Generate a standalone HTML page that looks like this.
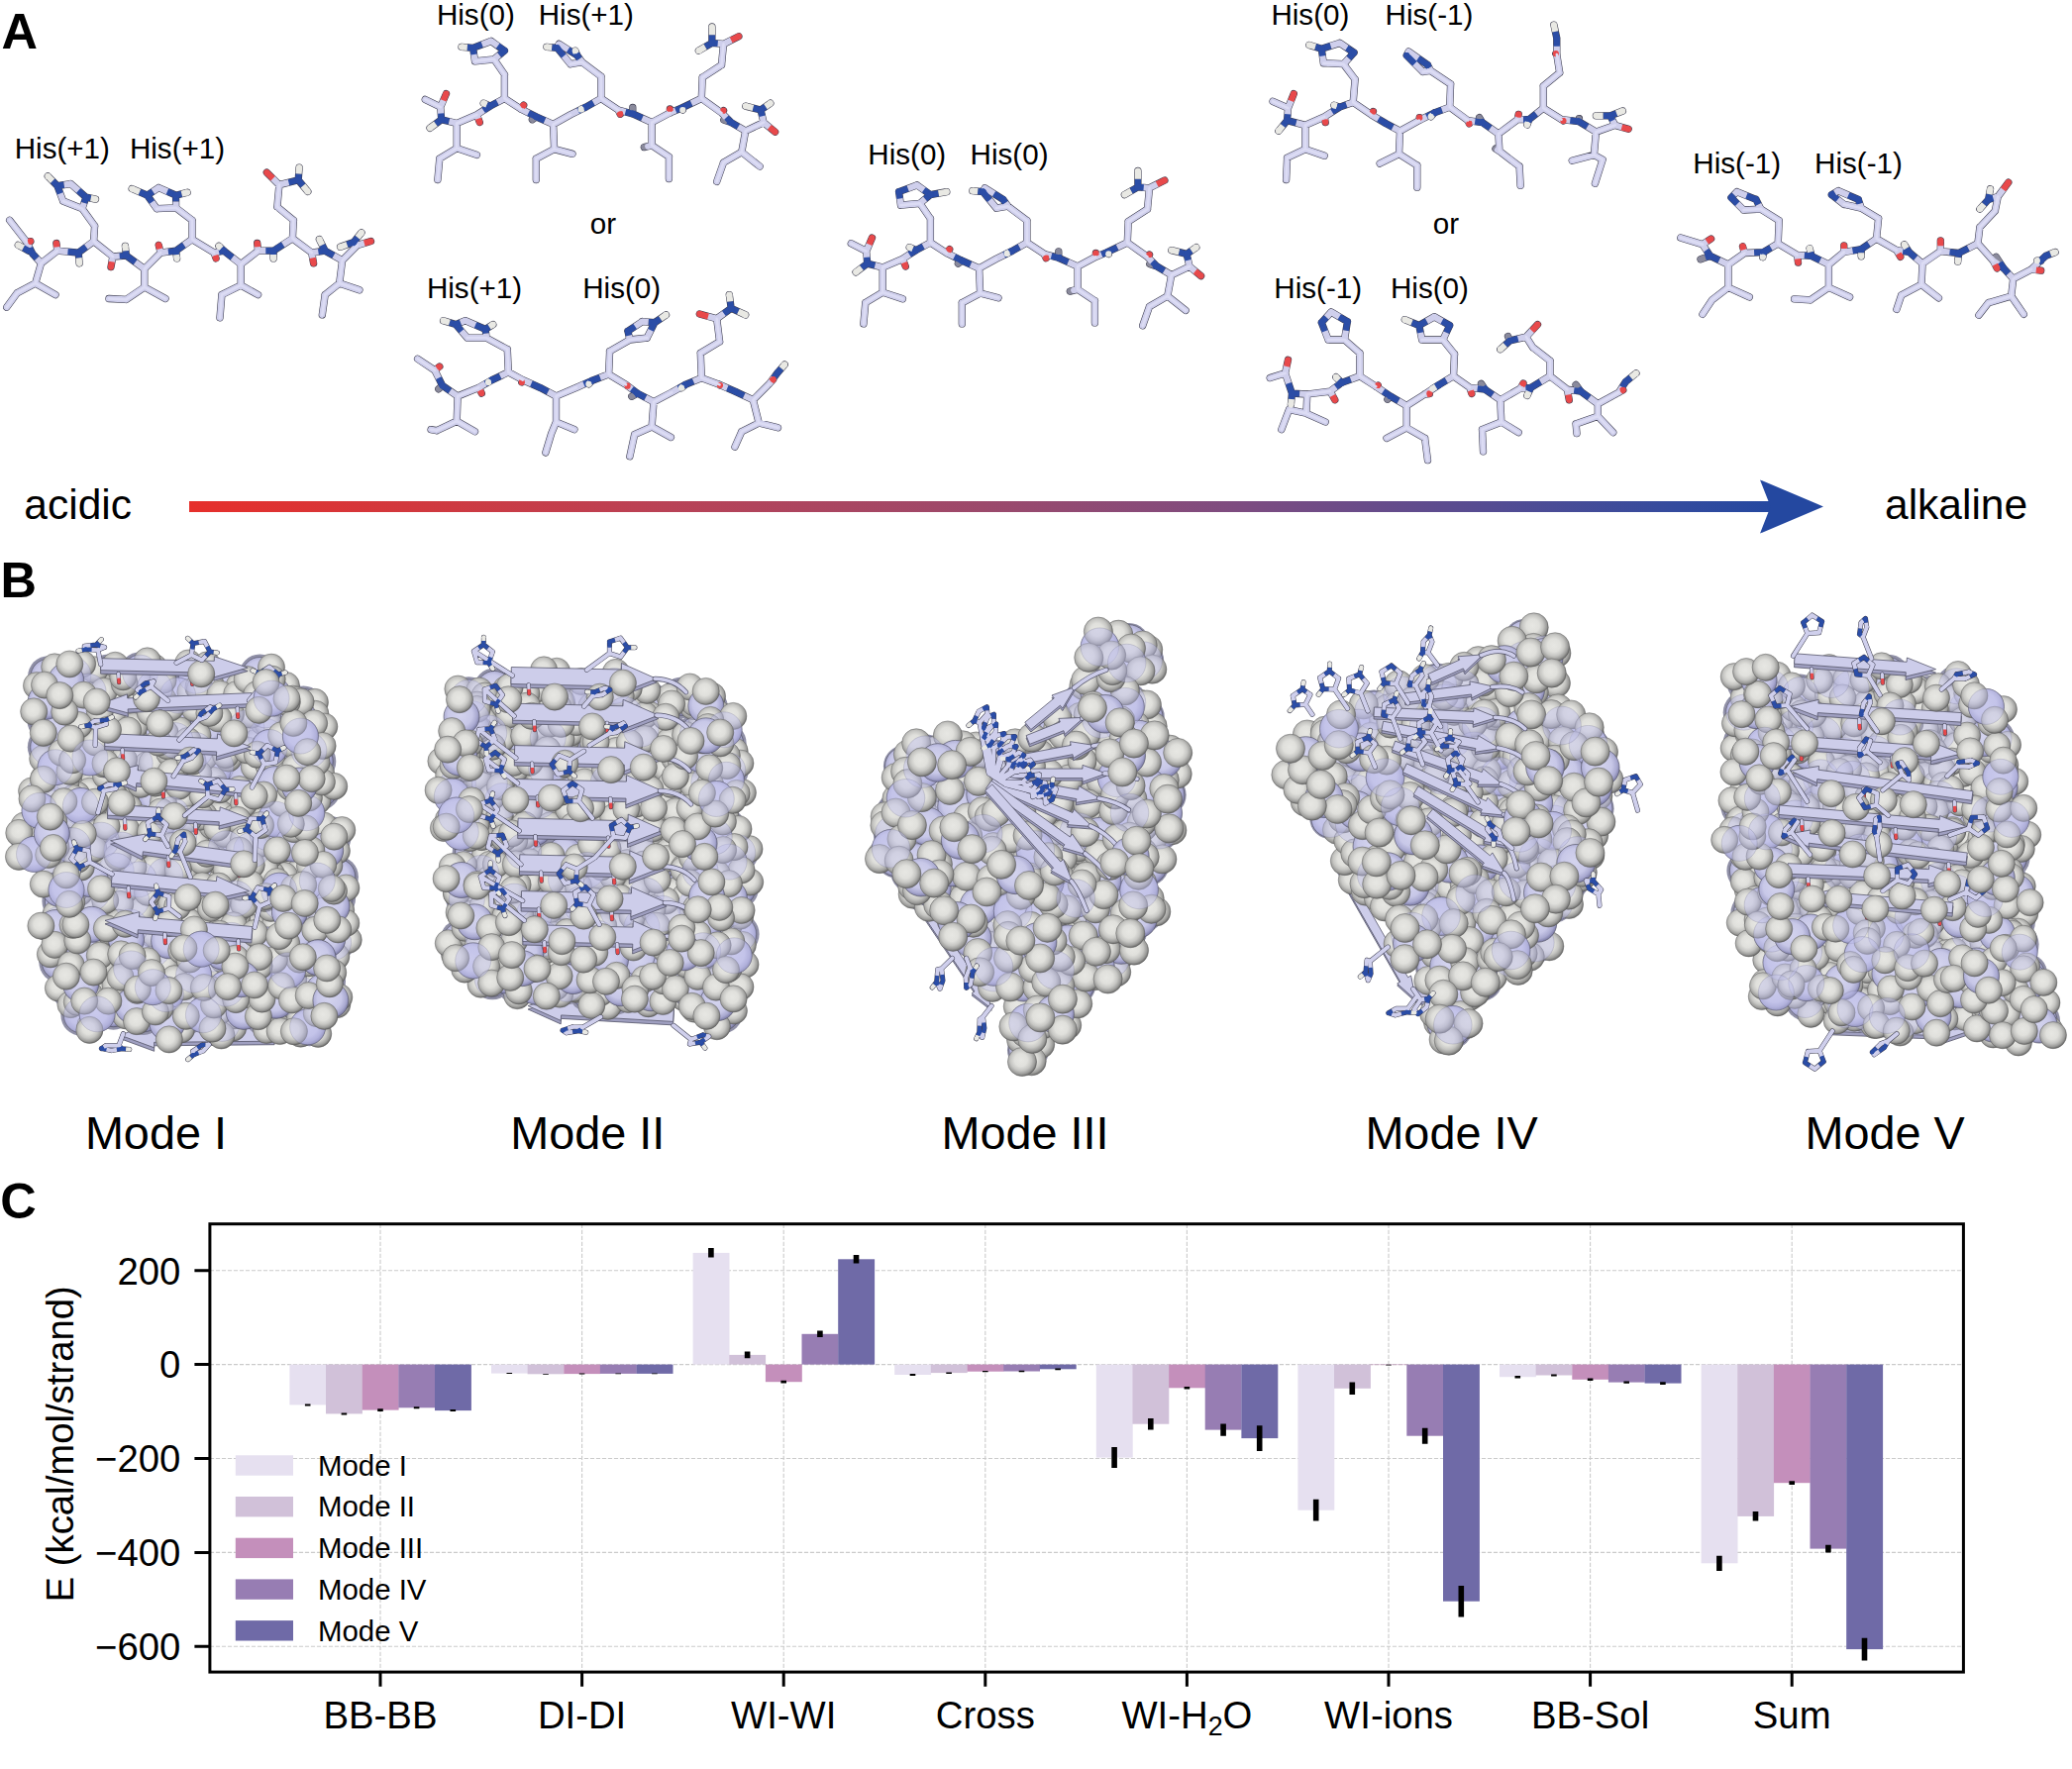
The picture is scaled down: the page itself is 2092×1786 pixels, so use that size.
<!DOCTYPE html>
<html><head><meta charset="utf-8"><title>Figure</title>
<style>html,body{margin:0;padding:0;background:#fff}svg{display:block}text{font-family:"Liberation Sans",Arial,Helvetica,sans-serif;fill:#000}.w circle{fill:url(#sg);stroke:#505050;stroke-opacity:.7;stroke-width:.6px}.u circle{fill:#bebeea;fill-opacity:.44;stroke:#5a5a7a;stroke-opacity:.35;stroke-width:.6px}.v circle{fill:url(#sl);stroke:#4a4a5a;stroke-width:.6px}.b{font-weight:bold;font-size:50.5px}.h{font-size:29.6px}.m{font-size:46.8px}.t{font-size:38.3px}.l{font-size:29.4px}.p{font-size:42.5px}</style></head><body>
<svg width="2092" height="1786" viewBox="0 0 2092 1786">
<defs><linearGradient id="ag" x1="0" x2="1" y1="0" y2="0"><stop offset="0" stop-color="#e62f2b"/><stop offset=".15" stop-color="#d0393f"/><stop offset=".3" stop-color="#b94256"/><stop offset=".5" stop-color="#9c496b"/><stop offset=".66" stop-color="#7e4c80"/><stop offset=".82" stop-color="#554c92"/><stop offset=".94" stop-color="#334b9e"/><stop offset="1" stop-color="#2448a0"/></linearGradient><radialGradient id="sg" cx="0.46" cy="0.44" r="0.56"><stop offset="0" stop-color="#e7e7e3"/><stop offset="0.4" stop-color="#e0e0dc"/><stop offset="0.65" stop-color="#c6c6c3"/><stop offset="0.86" stop-color="#9c9c9a"/><stop offset="1" stop-color="#6a6a69"/></radialGradient><radialGradient id="sl" cx="0.46" cy="0.44" r="0.56"><stop offset="0" stop-color="#d4d4ee"/><stop offset="0.6" stop-color="#c8c8e8"/><stop offset="0.85" stop-color="#a9a9d0"/><stop offset="1" stop-color="#7e7ea8"/></radialGradient></defs>
<rect width="2092" height="1786" fill="#fff"/>
<g id="panelA">
<g>
<path d="M9.7 222.3L27 244.5M27 244.5L32.8 256.1M32.8 256.1L41.5 265.8M41.5 265.8L57.9 253.2M57.9 253.2L79.2 255.1M79.2 255.1L94.6 243.6M94.6 243.6L113.9 259M113.9 259L127.4 258M127.4 258L145.8 271.5M145.8 271.5L162.2 255.1M162.2 255.1L177.6 253.2M177.6 253.2L194 241.6M194 241.6L216.2 255.1M216.2 255.1L225.9 253.2M225.9 253.2L243.2 266.7M243.2 266.7L260.6 253.2M260.6 253.2L276.1 253.2M276.1 253.2L295.4 240.7M295.4 240.7L314.7 255.1M314.7 255.1L328.2 253.2M328.2 253.2L345.6 262.9M345.6 262.9L361 247.4M361 247.4L374.5 243.6M27 244.5L30.9 243.6M29 253.2L18.3 247.4M41.5 265.8L35.7 286M35.7 286L56 297.6M35.7 286L17.4 295.7M17.4 295.7L6.8 310.2M57.9 253.2L56.9 245.5M79.2 255.1L80.1 265.8M94.6 243.6L95.6 228.1M95.6 228.1L83 210.7M83 210.7L63.7 203M63.7 203L57.9 187.6M57.9 187.6L71.4 185.6M71.4 185.6L86.9 199.2M86.9 199.2L83 210.7M57.9 187.6L48.3 177.9M86.9 199.2L96.5 201.1M113.9 259L112 269.6M127.4 258L126.4 248.4M145.8 271.5L145.8 289.9M145.8 289.9L167 301.5M145.8 289.9L127.4 302.4M127.4 302.4L110 301.5M162.2 255.1L160.2 247.4M177.6 253.2L178.6 260.9M194 241.6L194 222.3M194 222.3L177.6 209.8M177.6 209.8L158.3 210.7M158.3 210.7L148.6 197.2M148.6 197.2L160.2 189.5M160.2 189.5L177.6 197.2M177.6 197.2L177.6 209.8M148.6 197.2L133.2 190.5M177.6 197.2L189.2 194.3M216.2 255.1L218.1 260.9M225.9 253.2L221 248.4M243.2 266.7L243.2 288M243.2 288L260.6 297.6M243.2 288L223.9 297.6M223.9 297.6L222 320.8M260.6 253.2L259.7 245.5M276.1 253.2L276.1 260.9M295.4 240.7L296.3 222.3M296.3 222.3L279.9 208.8M279.9 208.8L281.9 186.6M281.9 186.6L269.3 174.1M281.9 186.6L301.2 181.8M301.2 181.8L302.1 169.2M301.2 181.8L310.8 193.4M314.7 255.1L316.6 265.8M328.2 253.2L322.4 241.6M345.6 262.9L342.7 286M342.7 286L362.9 292.8M342.7 286L328.2 297.6M328.2 297.6L325.3 317.9M361 247.4L357.1 244.5M357.1 244.5L343.6 249.3M357.1 244.5L364.9 234.9" fill="none" stroke="#3e3e50" stroke-width="7.3" stroke-linecap="round"/>
<path d="M9.7 222.3L27 244.5M27 244.5L29.9 250.3M41.5 265.8L57.9 253.2M57.9 253.2L68.5 254.2M94.6 243.6L113.9 259M113.9 259L120.7 258.5M145.8 271.5L162.2 255.1M162.2 255.1L169.9 254.2M194 241.6L216.2 255.1M216.2 255.1L221 254.2M243.2 266.7L260.6 253.2M260.6 253.2L268.3 253.2M295.4 240.7L314.7 255.1M314.7 255.1L321.4 254.2M345.6 262.9L361 247.4M361 247.4L367.8 245.5M27 244.5L29 244M41.5 265.8L35.7 286M35.7 286L56 297.6M35.7 286L17.4 295.7M17.4 295.7L6.8 310.2M57.9 253.2L57.4 249.3M94.6 243.6L95.6 228.1M95.6 228.1L83 210.7M83 210.7L63.7 203M63.7 203L60.8 195.3M71.4 185.6L79.2 192.4M113.9 259L112.9 264.3M145.8 271.5L145.8 289.9M145.8 289.9L167 301.5M145.8 289.9L127.4 302.4M127.4 302.4L110 301.5M162.2 255.1L161.2 251.3M194 241.6L194 222.3M194 222.3L177.6 209.8M177.6 209.8L158.3 210.7M158.3 210.7L153.5 204M160.2 189.5L168.9 193.4M216.2 255.1L217.2 258M243.2 266.7L243.2 288M243.2 288L260.6 297.6M243.2 288L223.9 297.6M223.9 297.6L222 320.8M260.6 253.2L260.1 249.3M295.4 240.7L296.3 222.3M296.3 222.3L279.9 208.8M279.9 208.8L281.9 186.6M281.9 186.6L275.6 180.3M281.9 186.6L291.5 184.2M314.7 255.1L315.6 260.4M345.6 262.9L342.7 286M342.7 286L362.9 292.8M342.7 286L328.2 297.6M328.2 297.6L325.3 317.9M361 247.4L359.1 246" fill="none" stroke="#cfcfec" stroke-width="6.2" stroke-linecap="round"/>
<path d="M32.8 256.1L37.2 260.9M79.2 255.1L86.9 249.3M127.4 258L136.6 264.8M177.6 253.2L185.8 247.4M225.9 253.2L234.6 260M276.1 253.2L285.7 246.9M328.2 253.2L336.9 258M29 253.2L23.6 250.3M79.2 255.1L79.6 260.4M57.9 187.6L64.7 186.6M86.9 199.2L84.9 204.9M57.9 187.6L53.1 182.7M86.9 199.2L91.7 200.1M127.4 258L126.9 253.2M177.6 253.2L178.1 257.1M148.6 197.2L154.4 193.4M177.6 197.2L177.6 203.5M148.6 197.2L140.9 193.8M177.6 197.2L183.4 195.8M225.9 253.2L223.5 250.8M276.1 253.2L276.1 257.1M301.2 181.8L301.6 175.5M301.2 181.8L306 187.6M328.2 253.2L325.3 247.4M357.1 244.5L350.4 246.9M357.1 244.5L361 239.7" fill="none" stroke="#2b4da6" stroke-width="6.2" stroke-linecap="butt"/>
<path d="M29.9 250.3L32.8 256.1M68.5 254.2L79.2 255.1M120.7 258.5L127.4 258M169.9 254.2L177.6 253.2M221 254.2L225.9 253.2M268.3 253.2L276.1 253.2M321.4 254.2L328.2 253.2M60.8 195.3L57.9 187.6M79.2 192.4L86.9 199.2M153.5 204L148.6 197.2M168.9 193.4L177.6 197.2M291.5 184.2L301.2 181.8M359.1 246L357.1 244.5" fill="none" stroke="#2b4da6" stroke-width="6.2" stroke-linecap="butt"/>
<path d="M367.8 245.5L374.5 243.6M29 244L30.9 243.6M57.4 249.3L56.9 245.5M112.9 264.3L112 269.6M161.2 251.3L160.2 247.4M217.2 258L218.1 260.9M260.1 249.3L259.7 245.5M275.6 180.3L269.3 174.1M315.6 260.4L316.6 265.8" fill="none" stroke="#e8494b" stroke-width="6.2" stroke-linecap="butt"/>
<path d="M23.6 250.3L18.3 247.4M79.6 260.4L80.1 265.8M53.1 182.7L48.3 177.9M91.7 200.1L96.5 201.1M126.9 253.2L126.4 248.4M178.1 257.1L178.6 260.9M140.9 193.8L133.2 190.5M183.4 195.8L189.2 194.3M223.5 250.8L221 248.4M276.1 257.1L276.1 260.9M301.6 175.5L302.1 169.2M306 187.6L310.8 193.4M325.3 247.4L322.4 241.6M350.4 246.9L343.6 249.3M361 239.7L364.9 234.9" fill="none" stroke="#e9e9e4" stroke-width="6.2" stroke-linecap="butt"/>
<path d="M37.2 260.9L41.5 265.8M86.9 249.3L94.6 243.6M136.6 264.8L145.8 271.5M185.8 247.4L194 241.6M234.6 260L243.2 266.7M285.7 246.9L295.4 240.7M336.9 258L345.6 262.9M64.7 186.6L71.4 185.6M84.9 204.9L83 210.7M154.4 193.4L160.2 189.5M177.6 203.5L177.6 209.8" fill="none" stroke="#cfcfec" stroke-width="6.2" stroke-linecap="butt"/>
<g fill="#2b4da6"><circle cx="32.8" cy="256.1" r="3.1"/><circle cx="32.8" cy="256.1" r="3.1"/><circle cx="79.2" cy="255.1" r="3.1"/><circle cx="79.2" cy="255.1" r="3.1"/><circle cx="127.4" cy="258" r="3.1"/><circle cx="127.4" cy="258" r="3.1"/><circle cx="177.6" cy="253.2" r="3.1"/><circle cx="177.6" cy="253.2" r="3.1"/><circle cx="225.9" cy="253.2" r="3.1"/><circle cx="225.9" cy="253.2" r="3.1"/><circle cx="276.1" cy="253.2" r="3.1"/><circle cx="276.1" cy="253.2" r="3.1"/><circle cx="328.2" cy="253.2" r="3.1"/><circle cx="328.2" cy="253.2" r="3.1"/><circle cx="29" cy="253.2" r="3.1"/><circle cx="79.2" cy="255.1" r="3.1"/><circle cx="57.9" cy="187.6" r="3.1"/><circle cx="57.9" cy="187.6" r="3.1"/><circle cx="86.9" cy="199.2" r="3.1"/><circle cx="86.9" cy="199.2" r="3.1"/><circle cx="57.9" cy="187.6" r="3.1"/><circle cx="86.9" cy="199.2" r="3.1"/><circle cx="127.4" cy="258" r="3.1"/><circle cx="177.6" cy="253.2" r="3.1"/><circle cx="148.6" cy="197.2" r="3.1"/><circle cx="148.6" cy="197.2" r="3.1"/><circle cx="177.6" cy="197.2" r="3.1"/><circle cx="177.6" cy="197.2" r="3.1"/><circle cx="148.6" cy="197.2" r="3.1"/><circle cx="177.6" cy="197.2" r="3.1"/><circle cx="225.9" cy="253.2" r="3.1"/><circle cx="276.1" cy="253.2" r="3.1"/><circle cx="301.2" cy="181.8" r="3.1"/><circle cx="301.2" cy="181.8" r="3.1"/><circle cx="301.2" cy="181.8" r="3.1"/><circle cx="328.2" cy="253.2" r="3.1"/><circle cx="357.1" cy="244.5" r="3.1"/><circle cx="357.1" cy="244.5" r="3.1"/><circle cx="357.1" cy="244.5" r="3.1"/></g>
<g fill="#e8494b"><circle cx="374.5" cy="243.6" r="3.1"/><circle cx="30.9" cy="243.6" r="3.1"/><circle cx="56.9" cy="245.5" r="3.1"/><circle cx="112" cy="269.6" r="3.1"/><circle cx="160.2" cy="247.4" r="3.1"/><circle cx="218.1" cy="260.9" r="3.1"/><circle cx="259.7" cy="245.5" r="3.1"/><circle cx="269.3" cy="174.1" r="3.1"/><circle cx="316.6" cy="265.8" r="3.1"/></g>
<g fill="#e9e9e4"><circle cx="18.3" cy="247.4" r="3.1"/><circle cx="80.1" cy="265.8" r="3.1"/><circle cx="48.3" cy="177.9" r="3.1"/><circle cx="96.5" cy="201.1" r="3.1"/><circle cx="126.4" cy="248.4" r="3.1"/><circle cx="178.6" cy="260.9" r="3.1"/><circle cx="133.2" cy="190.5" r="3.1"/><circle cx="189.2" cy="194.3" r="3.1"/><circle cx="221" cy="248.4" r="3.1"/><circle cx="276.1" cy="260.9" r="3.1"/><circle cx="302.1" cy="169.2" r="3.1"/><circle cx="310.8" cy="193.4" r="3.1"/><circle cx="322.4" cy="241.6" r="3.1"/><circle cx="343.6" cy="249.3" r="3.1"/><circle cx="364.9" cy="234.9" r="3.1"/></g>
<path d="M9.7 222.3L27 244.5M41.5 265.8L57.9 253.2M94.6 243.6L113.9 259M145.8 271.5L162.2 255.1M194 241.6L216.2 255.1M243.2 266.7L260.6 253.2M295.4 240.7L314.7 255.1M345.6 262.9L361 247.4M41.5 265.8L35.7 286M35.7 286L56 297.6M35.7 286L17.4 295.7M17.4 295.7L6.8 310.2M94.6 243.6L95.6 228.1M95.6 228.1L83 210.7M83 210.7L63.7 203M145.8 271.5L145.8 289.9M145.8 289.9L167 301.5M145.8 289.9L127.4 302.4M127.4 302.4L110 301.5M194 241.6L194 222.3M194 222.3L177.6 209.8M177.6 209.8L158.3 210.7M243.2 266.7L243.2 288M243.2 288L260.6 297.6M243.2 288L223.9 297.6M223.9 297.6L222 320.8M295.4 240.7L296.3 222.3M296.3 222.3L279.9 208.8M279.9 208.8L281.9 186.6M345.6 262.9L342.7 286M342.7 286L362.9 292.8M342.7 286L328.2 297.6M328.2 297.6L325.3 317.9" fill="none" stroke="#dcdcf4" stroke-width="2.5" stroke-linecap="round"/>
</g>
<g>
<path d="M429.3 100.4L444.7 108.1M444.7 108.1L445.7 120.7M445.7 120.7L461.2 124.5M461.2 124.5L481.4 115.8M481.4 115.8L494.9 107.1M494.9 107.1L509.4 99.4M509.4 99.4L525.8 110M525.8 110L541.3 117.8M541.3 117.8L558.6 125.5M558.6 125.5L576 115.8M576 115.8L591.5 108.1M591.5 108.1L606.9 99.4M606.9 99.4L624.3 111M624.3 111L638.8 114.9M638.8 114.9L658.1 123.6M658.1 123.6L676.4 113.9M676.4 113.9L688 109.1M688 109.1L708.3 99.4M708.3 99.4L728.5 113.9M728.5 113.9L738.2 123.6M738.2 123.6L752.7 132.2M752.7 132.2L771 123.6M771 123.6L782.6 133.2M444.7 108.1L450.5 94.6M445.7 120.7L434.1 129.3M461.2 124.5L461.2 149.6M461.2 149.6L481.4 156.4M461.2 149.6L443.8 160.2M443.8 160.2L441.9 181.5M481.4 115.8L484.3 123.6M494.9 107.1L488.2 104.2M509.4 99.4L509.4 75.3M509.4 75.3L498.8 59.8M498.8 59.8L479.5 61.8M479.5 61.8L477.6 48.3M477.6 48.3L495.9 41.5M495.9 41.5L509.4 51.2M509.4 51.2L498.8 59.8M525.8 110L528.7 106.2M541.3 117.8L537.4 120.7M558.6 125.5L559.6 150.6M559.6 150.6L578 155.4M559.6 150.6L541.3 160.2M541.3 160.2L541.3 181.5M591.5 108.1L586.6 110.4M606.9 99.4L606.9 77.2M606.9 77.2L587.6 62.7M587.6 62.7L576 64.7M576 64.7L562.5 48.3M562.5 48.3L564.4 44.4M564.4 44.4L582.8 56M582.8 56L587.6 62.7M624.3 111L626.2 115.3M638.8 114.9L638.8 108.5M658.1 123.6L658.1 146.7M658.1 146.7L675.4 158.3M675.4 158.3L675.4 180.5M658.1 146.7L650.3 148.6M676.4 113.9L676.4 110M688 109.1L689.3 111M708.3 99.4L709.2 78.2M709.2 78.2L728.5 65.6M728.5 65.6L730.5 44.4M730.5 44.4L745.9 36.7M730.5 44.4L718.9 43.4M718.9 43.4L718.9 27M718.9 43.4L705.4 51.2M728.5 113.9L730.5 111.6M738.2 123.6L730.8 121M752.7 132.2L748.8 153.5M748.8 153.5L767.1 168M748.8 153.5L730.5 164.1M730.5 164.1L723.7 183.4M771 123.6L768.1 111M768.1 111L752.7 107.1M768.1 111L777.8 104.2M477.6 48.3L466 47.3M562.5 48.3L551.9 47.3M582.8 56L580.8 51.2" fill="none" stroke="#3e3e50" stroke-width="7.3" stroke-linecap="round"/>
<path d="M539.3 119.2L537.4 120.7M638.8 111.7L638.8 108.5M654.2 147.7L650.3 148.6M734.5 122.3L730.8 121" fill="none" stroke="#8a8a9c" stroke-width="6.2" stroke-linecap="round"/>
<path d="M429.3 100.4L444.7 108.1M444.7 108.1L445.2 114.4M461.2 124.5L481.4 115.8M481.4 115.8L488.2 111.5M509.4 99.4L525.8 110M525.8 110L533.6 113.9M558.6 125.5L576 115.8M576 115.8L583.7 112M606.9 99.4L624.3 111M624.3 111L631.5 112.9M658.1 123.6L676.4 113.9M676.4 113.9L682.2 111.5M708.3 99.4L728.5 113.9M728.5 113.9L733.4 118.7M752.7 132.2L771 123.6M771 123.6L776.8 128.4M444.7 108.1L447.6 101.4M461.2 124.5L461.2 149.6M461.2 149.6L481.4 156.4M461.2 149.6L443.8 160.2M443.8 160.2L441.9 181.5M481.4 115.8L482.9 119.7M509.4 99.4L509.4 75.3M509.4 75.3L498.8 59.8M498.8 59.8L479.5 61.8M479.5 61.8L478.5 55M495.9 41.5L502.7 46.3M525.8 110L527.3 108.1M558.6 125.5L559.6 150.6M559.6 150.6L578 155.4M559.6 150.6L541.3 160.2M541.3 160.2L541.3 181.5M606.9 99.4L606.9 77.2M606.9 77.2L587.6 62.7M587.6 62.7L576 64.7M576 64.7L569.3 56.5M564.4 44.4L573.6 50.2M624.3 111L625.3 113.1M658.1 123.6L658.1 146.7M658.1 146.7L675.4 158.3M675.4 158.3L675.4 180.5M658.1 146.7L654.2 147.7M676.4 113.9L676.4 112M708.3 99.4L709.2 78.2M709.2 78.2L728.5 65.6M728.5 65.6L730.5 44.4M730.5 44.4L738.2 40.5M730.5 44.4L724.7 43.9M728.5 113.9L729.5 112.7M752.7 132.2L748.8 153.5M748.8 153.5L767.1 168M748.8 153.5L730.5 164.1M730.5 164.1L723.7 183.4M771 123.6L769.6 117.3" fill="none" stroke="#cfcfec" stroke-width="6.2" stroke-linecap="round"/>
<path d="M445.7 120.7L453.4 122.6M494.9 107.1L502.2 103.3M541.3 117.8L550 121.6M591.5 108.1L599.2 103.8M638.8 114.9L648.4 119.2M688 109.1L698.1 104.2M738.2 123.6L745.4 127.9M445.7 120.7L439.9 125M494.9 107.1L491.6 105.7M477.6 48.3L486.7 44.9M509.4 51.2L504.1 55.5M541.3 117.8L539.3 119.2M591.5 108.1L589.1 109.3M562.5 48.3L563.5 46.3M582.8 56L585.2 59.4M638.8 114.9L638.8 111.7M688 109.1L688.7 110M718.9 43.4L718.9 35.2M718.9 43.4L712.1 47.3M738.2 123.6L734.5 122.3M768.1 111L760.4 109.1M768.1 111L772.9 107.6M477.6 48.3L471.8 47.8M562.5 48.3L557.2 47.8M582.8 56L581.8 53.6" fill="none" stroke="#2b4da6" stroke-width="6.2" stroke-linecap="butt"/>
<path d="M445.2 114.4L445.7 120.7M488.2 111.5L494.9 107.1M533.6 113.9L541.3 117.8M583.7 112L591.5 108.1M631.5 112.9L638.8 114.9M682.2 111.5L688 109.1M733.4 118.7L738.2 123.6M478.5 55L477.6 48.3M502.7 46.3L509.4 51.2M569.3 56.5L562.5 48.3M573.6 50.2L582.8 56M724.7 43.9L718.9 43.4M769.6 117.3L768.1 111" fill="none" stroke="#2b4da6" stroke-width="6.2" stroke-linecap="butt"/>
<path d="M776.8 128.4L782.6 133.2M447.6 101.4L450.5 94.6M482.9 119.7L484.3 123.6M527.3 108.1L528.7 106.2M625.3 113.1L626.2 115.3M676.4 112L676.4 110M738.2 40.5L745.9 36.7M729.5 112.7L730.5 111.6" fill="none" stroke="#e8494b" stroke-width="6.2" stroke-linecap="butt"/>
<path d="M439.9 125L434.1 129.3M491.6 105.7L488.2 104.2M589.1 109.3L586.6 110.4M688.7 110L689.3 111M718.9 35.2L718.9 27M712.1 47.3L705.4 51.2M760.4 109.1L752.7 107.1M772.9 107.6L777.8 104.2M471.8 47.8L466 47.3M557.2 47.8L551.9 47.3M581.8 53.6L580.8 51.2" fill="none" stroke="#e9e9e4" stroke-width="6.2" stroke-linecap="butt"/>
<path d="M453.4 122.6L461.2 124.5M502.2 103.3L509.4 99.4M550 121.6L558.6 125.5M599.2 103.8L606.9 99.4M648.4 119.2L658.1 123.6M698.1 104.2L708.3 99.4M745.4 127.9L752.7 132.2M486.7 44.9L495.9 41.5M504.1 55.5L498.8 59.8M563.5 46.3L564.4 44.4M585.2 59.4L587.6 62.7" fill="none" stroke="#cfcfec" stroke-width="6.2" stroke-linecap="butt"/>
<g fill="#2b4da6"><circle cx="445.7" cy="120.7" r="3.1"/><circle cx="445.7" cy="120.7" r="3.1"/><circle cx="494.9" cy="107.1" r="3.1"/><circle cx="494.9" cy="107.1" r="3.1"/><circle cx="541.3" cy="117.8" r="3.1"/><circle cx="541.3" cy="117.8" r="3.1"/><circle cx="591.5" cy="108.1" r="3.1"/><circle cx="591.5" cy="108.1" r="3.1"/><circle cx="638.8" cy="114.9" r="3.1"/><circle cx="638.8" cy="114.9" r="3.1"/><circle cx="688" cy="109.1" r="3.1"/><circle cx="688" cy="109.1" r="3.1"/><circle cx="738.2" cy="123.6" r="3.1"/><circle cx="738.2" cy="123.6" r="3.1"/><circle cx="445.7" cy="120.7" r="3.1"/><circle cx="494.9" cy="107.1" r="3.1"/><circle cx="477.6" cy="48.3" r="3.1"/><circle cx="477.6" cy="48.3" r="3.1"/><circle cx="509.4" cy="51.2" r="3.1"/><circle cx="509.4" cy="51.2" r="3.1"/><circle cx="541.3" cy="117.8" r="3.1"/><circle cx="591.5" cy="108.1" r="3.1"/><circle cx="562.5" cy="48.3" r="3.1"/><circle cx="562.5" cy="48.3" r="3.1"/><circle cx="582.8" cy="56" r="3.1"/><circle cx="582.8" cy="56" r="3.1"/><circle cx="638.8" cy="114.9" r="3.1"/><circle cx="688" cy="109.1" r="3.1"/><circle cx="718.9" cy="43.4" r="3.1"/><circle cx="718.9" cy="43.4" r="3.1"/><circle cx="718.9" cy="43.4" r="3.1"/><circle cx="738.2" cy="123.6" r="3.1"/><circle cx="768.1" cy="111" r="3.1"/><circle cx="768.1" cy="111" r="3.1"/><circle cx="768.1" cy="111" r="3.1"/><circle cx="477.6" cy="48.3" r="3.1"/><circle cx="562.5" cy="48.3" r="3.1"/><circle cx="582.8" cy="56" r="3.1"/></g>
<g fill="#e8494b"><circle cx="782.6" cy="133.2" r="3.1"/><circle cx="450.5" cy="94.6" r="3.1"/><circle cx="484.3" cy="123.6" r="3.1"/><circle cx="528.7" cy="106.2" r="3.1"/><circle cx="626.2" cy="115.3" r="3.1"/><circle cx="676.4" cy="110" r="3.1"/><circle cx="745.9" cy="36.7" r="3.1"/><circle cx="730.5" cy="111.6" r="3.1"/></g>
<g fill="#e9e9e4"><circle cx="434.1" cy="129.3" r="3.1"/><circle cx="488.2" cy="104.2" r="3.1"/><circle cx="586.6" cy="110.4" r="3.1"/><circle cx="689.3" cy="111" r="3.1"/><circle cx="718.9" cy="27" r="3.1"/><circle cx="705.4" cy="51.2" r="3.1"/><circle cx="752.7" cy="107.1" r="3.1"/><circle cx="777.8" cy="104.2" r="3.1"/><circle cx="466" cy="47.3" r="3.1"/><circle cx="551.9" cy="47.3" r="3.1"/><circle cx="580.8" cy="51.2" r="3.1"/></g>
<path d="M429.3 100.4L444.7 108.1M461.2 124.5L481.4 115.8M509.4 99.4L525.8 110M558.6 125.5L576 115.8M606.9 99.4L624.3 111M658.1 123.6L676.4 113.9M708.3 99.4L728.5 113.9M752.7 132.2L771 123.6M461.2 124.5L461.2 149.6M461.2 149.6L481.4 156.4M461.2 149.6L443.8 160.2M443.8 160.2L441.9 181.5M509.4 99.4L509.4 75.3M509.4 75.3L498.8 59.8M498.8 59.8L479.5 61.8M558.6 125.5L559.6 150.6M559.6 150.6L578 155.4M559.6 150.6L541.3 160.2M541.3 160.2L541.3 181.5M606.9 99.4L606.9 77.2M606.9 77.2L587.6 62.7M587.6 62.7L576 64.7M658.1 123.6L658.1 146.7M658.1 146.7L675.4 158.3M675.4 158.3L675.4 180.5M708.3 99.4L709.2 78.2M709.2 78.2L728.5 65.6M728.5 65.6L730.5 44.4M752.7 132.2L748.8 153.5M748.8 153.5L767.1 168M748.8 153.5L730.5 164.1M730.5 164.1L723.7 183.4" fill="none" stroke="#dcdcf4" stroke-width="2.5" stroke-linecap="round"/>
</g>
<g>
<path d="M421.6 362.3L439 373.9M439 373.9L446.7 389.3M446.7 389.3L462.1 400M462.1 400L483.4 391.3M483.4 391.3L496.9 383.6M496.9 383.6L513.3 375.8M513.3 375.8L527.8 383.6M527.8 383.6L545.1 391.3M545.1 391.3L561.5 400M561.5 400L581.8 391.3M581.8 391.3L597.3 384.5M597.3 384.5L614.6 377.8M614.6 377.8L632 388.4M632 388.4L643.6 397.1M643.6 397.1L660 405.8M660 405.8L678.3 396.1M678.3 396.1L691.9 388.4M691.9 388.4L708.3 381.6M708.3 381.6L726.6 388.4M726.6 388.4L742 395.1M742 395.1L760.4 403.8M760.4 403.8L776.8 387.4M776.8 387.4L785.5 375.8M785.5 375.8L792.2 368.1M439 373.9L443.8 370M446.7 389.3L442.8 392.8M462.1 400L461.2 425.1M461.2 425.1L479.5 435.7M461.2 425.1L440.9 434.7M440.9 434.7L435.1 433.7M483.4 391.3L486.3 397.1M496.9 383.6L493 385.9M513.3 375.8L512.3 352.7M512.3 352.7L491.1 341.1M491.1 341.1L471.8 341.1M471.8 341.1L460.2 327.6M460.2 327.6L469.8 323.7M469.8 323.7L490.1 332.4M490.1 332.4L491.1 341.1M460.2 327.6L447.6 323.7M490.1 332.4L497.8 327.6M527.8 383.6L526.8 385.9M561.5 400L561.5 426M561.5 426L579.9 433.7M561.5 426L556.7 437.6M556.7 437.6L550.9 456.9M597.3 384.5L594.4 387.8M614.6 377.8L615.6 354.6M615.6 354.6L635.9 343M635.9 343L653.2 341.1M653.2 341.1L661 325.6M661 325.6L648.4 324.7M648.4 324.7L633.9 334.3M633.9 334.3L635.9 343M661 325.6L672.5 317.9M632 388.4L633.6 389.7M643.6 397.1L637.8 400.3M660 405.8L658.1 430.8M658.1 430.8L677.4 441.5M658.1 430.8L640.7 438.6M640.7 438.6L635.9 460.8M691.9 388.4L688 391.7M708.3 381.6L707.3 356.5M707.3 356.5L726.6 344.9M726.6 344.9L723.7 321.8M723.7 321.8L706.3 316.9M723.7 321.8L738.2 311.2M738.2 311.2L736.3 297.6M738.2 311.2L752.7 317.9M726.6 388.4L727 389M760.4 403.8L766.2 427M766.2 427L785.5 431.8M766.2 427L748.8 435.7M748.8 435.7L742 451.1M776.8 387.4L780.7 383" fill="none" stroke="#3e3e50" stroke-width="7.3" stroke-linecap="round"/>
<path d="M444.7 391.1L442.8 392.8M640.7 398.7L637.8 400.3" fill="none" stroke="#8a8a9c" stroke-width="6.2" stroke-linecap="round"/>
<path d="M421.6 362.3L439 373.9M439 373.9L442.8 381.6M462.1 400L483.4 391.3M483.4 391.3L490.1 387.4M513.3 375.8L527.8 383.6M527.8 383.6L536.4 387.4M561.5 400L581.8 391.3M581.8 391.3L589.5 387.9M614.6 377.8L632 388.4M632 388.4L637.8 392.7M660 405.8L678.3 396.1M678.3 396.1L685.1 392.2M708.3 381.6L726.6 388.4M726.6 388.4L734.3 391.8M760.4 403.8L776.8 387.4M776.8 387.4L781.1 381.6M439 373.9L441.4 372M462.1 400L461.2 425.1M461.2 425.1L479.5 435.7M461.2 425.1L440.9 434.7M440.9 434.7L435.1 433.7M483.4 391.3L484.8 394.2M513.3 375.8L512.3 352.7M512.3 352.7L491.1 341.1M491.1 341.1L471.8 341.1M471.8 341.1L466 334.3M469.8 323.7L480 328.1M527.8 383.6L527.3 384.7M561.5 400L561.5 426M561.5 426L579.9 433.7M561.5 426L556.7 437.6M556.7 437.6L550.9 456.9M614.6 377.8L615.6 354.6M615.6 354.6L635.9 343M635.9 343L653.2 341.1M653.2 341.1L657.1 333.4M648.4 324.7L641.2 329.5M632 388.4L632.8 389.1M660 405.8L658.1 430.8M658.1 430.8L677.4 441.5M658.1 430.8L640.7 438.6M640.7 438.6L635.9 460.8M708.3 381.6L707.3 356.5M707.3 356.5L726.6 344.9M726.6 344.9L723.7 321.8M723.7 321.8L715 319.4M723.7 321.8L730.9 316.5M726.6 388.4L726.8 388.7M760.4 403.8L766.2 427M766.2 427L785.5 431.8M766.2 427L748.8 435.7M748.8 435.7L742 451.1M776.8 387.4L778.7 385.2" fill="none" stroke="#cfcfec" stroke-width="6.2" stroke-linecap="round"/>
<path d="M446.7 389.3L454.4 394.7M496.9 383.6L505.1 379.7M545.1 391.3L553.3 395.6M597.3 384.5L605.9 381.1M643.6 397.1L651.8 401.4M691.9 388.4L700.1 385M742 395.1L751.2 399.5M785.5 375.8L788.9 372M446.7 389.3L444.7 391.1M496.9 383.6L494.9 384.7M460.2 327.6L465 325.6M490.1 332.4L490.6 336.7M460.2 327.6L453.9 325.6M490.1 332.4L494 330M597.3 384.5L595.8 386.2M661 325.6L654.7 325.2M633.9 334.3L634.9 338.7M661 325.6L666.8 321.8M643.6 397.1L640.7 398.7M691.9 388.4L689.9 390M738.2 311.2L737.2 304.4M738.2 311.2L745.4 314.5" fill="none" stroke="#2b4da6" stroke-width="6.2" stroke-linecap="butt"/>
<path d="M442.8 381.6L446.7 389.3M490.1 387.4L496.9 383.6M536.4 387.4L545.1 391.3M589.5 387.9L597.3 384.5M637.8 392.7L643.6 397.1M685.1 392.2L691.9 388.4M734.3 391.8L742 395.1M781.1 381.6L785.5 375.8M466 334.3L460.2 327.6M480 328.1L490.1 332.4M657.1 333.4L661 325.6M641.2 329.5L633.9 334.3M730.9 316.5L738.2 311.2" fill="none" stroke="#2b4da6" stroke-width="6.2" stroke-linecap="butt"/>
<path d="M441.4 372L443.8 370M484.8 394.2L486.3 397.1M527.3 384.7L526.8 385.9M632.8 389.1L633.6 389.7M715 319.4L706.3 316.9M726.8 388.7L727 389M778.7 385.2L780.7 383" fill="none" stroke="#e8494b" stroke-width="6.2" stroke-linecap="butt"/>
<path d="M788.9 372L792.2 368.1M494.9 384.7L493 385.9M453.9 325.6L447.6 323.7M494 330L497.8 327.6M595.8 386.2L594.4 387.8M666.8 321.8L672.5 317.9M689.9 390L688 391.7M737.2 304.4L736.3 297.6M745.4 314.5L752.7 317.9" fill="none" stroke="#e9e9e4" stroke-width="6.2" stroke-linecap="butt"/>
<path d="M454.4 394.7L462.1 400M505.1 379.7L513.3 375.8M553.3 395.6L561.5 400M605.9 381.1L614.6 377.8M651.8 401.4L660 405.8M700.1 385L708.3 381.6M751.2 399.5L760.4 403.8M465 325.6L469.8 323.7M490.6 336.7L491.1 341.1M654.7 325.2L648.4 324.7M634.9 338.7L635.9 343" fill="none" stroke="#cfcfec" stroke-width="6.2" stroke-linecap="butt"/>
<g fill="#2b4da6"><circle cx="446.7" cy="389.3" r="3.1"/><circle cx="446.7" cy="389.3" r="3.1"/><circle cx="496.9" cy="383.6" r="3.1"/><circle cx="496.9" cy="383.6" r="3.1"/><circle cx="545.1" cy="391.3" r="3.1"/><circle cx="545.1" cy="391.3" r="3.1"/><circle cx="597.3" cy="384.5" r="3.1"/><circle cx="597.3" cy="384.5" r="3.1"/><circle cx="643.6" cy="397.1" r="3.1"/><circle cx="643.6" cy="397.1" r="3.1"/><circle cx="691.9" cy="388.4" r="3.1"/><circle cx="691.9" cy="388.4" r="3.1"/><circle cx="742" cy="395.1" r="3.1"/><circle cx="742" cy="395.1" r="3.1"/><circle cx="785.5" cy="375.8" r="3.1"/><circle cx="785.5" cy="375.8" r="3.1"/><circle cx="446.7" cy="389.3" r="3.1"/><circle cx="496.9" cy="383.6" r="3.1"/><circle cx="460.2" cy="327.6" r="3.1"/><circle cx="460.2" cy="327.6" r="3.1"/><circle cx="490.1" cy="332.4" r="3.1"/><circle cx="490.1" cy="332.4" r="3.1"/><circle cx="460.2" cy="327.6" r="3.1"/><circle cx="490.1" cy="332.4" r="3.1"/><circle cx="597.3" cy="384.5" r="3.1"/><circle cx="661" cy="325.6" r="3.1"/><circle cx="661" cy="325.6" r="3.1"/><circle cx="633.9" cy="334.3" r="3.1"/><circle cx="633.9" cy="334.3" r="3.1"/><circle cx="661" cy="325.6" r="3.1"/><circle cx="643.6" cy="397.1" r="3.1"/><circle cx="691.9" cy="388.4" r="3.1"/><circle cx="738.2" cy="311.2" r="3.1"/><circle cx="738.2" cy="311.2" r="3.1"/><circle cx="738.2" cy="311.2" r="3.1"/></g>
<g fill="#e8494b"><circle cx="443.8" cy="370" r="3.1"/><circle cx="486.3" cy="397.1" r="3.1"/><circle cx="526.8" cy="385.9" r="3.1"/><circle cx="633.6" cy="389.7" r="3.1"/><circle cx="706.3" cy="316.9" r="3.1"/><circle cx="727" cy="389" r="3.1"/><circle cx="780.7" cy="383" r="3.1"/></g>
<g fill="#e9e9e4"><circle cx="792.2" cy="368.1" r="3.1"/><circle cx="493" cy="385.9" r="3.1"/><circle cx="447.6" cy="323.7" r="3.1"/><circle cx="497.8" cy="327.6" r="3.1"/><circle cx="594.4" cy="387.8" r="3.1"/><circle cx="672.5" cy="317.9" r="3.1"/><circle cx="688" cy="391.7" r="3.1"/><circle cx="736.3" cy="297.6" r="3.1"/><circle cx="752.7" cy="317.9" r="3.1"/></g>
<path d="M421.6 362.3L439 373.9M462.1 400L483.4 391.3M513.3 375.8L527.8 383.6M561.5 400L581.8 391.3M614.6 377.8L632 388.4M660 405.8L678.3 396.1M708.3 381.6L726.6 388.4M760.4 403.8L776.8 387.4M462.1 400L461.2 425.1M461.2 425.1L479.5 435.7M461.2 425.1L440.9 434.7M440.9 434.7L435.1 433.7M513.3 375.8L512.3 352.7M512.3 352.7L491.1 341.1M491.1 341.1L471.8 341.1M561.5 400L561.5 426M561.5 426L579.9 433.7M561.5 426L556.7 437.6M556.7 437.6L550.9 456.9M614.6 377.8L615.6 354.6M615.6 354.6L635.9 343M635.9 343L653.2 341.1M660 405.8L658.1 430.8M658.1 430.8L677.4 441.5M658.1 430.8L640.7 438.6M640.7 438.6L635.9 460.8M708.3 381.6L707.3 356.5M707.3 356.5L726.6 344.9M726.6 344.9L723.7 321.8M760.4 403.8L766.2 427M766.2 427L785.5 431.8M766.2 427L748.8 435.7M748.8 435.7L742 451.1" fill="none" stroke="#dcdcf4" stroke-width="2.5" stroke-linecap="round"/>
</g>
<g>
<path d="M859.3 245.8L874.7 253.6M874.7 253.6L875.7 266.1M875.7 266.1L891.2 270M891.2 270L911.4 261.3M911.4 261.3L924.9 252.6M924.9 252.6L939.4 244.9M939.4 244.9L955.8 255.5M955.8 255.5L971.3 263.2M971.3 263.2L988.6 270.9M988.6 270.9L1006 261.3M1006 261.3L1021.5 253.6M1021.5 253.6L1036.9 244.9M1036.9 244.9L1054.3 256.4M1054.3 256.4L1068.8 260.3M1068.8 260.3L1088.1 269M1088.1 269L1106.4 259.3M1106.4 259.3L1118 254.5M1118 254.5L1138.3 244.9M1138.3 244.9L1158.5 259.3M1158.5 259.3L1168.2 269M1168.2 269L1182.7 277.7M1182.7 277.7L1201 269M1201 269L1212.6 278.6M874.7 253.6L880.5 240M875.7 266.1L864.1 274.8M891.2 270L891.2 295.1M891.2 295.1L911.4 301.8M891.2 295.1L873.8 305.7M873.8 305.7L871.9 326.9M911.4 261.3L914.3 269M924.9 252.6L918.2 249.7M939.4 244.9L939.4 220.7M939.4 220.7L928.8 205.3M928.8 205.3L909.5 207.2M909.5 207.2L907.6 193.7M907.6 193.7L925.9 186.9M925.9 186.9L939.4 196.6M939.4 196.6L928.8 205.3M955.8 255.5L958.7 251.6M971.3 263.2L967.4 266.1M988.6 270.9L989.6 296M989.6 296L1008 300.8M989.6 296L971.3 305.7M971.3 305.7L971.3 326.9M1021.5 253.6L1016.6 255.9M1036.9 244.9L1036.9 222.7M1036.9 222.7L1017.6 208.2M1017.6 208.2L1006 210.1M1006 210.1L992.5 193.7M992.5 193.7L994.4 189.8M994.4 189.8L1012.8 201.4M1012.8 201.4L1017.6 208.2M1054.3 256.4L1056.2 260.7M1068.8 260.3L1068.8 253.9M1088.1 269L1088.1 292.2M1088.1 292.2L1105.4 303.7M1105.4 303.7L1105.4 325.9M1088.1 292.2L1080.3 294.1M1106.4 259.3L1106.4 255.5M1118 254.5L1119.3 256.4M1138.3 244.9L1139.2 223.6M1139.2 223.6L1158.5 211.1M1158.5 211.1L1160.5 189.8M1160.5 189.8L1175.9 182.1M1160.5 189.8L1148.9 188.9M1148.9 188.9L1148.9 172.5M1148.9 188.9L1135.4 196.6M1158.5 259.3L1160.5 257M1168.2 269L1160.8 266.5M1182.7 277.7L1178.8 298.9M1178.8 298.9L1197.1 313.4M1178.8 298.9L1160.5 309.5M1160.5 309.5L1153.7 328.8M1201 269L1198.1 256.4M1198.1 256.4L1182.7 252.6M1198.1 256.4L1207.8 249.7M939.4 196.6L955.8 193.7M992.5 193.7L981.9 192.7" fill="none" stroke="#3e3e50" stroke-width="7.3" stroke-linecap="round"/>
<path d="M969.3 264.7L967.4 266.1M1068.8 257.1L1068.8 253.9M1084.2 293.1L1080.3 294.1M1164.5 267.7L1160.8 266.5" fill="none" stroke="#8a8a9c" stroke-width="6.2" stroke-linecap="round"/>
<path d="M859.3 245.8L874.7 253.6M874.7 253.6L875.2 259.8M891.2 270L911.4 261.3M911.4 261.3L918.2 256.9M939.4 244.9L955.8 255.5M955.8 255.5L963.6 259.3M988.6 270.9L1006 261.3M1006 261.3L1013.7 257.4M1036.9 244.9L1054.3 256.4M1054.3 256.4L1061.5 258.4M1088.1 269L1106.4 259.3M1106.4 259.3L1112.2 256.9M1138.3 244.9L1158.5 259.3M1158.5 259.3L1163.4 264.2M1182.7 277.7L1201 269M1201 269L1206.8 273.8M874.7 253.6L877.6 246.8M891.2 270L891.2 295.1M891.2 295.1L911.4 301.8M891.2 295.1L873.8 305.7M873.8 305.7L871.9 326.9M911.4 261.3L912.9 265.1M939.4 244.9L939.4 220.7M939.4 220.7L928.8 205.3M928.8 205.3L909.5 207.2M909.5 207.2L908.5 200.5M925.9 186.9L932.7 191.8M955.8 255.5L957.3 253.6M988.6 270.9L989.6 296M989.6 296L1008 300.8M989.6 296L971.3 305.7M971.3 305.7L971.3 326.9M1036.9 244.9L1036.9 222.7M1036.9 222.7L1017.6 208.2M1017.6 208.2L1006 210.1M1006 210.1L999.3 201.9M994.4 189.8L1003.6 195.6M1054.3 256.4L1055.3 258.6M1088.1 269L1088.1 292.2M1088.1 292.2L1105.4 303.7M1105.4 303.7L1105.4 325.9M1088.1 292.2L1084.2 293.1M1106.4 259.3L1106.4 257.4M1138.3 244.9L1139.2 223.6M1139.2 223.6L1158.5 211.1M1158.5 211.1L1160.5 189.8M1160.5 189.8L1168.2 186M1160.5 189.8L1154.7 189.4M1158.5 259.3L1159.5 258.2M1182.7 277.7L1178.8 298.9M1178.8 298.9L1197.1 313.4M1178.8 298.9L1160.5 309.5M1160.5 309.5L1153.7 328.8M1201 269L1199.6 262.7" fill="none" stroke="#cfcfec" stroke-width="6.2" stroke-linecap="round"/>
<path d="M875.7 266.1L883.4 268M924.9 252.6L932.2 248.7M971.3 263.2L980 267.1M1021.5 253.6L1029.2 249.2M1068.8 260.3L1078.4 264.7M1118 254.5L1128.1 249.7M1168.2 269L1175.4 273.3M875.7 266.1L869.9 270.4M924.9 252.6L921.6 251.1M907.6 193.7L916.7 190.3M939.4 196.6L934.1 200.9M971.3 263.2L969.3 264.7M1021.5 253.6L1019.1 254.7M992.5 193.7L993.5 191.8M1012.8 201.4L1015.2 204.8M1068.8 260.3L1068.8 257.1M1118 254.5L1118.7 255.5M1148.9 188.9L1148.9 180.7M1148.9 188.9L1142.1 192.7M1168.2 269L1164.5 267.7M1198.1 256.4L1190.4 254.5M1198.1 256.4L1202.9 253.1M939.4 196.6L947.6 195.2M992.5 193.7L987.2 193.2" fill="none" stroke="#2b4da6" stroke-width="6.2" stroke-linecap="butt"/>
<path d="M875.2 259.8L875.7 266.1M918.2 256.9L924.9 252.6M963.6 259.3L971.3 263.2M1013.7 257.4L1021.5 253.6M1061.5 258.4L1068.8 260.3M1112.2 256.9L1118 254.5M1163.4 264.2L1168.2 269M908.5 200.5L907.6 193.7M932.7 191.8L939.4 196.6M999.3 201.9L992.5 193.7M1003.6 195.6L1012.8 201.4M1154.7 189.4L1148.9 188.9M1199.6 262.7L1198.1 256.4" fill="none" stroke="#2b4da6" stroke-width="6.2" stroke-linecap="butt"/>
<path d="M1206.8 273.8L1212.6 278.6M877.6 246.8L880.5 240M912.9 265.1L914.3 269M957.3 253.6L958.7 251.6M1055.3 258.6L1056.2 260.7M1106.4 257.4L1106.4 255.5M1168.2 186L1175.9 182.1M1159.5 258.2L1160.5 257" fill="none" stroke="#e8494b" stroke-width="6.2" stroke-linecap="butt"/>
<path d="M869.9 270.4L864.1 274.8M921.6 251.1L918.2 249.7M1019.1 254.7L1016.6 255.9M1118.7 255.5L1119.3 256.4M1148.9 180.7L1148.9 172.5M1142.1 192.7L1135.4 196.6M1190.4 254.5L1182.7 252.6M1202.9 253.1L1207.8 249.7M947.6 195.2L955.8 193.7M987.2 193.2L981.9 192.7" fill="none" stroke="#e9e9e4" stroke-width="6.2" stroke-linecap="butt"/>
<path d="M883.4 268L891.2 270M932.2 248.7L939.4 244.9M980 267.1L988.6 270.9M1029.2 249.2L1036.9 244.9M1078.4 264.7L1088.1 269M1128.1 249.7L1138.3 244.9M1175.4 273.3L1182.7 277.7M916.7 190.3L925.9 186.9M934.1 200.9L928.8 205.3M993.5 191.8L994.4 189.8M1015.2 204.8L1017.6 208.2" fill="none" stroke="#cfcfec" stroke-width="6.2" stroke-linecap="butt"/>
<g fill="#2b4da6"><circle cx="875.7" cy="266.1" r="3.1"/><circle cx="875.7" cy="266.1" r="3.1"/><circle cx="924.9" cy="252.6" r="3.1"/><circle cx="924.9" cy="252.6" r="3.1"/><circle cx="971.3" cy="263.2" r="3.1"/><circle cx="971.3" cy="263.2" r="3.1"/><circle cx="1021.5" cy="253.6" r="3.1"/><circle cx="1021.5" cy="253.6" r="3.1"/><circle cx="1068.8" cy="260.3" r="3.1"/><circle cx="1068.8" cy="260.3" r="3.1"/><circle cx="1118" cy="254.5" r="3.1"/><circle cx="1118" cy="254.5" r="3.1"/><circle cx="1168.2" cy="269" r="3.1"/><circle cx="1168.2" cy="269" r="3.1"/><circle cx="875.7" cy="266.1" r="3.1"/><circle cx="924.9" cy="252.6" r="3.1"/><circle cx="907.6" cy="193.7" r="3.1"/><circle cx="907.6" cy="193.7" r="3.1"/><circle cx="939.4" cy="196.6" r="3.1"/><circle cx="939.4" cy="196.6" r="3.1"/><circle cx="971.3" cy="263.2" r="3.1"/><circle cx="1021.5" cy="253.6" r="3.1"/><circle cx="992.5" cy="193.7" r="3.1"/><circle cx="992.5" cy="193.7" r="3.1"/><circle cx="1012.8" cy="201.4" r="3.1"/><circle cx="1012.8" cy="201.4" r="3.1"/><circle cx="1068.8" cy="260.3" r="3.1"/><circle cx="1118" cy="254.5" r="3.1"/><circle cx="1148.9" cy="188.9" r="3.1"/><circle cx="1148.9" cy="188.9" r="3.1"/><circle cx="1148.9" cy="188.9" r="3.1"/><circle cx="1168.2" cy="269" r="3.1"/><circle cx="1198.1" cy="256.4" r="3.1"/><circle cx="1198.1" cy="256.4" r="3.1"/><circle cx="1198.1" cy="256.4" r="3.1"/><circle cx="939.4" cy="196.6" r="3.1"/><circle cx="992.5" cy="193.7" r="3.1"/></g>
<g fill="#e8494b"><circle cx="1212.6" cy="278.6" r="3.1"/><circle cx="880.5" cy="240" r="3.1"/><circle cx="914.3" cy="269" r="3.1"/><circle cx="958.7" cy="251.6" r="3.1"/><circle cx="1056.2" cy="260.7" r="3.1"/><circle cx="1106.4" cy="255.5" r="3.1"/><circle cx="1175.9" cy="182.1" r="3.1"/><circle cx="1160.5" cy="257" r="3.1"/></g>
<g fill="#e9e9e4"><circle cx="864.1" cy="274.8" r="3.1"/><circle cx="918.2" cy="249.7" r="3.1"/><circle cx="1016.6" cy="255.9" r="3.1"/><circle cx="1119.3" cy="256.4" r="3.1"/><circle cx="1148.9" cy="172.5" r="3.1"/><circle cx="1135.4" cy="196.6" r="3.1"/><circle cx="1182.7" cy="252.6" r="3.1"/><circle cx="1207.8" cy="249.7" r="3.1"/><circle cx="955.8" cy="193.7" r="3.1"/><circle cx="981.9" cy="192.7" r="3.1"/></g>
<path d="M859.3 245.8L874.7 253.6M891.2 270L911.4 261.3M939.4 244.9L955.8 255.5M988.6 270.9L1006 261.3M1036.9 244.9L1054.3 256.4M1088.1 269L1106.4 259.3M1138.3 244.9L1158.5 259.3M1182.7 277.7L1201 269M891.2 270L891.2 295.1M891.2 295.1L911.4 301.8M891.2 295.1L873.8 305.7M873.8 305.7L871.9 326.9M939.4 244.9L939.4 220.7M939.4 220.7L928.8 205.3M928.8 205.3L909.5 207.2M988.6 270.9L989.6 296M989.6 296L1008 300.8M989.6 296L971.3 305.7M971.3 305.7L971.3 326.9M1036.9 244.9L1036.9 222.7M1036.9 222.7L1017.6 208.2M1017.6 208.2L1006 210.1M1088.1 269L1088.1 292.2M1088.1 292.2L1105.4 303.7M1105.4 303.7L1105.4 325.9M1138.3 244.9L1139.2 223.6M1139.2 223.6L1158.5 211.1M1158.5 211.1L1160.5 189.8M1182.7 277.7L1178.8 298.9M1178.8 298.9L1197.1 313.4M1178.8 298.9L1160.5 309.5M1160.5 309.5L1153.7 328.8" fill="none" stroke="#dcdcf4" stroke-width="2.5" stroke-linecap="round"/>
</g>
<g>
<path d="M1285.1 102.3L1300.5 109.1M1300.5 109.1L1299.6 121.6M1299.6 121.6L1317.9 126.4M1317.9 126.4L1337.2 117.8M1337.2 117.8L1352.7 108.1M1352.7 108.1L1366.2 103.3M1366.2 103.3L1384.5 115.8M1384.5 115.8L1399 124.5M1399 124.5L1413.5 132.2M1413.5 132.2L1432.8 121.6M1432.8 121.6L1448.2 113.9M1448.2 113.9L1463.7 108.1M1463.7 108.1L1482 121.6M1482 121.6L1496.5 123.6M1496.5 123.6L1512.9 135.1M1512.9 135.1L1532.2 120.7M1532.2 120.7L1543.8 120.7M1543.8 120.7L1558.3 109.1M1558.3 109.1L1576.6 120.7M1576.6 120.7L1594 122.6M1594 122.6L1611.4 133.2M1611.4 133.2L1630.7 126.4M1630.7 126.4L1644.2 130.3M1300.5 109.1L1306.3 94.6M1299.6 121.6L1290.9 132.2M1317.9 126.4L1317.9 150.6M1317.9 150.6L1337.2 157.3M1317.9 150.6L1299.6 159.3M1299.6 159.3L1298.6 181.5M1337.2 117.8L1338.2 123.6M1352.7 108.1L1346.9 106.2M1366.2 103.3L1368.1 80.1M1368.1 80.1L1356.5 64.7M1356.5 64.7L1336.3 63.7M1336.3 63.7L1334.3 49.2M1334.3 49.2L1352.7 43.4M1352.7 43.4L1367.1 53.1M1367.1 53.1L1356.5 64.7M1334.3 49.2L1321.8 45.4M1384.5 115.8L1386.4 112.5M1413.5 132.2L1412.5 155.4M1412.5 155.4L1393.2 165.1M1412.5 155.4L1430.8 167M1430.8 167L1430.8 189.2M1432.8 121.6L1433.2 118.7M1448.2 113.9L1444.7 117.8M1463.7 108.1L1464.6 84.9M1464.6 84.9L1444.4 71.4M1444.4 71.4L1436.6 72.4M1436.6 72.4L1420.2 56M1420.2 56L1422.2 52.1M1422.2 52.1L1441.5 65.6M1441.5 65.6L1444.4 71.4M1482 121.6L1483.4 124.9M1496.5 123.6L1493.6 118.7M1512.9 135.1L1513.9 152.5M1513.9 152.5L1534.1 168M1534.1 168L1535.1 187.3M1513.9 152.5L1510 150.2M1532.2 120.7L1533.2 115.4M1543.8 120.7L1541.9 125.9M1558.3 109.1L1558.3 86.9M1558.3 86.9L1574.7 73.4M1574.7 73.4L1571.8 55M1571.8 55L1570.8 54.1M1571.8 55L1571.8 38.6M1571.8 38.6L1568.9 25.1M1576.6 120.7L1578.5 122M1594 122.6L1594.4 119.7M1611.4 133.2L1609.4 156.4M1609.4 156.4L1587.2 162.2M1609.4 156.4L1618.1 161.2M1618.1 161.2L1610.4 185.3M1630.7 126.4L1625.8 116.8M1625.8 116.8L1611.4 116.8M1625.8 116.8L1638.4 112" fill="none" stroke="#3e3e50" stroke-width="7.3" stroke-linecap="round"/>
<path d="M1495 121.1L1493.6 118.7M1511.9 151.4L1510 150.2M1594.2 121.1L1594.4 119.7" fill="none" stroke="#8a8a9c" stroke-width="6.2" stroke-linecap="round"/>
<path d="M1285.1 102.3L1300.5 109.1M1300.5 109.1L1300.1 115.3M1317.9 126.4L1337.2 117.8M1337.2 117.8L1344.9 112.9M1366.2 103.3L1384.5 115.8M1384.5 115.8L1391.8 120.2M1413.5 132.2L1432.8 121.6M1432.8 121.6L1440.5 117.8M1463.7 108.1L1482 121.6M1482 121.6L1489.2 122.6M1512.9 135.1L1532.2 120.7M1532.2 120.7L1538 120.7M1558.3 109.1L1576.6 120.7M1576.6 120.7L1585.3 121.6M1611.4 133.2L1630.7 126.4M1630.7 126.4L1637.4 128.4M1300.5 109.1L1303.4 101.8M1317.9 126.4L1317.9 150.6M1317.9 150.6L1337.2 157.3M1317.9 150.6L1299.6 159.3M1299.6 159.3L1298.6 181.5M1337.2 117.8L1337.7 120.7M1366.2 103.3L1368.1 80.1M1368.1 80.1L1356.5 64.7M1356.5 64.7L1336.3 63.7M1336.3 63.7L1335.3 56.5M1352.7 43.4L1359.9 48.3M1384.5 115.8L1385.5 114.2M1413.5 132.2L1412.5 155.4M1412.5 155.4L1393.2 165.1M1412.5 155.4L1430.8 167M1430.8 167L1430.8 189.2M1432.8 121.6L1433 120.2M1463.7 108.1L1464.6 84.9M1464.6 84.9L1444.4 71.4M1444.4 71.4L1436.6 72.4M1436.6 72.4L1428.4 64.2M1422.2 52.1L1431.8 58.9M1482 121.6L1482.7 123.3M1512.9 135.1L1513.9 152.5M1513.9 152.5L1534.1 168M1534.1 168L1535.1 187.3M1513.9 152.5L1511.9 151.4M1532.2 120.7L1532.7 118.1M1558.3 109.1L1558.3 86.9M1558.3 86.9L1574.7 73.4M1574.7 73.4L1571.8 55M1571.8 55L1571.3 54.5M1571.8 55L1571.8 46.8M1576.6 120.7L1577.6 121.3M1611.4 133.2L1609.4 156.4M1609.4 156.4L1587.2 162.2M1609.4 156.4L1618.1 161.2M1618.1 161.2L1610.4 185.3M1630.7 126.4L1628.2 121.6" fill="none" stroke="#cfcfec" stroke-width="6.2" stroke-linecap="round"/>
<path d="M1299.6 121.6L1308.7 124M1352.7 108.1L1359.4 105.7M1399 124.5L1406.2 128.4M1448.2 113.9L1455.9 111M1496.5 123.6L1504.7 129.3M1543.8 120.7L1551 114.9M1594 122.6L1602.7 127.9M1299.6 121.6L1295.2 126.9M1352.7 108.1L1349.8 107.1M1334.3 49.2L1343.5 46.3M1367.1 53.1L1361.8 58.9M1334.3 49.2L1328.1 47.3M1448.2 113.9L1446.5 115.8M1420.2 56L1421.2 54.1M1441.5 65.6L1442.9 68.5M1496.5 123.6L1495 121.1M1543.8 120.7L1542.8 123.3M1571.8 38.6L1570.3 31.9M1594 122.6L1594.2 121.1M1625.8 116.8L1618.6 116.8M1625.8 116.8L1632.1 114.4" fill="none" stroke="#2b4da6" stroke-width="6.2" stroke-linecap="butt"/>
<path d="M1300.1 115.3L1299.6 121.6M1344.9 112.9L1352.7 108.1M1391.8 120.2L1399 124.5M1440.5 117.8L1448.2 113.9M1489.2 122.6L1496.5 123.6M1538 120.7L1543.8 120.7M1585.3 121.6L1594 122.6M1335.3 56.5L1334.3 49.2M1359.9 48.3L1367.1 53.1M1428.4 64.2L1420.2 56M1431.8 58.9L1441.5 65.6M1571.8 46.8L1571.8 38.6M1628.2 121.6L1625.8 116.8" fill="none" stroke="#2b4da6" stroke-width="6.2" stroke-linecap="butt"/>
<path d="M1637.4 128.4L1644.2 130.3M1303.4 101.8L1306.3 94.6M1337.7 120.7L1338.2 123.6M1385.5 114.2L1386.4 112.5M1433 120.2L1433.2 118.7M1482.7 123.3L1483.4 124.9M1532.7 118.1L1533.2 115.4M1571.3 54.5L1570.8 54.1M1577.6 121.3L1578.5 122" fill="none" stroke="#e8494b" stroke-width="6.2" stroke-linecap="butt"/>
<path d="M1295.2 126.9L1290.9 132.2M1349.8 107.1L1346.9 106.2M1328.1 47.3L1321.8 45.4M1446.5 115.8L1444.7 117.8M1542.8 123.3L1541.9 125.9M1570.3 31.9L1568.9 25.1M1618.6 116.8L1611.4 116.8M1632.1 114.4L1638.4 112" fill="none" stroke="#e9e9e4" stroke-width="6.2" stroke-linecap="butt"/>
<path d="M1308.7 124L1317.9 126.4M1359.4 105.7L1366.2 103.3M1406.2 128.4L1413.5 132.2M1455.9 111L1463.7 108.1M1504.7 129.3L1512.9 135.1M1551 114.9L1558.3 109.1M1602.7 127.9L1611.4 133.2M1343.5 46.3L1352.7 43.4M1361.8 58.9L1356.5 64.7M1421.2 54.1L1422.2 52.1M1442.9 68.5L1444.4 71.4" fill="none" stroke="#cfcfec" stroke-width="6.2" stroke-linecap="butt"/>
<g fill="#2b4da6"><circle cx="1299.6" cy="121.6" r="3.1"/><circle cx="1299.6" cy="121.6" r="3.1"/><circle cx="1352.7" cy="108.1" r="3.1"/><circle cx="1352.7" cy="108.1" r="3.1"/><circle cx="1399" cy="124.5" r="3.1"/><circle cx="1399" cy="124.5" r="3.1"/><circle cx="1448.2" cy="113.9" r="3.1"/><circle cx="1448.2" cy="113.9" r="3.1"/><circle cx="1496.5" cy="123.6" r="3.1"/><circle cx="1496.5" cy="123.6" r="3.1"/><circle cx="1543.8" cy="120.7" r="3.1"/><circle cx="1543.8" cy="120.7" r="3.1"/><circle cx="1594" cy="122.6" r="3.1"/><circle cx="1594" cy="122.6" r="3.1"/><circle cx="1299.6" cy="121.6" r="3.1"/><circle cx="1352.7" cy="108.1" r="3.1"/><circle cx="1334.3" cy="49.2" r="3.1"/><circle cx="1334.3" cy="49.2" r="3.1"/><circle cx="1367.1" cy="53.1" r="3.1"/><circle cx="1367.1" cy="53.1" r="3.1"/><circle cx="1334.3" cy="49.2" r="3.1"/><circle cx="1448.2" cy="113.9" r="3.1"/><circle cx="1420.2" cy="56" r="3.1"/><circle cx="1420.2" cy="56" r="3.1"/><circle cx="1441.5" cy="65.6" r="3.1"/><circle cx="1441.5" cy="65.6" r="3.1"/><circle cx="1496.5" cy="123.6" r="3.1"/><circle cx="1543.8" cy="120.7" r="3.1"/><circle cx="1571.8" cy="38.6" r="3.1"/><circle cx="1571.8" cy="38.6" r="3.1"/><circle cx="1594" cy="122.6" r="3.1"/><circle cx="1625.8" cy="116.8" r="3.1"/><circle cx="1625.8" cy="116.8" r="3.1"/><circle cx="1625.8" cy="116.8" r="3.1"/></g>
<g fill="#e8494b"><circle cx="1644.2" cy="130.3" r="3.1"/><circle cx="1306.3" cy="94.6" r="3.1"/><circle cx="1338.2" cy="123.6" r="3.1"/><circle cx="1386.4" cy="112.5" r="3.1"/><circle cx="1433.2" cy="118.7" r="3.1"/><circle cx="1483.4" cy="124.9" r="3.1"/><circle cx="1533.2" cy="115.4" r="3.1"/><circle cx="1570.8" cy="54.1" r="3.1"/><circle cx="1578.5" cy="122" r="3.1"/></g>
<g fill="#e9e9e4"><circle cx="1290.9" cy="132.2" r="3.1"/><circle cx="1346.9" cy="106.2" r="3.1"/><circle cx="1321.8" cy="45.4" r="3.1"/><circle cx="1444.7" cy="117.8" r="3.1"/><circle cx="1541.9" cy="125.9" r="3.1"/><circle cx="1568.9" cy="25.1" r="3.1"/><circle cx="1611.4" cy="116.8" r="3.1"/><circle cx="1638.4" cy="112" r="3.1"/></g>
<path d="M1285.1 102.3L1300.5 109.1M1317.9 126.4L1337.2 117.8M1366.2 103.3L1384.5 115.8M1413.5 132.2L1432.8 121.6M1463.7 108.1L1482 121.6M1512.9 135.1L1532.2 120.7M1558.3 109.1L1576.6 120.7M1611.4 133.2L1630.7 126.4M1317.9 126.4L1317.9 150.6M1317.9 150.6L1337.2 157.3M1317.9 150.6L1299.6 159.3M1299.6 159.3L1298.6 181.5M1366.2 103.3L1368.1 80.1M1368.1 80.1L1356.5 64.7M1356.5 64.7L1336.3 63.7M1413.5 132.2L1412.5 155.4M1412.5 155.4L1393.2 165.1M1412.5 155.4L1430.8 167M1430.8 167L1430.8 189.2M1463.7 108.1L1464.6 84.9M1464.6 84.9L1444.4 71.4M1444.4 71.4L1436.6 72.4M1512.9 135.1L1513.9 152.5M1513.9 152.5L1534.1 168M1534.1 168L1535.1 187.3M1558.3 109.1L1558.3 86.9M1558.3 86.9L1574.7 73.4M1574.7 73.4L1571.8 55M1611.4 133.2L1609.4 156.4M1609.4 156.4L1587.2 162.2M1609.4 156.4L1618.1 161.2M1618.1 161.2L1610.4 185.3" fill="none" stroke="#dcdcf4" stroke-width="2.5" stroke-linecap="round"/>
</g>
<g>
<path d="M1282.2 381.6L1297.6 376.8M1297.6 376.8L1304.4 397.1M1304.4 397.1L1319.8 398M1319.8 398L1343 395.1M1343 395.1L1354.6 386.4M1354.6 386.4L1372.9 379.7M1372.9 379.7L1389.3 390.3M1389.3 390.3L1403.8 400M1403.8 400L1420.2 409.6M1420.2 409.6L1438.6 398M1438.6 398L1453.1 388.4M1453.1 388.4L1467.5 379.7M1467.5 379.7L1483.9 391.3M1483.9 391.3L1499.4 393.2M1499.4 393.2L1514.8 403.8M1514.8 403.8L1535.1 392.2M1535.1 392.2L1545.7 391.3M1545.7 391.3L1565 379.7M1565 379.7L1582.4 393.2M1582.4 393.2L1595.9 395.1M1595.9 395.1L1613.3 407.7M1613.3 407.7L1634.5 396.1M1634.5 396.1L1641.3 385.5M1641.3 385.5L1651.9 376.8M1297.6 376.8L1300.5 363.3M1304.4 397.1L1303.4 408.6M1319.8 398L1318.9 417.3M1318.9 417.3L1338.2 426M1318.9 417.3L1301.5 413.5M1301.5 413.5L1293.8 433.7M1343 395.1L1347.8 403.8M1354.6 386.4L1348.8 380.7M1372.9 379.7L1372.9 356.5M1372.9 356.5L1357.5 343M1357.5 343L1341.1 343M1341.1 343L1334.3 325.6M1334.3 325.6L1344 315M1344 315L1360.4 324.7M1360.4 324.7L1357.5 343M1389.3 390.3L1391.3 389M1403.8 400L1400.9 403.2M1420.2 409.6L1420.2 431.8M1420.2 431.8L1400 442.4M1420.2 431.8L1438.6 442.4M1438.6 442.4L1441.5 464.6M1438.6 398L1443.4 397.6M1453.1 388.4L1446.3 392.6M1467.5 379.7L1468.5 357.5M1468.5 357.5L1456.9 343M1456.9 343L1435.7 343M1435.7 343L1432.8 328.5M1432.8 328.5L1448.2 319.8M1448.2 319.8L1463.7 328.5M1463.7 328.5L1456.9 343M1432.8 328.5L1418.3 322.7M1483.9 391.3L1485.9 397.5M1499.4 393.2L1495.5 387.4M1514.8 403.8L1515.8 426M1515.8 426L1533.2 436.6M1515.8 426L1496.5 433.7M1496.5 433.7L1497.5 455.9M1535.1 392.2L1538 387M1545.7 391.3L1541.9 399.4M1565 379.7L1565 364.2M1565 364.2L1547.6 350.7M1547.6 350.7L1540.9 340.1M1540.9 340.1L1552.5 327.6M1540.9 340.1L1524.5 344M1524.5 344L1514.8 352.7M1524.5 344L1522.5 339.5M1582.4 393.2L1584.3 403.8M1595.9 395.1L1591.1 388.4M1613.3 407.7L1613.3 420.2M1613.3 420.2L1628.7 436.6M1613.3 420.2L1591.1 428M1591.1 428L1592 437.6M1634.5 396.1L1638.8 393.8" fill="none" stroke="#3e3e50" stroke-width="7.3" stroke-linecap="round"/>
<path d="M1402.4 401.6L1400.9 403.2M1497.5 390.3L1495.5 387.4M1523.5 341.8L1522.5 339.5M1593.5 391.8L1591.1 388.4" fill="none" stroke="#8a8a9c" stroke-width="6.2" stroke-linecap="round"/>
<path d="M1282.2 381.6L1297.6 376.8M1297.6 376.8L1301 386.9M1319.8 398L1343 395.1M1343 395.1L1348.8 390.8M1372.9 379.7L1389.3 390.3M1389.3 390.3L1396.6 395.1M1420.2 409.6L1438.6 398M1438.6 398L1445.8 393.2M1467.5 379.7L1483.9 391.3M1483.9 391.3L1491.7 392.2M1514.8 403.8L1535.1 392.2M1535.1 392.2L1540.4 391.8M1565 379.7L1582.4 393.2M1582.4 393.2L1589.2 394.2M1613.3 407.7L1634.5 396.1M1634.5 396.1L1637.9 390.8M1297.6 376.8L1299.1 370M1319.8 398L1318.9 417.3M1318.9 417.3L1338.2 426M1318.9 417.3L1301.5 413.5M1301.5 413.5L1293.8 433.7M1343 395.1L1345.4 399.5M1372.9 379.7L1372.9 356.5M1372.9 356.5L1357.5 343M1357.5 343L1341.1 343M1341.1 343L1337.7 334.3M1344 315L1352.2 319.8M1389.3 390.3L1390.3 389.6M1420.2 409.6L1420.2 431.8M1420.2 431.8L1400 442.4M1420.2 431.8L1438.6 442.4M1438.6 442.4L1441.5 464.6M1438.6 398L1441 397.8M1467.5 379.7L1468.5 357.5M1468.5 357.5L1456.9 343M1456.9 343L1435.7 343M1435.7 343L1434.2 335.8M1448.2 319.8L1455.9 324.2M1483.9 391.3L1484.9 394.4M1514.8 403.8L1515.8 426M1515.8 426L1533.2 436.6M1515.8 426L1496.5 433.7M1496.5 433.7L1497.5 455.9M1535.1 392.2L1536.5 389.6M1565 379.7L1565 364.2M1565 364.2L1547.6 350.7M1547.6 350.7L1540.9 340.1M1540.9 340.1L1546.7 333.8M1540.9 340.1L1532.7 342M1582.4 393.2L1583.4 398.5M1613.3 407.7L1613.3 420.2M1613.3 420.2L1628.7 436.6M1613.3 420.2L1591.1 428M1591.1 428L1592 437.6M1634.5 396.1L1636.6 394.9" fill="none" stroke="#cfcfec" stroke-width="6.2" stroke-linecap="round"/>
<path d="M1304.4 397.1L1312.1 397.5M1354.6 386.4L1363.8 383.1M1403.8 400L1412 404.8M1453.1 388.4L1460.3 384M1499.4 393.2L1507.1 398.5M1545.7 391.3L1555.4 385.5M1595.9 395.1L1604.6 401.4M1641.3 385.5L1646.6 381.1M1304.4 397.1L1303.9 402.9M1354.6 386.4L1351.7 383.6M1334.3 325.6L1339.2 320.3M1360.4 324.7L1358.9 333.8M1403.8 400L1402.4 401.6M1453.1 388.4L1449.7 390.5M1432.8 328.5L1440.5 324.2M1463.7 328.5L1460.3 335.8M1432.8 328.5L1425.5 325.6M1499.4 393.2L1497.5 390.3M1545.7 391.3L1543.8 395.3M1524.5 344L1519.7 348.3M1524.5 344L1523.5 341.8M1595.9 395.1L1593.5 391.8" fill="none" stroke="#2b4da6" stroke-width="6.2" stroke-linecap="butt"/>
<path d="M1301 386.9L1304.4 397.1M1348.8 390.8L1354.6 386.4M1396.6 395.1L1403.8 400M1445.8 393.2L1453.1 388.4M1491.7 392.2L1499.4 393.2M1540.4 391.8L1545.7 391.3M1589.2 394.2L1595.9 395.1M1637.9 390.8L1641.3 385.5M1337.7 334.3L1334.3 325.6M1352.2 319.8L1360.4 324.7M1434.2 335.8L1432.8 328.5M1455.9 324.2L1463.7 328.5M1532.7 342L1524.5 344" fill="none" stroke="#2b4da6" stroke-width="6.2" stroke-linecap="butt"/>
<path d="M1299.1 370L1300.5 363.3M1345.4 399.5L1347.8 403.8M1390.3 389.6L1391.3 389M1441 397.8L1443.4 397.6M1484.9 394.4L1485.9 397.5M1536.5 389.6L1538 387M1546.7 333.8L1552.5 327.6M1583.4 398.5L1584.3 403.8M1636.6 394.9L1638.8 393.8" fill="none" stroke="#e8494b" stroke-width="6.2" stroke-linecap="butt"/>
<path d="M1646.6 381.1L1651.9 376.8M1303.9 402.9L1303.4 408.6M1351.7 383.6L1348.8 380.7M1449.7 390.5L1446.3 392.6M1425.5 325.6L1418.3 322.7M1543.8 395.3L1541.9 399.4M1519.7 348.3L1514.8 352.7" fill="none" stroke="#e9e9e4" stroke-width="6.2" stroke-linecap="butt"/>
<path d="M1312.1 397.5L1319.8 398M1363.8 383.1L1372.9 379.7M1412 404.8L1420.2 409.6M1460.3 384L1467.5 379.7M1507.1 398.5L1514.8 403.8M1555.4 385.5L1565 379.7M1604.6 401.4L1613.3 407.7M1339.2 320.3L1344 315M1358.9 333.8L1357.5 343M1440.5 324.2L1448.2 319.8M1460.3 335.8L1456.9 343" fill="none" stroke="#cfcfec" stroke-width="6.2" stroke-linecap="butt"/>
<g fill="#2b4da6"><circle cx="1304.4" cy="397.1" r="3.1"/><circle cx="1304.4" cy="397.1" r="3.1"/><circle cx="1354.6" cy="386.4" r="3.1"/><circle cx="1354.6" cy="386.4" r="3.1"/><circle cx="1403.8" cy="400" r="3.1"/><circle cx="1403.8" cy="400" r="3.1"/><circle cx="1453.1" cy="388.4" r="3.1"/><circle cx="1453.1" cy="388.4" r="3.1"/><circle cx="1499.4" cy="393.2" r="3.1"/><circle cx="1499.4" cy="393.2" r="3.1"/><circle cx="1545.7" cy="391.3" r="3.1"/><circle cx="1545.7" cy="391.3" r="3.1"/><circle cx="1595.9" cy="395.1" r="3.1"/><circle cx="1595.9" cy="395.1" r="3.1"/><circle cx="1641.3" cy="385.5" r="3.1"/><circle cx="1641.3" cy="385.5" r="3.1"/><circle cx="1304.4" cy="397.1" r="3.1"/><circle cx="1354.6" cy="386.4" r="3.1"/><circle cx="1334.3" cy="325.6" r="3.1"/><circle cx="1334.3" cy="325.6" r="3.1"/><circle cx="1360.4" cy="324.7" r="3.1"/><circle cx="1360.4" cy="324.7" r="3.1"/><circle cx="1403.8" cy="400" r="3.1"/><circle cx="1453.1" cy="388.4" r="3.1"/><circle cx="1432.8" cy="328.5" r="3.1"/><circle cx="1432.8" cy="328.5" r="3.1"/><circle cx="1463.7" cy="328.5" r="3.1"/><circle cx="1463.7" cy="328.5" r="3.1"/><circle cx="1432.8" cy="328.5" r="3.1"/><circle cx="1499.4" cy="393.2" r="3.1"/><circle cx="1545.7" cy="391.3" r="3.1"/><circle cx="1524.5" cy="344" r="3.1"/><circle cx="1524.5" cy="344" r="3.1"/><circle cx="1524.5" cy="344" r="3.1"/><circle cx="1595.9" cy="395.1" r="3.1"/></g>
<g fill="#e8494b"><circle cx="1300.5" cy="363.3" r="3.1"/><circle cx="1347.8" cy="403.8" r="3.1"/><circle cx="1391.3" cy="389" r="3.1"/><circle cx="1443.4" cy="397.6" r="3.1"/><circle cx="1485.9" cy="397.5" r="3.1"/><circle cx="1538" cy="387" r="3.1"/><circle cx="1552.5" cy="327.6" r="3.1"/><circle cx="1584.3" cy="403.8" r="3.1"/><circle cx="1638.8" cy="393.8" r="3.1"/></g>
<g fill="#e9e9e4"><circle cx="1651.9" cy="376.8" r="3.1"/><circle cx="1303.4" cy="408.6" r="3.1"/><circle cx="1348.8" cy="380.7" r="3.1"/><circle cx="1446.3" cy="392.6" r="3.1"/><circle cx="1418.3" cy="322.7" r="3.1"/><circle cx="1541.9" cy="399.4" r="3.1"/><circle cx="1514.8" cy="352.7" r="3.1"/></g>
<path d="M1282.2 381.6L1297.6 376.8M1319.8 398L1343 395.1M1372.9 379.7L1389.3 390.3M1420.2 409.6L1438.6 398M1467.5 379.7L1483.9 391.3M1514.8 403.8L1535.1 392.2M1565 379.7L1582.4 393.2M1613.3 407.7L1634.5 396.1M1319.8 398L1318.9 417.3M1318.9 417.3L1338.2 426M1318.9 417.3L1301.5 413.5M1301.5 413.5L1293.8 433.7M1372.9 379.7L1372.9 356.5M1372.9 356.5L1357.5 343M1357.5 343L1341.1 343M1420.2 409.6L1420.2 431.8M1420.2 431.8L1400 442.4M1420.2 431.8L1438.6 442.4M1438.6 442.4L1441.5 464.6M1467.5 379.7L1468.5 357.5M1468.5 357.5L1456.9 343M1456.9 343L1435.7 343M1514.8 403.8L1515.8 426M1515.8 426L1533.2 436.6M1515.8 426L1496.5 433.7M1496.5 433.7L1497.5 455.9M1565 379.7L1565 364.2M1565 364.2L1547.6 350.7M1547.6 350.7L1540.9 340.1M1613.3 407.7L1613.3 420.2M1613.3 420.2L1628.7 436.6M1613.3 420.2L1591.1 428M1591.1 428L1592 437.6" fill="none" stroke="#dcdcf4" stroke-width="2.5" stroke-linecap="round"/>
</g>
<g>
<path d="M1696.8 240L1719 246.8M1719 246.8L1726.7 258.4M1726.7 258.4L1745 267.1M1745 267.1L1761.4 255.5M1761.4 255.5L1780.7 254.5M1780.7 254.5L1795.2 245.8M1795.2 245.8L1814.5 257.4M1814.5 257.4L1829 258.4M1829 258.4L1846.4 267.1M1846.4 267.1L1861.8 254.5M1861.8 254.5L1879.2 251.6M1879.2 251.6L1894.6 241M1894.6 241L1914.9 252.6M1914.9 252.6L1927.5 254.5M1927.5 254.5L1941 266.1M1941 266.1L1959.3 253.6M1959.3 253.6L1977.6 255.5M1977.6 255.5L1996.9 245.8M1996.9 245.8L2012.4 263.2M2012.4 263.2L2023 270.9M2023 270.9L2032.7 281.5M2032.7 281.5L2051 271.9M2051 271.9L2065.5 258.4M2065.5 258.4L2075.1 254.5M1719 246.8L1727.6 241M1726.7 258.4L1717 261.7M1745 267.1L1745 290.2M1745 290.2L1766.3 299.9M1745 290.2L1728.6 302.8M1728.6 302.8L1719 317.3M1761.4 255.5L1759.5 248.7M1780.7 254.5L1779.8 259.7M1795.2 245.8L1796.2 222.7M1796.2 222.7L1777.8 211.1M1777.8 211.1L1760.5 212M1760.5 212L1747.9 199.5M1747.9 199.5L1753.7 193.7M1753.7 193.7L1773 201.4M1773 201.4L1777.8 211.1M1814.5 257.4L1815.5 265.1M1829 258.4L1827.1 250.7M1846.4 267.1L1846.4 290.2M1846.4 290.2L1867.6 299.9M1846.4 290.2L1828 302.8M1828 302.8L1811.6 301.8M1861.8 254.5L1861.8 247.8M1879.2 251.6L1879.2 258.8M1894.6 241L1896.6 220.7M1896.6 220.7L1879.2 210.1M1879.2 210.1L1861.8 206.3M1861.8 206.3L1849.3 196.6M1849.3 196.6L1856 192.7M1856 192.7L1876.3 201.4M1876.3 201.4L1879.2 210.1M1914.9 252.6L1918.8 259.3M1927.5 254.5L1922.6 246.8M1941 266.1L1940 287.3M1940 287.3L1957.4 300.8M1940 287.3L1919.7 298M1919.7 298L1914.9 312.4M1959.3 253.6L1959.3 242.9M1977.6 255.5L1976.7 264.2M1996.9 245.8L1998.9 229.4M1998.9 229.4L2014.3 213M2014.3 213L2017.2 198.5M2017.2 198.5L2027.8 184.1M2017.2 198.5L2007.6 201.4M2007.6 201.4L2009.5 190.8M2007.6 201.4L1998.9 211.1M2012.4 263.2L2016.3 270.9M2023 270.9L2015.3 259.3M2032.7 281.5L2030.7 298.9M2030.7 298.9L2043.3 317.3M2030.7 298.9L2007.6 305.7M2007.6 305.7L1997.9 318.2M2051 271.9L2060.7 273.2M2060.7 263.2L2056.8 263.2" fill="none" stroke="#3e3e50" stroke-width="7.3" stroke-linecap="round"/>
<path d="M1721.9 260L1717 261.7M2019.2 265.1L2015.3 259.3" fill="none" stroke="#8a8a9c" stroke-width="6.2" stroke-linecap="round"/>
<path d="M1696.8 240L1719 246.8M1719 246.8L1722.8 252.6M1745 267.1L1761.4 255.5M1761.4 255.5L1771.1 255M1795.2 245.8L1814.5 257.4M1814.5 257.4L1821.8 257.9M1846.4 267.1L1861.8 254.5M1861.8 254.5L1870.5 253.1M1894.6 241L1914.9 252.6M1914.9 252.6L1921.2 253.6M1941 266.1L1959.3 253.6M1959.3 253.6L1968.5 254.5M1996.9 245.8L2012.4 263.2M2012.4 263.2L2017.7 267.1M2032.7 281.5L2051 271.9M2051 271.9L2058.2 265.1M1719 246.8L1723.3 243.9M1745 267.1L1745 290.2M1745 290.2L1766.3 299.9M1745 290.2L1728.6 302.8M1728.6 302.8L1719 317.3M1761.4 255.5L1760.5 252.1M1795.2 245.8L1796.2 222.7M1796.2 222.7L1777.8 211.1M1777.8 211.1L1760.5 212M1760.5 212L1754.2 205.8M1753.7 193.7L1763.4 197.6M1814.5 257.4L1815 261.3M1846.4 267.1L1846.4 290.2M1846.4 290.2L1867.6 299.9M1846.4 290.2L1828 302.8M1828 302.8L1811.6 301.8M1861.8 254.5L1861.8 251.1M1894.6 241L1896.6 220.7M1896.6 220.7L1879.2 210.1M1879.2 210.1L1861.8 206.3M1861.8 206.3L1855.5 201.4M1856 192.7L1866.2 197.1M1914.9 252.6L1916.8 256M1941 266.1L1940 287.3M1940 287.3L1957.4 300.8M1940 287.3L1919.7 298M1919.7 298L1914.9 312.4M1959.3 253.6L1959.3 248.2M1996.9 245.8L1998.9 229.4M1998.9 229.4L2014.3 213M2014.3 213L2017.2 198.5M2017.2 198.5L2022.5 191.3M2017.2 198.5L2012.4 200M2012.4 263.2L2014.3 267.1M2032.7 281.5L2030.7 298.9M2030.7 298.9L2043.3 317.3M2030.7 298.9L2007.6 305.7M2007.6 305.7L1997.9 318.2M2051 271.9L2055.8 272.6" fill="none" stroke="#cfcfec" stroke-width="6.2" stroke-linecap="round"/>
<path d="M1726.7 258.4L1735.8 262.7M1780.7 254.5L1788 250.2M1829 258.4L1837.7 262.7M1879.2 251.6L1886.9 246.3M1927.5 254.5L1934.2 260.3M1977.6 255.5L1987.3 250.7M2023 270.9L2027.8 276.2M2065.5 258.4L2070.3 256.4M1726.7 258.4L1721.9 260M1780.7 254.5L1780.3 257.1M1747.9 199.5L1750.8 196.6M1773 201.4L1775.4 206.3M1829 258.4L1828 254.5M1879.2 251.6L1879.2 255.2M1849.3 196.6L1852.6 194.7M1876.3 201.4L1877.7 205.8M1927.5 254.5L1925 250.7M1977.6 255.5L1977.2 259.8M2007.6 201.4L2008.5 196.1M2007.6 201.4L2003.2 206.3M2023 270.9L2019.2 265.1M2060.7 263.2L2058.7 263.2" fill="none" stroke="#2b4da6" stroke-width="6.2" stroke-linecap="butt"/>
<path d="M1722.8 252.6L1726.7 258.4M1771.1 255L1780.7 254.5M1821.8 257.9L1829 258.4M1870.5 253.1L1879.2 251.6M1921.2 253.6L1927.5 254.5M1968.5 254.5L1977.6 255.5M2017.7 267.1L2023 270.9M2058.2 265.1L2065.5 258.4M1754.2 205.8L1747.9 199.5M1763.4 197.6L1773 201.4M1855.5 201.4L1849.3 196.6M1866.2 197.1L1876.3 201.4M2012.4 200L2007.6 201.4" fill="none" stroke="#2b4da6" stroke-width="6.2" stroke-linecap="butt"/>
<path d="M1723.3 243.9L1727.6 241M1760.5 252.1L1759.5 248.7M1815 261.3L1815.5 265.1M1861.8 251.1L1861.8 247.8M1916.8 256L1918.8 259.3M1959.3 248.2L1959.3 242.9M2022.5 191.3L2027.8 184.1M2014.3 267.1L2016.3 270.9M2055.8 272.6L2060.7 273.2" fill="none" stroke="#e8494b" stroke-width="6.2" stroke-linecap="butt"/>
<path d="M2070.3 256.4L2075.1 254.5M1780.3 257.1L1779.8 259.7M1828 254.5L1827.1 250.7M1879.2 255.2L1879.2 258.8M1925 250.7L1922.6 246.8M1977.2 259.8L1976.7 264.2M2008.5 196.1L2009.5 190.8M2003.2 206.3L1998.9 211.1M2058.7 263.2L2056.8 263.2" fill="none" stroke="#e9e9e4" stroke-width="6.2" stroke-linecap="butt"/>
<path d="M1735.8 262.7L1745 267.1M1788 250.2L1795.2 245.8M1837.7 262.7L1846.4 267.1M1886.9 246.3L1894.6 241M1934.2 260.3L1941 266.1M1987.3 250.7L1996.9 245.8M2027.8 276.2L2032.7 281.5M1750.8 196.6L1753.7 193.7M1775.4 206.3L1777.8 211.1M1852.6 194.7L1856 192.7M1877.7 205.8L1879.2 210.1" fill="none" stroke="#cfcfec" stroke-width="6.2" stroke-linecap="butt"/>
<g fill="#2b4da6"><circle cx="1726.7" cy="258.4" r="3.1"/><circle cx="1726.7" cy="258.4" r="3.1"/><circle cx="1780.7" cy="254.5" r="3.1"/><circle cx="1780.7" cy="254.5" r="3.1"/><circle cx="1829" cy="258.4" r="3.1"/><circle cx="1829" cy="258.4" r="3.1"/><circle cx="1879.2" cy="251.6" r="3.1"/><circle cx="1879.2" cy="251.6" r="3.1"/><circle cx="1927.5" cy="254.5" r="3.1"/><circle cx="1927.5" cy="254.5" r="3.1"/><circle cx="1977.6" cy="255.5" r="3.1"/><circle cx="1977.6" cy="255.5" r="3.1"/><circle cx="2023" cy="270.9" r="3.1"/><circle cx="2023" cy="270.9" r="3.1"/><circle cx="2065.5" cy="258.4" r="3.1"/><circle cx="2065.5" cy="258.4" r="3.1"/><circle cx="1726.7" cy="258.4" r="3.1"/><circle cx="1780.7" cy="254.5" r="3.1"/><circle cx="1747.9" cy="199.5" r="3.1"/><circle cx="1747.9" cy="199.5" r="3.1"/><circle cx="1773" cy="201.4" r="3.1"/><circle cx="1773" cy="201.4" r="3.1"/><circle cx="1829" cy="258.4" r="3.1"/><circle cx="1879.2" cy="251.6" r="3.1"/><circle cx="1849.3" cy="196.6" r="3.1"/><circle cx="1849.3" cy="196.6" r="3.1"/><circle cx="1876.3" cy="201.4" r="3.1"/><circle cx="1876.3" cy="201.4" r="3.1"/><circle cx="1927.5" cy="254.5" r="3.1"/><circle cx="1977.6" cy="255.5" r="3.1"/><circle cx="2007.6" cy="201.4" r="3.1"/><circle cx="2007.6" cy="201.4" r="3.1"/><circle cx="2007.6" cy="201.4" r="3.1"/><circle cx="2023" cy="270.9" r="3.1"/><circle cx="2060.7" cy="263.2" r="3.1"/></g>
<g fill="#e8494b"><circle cx="1727.6" cy="241" r="3.1"/><circle cx="1759.5" cy="248.7" r="3.1"/><circle cx="1815.5" cy="265.1" r="3.1"/><circle cx="1861.8" cy="247.8" r="3.1"/><circle cx="1918.8" cy="259.3" r="3.1"/><circle cx="1959.3" cy="242.9" r="3.1"/><circle cx="2027.8" cy="184.1" r="3.1"/><circle cx="2016.3" cy="270.9" r="3.1"/><circle cx="2060.7" cy="273.2" r="3.1"/></g>
<g fill="#e9e9e4"><circle cx="2075.1" cy="254.5" r="3.1"/><circle cx="1779.8" cy="259.7" r="3.1"/><circle cx="1827.1" cy="250.7" r="3.1"/><circle cx="1879.2" cy="258.8" r="3.1"/><circle cx="1922.6" cy="246.8" r="3.1"/><circle cx="1976.7" cy="264.2" r="3.1"/><circle cx="2009.5" cy="190.8" r="3.1"/><circle cx="1998.9" cy="211.1" r="3.1"/><circle cx="2056.8" cy="263.2" r="3.1"/></g>
<path d="M1696.8 240L1719 246.8M1745 267.1L1761.4 255.5M1795.2 245.8L1814.5 257.4M1846.4 267.1L1861.8 254.5M1894.6 241L1914.9 252.6M1941 266.1L1959.3 253.6M1996.9 245.8L2012.4 263.2M2032.7 281.5L2051 271.9M1745 267.1L1745 290.2M1745 290.2L1766.3 299.9M1745 290.2L1728.6 302.8M1728.6 302.8L1719 317.3M1795.2 245.8L1796.2 222.7M1796.2 222.7L1777.8 211.1M1777.8 211.1L1760.5 212M1846.4 267.1L1846.4 290.2M1846.4 290.2L1867.6 299.9M1846.4 290.2L1828 302.8M1828 302.8L1811.6 301.8M1894.6 241L1896.6 220.7M1896.6 220.7L1879.2 210.1M1879.2 210.1L1861.8 206.3M1941 266.1L1940 287.3M1940 287.3L1957.4 300.8M1940 287.3L1919.7 298M1919.7 298L1914.9 312.4M1996.9 245.8L1998.9 229.4M1998.9 229.4L2014.3 213M2014.3 213L2017.2 198.5M2032.7 281.5L2030.7 298.9M2030.7 298.9L2043.3 317.3M2030.7 298.9L2007.6 305.7M2007.6 305.7L1997.9 318.2" fill="none" stroke="#dcdcf4" stroke-width="2.5" stroke-linecap="round"/>
</g>
<text class="h" x="14.7" y="159.8">His(+1)</text>
<text class="h" x="130.9" y="159.8">His(+1)</text>
<text class="h" x="440.9" y="25">His(0)</text>
<text class="h" x="543.7" y="25">His(+1)</text>
<text class="h" x="430.9" y="300.8">His(+1)</text>
<text class="h" x="588.2" y="300.8">His(0)</text>
<text class="h" x="876.3" y="166.2">His(0)</text>
<text class="h" x="979.6" y="166.2">His(0)</text>
<text class="h" x="1283.4" y="25">His(0)</text>
<text class="h" x="1398.6" y="25">His(-1)</text>
<text class="h" x="1286.3" y="300.8">His(-1)</text>
<text class="h" x="1404" y="300.8">His(0)</text>
<text class="h" x="1709.3" y="174.6">His(-1)</text>
<text class="h" x="1832.1" y="174.6">His(-1)</text>
<text class="h" x="595.8" y="235.6">or</text>
<text class="h" x="1446.8" y="235.6">or</text>
<text class="b" x="1.6" y="48.6">A</text>
<text class="p" x="24.3" y="524.2">acidic</text>
<text class="p" x="1903" y="524.2">alkaline</text>
<rect x="191" y="506" width="1600" height="11" fill="url(#ag)"/>
<path d="M1841 511.4L1777 484.4L1787.6 511.4L1777 538.6Z" fill="#2448a0"/>
</g>
<text class="b" x="0.6" y="603">B</text>
<g id="panelB">
<g>
<path d="M277.1 1054.7L155.6 1055.8L155.7 1061.3L121.5 1048.7L155.4 1035.3L155.5 1040.8L276.9 1039.7 Z" fill="#9f9fc0" stroke="#55556a" stroke-width="0.8" stroke-linejoin="round"/><path d="M277.1 1051.2L155.6 1052.3L155.7 1057.8L121.5 1045.2L155.4 1031.8L155.5 1037.3L276.9 1036.2 Z" fill="#cdcdea" stroke="#55556a" stroke-width="0.8" stroke-linejoin="round"/>
<g fill="#8f8fa6"><circle cx="123" cy="858.1" r="21"/><circle cx="303.9" cy="945.4" r="21"/><circle cx="111.3" cy="912" r="21"/><circle cx="204.7" cy="837.6" r="21"/><circle cx="284.2" cy="911.1" r="21"/><circle cx="253.8" cy="858.2" r="21"/><circle cx="180.6" cy="846.3" r="21"/><circle cx="190.5" cy="917.4" r="21"/><circle cx="73.8" cy="681.5" r="21"/><circle cx="314.2" cy="866" r="21"/><circle cx="97.9" cy="993.4" r="21"/><circle cx="334.5" cy="928.5" r="21"/><circle cx="196.4" cy="860.6" r="21"/><circle cx="154.1" cy="958.1" r="21"/><circle cx="64.9" cy="801.2" r="21"/><circle cx="81.3" cy="976" r="21"/><circle cx="300.2" cy="750.6" r="21"/><circle cx="333.6" cy="845.1" r="21"/><circle cx="217.8" cy="773.8" r="21"/><circle cx="102.2" cy="848.2" r="21"/><circle cx="308.9" cy="918" r="21"/><circle cx="109.2" cy="681.4" r="21"/><circle cx="266.8" cy="892.8" r="21"/><circle cx="136.2" cy="802.7" r="21"/><circle cx="107" cy="711.5" r="21"/><circle cx="274.9" cy="963.5" r="21"/><circle cx="63.4" cy="909.7" r="21"/><circle cx="336.6" cy="951.4" r="21"/><circle cx="209.5" cy="735.5" r="21"/><circle cx="30.6" cy="843.7" r="21"/><circle cx="244.1" cy="712.2" r="21"/><circle cx="185.7" cy="1002.3" r="21"/><circle cx="138.4" cy="839.9" r="21"/><circle cx="59.1" cy="933.6" r="21"/><circle cx="282.2" cy="1009" r="21"/><circle cx="49" cy="683.2" r="21"/><circle cx="95.2" cy="730.9" r="21"/><circle cx="229.6" cy="980.6" r="21"/><circle cx="259.7" cy="763.5" r="21"/><circle cx="96.8" cy="870.2" r="21"/><circle cx="306.2" cy="812.3" r="21"/><circle cx="81.5" cy="815.5" r="21"/><circle cx="118.5" cy="747.4" r="21"/><circle cx="238.5" cy="884.4" r="21"/><circle cx="184" cy="1026.5" r="21"/><circle cx="158.2" cy="805.2" r="21"/><circle cx="262.4" cy="681.5" r="21"/><circle cx="262.1" cy="991.1" r="21"/><circle cx="277.8" cy="818.1" r="21"/><circle cx="196.8" cy="979.7" r="21"/><circle cx="119.3" cy="817.7" r="21"/><circle cx="215.8" cy="878.3" r="21"/><circle cx="286.1" cy="704.5" r="21"/><circle cx="82.4" cy="1024.9" r="21"/><circle cx="128.7" cy="702.1" r="21"/><circle cx="82.4" cy="926.4" r="21"/><circle cx="133.9" cy="964.3" r="21"/><circle cx="300.6" cy="978" r="21"/><circle cx="198.4" cy="682.3" r="21"/><circle cx="252.5" cy="970" r="21"/><circle cx="312.9" cy="733.4" r="21"/><circle cx="268.8" cy="743.7" r="21"/><circle cx="130" cy="1002.2" r="21"/><circle cx="291.8" cy="1030.8" r="21"/><circle cx="318.3" cy="768.8" r="21"/><circle cx="163.5" cy="928.8" r="21"/><circle cx="114.5" cy="1018.7" r="21"/><circle cx="233.7" cy="949.4" r="21"/><circle cx="103.6" cy="932.7" r="21"/><circle cx="248.9" cy="734.8" r="21"/><circle cx="267.5" cy="943.7" r="21"/><circle cx="192.9" cy="791.2" r="21"/><circle cx="42.7" cy="803.7" r="21"/><circle cx="288.7" cy="725.9" r="21"/><circle cx="141.5" cy="679.2" r="21"/><circle cx="236.4" cy="753.9" r="21"/><circle cx="227" cy="925.3" r="21"/><circle cx="195.4" cy="813.6" r="21"/><circle cx="251.2" cy="924.1" r="21"/><circle cx="212.9" cy="904.4" r="21"/><circle cx="312.1" cy="889.5" r="21"/><circle cx="196.9" cy="757.3" r="21"/><circle cx="58.7" cy="781.1" r="21"/><circle cx="89.1" cy="698.2" r="21"/><circle cx="186.5" cy="895.5" r="21"/><circle cx="48.2" cy="826.5" r="21"/><circle cx="93.2" cy="776.2" r="21"/><circle cx="109.6" cy="954.1" r="21"/><circle cx="116.2" cy="980" r="21"/><circle cx="173.1" cy="822.6" r="21"/><circle cx="268.1" cy="716.9" r="21"/><circle cx="60.3" cy="971.3" r="21"/><circle cx="154.4" cy="979.6" r="21"/><circle cx="177" cy="747.6" r="21"/><circle cx="312.5" cy="1035.2" r="21"/><circle cx="74.4" cy="955.3" r="21"/><circle cx="159.9" cy="908" r="21"/><circle cx="210.7" cy="940.9" r="21"/><circle cx="227.3" cy="694.7" r="21"/><circle cx="174.9" cy="726.3" r="21"/><circle cx="162.7" cy="1001.1" r="21"/><circle cx="117.2" cy="879.3" r="21"/><circle cx="166.9" cy="884.1" r="21"/><circle cx="99.8" cy="827" r="21"/><circle cx="249.8" cy="785.7" r="21"/><circle cx="328" cy="990.9" r="21"/><circle cx="302.8" cy="1003.7" r="21"/><circle cx="144.8" cy="1023.9" r="21"/><circle cx="168.6" cy="767.5" r="21"/><circle cx="270.1" cy="840.5" r="21"/><circle cx="139.7" cy="721.7" r="21"/><circle cx="214.1" cy="963.2" r="21"/><circle cx="321.7" cy="967.4" r="21"/><circle cx="92.9" cy="901.3" r="21"/><circle cx="131.4" cy="936" r="21"/><circle cx="71.1" cy="840.3" r="21"/><circle cx="209.2" cy="706.8" r="21"/><circle cx="74.3" cy="752.5" r="21"/><circle cx="179.6" cy="702.1" r="21"/><circle cx="282.1" cy="764" r="21"/><circle cx="71.7" cy="716.1" r="21"/><circle cx="322.7" cy="797.2" r="21"/><circle cx="72.7" cy="998.7" r="21"/><circle cx="103.3" cy="795.4" r="21"/><circle cx="72.3" cy="864.3" r="21"/><circle cx="177.4" cy="954.8" r="21"/><circle cx="340.9" cy="885.3" r="21"/><circle cx="97.3" cy="752.3" r="21"/><circle cx="136.2" cy="770.6" r="21"/><circle cx="295.8" cy="850.8" r="21"/><circle cx="158.8" cy="850" r="21"/><circle cx="281.9" cy="872.1" r="21"/><circle cx="267.4" cy="1025" r="21"/><circle cx="50.4" cy="863.7" r="21"/><circle cx="140.2" cy="887.8" r="21"/><circle cx="242.3" cy="1011.1" r="21"/><circle cx="48.5" cy="727.5" r="21"/><circle cx="228.1" cy="856.8" r="21"/><circle cx="306.4" cy="713.4" r="21"/><circle cx="132.6" cy="908.9" r="21"/><circle cx="250" cy="825.9" r="21"/><circle cx="228.2" cy="832.2" r="21"/><circle cx="156" cy="695.3" r="21"/><circle cx="75.9" cy="885.7" r="21"/><circle cx="280.1" cy="788.5" r="21"/><circle cx="325.3" cy="1013" r="21"/><circle cx="48.8" cy="754.3" r="21"/><circle cx="146.3" cy="751" r="21"/><circle cx="224.2" cy="1033.4" r="21"/><circle cx="210.1" cy="1011.1" r="21"/><circle cx="227.9" cy="810.6" r="21"/><circle cx="338.1" cy="906.7" r="21"/><circle cx="238.1" cy="907.2" r="21"/></g>
<g class="v"><circle cx="123" cy="858.1" r="18.0"/><circle cx="303.9" cy="945.4" r="18.0"/><circle cx="111.3" cy="912" r="18.0"/><circle cx="204.7" cy="837.6" r="18.0"/><circle cx="284.2" cy="911.1" r="18.0"/><circle cx="253.8" cy="858.2" r="18.0"/><circle cx="180.6" cy="846.3" r="18.0"/><circle cx="190.5" cy="917.4" r="18.0"/><circle cx="73.8" cy="681.5" r="18.0"/><circle cx="314.2" cy="866" r="18.0"/><circle cx="97.9" cy="993.4" r="18.0"/><circle cx="334.5" cy="928.5" r="18.0"/><circle cx="196.4" cy="860.6" r="18.0"/><circle cx="154.1" cy="958.1" r="18.0"/><circle cx="64.9" cy="801.2" r="18.0"/><circle cx="81.3" cy="976" r="18.0"/><circle cx="300.2" cy="750.6" r="18.0"/><circle cx="333.6" cy="845.1" r="18.0"/><circle cx="217.8" cy="773.8" r="18.0"/><circle cx="102.2" cy="848.2" r="18.0"/><circle cx="308.9" cy="918" r="18.0"/><circle cx="109.2" cy="681.4" r="18.0"/><circle cx="266.8" cy="892.8" r="18.0"/><circle cx="136.2" cy="802.7" r="18.0"/><circle cx="107" cy="711.5" r="18.0"/><circle cx="274.9" cy="963.5" r="18.0"/><circle cx="63.4" cy="909.7" r="18.0"/><circle cx="336.6" cy="951.4" r="18.0"/><circle cx="209.5" cy="735.5" r="18.0"/><circle cx="30.6" cy="843.7" r="18.0"/><circle cx="244.1" cy="712.2" r="18.0"/><circle cx="185.7" cy="1002.3" r="18.0"/><circle cx="138.4" cy="839.9" r="18.0"/><circle cx="59.1" cy="933.6" r="18.0"/><circle cx="282.2" cy="1009" r="18.0"/><circle cx="49" cy="683.2" r="18.0"/><circle cx="95.2" cy="730.9" r="18.0"/><circle cx="229.6" cy="980.6" r="18.0"/><circle cx="259.7" cy="763.5" r="18.0"/><circle cx="96.8" cy="870.2" r="18.0"/><circle cx="306.2" cy="812.3" r="18.0"/><circle cx="81.5" cy="815.5" r="18.0"/><circle cx="118.5" cy="747.4" r="18.0"/><circle cx="238.5" cy="884.4" r="18.0"/><circle cx="184" cy="1026.5" r="18.0"/><circle cx="158.2" cy="805.2" r="18.0"/><circle cx="262.4" cy="681.5" r="18.0"/><circle cx="262.1" cy="991.1" r="18.0"/><circle cx="277.8" cy="818.1" r="18.0"/><circle cx="196.8" cy="979.7" r="18.0"/><circle cx="119.3" cy="817.7" r="18.0"/><circle cx="215.8" cy="878.3" r="18.0"/><circle cx="286.1" cy="704.5" r="18.0"/><circle cx="82.4" cy="1024.9" r="18.0"/><circle cx="128.7" cy="702.1" r="18.0"/><circle cx="82.4" cy="926.4" r="18.0"/><circle cx="133.9" cy="964.3" r="18.0"/><circle cx="300.6" cy="978" r="18.0"/><circle cx="198.4" cy="682.3" r="18.0"/><circle cx="252.5" cy="970" r="18.0"/><circle cx="312.9" cy="733.4" r="18.0"/><circle cx="268.8" cy="743.7" r="18.0"/><circle cx="130" cy="1002.2" r="18.0"/><circle cx="291.8" cy="1030.8" r="18.0"/><circle cx="318.3" cy="768.8" r="18.0"/><circle cx="163.5" cy="928.8" r="18.0"/><circle cx="114.5" cy="1018.7" r="18.0"/><circle cx="233.7" cy="949.4" r="18.0"/><circle cx="103.6" cy="932.7" r="18.0"/><circle cx="248.9" cy="734.8" r="18.0"/><circle cx="267.5" cy="943.7" r="18.0"/><circle cx="192.9" cy="791.2" r="18.0"/><circle cx="42.7" cy="803.7" r="18.0"/><circle cx="288.7" cy="725.9" r="18.0"/><circle cx="141.5" cy="679.2" r="18.0"/><circle cx="236.4" cy="753.9" r="18.0"/><circle cx="227" cy="925.3" r="18.0"/><circle cx="195.4" cy="813.6" r="18.0"/><circle cx="251.2" cy="924.1" r="18.0"/><circle cx="212.9" cy="904.4" r="18.0"/><circle cx="312.1" cy="889.5" r="18.0"/><circle cx="196.9" cy="757.3" r="18.0"/><circle cx="58.7" cy="781.1" r="18.0"/><circle cx="89.1" cy="698.2" r="18.0"/><circle cx="186.5" cy="895.5" r="18.0"/><circle cx="48.2" cy="826.5" r="18.0"/><circle cx="93.2" cy="776.2" r="18.0"/><circle cx="109.6" cy="954.1" r="18.0"/><circle cx="116.2" cy="980" r="18.0"/><circle cx="173.1" cy="822.6" r="18.0"/><circle cx="268.1" cy="716.9" r="18.0"/><circle cx="60.3" cy="971.3" r="18.0"/><circle cx="154.4" cy="979.6" r="18.0"/><circle cx="177" cy="747.6" r="18.0"/><circle cx="312.5" cy="1035.2" r="18.0"/><circle cx="74.4" cy="955.3" r="18.0"/><circle cx="159.9" cy="908" r="18.0"/><circle cx="210.7" cy="940.9" r="18.0"/><circle cx="227.3" cy="694.7" r="18.0"/><circle cx="174.9" cy="726.3" r="18.0"/><circle cx="162.7" cy="1001.1" r="18.0"/><circle cx="117.2" cy="879.3" r="18.0"/><circle cx="166.9" cy="884.1" r="18.0"/><circle cx="99.8" cy="827" r="18.0"/><circle cx="249.8" cy="785.7" r="18.0"/><circle cx="328" cy="990.9" r="18.0"/><circle cx="302.8" cy="1003.7" r="18.0"/><circle cx="144.8" cy="1023.9" r="18.0"/><circle cx="168.6" cy="767.5" r="18.0"/><circle cx="270.1" cy="840.5" r="18.0"/><circle cx="139.7" cy="721.7" r="18.0"/><circle cx="214.1" cy="963.2" r="18.0"/><circle cx="321.7" cy="967.4" r="18.0"/><circle cx="92.9" cy="901.3" r="18.0"/><circle cx="131.4" cy="936" r="18.0"/><circle cx="71.1" cy="840.3" r="18.0"/><circle cx="209.2" cy="706.8" r="18.0"/><circle cx="74.3" cy="752.5" r="18.0"/><circle cx="179.6" cy="702.1" r="18.0"/><circle cx="282.1" cy="764" r="18.0"/><circle cx="71.7" cy="716.1" r="18.0"/><circle cx="322.7" cy="797.2" r="18.0"/><circle cx="72.7" cy="998.7" r="18.0"/><circle cx="103.3" cy="795.4" r="18.0"/><circle cx="72.3" cy="864.3" r="18.0"/><circle cx="177.4" cy="954.8" r="18.0"/><circle cx="340.9" cy="885.3" r="18.0"/><circle cx="97.3" cy="752.3" r="18.0"/><circle cx="136.2" cy="770.6" r="18.0"/><circle cx="295.8" cy="850.8" r="18.0"/><circle cx="158.8" cy="850" r="18.0"/><circle cx="281.9" cy="872.1" r="18.0"/><circle cx="267.4" cy="1025" r="18.0"/><circle cx="50.4" cy="863.7" r="18.0"/><circle cx="140.2" cy="887.8" r="18.0"/><circle cx="242.3" cy="1011.1" r="18.0"/><circle cx="48.5" cy="727.5" r="18.0"/><circle cx="228.1" cy="856.8" r="18.0"/><circle cx="306.4" cy="713.4" r="18.0"/><circle cx="132.6" cy="908.9" r="18.0"/><circle cx="250" cy="825.9" r="18.0"/><circle cx="228.2" cy="832.2" r="18.0"/><circle cx="156" cy="695.3" r="18.0"/><circle cx="75.9" cy="885.7" r="18.0"/><circle cx="280.1" cy="788.5" r="18.0"/><circle cx="325.3" cy="1013" r="18.0"/><circle cx="48.8" cy="754.3" r="18.0"/><circle cx="146.3" cy="751" r="18.0"/><circle cx="224.2" cy="1033.4" r="18.0"/><circle cx="210.1" cy="1011.1" r="18.0"/><circle cx="227.9" cy="810.6" r="18.0"/><circle cx="338.1" cy="906.7" r="18.0"/><circle cx="238.1" cy="907.2" r="18.0"/></g><g class="w"><circle cx="241.8" cy="692.2" r="13.6"/><circle cx="140.8" cy="757.9" r="13.6"/><circle cx="198.9" cy="745.7" r="13.6"/><circle cx="116.2" cy="846.1" r="13.6"/><circle cx="240.9" cy="931.1" r="13.6"/><circle cx="131.9" cy="849.8" r="13.6"/><circle cx="106.9" cy="918.2" r="13.6"/><circle cx="131.1" cy="710.2" r="13.6"/><circle cx="54.4" cy="806.1" r="13.6"/><circle cx="60.2" cy="921.2" r="13.6"/><circle cx="207" cy="989.4" r="13.6"/><circle cx="85.8" cy="989" r="13.6"/><circle cx="126.6" cy="808.4" r="13.6"/><circle cx="148.2" cy="858.4" r="13.6"/><circle cx="340.3" cy="1014.2" r="13.6"/><circle cx="184.1" cy="1013.2" r="13.6"/><circle cx="240.4" cy="896.5" r="13.6"/><circle cx="92.5" cy="815.5" r="13.6"/><circle cx="227.7" cy="896.8" r="13.6"/><circle cx="141.9" cy="974.2" r="13.6"/><circle cx="215.3" cy="787.8" r="13.6"/><circle cx="333.7" cy="1005.2" r="13.6"/><circle cx="148.9" cy="772.2" r="13.6"/><circle cx="206.2" cy="764.2" r="13.6"/><circle cx="115.9" cy="804" r="13.6"/><circle cx="32.1" cy="798.5" r="13.6"/><circle cx="36.5" cy="833.9" r="13.6"/><circle cx="308.1" cy="762.9" r="13.6"/><circle cx="311" cy="1016" r="13.6"/><circle cx="118.2" cy="696" r="13.6"/><circle cx="324" cy="780" r="13.6"/><circle cx="84.6" cy="865" r="13.6"/><circle cx="188.4" cy="963.3" r="13.6"/><circle cx="223.5" cy="889.3" r="13.6"/><circle cx="241.7" cy="797" r="13.6"/><circle cx="334.6" cy="973.8" r="13.6"/><circle cx="313.1" cy="952.5" r="13.6"/><circle cx="176.5" cy="860.6" r="13.6"/><circle cx="200.3" cy="780.8" r="13.6"/><circle cx="213.6" cy="1024.2" r="13.6"/><circle cx="175.5" cy="835" r="13.6"/><circle cx="215.3" cy="947.8" r="13.6"/><circle cx="192.2" cy="841.3" r="13.6"/><circle cx="168.8" cy="712.6" r="13.6"/><circle cx="57.5" cy="897.6" r="13.6"/><circle cx="334.7" cy="1002.5" r="13.6"/><circle cx="67" cy="875.2" r="13.6"/><circle cx="157.7" cy="1017.4" r="13.6"/><circle cx="152" cy="933.1" r="13.6"/><circle cx="262.3" cy="927.5" r="13.6"/><circle cx="86.8" cy="881.3" r="13.6"/><circle cx="270.8" cy="1003.3" r="13.6"/><circle cx="280.4" cy="976" r="13.6"/><circle cx="235.2" cy="1037.7" r="13.6"/><circle cx="73.4" cy="976.7" r="13.6"/><circle cx="191" cy="1013.4" r="13.6"/><circle cx="76" cy="967.6" r="13.6"/><circle cx="138.2" cy="855.3" r="13.6"/><circle cx="299.6" cy="733.8" r="13.6"/><circle cx="93" cy="789.8" r="13.6"/><circle cx="262.4" cy="776.2" r="13.6"/><circle cx="99" cy="861.5" r="13.6"/><circle cx="280.1" cy="950.6" r="13.6"/><circle cx="167" cy="896.9" r="13.6"/><circle cx="202.6" cy="970.3" r="13.6"/><circle cx="153.8" cy="970.7" r="13.6"/><circle cx="182.6" cy="770.2" r="13.6"/><circle cx="303.9" cy="877" r="13.6"/><circle cx="190.2" cy="669.5" r="13.6"/><circle cx="218" cy="976.2" r="13.6"/><circle cx="288.6" cy="826.4" r="13.6"/><circle cx="88" cy="742.7" r="13.6"/><circle cx="28.1" cy="856.5" r="13.6"/><circle cx="262.5" cy="756.7" r="13.6"/><circle cx="234.7" cy="842" r="13.6"/><circle cx="286.1" cy="954.7" r="13.6"/><circle cx="262.5" cy="819.4" r="13.6"/><circle cx="172.5" cy="834.8" r="13.6"/><circle cx="70.4" cy="916.8" r="13.6"/><circle cx="260.7" cy="955.2" r="13.6"/><circle cx="109" cy="891.9" r="13.6"/><circle cx="212.5" cy="691.2" r="13.6"/><circle cx="153.7" cy="770.3" r="13.6"/><circle cx="315.2" cy="806.3" r="13.6"/><circle cx="225.8" cy="969.5" r="13.6"/><circle cx="103.1" cy="746.2" r="13.6"/><circle cx="204.7" cy="954.3" r="13.6"/><circle cx="123.7" cy="713.4" r="13.6"/><circle cx="269.2" cy="1040" r="13.6"/><circle cx="252.5" cy="879.2" r="13.6"/><circle cx="199.5" cy="742.5" r="13.6"/><circle cx="244.4" cy="743.8" r="13.6"/><circle cx="323.2" cy="915.5" r="13.6"/><circle cx="109.9" cy="995.1" r="13.6"/><circle cx="56.6" cy="922.8" r="13.6"/><circle cx="311.7" cy="760.1" r="13.6"/><circle cx="110.6" cy="861.3" r="13.6"/><circle cx="197.7" cy="850.4" r="13.6"/><circle cx="108" cy="925.4" r="13.6"/><circle cx="125.4" cy="948.2" r="13.6"/><circle cx="248.9" cy="840.7" r="13.6"/><circle cx="192.4" cy="698.7" r="13.6"/><circle cx="240" cy="806.6" r="13.6"/><circle cx="70.6" cy="813" r="13.6"/><circle cx="303.6" cy="1043.6" r="13.6"/><circle cx="288.9" cy="692" r="13.6"/><circle cx="57.2" cy="802.1" r="13.6"/><circle cx="134.7" cy="742.6" r="13.6"/><circle cx="233.2" cy="961.8" r="13.6"/><circle cx="129.9" cy="815.6" r="13.6"/><circle cx="44.4" cy="785.4" r="13.6"/><circle cx="277.9" cy="773.8" r="13.6"/><circle cx="60.8" cy="736.4" r="13.6"/><circle cx="131.8" cy="878" r="13.6"/><circle cx="291.2" cy="862.6" r="13.6"/><circle cx="110.3" cy="897.2" r="13.6"/><circle cx="295.6" cy="705.7" r="13.6"/><circle cx="257.7" cy="711.8" r="13.6"/><circle cx="60.6" cy="686.3" r="13.6"/><circle cx="165.1" cy="958.9" r="13.6"/><circle cx="69.2" cy="788.4" r="13.6"/><circle cx="113.6" cy="721" r="13.6"/><circle cx="321.2" cy="1043.8" r="13.6"/><circle cx="329.1" cy="941.5" r="13.6"/><circle cx="90.5" cy="798.8" r="13.6"/><circle cx="185.8" cy="871.3" r="13.6"/><circle cx="69.7" cy="985.9" r="13.6"/><circle cx="344.2" cy="919" r="13.6"/><circle cx="135.5" cy="733.1" r="13.6"/><circle cx="127.7" cy="1017.1" r="13.6"/><circle cx="230.7" cy="765.6" r="13.6"/><circle cx="102.2" cy="1020" r="13.6"/><circle cx="351.7" cy="948.9" r="13.6"/><circle cx="98.5" cy="720.5" r="13.6"/><circle cx="58.8" cy="947.5" r="13.6"/><circle cx="264.5" cy="978.9" r="13.6"/><circle cx="88.2" cy="879.5" r="13.6"/><circle cx="339.9" cy="859.1" r="13.6"/><circle cx="121" cy="918.4" r="13.6"/><circle cx="339.3" cy="965.8" r="13.6"/><circle cx="100.3" cy="979.8" r="13.6"/><circle cx="299.6" cy="707.2" r="13.6"/><circle cx="71" cy="935.9" r="13.6"/><circle cx="141.9" cy="695" r="13.6"/><circle cx="171.2" cy="760.2" r="13.6"/><circle cx="143.4" cy="826.5" r="13.6"/><circle cx="98.2" cy="764.4" r="13.6"/><circle cx="88.4" cy="913.1" r="13.6"/><circle cx="222.6" cy="821.6" r="13.6"/><circle cx="106.9" cy="783" r="13.6"/><circle cx="332.4" cy="873.8" r="13.6"/><circle cx="256.2" cy="1003.3" r="13.6"/><circle cx="307.4" cy="858.7" r="13.6"/><circle cx="110.9" cy="747.6" r="13.6"/><circle cx="98.6" cy="716.9" r="13.6"/><circle cx="131.7" cy="1020.3" r="13.6"/><circle cx="92.8" cy="918.8" r="13.6"/><circle cx="257.1" cy="937" r="13.6"/><circle cx="200.4" cy="694" r="13.6"/><circle cx="196.4" cy="938.4" r="13.6"/><circle cx="105.2" cy="821" r="13.6"/><circle cx="206" cy="823.5" r="13.6"/><circle cx="75.5" cy="902" r="13.6"/><circle cx="58.9" cy="997.5" r="13.6"/><circle cx="227.9" cy="762.1" r="13.6"/><circle cx="55.2" cy="673.4" r="13.6"/><circle cx="96.7" cy="944.9" r="13.6"/><circle cx="324.7" cy="899.9" r="13.6"/><circle cx="312.8" cy="995.6" r="13.6"/><circle cx="71.4" cy="1014.1" r="13.6"/><circle cx="286.5" cy="898.8" r="13.6"/><circle cx="303" cy="879.6" r="13.6"/><circle cx="274" cy="673.7" r="13.6"/><circle cx="263.1" cy="827.7" r="13.6"/><circle cx="120.8" cy="829.8" r="13.6"/><circle cx="82.9" cy="762.8" r="13.6"/><circle cx="292.9" cy="1018" r="13.6"/><circle cx="185.5" cy="882.7" r="13.6"/><circle cx="277.9" cy="934.1" r="13.6"/><circle cx="203.4" cy="921.6" r="13.6"/><circle cx="304.6" cy="1029.3" r="13.6"/><circle cx="91.7" cy="683.3" r="13.6"/><circle cx="328.7" cy="858.3" r="13.6"/><circle cx="88.1" cy="842.6" r="13.6"/><circle cx="104.5" cy="771.5" r="13.6"/><circle cx="187.2" cy="820.4" r="13.6"/><circle cx="77.1" cy="852.5" r="13.6"/><circle cx="182.9" cy="1039.4" r="13.6"/><circle cx="127.9" cy="678.2" r="13.6"/><circle cx="242.2" cy="973.9" r="13.6"/><circle cx="147.8" cy="906" r="13.6"/><circle cx="287" cy="884.1" r="13.6"/><circle cx="196.4" cy="715.1" r="13.6"/><circle cx="83.9" cy="991.3" r="13.6"/><circle cx="177.9" cy="930.6" r="13.6"/><circle cx="54" cy="816.4" r="13.6"/><circle cx="349.4" cy="896.5" r="13.6"/><circle cx="201.9" cy="695.6" r="13.6"/><circle cx="274" cy="882.7" r="13.6"/><circle cx="169.1" cy="753.3" r="13.6"/><circle cx="272.2" cy="799.8" r="13.6"/><circle cx="282.6" cy="1041" r="13.6"/><circle cx="219.4" cy="868.5" r="13.6"/><circle cx="237.8" cy="825.5" r="13.6"/><circle cx="90.9" cy="761.4" r="13.6"/><circle cx="324.8" cy="921.2" r="13.6"/><circle cx="185.6" cy="907.8" r="13.6"/><circle cx="71.5" cy="940.6" r="13.6"/><circle cx="238" cy="739.4" r="13.6"/><circle cx="116.3" cy="671.8" r="13.6"/><circle cx="261.4" cy="740.6" r="13.6"/><circle cx="50.9" cy="963.4" r="13.6"/><circle cx="214.5" cy="927" r="13.6"/><circle cx="258.2" cy="749.9" r="13.6"/><circle cx="317.6" cy="1021.8" r="13.6"/><circle cx="309.7" cy="965.2" r="13.6"/><circle cx="204.2" cy="869.4" r="13.6"/><circle cx="336.2" cy="981.9" r="13.6"/><circle cx="236.7" cy="991" r="13.6"/><circle cx="62.7" cy="748.5" r="13.6"/><circle cx="146.4" cy="900.4" r="13.6"/><circle cx="155.6" cy="876.2" r="13.6"/><circle cx="278.2" cy="733.4" r="13.6"/><circle cx="214.6" cy="834" r="13.6"/><circle cx="265.9" cy="858.1" r="13.6"/><circle cx="323.4" cy="1026.1" r="13.6"/><circle cx="45.2" cy="935.3" r="13.6"/><circle cx="315.7" cy="990" r="13.6"/><circle cx="306.1" cy="825.2" r="13.6"/><circle cx="154.1" cy="993.4" r="13.6"/><circle cx="102.3" cy="692.6" r="13.6"/><circle cx="164.3" cy="705.8" r="13.6"/><circle cx="272.8" cy="863.4" r="13.6"/><circle cx="60.5" cy="725.9" r="13.6"/><circle cx="131.7" cy="990.8" r="13.6"/><circle cx="142.2" cy="926.4" r="13.6"/><circle cx="141.8" cy="919.7" r="13.6"/><circle cx="202.6" cy="824.7" r="13.6"/><circle cx="62.5" cy="945.7" r="13.6"/><circle cx="199.6" cy="911.5" r="13.6"/><circle cx="307.2" cy="903.5" r="13.6"/><circle cx="181.2" cy="737.4" r="13.6"/><circle cx="70.6" cy="850" r="13.6"/><circle cx="256.8" cy="774.3" r="13.6"/><circle cx="245.2" cy="958.2" r="13.6"/><circle cx="236.5" cy="1025.4" r="13.6"/><circle cx="145" cy="971.4" r="13.6"/><circle cx="190.7" cy="930.9" r="13.6"/><circle cx="64.1" cy="882.8" r="13.6"/><circle cx="222.4" cy="700.8" r="13.6"/><circle cx="123.5" cy="870.2" r="13.6"/><circle cx="267.4" cy="877.9" r="13.6"/><circle cx="249.5" cy="757.5" r="13.6"/><circle cx="86.3" cy="945.5" r="13.6"/><circle cx="72.2" cy="739.5" r="13.6"/><circle cx="24.6" cy="833.6" r="13.6"/><circle cx="300.7" cy="933.4" r="13.6"/><circle cx="125.9" cy="898.7" r="13.6"/><circle cx="312.6" cy="785.7" r="13.6"/><circle cx="273.6" cy="916.9" r="13.6"/><circle cx="61.9" cy="767" r="13.6"/><circle cx="99.2" cy="961.5" r="13.6"/><circle cx="201.3" cy="800.4" r="13.6"/><circle cx="89.9" cy="966.9" r="13.6"/><circle cx="140.9" cy="705.1" r="13.6"/><circle cx="101.4" cy="704" r="13.6"/><circle cx="183.8" cy="805.7" r="13.6"/><circle cx="260.8" cy="852.4" r="13.6"/><circle cx="239.1" cy="926.6" r="13.6"/><circle cx="194.6" cy="768.7" r="13.6"/><circle cx="127.1" cy="1025.4" r="13.6"/><circle cx="172.6" cy="779.7" r="13.6"/><circle cx="223.2" cy="938" r="13.6"/><circle cx="119.5" cy="1004.5" r="13.6"/><circle cx="98.2" cy="840.9" r="13.6"/><circle cx="252" cy="700.8" r="13.6"/><circle cx="294.9" cy="1014.6" r="13.6"/><circle cx="59.5" cy="846.1" r="13.6"/><circle cx="238.3" cy="919.9" r="13.6"/><circle cx="41.9" cy="717.9" r="13.6"/><circle cx="204.1" cy="894.4" r="13.6"/><circle cx="204.4" cy="802.3" r="13.6"/><circle cx="297.4" cy="738.2" r="13.6"/><circle cx="252.4" cy="1002.8" r="13.6"/><circle cx="126.4" cy="975.6" r="13.6"/><circle cx="162.9" cy="834.1" r="13.6"/><circle cx="126.1" cy="777.6" r="13.6"/><circle cx="146" cy="961.9" r="13.6"/><circle cx="221.8" cy="797.3" r="13.6"/><circle cx="208.8" cy="861.8" r="13.6"/><circle cx="290.3" cy="750.8" r="13.6"/><circle cx="113.5" cy="801.4" r="13.6"/><circle cx="71.3" cy="704.4" r="13.6"/><circle cx="324.9" cy="888.1" r="13.6"/><circle cx="295.6" cy="801.2" r="13.6"/><circle cx="121.2" cy="912.9" r="13.6"/><circle cx="246.2" cy="811.6" r="13.6"/><circle cx="284.4" cy="711.6" r="13.6"/><circle cx="62.5" cy="830.3" r="13.6"/><circle cx="166.6" cy="740" r="13.6"/><circle cx="165.7" cy="973.7" r="13.6"/><circle cx="288.2" cy="972.6" r="13.6"/><circle cx="42.5" cy="851.8" r="13.6"/><circle cx="265.7" cy="728.6" r="13.6"/><circle cx="259.1" cy="979.3" r="13.6"/><circle cx="253.8" cy="873.2" r="13.6"/><circle cx="37" cy="692.2" r="13.6"/><circle cx="282.3" cy="715.3" r="13.6"/><circle cx="77.6" cy="802.7" r="13.6"/><circle cx="121.6" cy="992.8" r="13.6"/><circle cx="246.4" cy="913.4" r="13.6"/><circle cx="173.2" cy="912.1" r="13.6"/><circle cx="91.5" cy="886.7" r="13.6"/><circle cx="179.4" cy="941.5" r="13.6"/><circle cx="270.3" cy="729.9" r="13.6"/><circle cx="78.2" cy="709" r="13.6"/><circle cx="267.6" cy="907" r="13.6"/><circle cx="37.1" cy="816.7" r="13.6"/><circle cx="44.3" cy="843.9" r="13.6"/><circle cx="278.1" cy="709.6" r="13.6"/><circle cx="227.2" cy="842.2" r="13.6"/><circle cx="317.9" cy="708.9" r="13.6"/><circle cx="119.7" cy="931.7" r="13.6"/><circle cx="296.2" cy="989.1" r="13.6"/><circle cx="325.3" cy="947.7" r="13.6"/><circle cx="95.6" cy="676.3" r="13.6"/><circle cx="103.9" cy="973.9" r="13.6"/><circle cx="142.4" cy="1002.1" r="13.6"/><circle cx="153.3" cy="942.8" r="13.6"/><circle cx="189.7" cy="748" r="13.6"/><circle cx="80.2" cy="901.2" r="13.6"/><circle cx="242.3" cy="895.7" r="13.6"/><circle cx="126.9" cy="836.8" r="13.6"/><circle cx="349.3" cy="931.9" r="13.6"/><circle cx="239.1" cy="701" r="13.6"/><circle cx="116.6" cy="702.3" r="13.6"/><circle cx="66.4" cy="790.3" r="13.6"/><circle cx="228.7" cy="878.2" r="13.6"/><circle cx="219.2" cy="912.7" r="13.6"/><circle cx="109.8" cy="940.1" r="13.6"/><circle cx="303.8" cy="840.7" r="13.6"/><circle cx="320.5" cy="808.5" r="13.6"/><circle cx="326.7" cy="833.5" r="13.6"/><circle cx="223.5" cy="1045.4" r="13.6"/><circle cx="111.1" cy="873.2" r="13.6"/><circle cx="289.8" cy="951.2" r="13.6"/><circle cx="72.8" cy="825.4" r="13.6"/><circle cx="239.8" cy="827.9" r="13.6"/><circle cx="164.9" cy="809.8" r="13.6"/><circle cx="60.9" cy="709.3" r="13.6"/><circle cx="303.7" cy="740.8" r="13.6"/><circle cx="172.2" cy="714.5" r="13.6"/><circle cx="180.6" cy="793.7" r="13.6"/><circle cx="83.6" cy="938.5" r="13.6"/><circle cx="82.2" cy="727.4" r="13.6"/><circle cx="155.3" cy="673.8" r="13.6"/><circle cx="152.3" cy="993.5" r="13.6"/><circle cx="170.5" cy="1000.4" r="13.6"/><circle cx="176.9" cy="996.9" r="13.6"/><circle cx="179.9" cy="877.7" r="13.6"/><circle cx="104.8" cy="697.8" r="13.6"/><circle cx="209.2" cy="671.4" r="13.6"/><circle cx="345.3" cy="838.1" r="13.6"/><circle cx="292.5" cy="919.4" r="13.6"/><circle cx="151.9" cy="840.1" r="13.6"/><circle cx="318.4" cy="720.9" r="13.6"/><circle cx="246" cy="847.1" r="13.6"/><circle cx="148.8" cy="667.4" r="13.6"/><circle cx="290.2" cy="1007" r="13.6"/><circle cx="270.5" cy="952.4" r="13.6"/><circle cx="327.3" cy="733.6" r="13.6"/><circle cx="124.6" cy="951.8" r="13.6"/><circle cx="19.3" cy="840.9" r="13.6"/><circle cx="196" cy="903.5" r="13.6"/><circle cx="260.4" cy="961.6" r="13.6"/><circle cx="83.1" cy="670.4" r="13.6"/><circle cx="271.3" cy="772.3" r="13.6"/><circle cx="325.9" cy="857.6" r="13.6"/><circle cx="173.5" cy="854.3" r="13.6"/><circle cx="212.8" cy="917" r="13.6"/><circle cx="276.5" cy="993.5" r="13.6"/><circle cx="149.1" cy="900.9" r="13.6"/><circle cx="124.5" cy="967.3" r="13.6"/><circle cx="206.5" cy="999.5" r="13.6"/><circle cx="49.3" cy="875.6" r="13.6"/><circle cx="187.1" cy="987.8" r="13.6"/><circle cx="179.1" cy="915.1" r="13.6"/><circle cx="242.5" cy="723.4" r="13.6"/><circle cx="234.3" cy="938.4" r="13.6"/><circle cx="182.5" cy="990.2" r="13.6"/><circle cx="72" cy="985.7" r="13.6"/><circle cx="269.4" cy="1012.9" r="13.6"/><circle cx="141.6" cy="691" r="13.6"/><circle cx="249.6" cy="686" r="13.6"/><circle cx="125.8" cy="690.4" r="13.6"/><circle cx="91.4" cy="1035.3" r="13.6"/><circle cx="235.8" cy="934.3" r="13.6"/><circle cx="124.3" cy="683.4" r="13.6"/><circle cx="106.2" cy="909" r="13.6"/><circle cx="124.9" cy="767" r="13.6"/><circle cx="219.1" cy="835.6" r="13.6"/><circle cx="297.5" cy="909.3" r="13.6"/><circle cx="77.8" cy="1011.7" r="13.6"/><circle cx="75.7" cy="827.1" r="13.6"/><circle cx="221.7" cy="942.9" r="13.6"/><circle cx="162.5" cy="819.5" r="13.6"/><circle cx="221.5" cy="1021" r="13.6"/><circle cx="43.2" cy="766.1" r="13.6"/><circle cx="253.5" cy="721.7" r="13.6"/><circle cx="142.1" cy="791.8" r="13.6"/><circle cx="220.9" cy="894.7" r="13.6"/><circle cx="303.1" cy="1026.5" r="13.6"/><circle cx="295.6" cy="719.4" r="13.6"/><circle cx="73.9" cy="806" r="13.6"/><circle cx="241.6" cy="858.6" r="13.6"/><circle cx="94.9" cy="814.3" r="13.6"/><circle cx="251" cy="955.2" r="13.6"/><circle cx="157" cy="790.6" r="13.6"/><circle cx="91.3" cy="745.8" r="13.6"/><circle cx="94.4" cy="856.8" r="13.6"/><circle cx="116.5" cy="994.7" r="13.6"/><circle cx="190.5" cy="827.2" r="13.6"/><circle cx="164.6" cy="686.8" r="13.6"/><circle cx="134.5" cy="875.3" r="13.6"/><circle cx="279.7" cy="890.1" r="13.6"/><circle cx="233" cy="720.8" r="13.6"/><circle cx="220.6" cy="725.5" r="13.6"/><circle cx="160" cy="749.7" r="13.6"/><circle cx="126.4" cy="954.5" r="13.6"/><circle cx="90.1" cy="1003.8" r="13.6"/><circle cx="337.2" cy="793.9" r="13.6"/><circle cx="274" cy="766.2" r="13.6"/><circle cx="76.1" cy="898.1" r="13.6"/><circle cx="151.7" cy="719.3" r="13.6"/><circle cx="107.6" cy="834.3" r="13.6"/><circle cx="118.8" cy="864.9" r="13.6"/><circle cx="285.7" cy="856.9" r="13.6"/><circle cx="129.2" cy="737.4" r="13.6"/><circle cx="252.9" cy="892.4" r="13.6"/><circle cx="197.9" cy="965.6" r="13.6"/><circle cx="278.8" cy="829.1" r="13.6"/><circle cx="211.4" cy="719.9" r="13.6"/><circle cx="312" cy="972.4" r="13.6"/></g><g class="u"><circle cx="123" cy="858.1" r="18.0"/><circle cx="284.2" cy="911.1" r="18.0"/><circle cx="253.8" cy="858.2" r="18.0"/><circle cx="180.6" cy="846.3" r="18.0"/><circle cx="73.8" cy="681.5" r="18.0"/><circle cx="154.1" cy="958.1" r="18.0"/><circle cx="300.2" cy="750.6" r="18.0"/><circle cx="217.8" cy="773.8" r="18.0"/><circle cx="102.2" cy="848.2" r="18.0"/><circle cx="308.9" cy="918" r="18.0"/><circle cx="336.6" cy="951.4" r="18.0"/><circle cx="185.7" cy="1002.3" r="18.0"/><circle cx="59.1" cy="933.6" r="18.0"/><circle cx="282.2" cy="1009" r="18.0"/><circle cx="306.2" cy="812.3" r="18.0"/><circle cx="81.5" cy="815.5" r="18.0"/><circle cx="262.1" cy="991.1" r="18.0"/><circle cx="82.4" cy="1024.9" r="18.0"/><circle cx="133.9" cy="964.3" r="18.0"/><circle cx="198.4" cy="682.3" r="18.0"/><circle cx="268.8" cy="743.7" r="18.0"/><circle cx="233.7" cy="949.4" r="18.0"/><circle cx="248.9" cy="734.8" r="18.0"/><circle cx="42.7" cy="803.7" r="18.0"/><circle cx="141.5" cy="679.2" r="18.0"/><circle cx="196.9" cy="757.3" r="18.0"/><circle cx="58.7" cy="781.1" r="18.0"/><circle cx="89.1" cy="698.2" r="18.0"/><circle cx="173.1" cy="822.6" r="18.0"/><circle cx="268.1" cy="716.9" r="18.0"/><circle cx="177" cy="747.6" r="18.0"/><circle cx="117.2" cy="879.3" r="18.0"/><circle cx="166.9" cy="884.1" r="18.0"/><circle cx="302.8" cy="1003.7" r="18.0"/><circle cx="270.1" cy="840.5" r="18.0"/><circle cx="214.1" cy="963.2" r="18.0"/><circle cx="321.7" cy="967.4" r="18.0"/><circle cx="92.9" cy="901.3" r="18.0"/><circle cx="131.4" cy="936" r="18.0"/><circle cx="71.1" cy="840.3" r="18.0"/><circle cx="74.3" cy="752.5" r="18.0"/><circle cx="179.6" cy="702.1" r="18.0"/><circle cx="71.7" cy="716.1" r="18.0"/><circle cx="136.2" cy="770.6" r="18.0"/><circle cx="50.4" cy="863.7" r="18.0"/><circle cx="140.2" cy="887.8" r="18.0"/><circle cx="228.1" cy="856.8" r="18.0"/><circle cx="132.6" cy="908.9" r="18.0"/><circle cx="156" cy="695.3" r="18.0"/><circle cx="48.8" cy="754.3" r="18.0"/><circle cx="224.2" cy="1033.4" r="18.0"/><circle cx="238.1" cy="907.2" r="18.0"/></g>
<g class="v"><circle cx="308.7" cy="786.6" r="18.0"/><circle cx="86.3" cy="717.7" r="18.0"/><circle cx="34.5" cy="862.4" r="18.0"/><circle cx="320.3" cy="889.1" r="18.0"/><circle cx="58" cy="735" r="18.0"/><circle cx="330.7" cy="948.1" r="18.0"/><circle cx="290.5" cy="979.8" r="18.0"/><circle cx="326.6" cy="1000.8" r="18.0"/><circle cx="278.3" cy="827.2" r="18.0"/><circle cx="309.7" cy="820.7" r="18.0"/><circle cx="60.6" cy="897.7" r="18.0"/><circle cx="91.1" cy="887.6" r="18.0"/><circle cx="270.3" cy="953.9" r="18.0"/><circle cx="279" cy="1010.2" r="18.0"/><circle cx="228.3" cy="998.1" r="18.0"/><circle cx="66.8" cy="687.2" r="18.0"/><circle cx="90.9" cy="765" r="18.0"/><circle cx="300.8" cy="943.4" r="18.0"/><circle cx="335.1" cy="915.2" r="18.0"/><circle cx="301.4" cy="724.6" r="18.0"/><circle cx="84.9" cy="964.4" r="18.0"/><circle cx="275.2" cy="700.9" r="18.0"/><circle cx="328.7" cy="858.6" r="18.0"/><circle cx="127.5" cy="948.6" r="18.0"/><circle cx="311.9" cy="757.5" r="18.0"/><circle cx="56.2" cy="936.5" r="18.0"/><circle cx="73.4" cy="853.7" r="18.0"/><circle cx="225" cy="961.2" r="18.0"/><circle cx="46.1" cy="708.4" r="18.0"/><circle cx="98.1" cy="1023.8" r="18.0"/><circle cx="92.8" cy="933.3" r="18.0"/><circle cx="170.6" cy="949.8" r="18.0"/><circle cx="257.7" cy="990.1" r="18.0"/><circle cx="296" cy="852.1" r="18.0"/><circle cx="81.4" cy="813.5" r="18.0"/><circle cx="132.6" cy="977.9" r="18.0"/><circle cx="40" cy="818.4" r="18.0"/><circle cx="281.8" cy="899.2" r="18.0"/><circle cx="167.5" cy="1003.6" r="18.0"/><circle cx="81.6" cy="993.9" r="18.0"/><circle cx="205.4" cy="1024.7" r="18.0"/><circle cx="277.7" cy="791.6" r="18.0"/><circle cx="195.6" cy="984.3" r="18.0"/><circle cx="272.2" cy="754.5" r="18.0"/><circle cx="168.8" cy="1032.7" r="18.0"/><circle cx="246.1" cy="1021.4" r="18.0"/><circle cx="310.6" cy="1036.8" r="18.0"/><circle cx="56" cy="774.7" r="18.0"/><circle cx="134.1" cy="1015.5" r="18.0"/></g><g class="w"><circle cx="296.9" cy="837.1" r="13.6"/><circle cx="296.9" cy="896.5" r="13.6"/><circle cx="100.8" cy="718.4" r="13.6"/><circle cx="102" cy="897.4" r="13.6"/><circle cx="302.3" cy="968.7" r="13.6"/><circle cx="314.4" cy="858.3" r="13.6"/><circle cx="318.2" cy="938.8" r="13.6"/><circle cx="296.9" cy="1041.3" r="13.6"/><circle cx="311.9" cy="805.5" r="13.6"/><circle cx="43.8" cy="892.7" r="13.6"/><circle cx="256" cy="1005.9" r="13.6"/><circle cx="303.6" cy="708.6" r="13.6"/><circle cx="70.4" cy="778.8" r="13.6"/><circle cx="285.1" cy="811.1" r="13.6"/><circle cx="49.2" cy="863" r="13.6"/><circle cx="187.8" cy="1025.8" r="13.6"/><circle cx="45" cy="691.6" r="13.6"/><circle cx="290.6" cy="783" r="13.6"/><circle cx="138" cy="1031.1" r="13.6"/><circle cx="337" cy="899.6" r="13.6"/><circle cx="313" cy="874.2" r="13.6"/><circle cx="276.9" cy="969" r="13.6"/><circle cx="55.3" cy="953.9" r="13.6"/><circle cx="72.3" cy="910.7" r="13.6"/><circle cx="96.5" cy="749.5" r="13.6"/><circle cx="71.6" cy="974.1" r="13.6"/><circle cx="63.1" cy="704.3" r="13.6"/><circle cx="326.3" cy="873" r="13.6"/><circle cx="261.6" cy="975.4" r="13.6"/><circle cx="260.9" cy="1026.2" r="13.6"/><circle cx="78.3" cy="949.5" r="13.6"/><circle cx="308.5" cy="836.5" r="13.6"/><circle cx="100.8" cy="964.7" r="13.6"/><circle cx="214.5" cy="1038.6" r="13.6"/><circle cx="295.2" cy="751.4" r="13.6"/><circle cx="341.3" cy="938.4" r="13.6"/><circle cx="306.2" cy="893.3" r="13.6"/><circle cx="68.5" cy="885.9" r="13.6"/><circle cx="337.3" cy="844.7" r="13.6"/><circle cx="41.4" cy="934.7" r="13.6"/><circle cx="43.9" cy="786.9" r="13.6"/><circle cx="264.5" cy="1008.6" r="13.6"/><circle cx="324.9" cy="789.5" r="13.6"/><circle cx="122.2" cy="963.4" r="13.6"/><circle cx="284" cy="995.3" r="13.6"/><circle cx="293.4" cy="794.9" r="13.6"/><circle cx="319.8" cy="1023.1" r="13.6"/><circle cx="212.7" cy="999" r="13.6"/><circle cx="176" cy="988.2" r="13.6"/><circle cx="161.7" cy="1017.7" r="13.6"/><circle cx="84.4" cy="701.7" r="13.6"/><circle cx="107.9" cy="937.4" r="13.6"/><circle cx="121.6" cy="986.7" r="13.6"/><circle cx="148.6" cy="970.2" r="13.6"/><circle cx="274.7" cy="685.7" r="13.6"/><circle cx="216" cy="1014.5" r="13.6"/><circle cx="319.6" cy="769.7" r="13.6"/><circle cx="334.8" cy="896.9" r="13.6"/><circle cx="34.2" cy="718.4" r="13.6"/><circle cx="81.8" cy="875.6" r="13.6"/><circle cx="19" cy="864.9" r="13.6"/><circle cx="289.8" cy="708.8" r="13.6"/><circle cx="317.1" cy="730.3" r="13.6"/><circle cx="78.4" cy="867.7" r="13.6"/><circle cx="307.9" cy="861" r="13.6"/><circle cx="237.8" cy="967.7" r="13.6"/><circle cx="298.1" cy="775" r="13.6"/><circle cx="257" cy="942.1" r="13.6"/><circle cx="321.2" cy="962.1" r="13.6"/><circle cx="266.2" cy="802.5" r="13.6"/><circle cx="183.2" cy="959.5" r="13.6"/><circle cx="294.9" cy="1009.5" r="13.6"/><circle cx="325.6" cy="753" r="13.6"/><circle cx="73.5" cy="933.8" r="13.6"/><circle cx="259.2" cy="701.3" r="13.6"/><circle cx="263.1" cy="833.1" r="13.6"/><circle cx="79.5" cy="732" r="13.6"/><circle cx="211.4" cy="954.7" r="13.6"/><circle cx="70.3" cy="670.5" r="13.6"/><circle cx="90.4" cy="1039.9" r="13.6"/><circle cx="268.2" cy="905.1" r="13.6"/><circle cx="62.2" cy="759.9" r="13.6"/><circle cx="76.4" cy="933.5" r="13.6"/><circle cx="73.1" cy="767.4" r="13.6"/><circle cx="342.3" cy="1006.8" r="13.6"/><circle cx="186" cy="996.2" r="13.6"/><circle cx="191.5" cy="968.6" r="13.6"/><circle cx="170.8" cy="1049.4" r="13.6"/><circle cx="32.5" cy="806.4" r="13.6"/><circle cx="293.8" cy="831.8" r="13.6"/><circle cx="106.5" cy="770.7" r="13.6"/><circle cx="279.9" cy="858.3" r="13.6"/><circle cx="205.9" cy="997" r="13.6"/><circle cx="96" cy="809.7" r="13.6"/><circle cx="156.9" cy="1021.5" r="13.6"/><circle cx="138.5" cy="999.8" r="13.6"/><circle cx="66.9" cy="985.7" r="13.6"/><circle cx="83.8" cy="842" r="13.6"/><circle cx="43.8" cy="739.8" r="13.6"/><circle cx="109.4" cy="1010.7" r="13.6"/><circle cx="293.3" cy="738.5" r="13.6"/><circle cx="65.2" cy="718.6" r="13.6"/><circle cx="71.4" cy="745.6" r="13.6"/><circle cx="242.9" cy="996.6" r="13.6"/><circle cx="289.2" cy="952.3" r="13.6"/><circle cx="259.8" cy="761.8" r="13.6"/><circle cx="126.6" cy="932.8" r="13.6"/><circle cx="238.2" cy="1009.1" r="13.6"/><circle cx="170.7" cy="932.1" r="13.6"/><circle cx="284.1" cy="742.4" r="13.6"/><circle cx="94.5" cy="981.6" r="13.6"/><circle cx="85.2" cy="1010.6" r="13.6"/><circle cx="311.7" cy="1005.1" r="13.6"/><circle cx="64.4" cy="809.2" r="13.6"/><circle cx="133.6" cy="965.2" r="13.6"/><circle cx="281.9" cy="945.2" r="13.6"/><circle cx="54.2" cy="829.2" r="13.6"/><circle cx="60.3" cy="702.1" r="13.6"/><circle cx="330.3" cy="928.9" r="13.6"/><circle cx="261.6" cy="966.2" r="13.6"/><circle cx="56.5" cy="855.2" r="13.6"/></g><g class="u"><circle cx="34.5" cy="862.4" r="18.0"/><circle cx="320.3" cy="889.1" r="18.0"/><circle cx="290.5" cy="979.8" r="18.0"/><circle cx="278.3" cy="827.2" r="18.0"/><circle cx="309.7" cy="820.7" r="18.0"/><circle cx="228.3" cy="998.1" r="18.0"/><circle cx="90.9" cy="765" r="18.0"/><circle cx="311.9" cy="757.5" r="18.0"/><circle cx="73.4" cy="853.7" r="18.0"/><circle cx="98.1" cy="1023.8" r="18.0"/><circle cx="81.4" cy="813.5" r="18.0"/><circle cx="132.6" cy="977.9" r="18.0"/><circle cx="40" cy="818.4" r="18.0"/><circle cx="281.8" cy="899.2" r="18.0"/><circle cx="167.5" cy="1003.6" r="18.0"/><circle cx="205.4" cy="1024.7" r="18.0"/><circle cx="195.6" cy="984.3" r="18.0"/><circle cx="272.2" cy="754.5" r="18.0"/><circle cx="310.6" cy="1036.8" r="18.0"/><circle cx="56" cy="774.7" r="18.0"/></g>
<path d="M101.9 668.2L216.3 670.8L216.4 666.3L250.1 677.6L215.9 687.3L216 682.8L101.6 680.2 Z" fill="#9f9fc0" stroke="#55556a" stroke-width="0.8" stroke-linejoin="round"/><path d="M101.9 664.7L216.3 667.3L216.4 662.8L250.1 674.1L215.9 683.8L216 679.3L101.6 676.7 Z" fill="#cdcdea" stroke="#55556a" stroke-width="0.8" stroke-linejoin="round"/>
<path d="M254.6 714.1L129.1 719.4L129.3 723.4L98.9 715.1L128.5 704.4L128.7 708.4L254.1 703.1 Z" fill="#9f9fc0" stroke="#55556a" stroke-width="0.8" stroke-linejoin="round"/><path d="M254.6 710.6L129.1 715.9L129.3 719.9L98.9 711.6L128.5 700.9L128.7 704.9L254.1 699.6 Z" fill="#cdcdea" stroke="#55556a" stroke-width="0.8" stroke-linejoin="round"/>
<path d="M106.3 744L219.3 749.4L219.6 744.4L253 757.5L218.4 767.4L218.7 762.4L105.7 757 Z" fill="#9f9fc0" stroke="#55556a" stroke-width="0.8" stroke-linejoin="round"/><path d="M106.3 740.5L219.3 745.9L219.6 740.9L253 754L218.4 763.9L218.7 758.9L105.7 753.5 Z" fill="#cdcdea" stroke="#55556a" stroke-width="0.8" stroke-linejoin="round"/>
<path d="M250.9 805L137.8 794.1L137.3 799.1L104.6 784.4L139.5 776.2L139 781.2L252.2 792.1 Z" fill="#9f9fc0" stroke="#55556a" stroke-width="0.8" stroke-linejoin="round"/><path d="M250.9 801.5L137.8 790.6L137.3 795.6L104.6 780.9L139.5 772.7L139 777.7L252.2 788.6 Z" fill="#cdcdea" stroke="#55556a" stroke-width="0.8" stroke-linejoin="round"/>
<path d="M109.1 815.6L221.9 822.3L222.2 818.3L251.5 829.6L221 837.3L221.3 833.3L108.5 826.6 Z" fill="#9f9fc0" stroke="#55556a" stroke-width="0.8" stroke-linejoin="round"/><path d="M109.1 812.1L221.9 818.8L222.2 814.8L251.5 826.1L221 833.8L221.3 829.8L108.5 823.1 Z" fill="#cdcdea" stroke="#55556a" stroke-width="0.8" stroke-linejoin="round"/>
<path d="M253.5 878.4L144.4 863.3L143.7 868.3L111.6 852.2L146.9 845.5L146.2 850.5L255.3 865.6 Z" fill="#9f9fc0" stroke="#55556a" stroke-width="0.8" stroke-linejoin="round"/><path d="M253.5 874.9L144.4 859.8L143.7 864.8L111.6 848.7L146.9 842L146.2 847L255.3 862.1 Z" fill="#cdcdea" stroke="#55556a" stroke-width="0.8" stroke-linejoin="round"/>
<path d="M113.7 882.5L218.4 893.2L218.9 888.2L251.5 903.1L216.6 911.1L217.1 906.1L112.4 895.4 Z" fill="#9f9fc0" stroke="#55556a" stroke-width="0.8" stroke-linejoin="round"/><path d="M113.7 879L218.4 889.7L218.9 884.7L251.5 899.6L216.6 907.6L217.1 902.6L112.4 891.9 Z" fill="#cdcdea" stroke="#55556a" stroke-width="0.8" stroke-linejoin="round"/>
<path d="M253.8 952L139.3 942.2L138.9 947.1L106 932.8L140.8 924.2L140.4 929.2L254.9 939 Z" fill="#9f9fc0" stroke="#55556a" stroke-width="0.8" stroke-linejoin="round"/><path d="M253.8 948.5L139.3 938.7L138.9 943.6L106 929.3L140.8 920.7L140.4 925.7L254.9 935.5 Z" fill="#cdcdea" stroke="#55556a" stroke-width="0.8" stroke-linejoin="round"/>
<path d="M119.6 680.1L120.1 689.1M193.7 681.8L194.2 690.8M239.7 714.9L240.2 723.9M162 718.2L162.5 727.2M123.6 756.8L124.1 765.8M197.1 760.4L197.6 769.4M237.9 802.3L238.4 811.3M164.4 795.3L164.9 804.3M125.9 827.6L126.4 836.6M197.3 831.9L197.8 840.9M241.2 875.1L241.7 884.1M169.9 865.2L170.4 874.2M129.7 896.2L130.2 905.2M198.9 903.2L199.4 912.2M240.6 949.5L241.1 958.5M166.4 943.1L166.9 952.1" fill="none" stroke="#3e3e50" stroke-width="4.2" stroke-linecap="round"/>
<path d="M119.6 680.1L119.8 684.6M193.7 681.8L194 686.3M239.7 714.9L240 719.4M162 718.2L162.2 722.7M123.6 756.8L123.9 761.3M197.1 760.4L197.4 764.9M237.9 802.3L238.2 806.8M164.4 795.3L164.7 799.8M125.9 827.6L126.2 832.1M197.3 831.9L197.6 836.4M241.2 875.1L241.5 879.6M169.9 865.2L170.1 869.7M129.7 896.2L129.9 900.7M198.9 903.2L199.2 907.7M240.6 949.5L240.8 954M166.4 943.1L166.6 947.6" fill="none" stroke="#cfcfec" stroke-width="3.2" stroke-linecap="round"/>
<path d="M119.8 684.6L120.1 689.1M194 686.3L194.2 690.8M240 719.4L240.2 723.9M162.2 722.7L162.5 727.2M123.9 761.3L124.1 765.8M197.4 764.9L197.6 769.4M238.2 806.8L238.4 811.3M164.7 799.8L164.9 804.3M126.2 832.1L126.4 836.6M197.6 836.4L197.8 840.9M241.5 879.6L241.7 884.1M170.1 869.7L170.4 874.2M129.9 900.7L130.2 905.2M199.2 907.7L199.4 912.2M240.8 954L241.1 958.5M166.6 947.6L166.9 952.1" fill="none" stroke="#e8494b" stroke-width="3.2" stroke-linecap="butt"/>
<g fill="#e8494b"><circle cx="120.1" cy="689.1" r="1.6"/><circle cx="194.2" cy="690.8" r="1.6"/><circle cx="240.2" cy="723.9" r="1.6"/><circle cx="162.5" cy="727.2" r="1.6"/><circle cx="124.1" cy="765.8" r="1.6"/><circle cx="197.6" cy="769.4" r="1.6"/><circle cx="238.4" cy="811.3" r="1.6"/><circle cx="164.9" cy="804.3" r="1.6"/><circle cx="126.4" cy="836.6" r="1.6"/><circle cx="197.8" cy="840.9" r="1.6"/><circle cx="241.7" cy="884.1" r="1.6"/><circle cx="170.4" cy="874.2" r="1.6"/><circle cx="130.2" cy="905.2" r="1.6"/><circle cx="199.4" cy="912.2" r="1.6"/><circle cx="241.1" cy="958.5" r="1.6"/><circle cx="166.9" cy="952.1" r="1.6"/></g>
<g class="w"><circle cx="246.2" cy="872.3" r="13.6"/><circle cx="184.6" cy="850.9" r="13.6"/><circle cx="256.7" cy="803.6" r="13.6"/><circle cx="203.2" cy="680.3" r="13.6"/><circle cx="148" cy="705.1" r="13.6"/><circle cx="122.7" cy="810.5" r="13.6"/><circle cx="109" cy="736.8" r="13.6"/><circle cx="118" cy="778.4" r="13.6"/><circle cx="195.9" cy="938.5" r="13.6"/><circle cx="236.3" cy="740.4" r="13.6"/><circle cx="217.5" cy="913.7" r="13.6"/><circle cx="161.3" cy="730.4" r="13.6"/><circle cx="191.9" cy="767.6" r="13.6"/><circle cx="97.7" cy="708.5" r="13.6"/><circle cx="155.4" cy="788.8" r="13.6"/><circle cx="175.9" cy="823.9" r="13.6"/><circle cx="189.6" cy="906.2" r="13.6"/></g>
<path d="M98.9 656.2L86.3 655.5M86.3 655.5L85.3 652.3M85.3 652.3L97.2 651M97.2 651L105.6 653.5M105.6 653.5L98.9 656.2M86.3 655.5L79 657.1M97.2 651L102.4 645.6M98.9 656.2L101.7 670.7M193.2 661.2L194.9 649.6M194.9 649.6L206.5 647.5M206.5 647.5L212 657.9M212 657.9L203.8 666.4M203.8 666.4L193.2 661.2M194.9 649.6L189.5 644.3M212 657.9L219.4 659M193.2 661.2L178.1 669.2M265 691.1L262 679.7M262 679.7L271.9 673.4M271.9 673.4L281 680.9M281 680.9L276.7 691.8M276.7 691.8L265 691.1M262 679.7L255 677M281 680.9L288.3 679M265 691.1L251.5 707.4M152.4 693.2L142 698.6M142 698.6L138.5 696.6M138.5 696.6L146.7 690M146.7 690L155.2 687.9M155.2 687.9L152.4 693.2M142 698.6L136.9 704.1M152.4 693.2L169.6 707.4M200.3 726.7L203 720.5M203 720.5L212.3 713.8M212.3 713.8L215.3 715.8M215.3 715.8L207.9 723.8M207.9 723.8L200.3 726.7M215.3 715.8L221.8 712.1M200.3 726.7L180.9 747M96.6 734.4L89.1 732.4M89.1 732.4L95.2 727.9M95.2 727.9L106.5 727.1M106.5 727.1L107.3 731.2M107.3 731.2L96.6 734.4M89.1 732.4L81.7 733.7M106.5 727.1L113.3 724M96.6 734.4L96.1 752.6M266.7 771.4L261.5 760.9M261.5 760.9L269.9 752.6M269.9 752.6L280.3 758.1M280.3 758.1L278.3 769.7M278.3 769.7L266.7 771.4M261.5 760.9L254.1 759.6M280.3 758.1L287 754.7M266.7 771.4L254.4 795M184.8 768.7L186.2 763.7M186.2 763.7L195.8 757.1M195.8 757.1L200.5 757.9M200.5 757.9L193.7 765.1M193.7 765.1L184.8 768.7M186.2 763.7L178.8 765.2M184.8 768.7L175.2 783.7M209.9 804.2L209.2 792.4M209.2 792.4L220.2 788.2M220.2 788.2L227.6 797.3M227.6 797.3L221.3 807.2M221.3 807.2L209.9 804.2M209.2 792.4L202.9 788.4M227.6 797.3L235.1 796.8M209.9 804.2L186.5 823.3M105.2 798.4L100.6 795.9M100.6 795.9L109.4 792.1M109.4 792.1L119.3 792.4M119.3 792.4L116.7 796.3M116.7 796.3L105.2 798.4M119.3 792.4L126.5 790.3M105.2 798.4L98.9 820.5M163.2 843.3L151.6 842M151.6 842L149.2 830.5M149.2 830.5L159.4 824.6M159.4 824.6L168.1 832.6M168.1 832.6L163.2 843.3M151.6 842L146.5 847.5M159.4 824.6L160.2 817.2M163.2 843.3L169.6 854.4M258.2 844.6L249 837.3M249 837.3L253.1 826.3M253.1 826.3L264.8 826.8M264.8 826.8L268 838.1M268 838.1L258.2 844.6M249 837.3L241.8 839.3M264.8 826.8L269.5 820.9M258.2 844.6L257.2 868.5M181.8 859.9L177.3 858.4M177.3 858.4L179.8 847.4M179.8 847.4L185.7 842.1M185.7 842.1L186.9 849.9M186.9 849.9L181.8 859.9M177.3 858.4L172.9 864.4M181.8 859.9L192.2 885.5M90.7 870.5L80.1 875.5M80.1 875.5L72 867M72 867L77.7 856.6M77.7 856.6L89.2 858.8M89.2 858.8L90.7 870.5M80.1 875.5L78.7 882.9M77.7 856.6L74.5 849.9M90.7 870.5L113.1 882.6M262.1 915L254.3 906.2M254.3 906.2L260.3 896.1M260.3 896.1L271.8 898.7M271.8 898.7L272.9 910.4M272.9 910.4L262.1 915M254.3 906.2L246.8 906.8M271.8 898.7L277.4 893.7M262.1 915L257.2 936.3M170.4 917L159.2 920.3M159.2 920.3L152.5 910.6M152.5 910.6L159.7 901.3M159.7 901.3L170.8 905.2M170.8 905.2L170.4 917M159.2 920.3L156.7 927.4M159.7 901.3L157.6 894.1M170.4 917L180.9 925M119.9 1055.7L123.3 1058.8M123.3 1058.8L112.5 1060.6M112.5 1060.6L102.4 1058.6M102.4 1058.6L107 1055.6M107 1055.6L119.9 1055.7M123.3 1058.8L130.8 1059.5M119.9 1055.7L124.4 1043.7M205.4 1060.8L195.4 1064.9M195.4 1064.9L194.6 1061.3M194.6 1061.3L204.2 1054.9M204.2 1054.9L210.9 1054.6M210.9 1054.6L205.4 1060.8M195.4 1064.9L189.6 1069.7" fill="none" stroke="#3e3e50" stroke-width="5" stroke-linecap="round"/>
<path d="M98.9 656.2L92.6 655.9M85.3 652.3L91.3 651.6M105.6 653.5L98.9 656.2M98.9 656.2L101.7 670.7M193.2 661.2L194.1 655.4M206.5 647.5L209.2 652.7M203.8 666.4L193.2 661.2M193.2 661.2L178.1 669.2M265 691.1L263.5 685.4M271.9 673.4L276.5 677.1M276.7 691.8L265 691.1M265 691.1L251.5 707.4M152.4 693.2L147.2 695.9M138.5 696.6L142.6 693.3M155.2 687.9L152.4 693.2M152.4 693.2L169.6 707.4M200.3 726.7L201.6 723.6M212.3 713.8L213.8 714.8M207.9 723.8L200.3 726.7M200.3 726.7L180.9 747M96.6 734.4L92.8 733.4M95.2 727.9L100.8 727.5M107.3 731.2L96.6 734.4M96.6 734.4L96.1 752.6M266.7 771.4L264.1 766.1M269.9 752.6L275.1 755.3M278.3 769.7L266.7 771.4M266.7 771.4L254.4 795M184.8 768.7L185.5 766.2M195.8 757.1L198.2 757.5M193.7 765.1L184.8 768.7M184.8 768.7L175.2 783.7M209.9 804.2L209.6 798.3M220.2 788.2L223.9 792.7M221.3 807.2L209.9 804.2M209.9 804.2L186.5 823.3M105.2 798.4L102.9 797.2M109.4 792.1L114.3 792.3M116.7 796.3L105.2 798.4M105.2 798.4L98.9 820.5M163.2 843.3L157.4 842.6M149.2 830.5L154.3 827.6M168.1 832.6L163.2 843.3M163.2 843.3L169.6 854.4M258.2 844.6L253.6 840.9M253.1 826.3L259 826.5M268 838.1L258.2 844.6M258.2 844.6L257.2 868.5M181.8 859.9L179.5 859.2M179.8 847.4L182.7 844.8M186.9 849.9L181.8 859.9M181.8 859.9L192.2 885.5M90.7 870.5L85.4 873M72 867L74.9 861.8M89.2 858.8L90.7 870.5M90.7 870.5L113.1 882.6M262.1 915L258.2 910.6M260.3 896.1L266.1 897.4M272.9 910.4L262.1 915M262.1 915L257.2 936.3M170.4 917L164.8 918.7M152.5 910.6L156.1 906M170.8 905.2L170.4 917M170.4 917L180.9 925M119.9 1055.7L121.6 1057.3M112.5 1060.6L107.5 1059.6M107 1055.6L119.9 1055.7M119.9 1055.7L124.4 1043.7M205.4 1060.8L200.4 1062.8M194.6 1061.3L199.4 1058.1M210.9 1054.6L205.4 1060.8" fill="none" stroke="#cfcfec" stroke-width="4" stroke-linecap="round"/>
<path d="M86.3 655.5L85.8 653.9M97.2 651L101.4 652.3M86.3 655.5L82.7 656.3M97.2 651L99.8 648.3M194.9 649.6L200.7 648.6M212 657.9L207.9 662.2M194.9 649.6L192.2 647M212 657.9L215.7 658.5M262 679.7L267 676.6M281 680.9L278.9 686.3M262 679.7L258.5 678.3M281 680.9L284.6 679.9M142 698.6L140.3 697.6M146.7 690L151 688.9M142 698.6L139.5 701.4M203 720.5L207.6 717.1M215.3 715.8L211.6 719.8M215.3 715.8L218.6 713.9M89.1 732.4L92.1 730.1M106.5 727.1L106.9 729.1M89.1 732.4L85.4 733M106.5 727.1L109.9 725.6M261.5 760.9L265.7 756.7M280.3 758.1L279.3 763.9M261.5 760.9L257.8 760.2M280.3 758.1L283.6 756.4M186.2 763.7L191 760.4M200.5 757.9L197.1 761.5M186.2 763.7L182.5 764.5M209.2 792.4L214.7 790.3M227.6 797.3L224.4 802.2M209.2 792.4L206.1 790.4M227.6 797.3L231.4 797.1M100.6 795.9L105 794M119.3 792.4L118 794.3M119.3 792.4L122.9 791.3M151.6 842L150.4 836.2M159.4 824.6L163.7 828.6M151.6 842L149 844.8M159.4 824.6L159.8 820.9M249 837.3L251 831.8M264.8 826.8L266.4 832.4M249 837.3L245.4 838.3M264.8 826.8L267.2 823.8M177.3 858.4L178.5 852.9M185.7 842.1L186.3 846M177.3 858.4L175.1 861.4M80.1 875.5L76.1 871.2M77.7 856.6L83.5 857.7M80.1 875.5L79.4 879.2M77.7 856.6L76.1 853.3M254.3 906.2L257.3 901.1M271.8 898.7L272.3 904.5M254.3 906.2L250.6 906.5M271.8 898.7L274.6 896.2M159.2 920.3L155.8 915.5M159.7 901.3L165.2 903.3M159.2 920.3L157.9 923.9M159.7 901.3L158.6 897.7M123.3 1058.8L117.9 1059.7M102.4 1058.6L104.7 1057.1M123.3 1058.8L127.1 1059.2M195.4 1064.9L195 1063.1M204.2 1054.9L207.5 1054.7M195.4 1064.9L192.5 1067.3" fill="none" stroke="#2b4da6" stroke-width="4" stroke-linecap="butt"/>
<path d="M92.6 655.9L86.3 655.5M91.3 651.6L97.2 651M194.1 655.4L194.9 649.6M209.2 652.7L212 657.9M263.5 685.4L262 679.7M276.5 677.1L281 680.9M147.2 695.9L142 698.6M142.6 693.3L146.7 690M201.6 723.6L203 720.5M213.8 714.8L215.3 715.8M92.8 733.4L89.1 732.4M100.8 727.5L106.5 727.1M264.1 766.1L261.5 760.9M275.1 755.3L280.3 758.1M185.5 766.2L186.2 763.7M198.2 757.5L200.5 757.9M209.6 798.3L209.2 792.4M223.9 792.7L227.6 797.3M102.9 797.2L100.6 795.9M114.3 792.3L119.3 792.4M157.4 842.6L151.6 842M154.3 827.6L159.4 824.6M253.6 840.9L249 837.3M259 826.5L264.8 826.8M179.5 859.2L177.3 858.4M182.7 844.8L185.7 842.1M85.4 873L80.1 875.5M74.9 861.8L77.7 856.6M258.2 910.6L254.3 906.2M266.1 897.4L271.8 898.7M164.8 918.7L159.2 920.3M156.1 906L159.7 901.3M121.6 1057.3L123.3 1058.8M107.5 1059.6L102.4 1058.6M200.4 1062.8L195.4 1064.9M199.4 1058.1L204.2 1054.9" fill="none" stroke="#2b4da6" stroke-width="4" stroke-linecap="butt"/>
<path d="M82.7 656.3L79 657.1M99.8 648.3L102.4 645.6M192.2 647L189.5 644.3M215.7 658.5L219.4 659M258.5 678.3L255 677M284.6 679.9L288.3 679M139.5 701.4L136.9 704.1M218.6 713.9L221.8 712.1M85.4 733L81.7 733.7M109.9 725.6L113.3 724M257.8 760.2L254.1 759.6M283.6 756.4L287 754.7M182.5 764.5L178.8 765.2M206.1 790.4L202.9 788.4M231.4 797.1L235.1 796.8M122.9 791.3L126.5 790.3M149 844.8L146.5 847.5M159.8 820.9L160.2 817.2M245.4 838.3L241.8 839.3M267.2 823.8L269.5 820.9M175.1 861.4L172.9 864.4M79.4 879.2L78.7 882.9M76.1 853.3L74.5 849.9M250.6 906.5L246.8 906.8M274.6 896.2L277.4 893.7M157.9 923.9L156.7 927.4M158.6 897.7L157.6 894.1M127.1 1059.2L130.8 1059.5M192.5 1067.3L189.6 1069.7" fill="none" stroke="#e9e9e4" stroke-width="4" stroke-linecap="butt"/>
<path d="M85.8 653.9L85.3 652.3M101.4 652.3L105.6 653.5M200.7 648.6L206.5 647.5M207.9 662.2L203.8 666.4M267 676.6L271.9 673.4M278.9 686.3L276.7 691.8M140.3 697.6L138.5 696.6M151 688.9L155.2 687.9M207.6 717.1L212.3 713.8M211.6 719.8L207.9 723.8M92.1 730.1L95.2 727.9M106.9 729.1L107.3 731.2M265.7 756.7L269.9 752.6M279.3 763.9L278.3 769.7M191 760.4L195.8 757.1M197.1 761.5L193.7 765.1M214.7 790.3L220.2 788.2M224.4 802.2L221.3 807.2M105 794L109.4 792.1M118 794.3L116.7 796.3M150.4 836.2L149.2 830.5M163.7 828.6L168.1 832.6M251 831.8L253.1 826.3M266.4 832.4L268 838.1M178.5 852.9L179.8 847.4M186.3 846L186.9 849.9M76.1 871.2L72 867M83.5 857.7L89.2 858.8M257.3 901.1L260.3 896.1M272.3 904.5L272.9 910.4M155.8 915.5L152.5 910.6M165.2 903.3L170.8 905.2M117.9 1059.7L112.5 1060.6M104.7 1057.1L107 1055.6M195 1063.1L194.6 1061.3M207.5 1054.7L210.9 1054.6" fill="none" stroke="#cfcfec" stroke-width="4" stroke-linecap="butt"/>
<g fill="#2b4da6"><circle cx="86.3" cy="655.5" r="2"/><circle cx="86.3" cy="655.5" r="2"/><circle cx="97.2" cy="651" r="2"/><circle cx="97.2" cy="651" r="2"/><circle cx="86.3" cy="655.5" r="2"/><circle cx="97.2" cy="651" r="2"/><circle cx="194.9" cy="649.6" r="2"/><circle cx="194.9" cy="649.6" r="2"/><circle cx="212" cy="657.9" r="2"/><circle cx="212" cy="657.9" r="2"/><circle cx="194.9" cy="649.6" r="2"/><circle cx="212" cy="657.9" r="2"/><circle cx="262" cy="679.7" r="2"/><circle cx="262" cy="679.7" r="2"/><circle cx="281" cy="680.9" r="2"/><circle cx="281" cy="680.9" r="2"/><circle cx="262" cy="679.7" r="2"/><circle cx="281" cy="680.9" r="2"/><circle cx="142" cy="698.6" r="2"/><circle cx="142" cy="698.6" r="2"/><circle cx="146.7" cy="690" r="2"/><circle cx="146.7" cy="690" r="2"/><circle cx="142" cy="698.6" r="2"/><circle cx="203" cy="720.5" r="2"/><circle cx="203" cy="720.5" r="2"/><circle cx="215.3" cy="715.8" r="2"/><circle cx="215.3" cy="715.8" r="2"/><circle cx="215.3" cy="715.8" r="2"/><circle cx="89.1" cy="732.4" r="2"/><circle cx="89.1" cy="732.4" r="2"/><circle cx="106.5" cy="727.1" r="2"/><circle cx="106.5" cy="727.1" r="2"/><circle cx="89.1" cy="732.4" r="2"/><circle cx="106.5" cy="727.1" r="2"/><circle cx="261.5" cy="760.9" r="2"/><circle cx="261.5" cy="760.9" r="2"/><circle cx="280.3" cy="758.1" r="2"/><circle cx="280.3" cy="758.1" r="2"/><circle cx="261.5" cy="760.9" r="2"/><circle cx="280.3" cy="758.1" r="2"/><circle cx="186.2" cy="763.7" r="2"/><circle cx="186.2" cy="763.7" r="2"/><circle cx="200.5" cy="757.9" r="2"/><circle cx="200.5" cy="757.9" r="2"/><circle cx="186.2" cy="763.7" r="2"/><circle cx="209.2" cy="792.4" r="2"/><circle cx="209.2" cy="792.4" r="2"/><circle cx="227.6" cy="797.3" r="2"/><circle cx="227.6" cy="797.3" r="2"/><circle cx="209.2" cy="792.4" r="2"/><circle cx="227.6" cy="797.3" r="2"/><circle cx="100.6" cy="795.9" r="2"/><circle cx="100.6" cy="795.9" r="2"/><circle cx="119.3" cy="792.4" r="2"/><circle cx="119.3" cy="792.4" r="2"/><circle cx="119.3" cy="792.4" r="2"/><circle cx="151.6" cy="842" r="2"/><circle cx="151.6" cy="842" r="2"/><circle cx="159.4" cy="824.6" r="2"/><circle cx="159.4" cy="824.6" r="2"/><circle cx="151.6" cy="842" r="2"/><circle cx="159.4" cy="824.6" r="2"/><circle cx="249" cy="837.3" r="2"/><circle cx="249" cy="837.3" r="2"/><circle cx="264.8" cy="826.8" r="2"/><circle cx="264.8" cy="826.8" r="2"/><circle cx="249" cy="837.3" r="2"/><circle cx="264.8" cy="826.8" r="2"/><circle cx="177.3" cy="858.4" r="2"/><circle cx="177.3" cy="858.4" r="2"/><circle cx="185.7" cy="842.1" r="2"/><circle cx="185.7" cy="842.1" r="2"/><circle cx="177.3" cy="858.4" r="2"/><circle cx="80.1" cy="875.5" r="2"/><circle cx="80.1" cy="875.5" r="2"/><circle cx="77.7" cy="856.6" r="2"/><circle cx="77.7" cy="856.6" r="2"/><circle cx="80.1" cy="875.5" r="2"/><circle cx="77.7" cy="856.6" r="2"/><circle cx="254.3" cy="906.2" r="2"/><circle cx="254.3" cy="906.2" r="2"/><circle cx="271.8" cy="898.7" r="2"/><circle cx="271.8" cy="898.7" r="2"/><circle cx="254.3" cy="906.2" r="2"/><circle cx="271.8" cy="898.7" r="2"/><circle cx="159.2" cy="920.3" r="2"/><circle cx="159.2" cy="920.3" r="2"/><circle cx="159.7" cy="901.3" r="2"/><circle cx="159.7" cy="901.3" r="2"/><circle cx="159.2" cy="920.3" r="2"/><circle cx="159.7" cy="901.3" r="2"/><circle cx="123.3" cy="1058.8" r="2"/><circle cx="123.3" cy="1058.8" r="2"/><circle cx="102.4" cy="1058.6" r="2"/><circle cx="102.4" cy="1058.6" r="2"/><circle cx="123.3" cy="1058.8" r="2"/><circle cx="195.4" cy="1064.9" r="2"/><circle cx="195.4" cy="1064.9" r="2"/><circle cx="204.2" cy="1054.9" r="2"/><circle cx="204.2" cy="1054.9" r="2"/><circle cx="195.4" cy="1064.9" r="2"/></g>
<g fill="#e9e9e4"><circle cx="79" cy="657.1" r="2"/><circle cx="102.4" cy="645.6" r="2"/><circle cx="189.5" cy="644.3" r="2"/><circle cx="219.4" cy="659" r="2"/><circle cx="255" cy="677" r="2"/><circle cx="288.3" cy="679" r="2"/><circle cx="136.9" cy="704.1" r="2"/><circle cx="221.8" cy="712.1" r="2"/><circle cx="81.7" cy="733.7" r="2"/><circle cx="113.3" cy="724" r="2"/><circle cx="254.1" cy="759.6" r="2"/><circle cx="287" cy="754.7" r="2"/><circle cx="178.8" cy="765.2" r="2"/><circle cx="202.9" cy="788.4" r="2"/><circle cx="235.1" cy="796.8" r="2"/><circle cx="126.5" cy="790.3" r="2"/><circle cx="146.5" cy="847.5" r="2"/><circle cx="160.2" cy="817.2" r="2"/><circle cx="241.8" cy="839.3" r="2"/><circle cx="269.5" cy="820.9" r="2"/><circle cx="172.9" cy="864.4" r="2"/><circle cx="78.7" cy="882.9" r="2"/><circle cx="74.5" cy="849.9" r="2"/><circle cx="246.8" cy="906.8" r="2"/><circle cx="277.4" cy="893.7" r="2"/><circle cx="156.7" cy="927.4" r="2"/><circle cx="157.6" cy="894.1" r="2"/><circle cx="130.8" cy="1059.5" r="2"/><circle cx="189.6" cy="1069.7" r="2"/></g>
<g class="v"><circle cx="302.2" cy="793" r="18.0"/><circle cx="154.3" cy="996.6" r="18.0"/><circle cx="274.1" cy="705.1" r="18.0"/><circle cx="292.4" cy="920.8" r="18.0"/><circle cx="333.9" cy="1009.9" r="18.0"/><circle cx="52.3" cy="841.5" r="18.0"/><circle cx="67" cy="898.5" r="18.0"/><circle cx="203.2" cy="958.2" r="18.0"/><circle cx="243.8" cy="988.7" r="18.0"/><circle cx="321" cy="966.8" r="18.0"/><circle cx="303.4" cy="743.1" r="18.0"/></g><g class="w"><circle cx="296.4" cy="730" r="13.6"/><circle cx="310.4" cy="759.2" r="13.6"/><circle cx="268.6" cy="689.1" r="13.6"/><circle cx="332.8" cy="993.3" r="13.6"/><circle cx="314.7" cy="786.2" r="13.6"/><circle cx="289.5" cy="705.6" r="13.6"/><circle cx="53.8" cy="856" r="13.6"/><circle cx="261.3" cy="716.9" r="13.6"/><circle cx="237.4" cy="975.6" r="13.6"/><circle cx="218.7" cy="959.6" r="13.6"/><circle cx="330.1" cy="977.5" r="13.6"/><circle cx="138.9" cy="998.7" r="13.6"/><circle cx="67" cy="883.5" r="13.6"/><circle cx="257" cy="994.5" r="13.6"/><circle cx="70" cy="912.8" r="13.6"/><circle cx="327.4" cy="1025.9" r="13.6"/><circle cx="230" cy="996.2" r="13.6"/><circle cx="286.1" cy="907" r="13.6"/><circle cx="301.2" cy="810.9" r="13.6"/><circle cx="50.8" cy="824.7" r="13.6"/><circle cx="305.8" cy="966.3" r="13.6"/><circle cx="153" cy="982.1" r="13.6"/><circle cx="289.4" cy="785.7" r="13.6"/><circle cx="185.5" cy="957.4" r="13.6"/><circle cx="170.5" cy="1000.1" r="13.6"/><circle cx="291.3" cy="934.7" r="13.6"/><circle cx="307.7" cy="912" r="13.6"/></g><g class="u"><circle cx="154.3" cy="996.6" r="18.0"/><circle cx="274.1" cy="705.1" r="18.0"/><circle cx="67" cy="898.5" r="18.0"/><circle cx="203.2" cy="958.2" r="18.0"/><circle cx="303.4" cy="743.1" r="18.0"/></g>
</g>
<g>
<path d="M679.6 1034.9L566.6 1028.4L566.2 1033.9L533.1 1019L567.7 1008L567.4 1013.4L680.5 1020 Z" fill="#9f9fc0" stroke="#55556a" stroke-width="0.8" stroke-linejoin="round"/><path d="M679.6 1031.4L566.6 1024.9L566.2 1030.4L533.1 1015.5L567.7 1004.5L567.4 1009.9L680.5 1016.5 Z" fill="#cdcdea" stroke="#55556a" stroke-width="0.8" stroke-linejoin="round"/>
<g fill="#8f8fa6"><circle cx="464.9" cy="749.6" r="21"/><circle cx="611.7" cy="747.1" r="21"/><circle cx="594.8" cy="1000.8" r="21"/><circle cx="572" cy="993.3" r="21"/><circle cx="666.3" cy="786.9" r="21"/><circle cx="648" cy="935.7" r="21"/><circle cx="547.7" cy="995.7" r="21"/><circle cx="745" cy="896.7" r="21"/><circle cx="695.9" cy="779.5" r="21"/><circle cx="688.5" cy="704.4" r="21"/><circle cx="663.7" cy="984.2" r="21"/><circle cx="476.5" cy="725.7" r="21"/><circle cx="592.9" cy="878.5" r="21"/><circle cx="513" cy="881.2" r="21"/><circle cx="482" cy="762.4" r="21"/><circle cx="544.8" cy="720.4" r="21"/><circle cx="702.1" cy="957.2" r="21"/><circle cx="710.6" cy="761.5" r="21"/><circle cx="551.6" cy="775.5" r="21"/><circle cx="567.8" cy="830" r="21"/><circle cx="734.8" cy="777.8" r="21"/><circle cx="602.4" cy="976.5" r="21"/><circle cx="459.1" cy="770.6" r="21"/><circle cx="545" cy="880.6" r="21"/><circle cx="652.2" cy="904.2" r="21"/><circle cx="704.2" cy="741.3" r="21"/><circle cx="565.8" cy="926.6" r="21"/><circle cx="648.5" cy="1001.7" r="21"/><circle cx="493.8" cy="740.1" r="21"/><circle cx="724.7" cy="887.3" r="21"/><circle cx="704.9" cy="1004.9" r="21"/><circle cx="690.4" cy="984.7" r="21"/><circle cx="744.7" cy="860.8" r="21"/><circle cx="624.2" cy="980.7" r="21"/><circle cx="665.9" cy="850.3" r="21"/><circle cx="672.4" cy="738.6" r="21"/><circle cx="574.4" cy="719.3" r="21"/><circle cx="465.3" cy="949.2" r="21"/><circle cx="507.1" cy="808.7" r="21"/><circle cx="715.8" cy="789.9" r="21"/><circle cx="596" cy="700" r="21"/><circle cx="539.4" cy="923.3" r="21"/><circle cx="589" cy="741.7" r="21"/><circle cx="630.5" cy="828.7" r="21"/><circle cx="559.7" cy="967.3" r="21"/><circle cx="595.4" cy="800.8" r="21"/><circle cx="574.7" cy="697.7" r="21"/><circle cx="685.7" cy="807.6" r="21"/><circle cx="732.2" cy="836.7" r="21"/><circle cx="520.6" cy="707.4" r="21"/><circle cx="518.9" cy="827.9" r="21"/><circle cx="719.9" cy="857.1" r="21"/><circle cx="604" cy="770.6" r="21"/><circle cx="547.4" cy="947.8" r="21"/><circle cx="539.5" cy="835.7" r="21"/><circle cx="641" cy="848.7" r="21"/><circle cx="606.8" cy="822" r="21"/><circle cx="487.7" cy="945.1" r="21"/><circle cx="538.4" cy="967.5" r="21"/><circle cx="703.7" cy="838.8" r="21"/><circle cx="630.2" cy="805.1" r="21"/><circle cx="702.2" cy="915.4" r="21"/><circle cx="494.3" cy="902.2" r="21"/><circle cx="576" cy="787.7" r="21"/><circle cx="646.1" cy="757.7" r="21"/><circle cx="519" cy="910" r="21"/><circle cx="464.8" cy="887.2" r="21"/><circle cx="652.7" cy="808.8" r="21"/><circle cx="670.4" cy="762.1" r="21"/><circle cx="528.5" cy="859.7" r="21"/><circle cx="634.8" cy="778.1" r="21"/><circle cx="478.1" cy="812" r="21"/><circle cx="590.5" cy="838.6" r="21"/><circle cx="570.1" cy="863" r="21"/><circle cx="713.4" cy="980.2" r="21"/><circle cx="627.7" cy="895.9" r="21"/><circle cx="669.3" cy="827.7" r="21"/><circle cx="620.6" cy="873.9" r="21"/><circle cx="728.9" cy="1022.7" r="21"/><circle cx="611.9" cy="842.4" r="21"/><circle cx="546.3" cy="903.3" r="21"/><circle cx="605.4" cy="898" r="21"/><circle cx="714.2" cy="715" r="21"/><circle cx="498.8" cy="836.7" r="21"/><circle cx="462.5" cy="791.3" r="21"/><circle cx="712.2" cy="816.3" r="21"/><circle cx="604.3" cy="947.6" r="21"/><circle cx="497.1" cy="988.3" r="21"/><circle cx="553.3" cy="745" r="21"/><circle cx="522.4" cy="992.8" r="21"/><circle cx="544.5" cy="808" r="21"/><circle cx="466" cy="830.3" r="21"/><circle cx="477.6" cy="861" r="21"/><circle cx="481.4" cy="971.6" r="21"/><circle cx="585.9" cy="959.7" r="21"/><circle cx="623.9" cy="919.4" r="21"/><circle cx="736.3" cy="991.3" r="21"/><circle cx="740.5" cy="965.3" r="21"/><circle cx="724.7" cy="950.6" r="21"/><circle cx="571.5" cy="888.2" r="21"/><circle cx="614.4" cy="789.8" r="21"/><circle cx="511.9" cy="958.5" r="21"/><circle cx="668.9" cy="922.4" r="21"/><circle cx="702.8" cy="871.1" r="21"/><circle cx="525.4" cy="731" r="21"/><circle cx="499.2" cy="695.5" r="21"/><circle cx="473.2" cy="704.2" r="21"/><circle cx="572" cy="760.6" r="21"/><circle cx="693.4" cy="892" r="21"/><circle cx="509.7" cy="758.2" r="21"/><circle cx="530.5" cy="783.1" r="21"/><circle cx="736.9" cy="917.2" r="21"/><circle cx="620.3" cy="692.5" r="21"/><circle cx="621.2" cy="1003.5" r="21"/><circle cx="502.6" cy="927.3" r="21"/><circle cx="494.3" cy="790.3" r="21"/><circle cx="655.2" cy="709.5" r="21"/><circle cx="645.3" cy="957.1" r="21"/><circle cx="553.8" cy="688.5" r="21"/><circle cx="610.1" cy="716.3" r="21"/><circle cx="471.3" cy="908.2" r="21"/><circle cx="734.5" cy="800.8" r="21"/><circle cx="485.8" cy="881.5" r="21"/><circle cx="586.5" cy="912.9" r="21"/><circle cx="745.6" cy="943.1" r="21"/><circle cx="630.9" cy="721.7" r="21"/><circle cx="674" cy="956.8" r="21"/><circle cx="732.7" cy="750.6" r="21"/><circle cx="647.1" cy="736.1" r="21"/><circle cx="533.6" cy="757.5" r="21"/><circle cx="662.4" cy="872.9" r="21"/><circle cx="693.6" cy="937.2" r="21"/><circle cx="573.1" cy="809.4" r="21"/></g>
<g class="v"><circle cx="464.9" cy="749.6" r="18.0"/><circle cx="611.7" cy="747.1" r="18.0"/><circle cx="594.8" cy="1000.8" r="18.0"/><circle cx="572" cy="993.3" r="18.0"/><circle cx="666.3" cy="786.9" r="18.0"/><circle cx="648" cy="935.7" r="18.0"/><circle cx="547.7" cy="995.7" r="18.0"/><circle cx="745" cy="896.7" r="18.0"/><circle cx="695.9" cy="779.5" r="18.0"/><circle cx="688.5" cy="704.4" r="18.0"/><circle cx="663.7" cy="984.2" r="18.0"/><circle cx="476.5" cy="725.7" r="18.0"/><circle cx="592.9" cy="878.5" r="18.0"/><circle cx="513" cy="881.2" r="18.0"/><circle cx="482" cy="762.4" r="18.0"/><circle cx="544.8" cy="720.4" r="18.0"/><circle cx="702.1" cy="957.2" r="18.0"/><circle cx="710.6" cy="761.5" r="18.0"/><circle cx="551.6" cy="775.5" r="18.0"/><circle cx="567.8" cy="830" r="18.0"/><circle cx="734.8" cy="777.8" r="18.0"/><circle cx="602.4" cy="976.5" r="18.0"/><circle cx="459.1" cy="770.6" r="18.0"/><circle cx="545" cy="880.6" r="18.0"/><circle cx="652.2" cy="904.2" r="18.0"/><circle cx="704.2" cy="741.3" r="18.0"/><circle cx="565.8" cy="926.6" r="18.0"/><circle cx="648.5" cy="1001.7" r="18.0"/><circle cx="493.8" cy="740.1" r="18.0"/><circle cx="724.7" cy="887.3" r="18.0"/><circle cx="704.9" cy="1004.9" r="18.0"/><circle cx="690.4" cy="984.7" r="18.0"/><circle cx="744.7" cy="860.8" r="18.0"/><circle cx="624.2" cy="980.7" r="18.0"/><circle cx="665.9" cy="850.3" r="18.0"/><circle cx="672.4" cy="738.6" r="18.0"/><circle cx="574.4" cy="719.3" r="18.0"/><circle cx="465.3" cy="949.2" r="18.0"/><circle cx="507.1" cy="808.7" r="18.0"/><circle cx="715.8" cy="789.9" r="18.0"/><circle cx="596" cy="700" r="18.0"/><circle cx="539.4" cy="923.3" r="18.0"/><circle cx="589" cy="741.7" r="18.0"/><circle cx="630.5" cy="828.7" r="18.0"/><circle cx="559.7" cy="967.3" r="18.0"/><circle cx="595.4" cy="800.8" r="18.0"/><circle cx="574.7" cy="697.7" r="18.0"/><circle cx="685.7" cy="807.6" r="18.0"/><circle cx="732.2" cy="836.7" r="18.0"/><circle cx="520.6" cy="707.4" r="18.0"/><circle cx="518.9" cy="827.9" r="18.0"/><circle cx="719.9" cy="857.1" r="18.0"/><circle cx="604" cy="770.6" r="18.0"/><circle cx="547.4" cy="947.8" r="18.0"/><circle cx="539.5" cy="835.7" r="18.0"/><circle cx="641" cy="848.7" r="18.0"/><circle cx="606.8" cy="822" r="18.0"/><circle cx="487.7" cy="945.1" r="18.0"/><circle cx="538.4" cy="967.5" r="18.0"/><circle cx="703.7" cy="838.8" r="18.0"/><circle cx="630.2" cy="805.1" r="18.0"/><circle cx="702.2" cy="915.4" r="18.0"/><circle cx="494.3" cy="902.2" r="18.0"/><circle cx="576" cy="787.7" r="18.0"/><circle cx="646.1" cy="757.7" r="18.0"/><circle cx="519" cy="910" r="18.0"/><circle cx="464.8" cy="887.2" r="18.0"/><circle cx="652.7" cy="808.8" r="18.0"/><circle cx="670.4" cy="762.1" r="18.0"/><circle cx="528.5" cy="859.7" r="18.0"/><circle cx="634.8" cy="778.1" r="18.0"/><circle cx="478.1" cy="812" r="18.0"/><circle cx="590.5" cy="838.6" r="18.0"/><circle cx="570.1" cy="863" r="18.0"/><circle cx="713.4" cy="980.2" r="18.0"/><circle cx="627.7" cy="895.9" r="18.0"/><circle cx="669.3" cy="827.7" r="18.0"/><circle cx="620.6" cy="873.9" r="18.0"/><circle cx="728.9" cy="1022.7" r="18.0"/><circle cx="611.9" cy="842.4" r="18.0"/><circle cx="546.3" cy="903.3" r="18.0"/><circle cx="605.4" cy="898" r="18.0"/><circle cx="714.2" cy="715" r="18.0"/><circle cx="498.8" cy="836.7" r="18.0"/><circle cx="462.5" cy="791.3" r="18.0"/><circle cx="712.2" cy="816.3" r="18.0"/><circle cx="604.3" cy="947.6" r="18.0"/><circle cx="497.1" cy="988.3" r="18.0"/><circle cx="553.3" cy="745" r="18.0"/><circle cx="522.4" cy="992.8" r="18.0"/><circle cx="544.5" cy="808" r="18.0"/><circle cx="466" cy="830.3" r="18.0"/><circle cx="477.6" cy="861" r="18.0"/><circle cx="481.4" cy="971.6" r="18.0"/><circle cx="585.9" cy="959.7" r="18.0"/><circle cx="623.9" cy="919.4" r="18.0"/><circle cx="736.3" cy="991.3" r="18.0"/><circle cx="740.5" cy="965.3" r="18.0"/><circle cx="724.7" cy="950.6" r="18.0"/><circle cx="571.5" cy="888.2" r="18.0"/><circle cx="614.4" cy="789.8" r="18.0"/><circle cx="511.9" cy="958.5" r="18.0"/><circle cx="668.9" cy="922.4" r="18.0"/><circle cx="702.8" cy="871.1" r="18.0"/><circle cx="525.4" cy="731" r="18.0"/><circle cx="499.2" cy="695.5" r="18.0"/><circle cx="473.2" cy="704.2" r="18.0"/><circle cx="572" cy="760.6" r="18.0"/><circle cx="693.4" cy="892" r="18.0"/><circle cx="509.7" cy="758.2" r="18.0"/><circle cx="530.5" cy="783.1" r="18.0"/><circle cx="736.9" cy="917.2" r="18.0"/><circle cx="620.3" cy="692.5" r="18.0"/><circle cx="621.2" cy="1003.5" r="18.0"/><circle cx="502.6" cy="927.3" r="18.0"/><circle cx="494.3" cy="790.3" r="18.0"/><circle cx="655.2" cy="709.5" r="18.0"/><circle cx="645.3" cy="957.1" r="18.0"/><circle cx="553.8" cy="688.5" r="18.0"/><circle cx="610.1" cy="716.3" r="18.0"/><circle cx="471.3" cy="908.2" r="18.0"/><circle cx="734.5" cy="800.8" r="18.0"/><circle cx="485.8" cy="881.5" r="18.0"/><circle cx="586.5" cy="912.9" r="18.0"/><circle cx="745.6" cy="943.1" r="18.0"/><circle cx="630.9" cy="721.7" r="18.0"/><circle cx="674" cy="956.8" r="18.0"/><circle cx="732.7" cy="750.6" r="18.0"/><circle cx="647.1" cy="736.1" r="18.0"/><circle cx="533.6" cy="757.5" r="18.0"/><circle cx="662.4" cy="872.9" r="18.0"/><circle cx="693.6" cy="937.2" r="18.0"/><circle cx="573.1" cy="809.4" r="18.0"/></g><g class="w"><circle cx="462.4" cy="695.6" r="13.6"/><circle cx="681.7" cy="899.5" r="13.6"/><circle cx="735.6" cy="977.4" r="13.6"/><circle cx="486.3" cy="800.8" r="13.6"/><circle cx="580.9" cy="708.5" r="13.6"/><circle cx="636.9" cy="944.2" r="13.6"/><circle cx="471.5" cy="801.4" r="13.6"/><circle cx="652" cy="889.3" r="13.6"/><circle cx="474.9" cy="891.4" r="13.6"/><circle cx="656.1" cy="721.9" r="13.6"/><circle cx="563.7" cy="769.2" r="13.6"/><circle cx="709.4" cy="801.8" r="13.6"/><circle cx="489.3" cy="728.2" r="13.6"/><circle cx="700.5" cy="812.1" r="13.6"/><circle cx="757.2" cy="890.6" r="13.6"/><circle cx="540.7" cy="709.2" r="13.6"/><circle cx="538.4" cy="770.1" r="13.6"/><circle cx="727.2" cy="898.8" r="13.6"/><circle cx="462.3" cy="723.3" r="13.6"/><circle cx="651.7" cy="841.9" r="13.6"/><circle cx="657.6" cy="762.9" r="13.6"/><circle cx="589.1" cy="826.7" r="13.6"/><circle cx="616.4" cy="804.2" r="13.6"/><circle cx="519.7" cy="806.6" r="13.6"/><circle cx="517.5" cy="813.8" r="13.6"/><circle cx="686.4" cy="972.2" r="13.6"/><circle cx="659" cy="736.6" r="13.6"/><circle cx="652.5" cy="820.6" r="13.6"/><circle cx="471.5" cy="770.2" r="13.6"/><circle cx="561.7" cy="993.5" r="13.6"/><circle cx="566.7" cy="981.1" r="13.6"/><circle cx="518.5" cy="816.8" r="13.6"/><circle cx="583.9" cy="897.9" r="13.6"/><circle cx="494" cy="967.5" r="13.6"/><circle cx="568.6" cy="981.9" r="13.6"/><circle cx="732.5" cy="893.9" r="13.6"/><circle cx="597.6" cy="951.4" r="13.6"/><circle cx="562.1" cy="677.8" r="13.6"/><circle cx="489.8" cy="863.7" r="13.6"/><circle cx="590.3" cy="985.1" r="13.6"/><circle cx="578.8" cy="926.8" r="13.6"/><circle cx="539.9" cy="743" r="13.6"/><circle cx="461" cy="902.2" r="13.6"/><circle cx="541.2" cy="695.7" r="13.6"/><circle cx="467.3" cy="819.9" r="13.6"/><circle cx="706.9" cy="804.9" r="13.6"/><circle cx="724.1" cy="795.2" r="13.6"/><circle cx="701.2" cy="773.3" r="13.6"/><circle cx="617.1" cy="811.1" r="13.6"/><circle cx="688.4" cy="923.4" r="13.6"/><circle cx="558.7" cy="907.2" r="13.6"/><circle cx="741.3" cy="873" r="13.6"/><circle cx="610.9" cy="884.8" r="13.6"/><circle cx="635.9" cy="711" r="13.6"/><circle cx="582.5" cy="998.8" r="13.6"/><circle cx="506.4" cy="903.8" r="13.6"/><circle cx="698.2" cy="752" r="13.6"/><circle cx="458.5" cy="780.4" r="13.6"/><circle cx="611.2" cy="913.5" r="13.6"/><circle cx="632.8" cy="836.5" r="13.6"/><circle cx="634.8" cy="975.2" r="13.6"/><circle cx="596.5" cy="988.5" r="13.6"/><circle cx="601.4" cy="911.2" r="13.6"/><circle cx="631.8" cy="790.8" r="13.6"/><circle cx="610.2" cy="701" r="13.6"/><circle cx="709.7" cy="727" r="13.6"/><circle cx="656.1" cy="796.3" r="13.6"/><circle cx="509.5" cy="712.2" r="13.6"/><circle cx="586.1" cy="889.3" r="13.6"/><circle cx="680.6" cy="748.5" r="13.6"/><circle cx="609.9" cy="830.3" r="13.6"/><circle cx="562.5" cy="696.2" r="13.6"/><circle cx="714.7" cy="911.7" r="13.6"/><circle cx="552.2" cy="974.4" r="13.6"/><circle cx="596.3" cy="688.4" r="13.6"/><circle cx="595" cy="866.7" r="13.6"/><circle cx="728.8" cy="961.7" r="13.6"/><circle cx="608.8" cy="732.5" r="13.6"/><circle cx="458.9" cy="963.3" r="13.6"/><circle cx="536.7" cy="895.6" r="13.6"/><circle cx="532.4" cy="933.4" r="13.6"/><circle cx="675.8" cy="748.6" r="13.6"/><circle cx="734.2" cy="813.1" r="13.6"/><circle cx="734.6" cy="905" r="13.6"/><circle cx="741.6" cy="758.4" r="13.6"/><circle cx="482.9" cy="897" r="13.6"/><circle cx="463.6" cy="921.1" r="13.6"/><circle cx="721.4" cy="771.8" r="13.6"/><circle cx="494.5" cy="872.8" r="13.6"/><circle cx="740.9" cy="1020.5" r="13.6"/><circle cx="650.9" cy="722.2" r="13.6"/><circle cx="484.8" cy="906.3" r="13.6"/><circle cx="719" cy="702.9" r="13.6"/><circle cx="571.3" cy="748.3" r="13.6"/><circle cx="747.4" cy="770.6" r="13.6"/><circle cx="549.8" cy="959.9" r="13.6"/><circle cx="543.8" cy="735.4" r="13.6"/><circle cx="721.2" cy="749.2" r="13.6"/><circle cx="594.8" cy="959.5" r="13.6"/><circle cx="505" cy="979.9" r="13.6"/><circle cx="728.1" cy="866.6" r="13.6"/><circle cx="623.4" cy="710.3" r="13.6"/><circle cx="616" cy="831.3" r="13.6"/><circle cx="664.4" cy="859.6" r="13.6"/><circle cx="676.5" cy="703.5" r="13.6"/><circle cx="485.5" cy="993.7" r="13.6"/><circle cx="530.8" cy="906.5" r="13.6"/><circle cx="725.5" cy="721.2" r="13.6"/><circle cx="575.8" cy="739.9" r="13.6"/><circle cx="613.7" cy="1015.8" r="13.6"/><circle cx="640.9" cy="802" r="13.6"/><circle cx="482.3" cy="784.8" r="13.6"/><circle cx="675.1" cy="817.2" r="13.6"/><circle cx="498.3" cy="760.8" r="13.6"/><circle cx="714.6" cy="831.1" r="13.6"/><circle cx="531.4" cy="700.1" r="13.6"/><circle cx="708.5" cy="726.5" r="13.6"/><circle cx="529.2" cy="843.8" r="13.6"/><circle cx="600" cy="790.9" r="13.6"/><circle cx="637.9" cy="967.1" r="13.6"/><circle cx="644.2" cy="829.7" r="13.6"/><circle cx="566.5" cy="746.1" r="13.6"/><circle cx="610.3" cy="984" r="13.6"/><circle cx="465.8" cy="713.5" r="13.6"/><circle cx="461" cy="901.7" r="13.6"/><circle cx="452.8" cy="952.3" r="13.6"/><circle cx="458.1" cy="818.1" r="13.6"/><circle cx="545.7" cy="868.1" r="13.6"/><circle cx="445.4" cy="768.4" r="13.6"/><circle cx="540.5" cy="765.4" r="13.6"/><circle cx="606.1" cy="807.4" r="13.6"/><circle cx="692.4" cy="951.2" r="13.6"/><circle cx="465.1" cy="734.5" r="13.6"/><circle cx="541.3" cy="911.8" r="13.6"/><circle cx="624.1" cy="934.8" r="13.6"/><circle cx="665.3" cy="816.1" r="13.6"/><circle cx="515.3" cy="980.8" r="13.6"/><circle cx="514.2" cy="721.3" r="13.6"/><circle cx="627.9" cy="844" r="13.6"/><circle cx="470.6" cy="775.6" r="13.6"/><circle cx="495.1" cy="768" r="13.6"/><circle cx="634.2" cy="858.7" r="13.6"/><circle cx="749.9" cy="954" r="13.6"/><circle cx="642.6" cy="922.8" r="13.6"/><circle cx="580.3" cy="997.7" r="13.6"/><circle cx="505.8" cy="915.9" r="13.6"/><circle cx="550.5" cy="828.1" r="13.6"/><circle cx="549.4" cy="796.3" r="13.6"/><circle cx="700.7" cy="992.8" r="13.6"/><circle cx="525.1" cy="922.8" r="13.6"/><circle cx="604.5" cy="885.8" r="13.6"/><circle cx="642.1" cy="811.6" r="13.6"/><circle cx="621.9" cy="678.9" r="13.6"/><circle cx="565.2" cy="1003.7" r="13.6"/><circle cx="656.7" cy="842.8" r="13.6"/><circle cx="623.9" cy="885.1" r="13.6"/><circle cx="504.9" cy="824.5" r="13.6"/><circle cx="582" cy="729.1" r="13.6"/><circle cx="477" cy="945.1" r="13.6"/><circle cx="749.9" cy="800.3" r="13.6"/><circle cx="555.5" cy="833.4" r="13.6"/><circle cx="600.6" cy="836.1" r="13.6"/><circle cx="555.4" cy="730.7" r="13.6"/><circle cx="526.9" cy="794.9" r="13.6"/><circle cx="633.3" cy="871.2" r="13.6"/><circle cx="510.9" cy="696.1" r="13.6"/><circle cx="735.9" cy="933.9" r="13.6"/><circle cx="732.1" cy="857.8" r="13.6"/><circle cx="756.5" cy="857.1" r="13.6"/><circle cx="606.6" cy="1001.9" r="13.6"/><circle cx="585.1" cy="814.1" r="13.6"/><circle cx="688.3" cy="951.6" r="13.6"/><circle cx="469.5" cy="936.8" r="13.6"/><circle cx="549.1" cy="676.4" r="13.6"/><circle cx="494.7" cy="814.6" r="13.6"/><circle cx="543.6" cy="787.7" r="13.6"/><circle cx="699.6" cy="713" r="13.6"/><circle cx="678.8" cy="938.2" r="13.6"/><circle cx="675.2" cy="983.4" r="13.6"/><circle cx="561.9" cy="896" r="13.6"/><circle cx="534.9" cy="889.2" r="13.6"/><circle cx="622.4" cy="834.9" r="13.6"/><circle cx="712.2" cy="951.9" r="13.6"/><circle cx="522.6" cy="893.1" r="13.6"/><circle cx="664.9" cy="935.5" r="13.6"/><circle cx="520.8" cy="969.4" r="13.6"/><circle cx="603.4" cy="790.4" r="13.6"/><circle cx="520.3" cy="948.2" r="13.6"/><circle cx="708.6" cy="935.6" r="13.6"/><circle cx="502.5" cy="914.5" r="13.6"/><circle cx="598.8" cy="757.3" r="13.6"/><circle cx="654.7" cy="1013.3" r="13.6"/><circle cx="728.9" cy="874.3" r="13.6"/><circle cx="653.7" cy="786.8" r="13.6"/><circle cx="583.7" cy="865.8" r="13.6"/><circle cx="489.2" cy="752.2" r="13.6"/><circle cx="508.9" cy="785.5" r="13.6"/><circle cx="747.3" cy="924.7" r="13.6"/><circle cx="723.9" cy="842.3" r="13.6"/><circle cx="519.3" cy="848.5" r="13.6"/><circle cx="732.4" cy="824.5" r="13.6"/><circle cx="494.9" cy="887" r="13.6"/><circle cx="450.3" cy="797.9" r="13.6"/><circle cx="598.5" cy="845.5" r="13.6"/><circle cx="498.7" cy="950.8" r="13.6"/><circle cx="745.5" cy="837" r="13.6"/><circle cx="653.3" cy="696.9" r="13.6"/><circle cx="694.5" cy="799.6" r="13.6"/><circle cx="705.9" cy="773.1" r="13.6"/><circle cx="500.5" cy="966" r="13.6"/><circle cx="474.4" cy="846.1" r="13.6"/><circle cx="514.7" cy="693.5" r="13.6"/><circle cx="586.8" cy="688" r="13.6"/><circle cx="522.3" cy="1005.2" r="13.6"/><circle cx="678.3" cy="839.3" r="13.6"/><circle cx="469.2" cy="978.6" r="13.6"/><circle cx="616.2" cy="812" r="13.6"/><circle cx="574.1" cy="816.9" r="13.6"/><circle cx="648.7" cy="986.3" r="13.6"/><circle cx="486.3" cy="845.1" r="13.6"/><circle cx="622.6" cy="734.7" r="13.6"/><circle cx="618.7" cy="884.4" r="13.6"/><circle cx="643.1" cy="768.8" r="13.6"/><circle cx="615" cy="765.3" r="13.6"/><circle cx="733.8" cy="762.8" r="13.6"/><circle cx="623.1" cy="741.3" r="13.6"/><circle cx="534.7" cy="987.2" r="13.6"/><circle cx="700.9" cy="709.4" r="13.6"/><circle cx="464.1" cy="844.2" r="13.6"/><circle cx="692.4" cy="946.7" r="13.6"/><circle cx="560.9" cy="996.5" r="13.6"/><circle cx="674.7" cy="859.9" r="13.6"/><circle cx="737.7" cy="954.9" r="13.6"/><circle cx="719.4" cy="990.6" r="13.6"/><circle cx="611.8" cy="781.9" r="13.6"/><circle cx="619.3" cy="825.3" r="13.6"/><circle cx="628.5" cy="788.3" r="13.6"/><circle cx="452.9" cy="827.4" r="13.6"/><circle cx="698.3" cy="929" r="13.6"/><circle cx="680.9" cy="927.2" r="13.6"/><circle cx="565.3" cy="799.9" r="13.6"/><circle cx="696.6" cy="693.5" r="13.6"/><circle cx="607.3" cy="875.4" r="13.6"/><circle cx="727.9" cy="929" r="13.6"/><circle cx="656.2" cy="914" r="13.6"/><circle cx="622.7" cy="757.9" r="13.6"/><circle cx="644.5" cy="750.9" r="13.6"/><circle cx="597.3" cy="1015" r="13.6"/><circle cx="692.1" cy="742.1" r="13.6"/><circle cx="634.8" cy="694.9" r="13.6"/><circle cx="534.1" cy="817.9" r="13.6"/><circle cx="716.1" cy="1019.8" r="13.6"/><circle cx="649.2" cy="858.7" r="13.6"/><circle cx="484" cy="697.6" r="13.6"/><circle cx="620.5" cy="991.9" r="13.6"/><circle cx="502.6" cy="941.8" r="13.6"/><circle cx="489.5" cy="702.6" r="13.6"/><circle cx="723.1" cy="779.9" r="13.6"/><circle cx="519.8" cy="777.1" r="13.6"/><circle cx="714.9" cy="841.6" r="13.6"/><circle cx="691.5" cy="905.5" r="13.6"/><circle cx="566.5" cy="731" r="13.6"/><circle cx="535.4" cy="998.3" r="13.6"/><circle cx="567.1" cy="708.7" r="13.6"/><circle cx="692.6" cy="846.8" r="13.6"/><circle cx="659.1" cy="836.5" r="13.6"/><circle cx="672.9" cy="867" r="13.6"/><circle cx="599.2" cy="750.1" r="13.6"/><circle cx="672.1" cy="776.1" r="13.6"/><circle cx="690.7" cy="876" r="13.6"/><circle cx="471.4" cy="762.4" r="13.6"/><circle cx="512.2" cy="934.7" r="13.6"/><circle cx="480.5" cy="934.2" r="13.6"/><circle cx="599.2" cy="909.6" r="13.6"/><circle cx="460" cy="763" r="13.6"/><circle cx="597.9" cy="725.7" r="13.6"/><circle cx="505.4" cy="747.1" r="13.6"/><circle cx="724" cy="989.9" r="13.6"/><circle cx="710.8" cy="891.7" r="13.6"/><circle cx="632.3" cy="816.6" r="13.6"/><circle cx="570.8" cy="772.1" r="13.6"/><circle cx="563.3" cy="713.4" r="13.6"/><circle cx="453.2" cy="782.5" r="13.6"/><circle cx="577.7" cy="922.2" r="13.6"/><circle cx="724.1" cy="846" r="13.6"/><circle cx="660.2" cy="960.3" r="13.6"/><circle cx="506.9" cy="745.5" r="13.6"/><circle cx="651.3" cy="989.6" r="13.6"/><circle cx="501.2" cy="940.1" r="13.6"/><circle cx="690.3" cy="878" r="13.6"/><circle cx="504.2" cy="823.7" r="13.6"/><circle cx="656.6" cy="758.8" r="13.6"/><circle cx="673" cy="801.3" r="13.6"/><circle cx="597.4" cy="713.2" r="13.6"/><circle cx="497" cy="753.8" r="13.6"/><circle cx="737.5" cy="952.7" r="13.6"/><circle cx="553.7" cy="920.2" r="13.6"/><circle cx="752.5" cy="973.7" r="13.6"/><circle cx="638.5" cy="924.6" r="13.6"/><circle cx="586.1" cy="781.7" r="13.6"/><circle cx="592.9" cy="777.5" r="13.6"/><circle cx="642.3" cy="897.9" r="13.6"/><circle cx="529.6" cy="744.1" r="13.6"/><circle cx="529.2" cy="742.8" r="13.6"/><circle cx="704.4" cy="970" r="13.6"/><circle cx="578.9" cy="833.9" r="13.6"/><circle cx="510.4" cy="894.2" r="13.6"/><circle cx="534.8" cy="870.3" r="13.6"/><circle cx="724.5" cy="815.4" r="13.6"/><circle cx="624.4" cy="909.3" r="13.6"/><circle cx="716.5" cy="736.8" r="13.6"/><circle cx="635.7" cy="765.3" r="13.6"/><circle cx="467.9" cy="873.1" r="13.6"/><circle cx="518.8" cy="770" r="13.6"/><circle cx="532" cy="712.7" r="13.6"/><circle cx="556.6" cy="864" r="13.6"/><circle cx="698.7" cy="819.2" r="13.6"/><circle cx="509.2" cy="845.8" r="13.6"/><circle cx="747.4" cy="996.4" r="13.6"/><circle cx="678.1" cy="710.5" r="13.6"/><circle cx="529.6" cy="833" r="13.6"/><circle cx="672.4" cy="909.5" r="13.6"/><circle cx="724.9" cy="784.8" r="13.6"/><circle cx="716" cy="874.1" r="13.6"/><circle cx="469.3" cy="736.1" r="13.6"/><circle cx="456.7" cy="875.1" r="13.6"/><circle cx="710.5" cy="965.8" r="13.6"/><circle cx="566.3" cy="799.7" r="13.6"/><circle cx="609.3" cy="934.9" r="13.6"/><circle cx="573.7" cy="962.5" r="13.6"/><circle cx="710.2" cy="849.3" r="13.6"/><circle cx="672.1" cy="775.7" r="13.6"/><circle cx="701.2" cy="1018.7" r="13.6"/><circle cx="589.5" cy="812.2" r="13.6"/><circle cx="482.2" cy="711.6" r="13.6"/><circle cx="654.2" cy="949.3" r="13.6"/><circle cx="681.4" cy="765.8" r="13.6"/><circle cx="496.2" cy="805" r="13.6"/><circle cx="500.9" cy="872.4" r="13.6"/><circle cx="613.9" cy="967.4" r="13.6"/><circle cx="475.6" cy="923" r="13.6"/><circle cx="590.3" cy="789.5" r="13.6"/><circle cx="552.5" cy="757.2" r="13.6"/><circle cx="611" cy="776.9" r="13.6"/><circle cx="489.4" cy="927.6" r="13.6"/><circle cx="569.3" cy="941.3" r="13.6"/><circle cx="483.8" cy="736.4" r="13.6"/><circle cx="735.6" cy="977.9" r="13.6"/><circle cx="566.5" cy="877.2" r="13.6"/><circle cx="536.7" cy="722.8" r="13.6"/><circle cx="650.3" cy="872.5" r="13.6"/><circle cx="706.6" cy="895.2" r="13.6"/><circle cx="480.4" cy="832.9" r="13.6"/><circle cx="601.6" cy="748.9" r="13.6"/><circle cx="661.6" cy="950.3" r="13.6"/><circle cx="481" cy="735" r="13.6"/><circle cx="626.2" cy="906.6" r="13.6"/><circle cx="638.6" cy="946.2" r="13.6"/><circle cx="520.8" cy="872.5" r="13.6"/><circle cx="597.4" cy="813.6" r="13.6"/><circle cx="555.3" cy="955.5" r="13.6"/><circle cx="613.1" cy="987.5" r="13.6"/><circle cx="712.1" cy="746.9" r="13.6"/><circle cx="613.6" cy="856.8" r="13.6"/><circle cx="687.5" cy="767.2" r="13.6"/><circle cx="716.7" cy="953" r="13.6"/><circle cx="651.1" cy="746.2" r="13.6"/><circle cx="559.9" cy="944.2" r="13.6"/><circle cx="697.4" cy="994.3" r="13.6"/><circle cx="545.1" cy="784" r="13.6"/><circle cx="690" cy="1006.8" r="13.6"/><circle cx="664.6" cy="968.7" r="13.6"/><circle cx="677.4" cy="791.9" r="13.6"/><circle cx="680.5" cy="966.4" r="13.6"/><circle cx="682.1" cy="819.3" r="13.6"/><circle cx="598.9" cy="963.1" r="13.6"/><circle cx="635.7" cy="750.2" r="13.6"/><circle cx="700.6" cy="793.4" r="13.6"/><circle cx="658.6" cy="917.1" r="13.6"/><circle cx="634.4" cy="1009" r="13.6"/><circle cx="583.9" cy="894.6" r="13.6"/><circle cx="735.5" cy="790.9" r="13.6"/><circle cx="663.1" cy="934.8" r="13.6"/><circle cx="638.2" cy="792.3" r="13.6"/><circle cx="487.4" cy="915.5" r="13.6"/><circle cx="626.7" cy="702.4" r="13.6"/><circle cx="681.9" cy="783.9" r="13.6"/><circle cx="518.3" cy="898.4" r="13.6"/><circle cx="723.9" cy="1036.2" r="13.6"/><circle cx="482.1" cy="956.6" r="13.6"/><circle cx="718.8" cy="1001.3" r="13.6"/><circle cx="672.2" cy="723.8" r="13.6"/><circle cx="525.1" cy="968.3" r="13.6"/><circle cx="556.8" cy="889.4" r="13.6"/><circle cx="656.5" cy="797.2" r="13.6"/><circle cx="504.9" cy="794.1" r="13.6"/><circle cx="481.6" cy="716" r="13.6"/><circle cx="660" cy="815.8" r="13.6"/><circle cx="719" cy="835.9" r="13.6"/><circle cx="534.8" cy="769.7" r="13.6"/><circle cx="597" cy="852.3" r="13.6"/><circle cx="517" cy="841.4" r="13.6"/><circle cx="663.7" cy="888.2" r="13.6"/><circle cx="534.8" cy="944.4" r="13.6"/></g><g class="u"><circle cx="572" cy="993.3" r="18.0"/><circle cx="648" cy="935.7" r="18.0"/><circle cx="476.5" cy="725.7" r="18.0"/><circle cx="592.9" cy="878.5" r="18.0"/><circle cx="551.6" cy="775.5" r="18.0"/><circle cx="734.8" cy="777.8" r="18.0"/><circle cx="602.4" cy="976.5" r="18.0"/><circle cx="652.2" cy="904.2" r="18.0"/><circle cx="704.2" cy="741.3" r="18.0"/><circle cx="565.8" cy="926.6" r="18.0"/><circle cx="493.8" cy="740.1" r="18.0"/><circle cx="724.7" cy="887.3" r="18.0"/><circle cx="744.7" cy="860.8" r="18.0"/><circle cx="507.1" cy="808.7" r="18.0"/><circle cx="715.8" cy="789.9" r="18.0"/><circle cx="596" cy="700" r="18.0"/><circle cx="539.4" cy="923.3" r="18.0"/><circle cx="574.7" cy="697.7" r="18.0"/><circle cx="547.4" cy="947.8" r="18.0"/><circle cx="641" cy="848.7" r="18.0"/><circle cx="487.7" cy="945.1" r="18.0"/><circle cx="702.2" cy="915.4" r="18.0"/><circle cx="519" cy="910" r="18.0"/><circle cx="528.5" cy="859.7" r="18.0"/><circle cx="713.4" cy="980.2" r="18.0"/><circle cx="605.4" cy="898" r="18.0"/><circle cx="462.5" cy="791.3" r="18.0"/><circle cx="604.3" cy="947.6" r="18.0"/><circle cx="497.1" cy="988.3" r="18.0"/><circle cx="553.3" cy="745" r="18.0"/><circle cx="522.4" cy="992.8" r="18.0"/><circle cx="544.5" cy="808" r="18.0"/><circle cx="466" cy="830.3" r="18.0"/><circle cx="623.9" cy="919.4" r="18.0"/><circle cx="571.5" cy="888.2" r="18.0"/><circle cx="614.4" cy="789.8" r="18.0"/><circle cx="668.9" cy="922.4" r="18.0"/><circle cx="473.2" cy="704.2" r="18.0"/><circle cx="736.9" cy="917.2" r="18.0"/><circle cx="620.3" cy="692.5" r="18.0"/><circle cx="494.3" cy="790.3" r="18.0"/><circle cx="471.3" cy="908.2" r="18.0"/><circle cx="485.8" cy="881.5" r="18.0"/><circle cx="586.5" cy="912.9" r="18.0"/><circle cx="745.6" cy="943.1" r="18.0"/><circle cx="630.9" cy="721.7" r="18.0"/><circle cx="647.1" cy="736.1" r="18.0"/></g>
<g class="v"><circle cx="731.1" cy="736.8" r="18.0"/><circle cx="507.3" cy="943.2" r="18.0"/><circle cx="530.9" cy="963" r="18.0"/><circle cx="479.3" cy="930.8" r="18.0"/><circle cx="736.4" cy="906.4" r="18.0"/><circle cx="646.4" cy="971.9" r="18.0"/><circle cx="733.3" cy="787.3" r="18.0"/><circle cx="465.3" cy="840.2" r="18.0"/><circle cx="709.7" cy="959.7" r="18.0"/><circle cx="578.6" cy="985.6" r="18.0"/><circle cx="696.3" cy="998.8" r="18.0"/><circle cx="724.5" cy="1012.6" r="18.0"/><circle cx="465.9" cy="888.5" r="18.0"/><circle cx="712.8" cy="712.6" r="18.0"/><circle cx="736.1" cy="870.2" r="18.0"/><circle cx="707" cy="879.2" r="18.0"/><circle cx="713" cy="812.5" r="18.0"/><circle cx="713.8" cy="928.9" r="18.0"/><circle cx="627.1" cy="997.8" r="18.0"/><circle cx="477.7" cy="969.9" r="18.0"/><circle cx="707.4" cy="761.8" r="18.0"/><circle cx="616.5" cy="969.1" r="18.0"/><circle cx="580.5" cy="956.6" r="18.0"/><circle cx="677.6" cy="974.4" r="18.0"/><circle cx="466" cy="723.6" r="18.0"/><circle cx="508.9" cy="984.9" r="18.0"/><circle cx="741.2" cy="964.8" r="18.0"/><circle cx="456.3" cy="803.9" r="18.0"/><circle cx="657.3" cy="1002.9" r="18.0"/><circle cx="540.9" cy="996.1" r="18.0"/><circle cx="721.2" cy="844.9" r="18.0"/><circle cx="462.3" cy="758.1" r="18.0"/></g><g class="w"><circle cx="704.5" cy="943.2" r="13.6"/><circle cx="669.4" cy="1011" r="13.6"/><circle cx="692.2" cy="957.7" r="13.6"/><circle cx="712.7" cy="698" r="13.6"/><circle cx="600.3" cy="961.8" r="13.6"/><circle cx="727.2" cy="820.1" r="13.6"/><circle cx="748.6" cy="919" r="13.6"/><circle cx="699" cy="865.7" r="13.6"/><circle cx="709.3" cy="747.5" r="13.6"/><circle cx="669.7" cy="990.3" r="13.6"/><circle cx="693.1" cy="973.6" r="13.6"/><circle cx="474.1" cy="750.6" r="13.6"/><circle cx="464" cy="706.2" r="13.6"/><circle cx="463.2" cy="819.4" r="13.6"/><circle cx="738.3" cy="950.5" r="13.6"/><circle cx="703.1" cy="916.4" r="13.6"/><circle cx="740.3" cy="723" r="13.6"/><circle cx="650.7" cy="988.5" r="13.6"/><circle cx="681.9" cy="998.2" r="13.6"/><circle cx="720.2" cy="864.3" r="13.6"/><circle cx="691.1" cy="763.5" r="13.6"/><circle cx="704.4" cy="985.9" r="13.6"/><circle cx="671.3" cy="957.9" r="13.6"/><circle cx="748.6" cy="878.5" r="13.6"/><circle cx="450.6" cy="887.1" r="13.6"/><circle cx="622.5" cy="984.9" r="13.6"/><circle cx="734.3" cy="773.1" r="13.6"/><circle cx="515.2" cy="969.5" r="13.6"/><circle cx="460.1" cy="967.2" r="13.6"/><circle cx="491.1" cy="975.6" r="13.6"/><circle cx="481.5" cy="893.1" r="13.6"/><circle cx="723.7" cy="882.1" r="13.6"/><circle cx="595.6" cy="989.4" r="13.6"/><circle cx="641.5" cy="998.4" r="13.6"/><circle cx="724.6" cy="954.3" r="13.6"/><circle cx="717.1" cy="792.1" r="13.6"/><circle cx="741.5" cy="855.1" r="13.6"/><circle cx="743.6" cy="801" r="13.6"/><circle cx="457.6" cy="772.9" r="13.6"/><circle cx="564.6" cy="985.4" r="13.6"/><circle cx="442.6" cy="797.8" r="13.6"/><circle cx="696.6" cy="815.7" r="13.6"/><circle cx="640.9" cy="1008.6" r="13.6"/><circle cx="537.9" cy="978.3" r="13.6"/><circle cx="698.7" cy="1015.9" r="13.6"/><circle cx="572.5" cy="941.2" r="13.6"/><circle cx="717.3" cy="727" r="13.6"/><circle cx="729.9" cy="829.6" r="13.6"/><circle cx="510.3" cy="925.5" r="13.6"/><circle cx="713.4" cy="1025.8" r="13.6"/><circle cx="735.9" cy="892.2" r="13.6"/><circle cx="727.5" cy="750.3" r="13.6"/><circle cx="566.7" cy="961.2" r="13.6"/><circle cx="659.1" cy="985.7" r="13.6"/><circle cx="716.2" cy="775.4" r="13.6"/><circle cx="551.8" cy="1005.7" r="13.6"/><circle cx="480.8" cy="843.7" r="13.6"/><circle cx="723" cy="996.7" r="13.6"/><circle cx="518.9" cy="950.3" r="13.6"/><circle cx="696.3" cy="891.5" r="13.6"/><circle cx="494.4" cy="936.9" r="13.6"/><circle cx="730.1" cy="858.1" r="13.6"/><circle cx="589.2" cy="968.6" r="13.6"/><circle cx="465.3" cy="924.5" r="13.6"/><circle cx="740.6" cy="1008.4" r="13.6"/><circle cx="456.2" cy="738.1" r="13.6"/><circle cx="733" cy="979.1" r="13.6"/><circle cx="496.2" cy="992.6" r="13.6"/><circle cx="612" cy="990.8" r="13.6"/><circle cx="541.2" cy="977.3" r="13.6"/><circle cx="707.4" cy="847.6" r="13.6"/><circle cx="639.6" cy="956.5" r="13.6"/><circle cx="447.9" cy="836" r="13.6"/><circle cx="523.8" cy="1000.3" r="13.6"/><circle cx="496.3" cy="956.2" r="13.6"/><circle cx="714.9" cy="734" r="13.6"/><circle cx="728" cy="926.5" r="13.6"/></g><g class="u"><circle cx="731.1" cy="736.8" r="18.0"/><circle cx="733.3" cy="787.3" r="18.0"/><circle cx="465.3" cy="840.2" r="18.0"/><circle cx="709.7" cy="959.7" r="18.0"/><circle cx="736.1" cy="870.2" r="18.0"/><circle cx="707" cy="879.2" r="18.0"/><circle cx="477.7" cy="969.9" r="18.0"/><circle cx="741.2" cy="964.8" r="18.0"/><circle cx="456.3" cy="803.9" r="18.0"/><circle cx="721.2" cy="844.9" r="18.0"/></g>
<path d="M516.3 677L627.3 679.5L627.4 673L663.1 688.9L626.7 703L626.9 696.5L515.9 694 Z" fill="#9f9fc0" stroke="#55556a" stroke-width="0.8" stroke-linejoin="round"/><path d="M516.3 673.5L627.3 676L627.4 669.5L663.1 685.4L626.7 699.5L626.9 693L515.9 690.5 Z" fill="#cdcdea" stroke="#55556a" stroke-width="0.8" stroke-linejoin="round"/><path d="M661.1 685.3Q680.9 685.8 692.7 698.9" fill="none" stroke="#55556a" stroke-width="5" stroke-linecap="round"/><path d="M661.1 685.3Q680.9 685.8 692.7 698.9" fill="none" stroke="#cdcdea" stroke-width="3.6" stroke-linecap="round"/>
<path d="M518 713.7L629 716.3L629.1 709.8L664.8 725.6L628.4 739.8L628.6 733.3L517.6 730.7 Z" fill="#9f9fc0" stroke="#55556a" stroke-width="0.8" stroke-linejoin="round"/><path d="M518 710.2L629 712.8L629.1 706.3L664.8 722.1L628.4 736.3L628.6 729.8L517.6 727.2 Z" fill="#cdcdea" stroke="#55556a" stroke-width="0.8" stroke-linejoin="round"/><path d="M662.8 722.1Q682.6 722.5 694.4 735.7" fill="none" stroke="#55556a" stroke-width="5" stroke-linecap="round"/><path d="M662.8 722.1Q682.6 722.5 694.4 735.7" fill="none" stroke="#cdcdea" stroke-width="3.6" stroke-linecap="round"/>
<path d="M519.7 756.1L630.7 758.7L630.8 752.2L666.5 768L630.1 782.2L630.3 775.7L519.3 773.1 Z" fill="#9f9fc0" stroke="#55556a" stroke-width="0.8" stroke-linejoin="round"/><path d="M519.7 752.6L630.7 755.2L630.8 748.7L666.5 764.5L630.1 778.7L630.3 772.2L519.3 769.6 Z" fill="#cdcdea" stroke="#55556a" stroke-width="0.8" stroke-linejoin="round"/><path d="M664.5 764.4Q684.3 764.9 696.1 778.1" fill="none" stroke="#55556a" stroke-width="5" stroke-linecap="round"/><path d="M664.5 764.4Q684.3 764.9 696.1 778.1" fill="none" stroke="#cdcdea" stroke-width="3.6" stroke-linecap="round"/>
<path d="M521.4 790L632.4 792.6L632.5 786.1L668.2 801.9L631.8 816.1L632 809.6L521 807 Z" fill="#9f9fc0" stroke="#55556a" stroke-width="0.8" stroke-linejoin="round"/><path d="M521.4 786.5L632.4 789.1L632.5 782.6L668.2 798.4L631.8 812.6L632 806.1L521 803.5 Z" fill="#cdcdea" stroke="#55556a" stroke-width="0.8" stroke-linejoin="round"/><path d="M666.2 798.4Q686 798.8 697.8 812" fill="none" stroke="#55556a" stroke-width="5" stroke-linecap="round"/><path d="M666.2 798.4Q686 798.8 697.8 812" fill="none" stroke="#cdcdea" stroke-width="3.6" stroke-linecap="round"/>
<path d="M523.1 829.6L634.1 832.2L634.2 825.7L669.9 841.5L633.5 855.6L633.7 849.1L522.7 846.6 Z" fill="#9f9fc0" stroke="#55556a" stroke-width="0.8" stroke-linejoin="round"/><path d="M523.1 826.1L634.1 828.7L634.2 822.2L669.9 838L633.5 852.1L633.7 845.6L522.7 843.1 Z" fill="#cdcdea" stroke="#55556a" stroke-width="0.8" stroke-linejoin="round"/><path d="M667.9 837.9Q687.7 838.4 699.5 851.5" fill="none" stroke="#55556a" stroke-width="5" stroke-linecap="round"/><path d="M667.9 837.9Q687.7 838.4 699.5 851.5" fill="none" stroke="#cdcdea" stroke-width="3.6" stroke-linecap="round"/>
<path d="M524.8 866.3L635.8 868.9L635.9 862.4L671.5 878.2L635.2 892.4L635.4 885.9L524.4 883.3 Z" fill="#9f9fc0" stroke="#55556a" stroke-width="0.8" stroke-linejoin="round"/><path d="M524.8 862.8L635.8 865.4L635.9 858.9L671.5 874.7L635.2 888.9L635.4 882.4L524.4 879.8 Z" fill="#cdcdea" stroke="#55556a" stroke-width="0.8" stroke-linejoin="round"/><path d="M669.5 874.7Q689.3 875.1 701.2 888.3" fill="none" stroke="#55556a" stroke-width="5" stroke-linecap="round"/><path d="M669.5 874.7Q689.3 875.1 701.2 888.3" fill="none" stroke="#cdcdea" stroke-width="3.6" stroke-linecap="round"/>
<path d="M526.5 903.1L637.4 905.6L637.6 899.1L673.2 915L636.9 929.1L637.1 922.6L526.1 920.1 Z" fill="#9f9fc0" stroke="#55556a" stroke-width="0.8" stroke-linejoin="round"/><path d="M526.5 899.6L637.4 902.1L637.6 895.6L673.2 911.5L636.9 925.6L637.1 919.1L526.1 916.6 Z" fill="#cdcdea" stroke="#55556a" stroke-width="0.8" stroke-linejoin="round"/><path d="M671.2 911.4Q691 911.9 702.9 925" fill="none" stroke="#55556a" stroke-width="5" stroke-linecap="round"/><path d="M671.2 911.4Q691 911.9 702.9 925" fill="none" stroke="#cdcdea" stroke-width="3.6" stroke-linecap="round"/>
<path d="M528.2 937L639.1 939.6L639.3 933.1L674.9 948.9L638.6 963L638.8 956.6L527.8 954 Z" fill="#9f9fc0" stroke="#55556a" stroke-width="0.8" stroke-linejoin="round"/><path d="M528.2 933.5L639.1 936.1L639.3 929.6L674.9 945.4L638.6 959.5L638.8 953.1L527.8 950.5 Z" fill="#cdcdea" stroke="#55556a" stroke-width="0.8" stroke-linejoin="round"/><path d="M672.9 945.3Q692.7 945.8 704.6 959" fill="none" stroke="#55556a" stroke-width="5" stroke-linecap="round"/><path d="M672.9 945.3Q692.7 945.8 704.6 959" fill="none" stroke="#cdcdea" stroke-width="3.6" stroke-linecap="round"/>
<path d="M533.7 691.4L534.2 700.4M607.2 693.1L607.7 702.1M539.4 728.1L539.9 737.1M612.9 729.8L613.4 738.8M537.1 770.5L537.6 779.5M610.6 772.2L611.1 781.2M542.8 804.4L543.3 813.4M616.3 806.1L616.8 815.1M540.5 844L541 853M614 845.7L614.5 854.7M546.2 880.7L546.7 889.7M619.7 882.4L620.2 891.4M543.9 917.5L544.4 926.5M617.4 919.2L617.9 928.2M549.6 951.4L550.1 960.4M623.1 953.1L623.6 962.1" fill="none" stroke="#3e3e50" stroke-width="4.2" stroke-linecap="round"/>
<path d="M533.7 691.4L534 695.9M607.2 693.1L607.5 697.6M539.4 728.1L539.7 732.6M612.9 729.8L613.2 734.3M537.1 770.5L537.4 775M610.6 772.2L610.9 776.7M542.8 804.4L543.1 808.9M616.3 806.1L616.6 810.6M540.5 844L540.8 848.5M614 845.7L614.3 850.2M546.2 880.7L546.5 885.2M619.7 882.4L619.9 886.9M543.9 917.5L544.2 922M617.4 919.2L617.6 923.7M549.6 951.4L549.9 955.9M623.1 953.1L623.3 957.6" fill="none" stroke="#cfcfec" stroke-width="3.2" stroke-linecap="round"/>
<path d="M534 695.9L534.2 700.4M607.5 697.6L607.7 702.1M539.7 732.6L539.9 737.1M613.2 734.3L613.4 738.8M537.4 775L537.6 779.5M610.9 776.7L611.1 781.2M543.1 808.9L543.3 813.4M616.6 810.6L616.8 815.1M540.8 848.5L541 853M614.3 850.2L614.5 854.7M546.5 885.2L546.7 889.7M619.9 886.9L620.2 891.4M544.2 922L544.4 926.5M617.6 923.7L617.9 928.2M549.9 955.9L550.1 960.4M623.3 957.6L623.6 962.1" fill="none" stroke="#e8494b" stroke-width="3.2" stroke-linecap="butt"/>
<g fill="#e8494b"><circle cx="534.2" cy="700.4" r="1.6"/><circle cx="607.7" cy="702.1" r="1.6"/><circle cx="539.9" cy="737.1" r="1.6"/><circle cx="613.4" cy="738.8" r="1.6"/><circle cx="537.6" cy="779.5" r="1.6"/><circle cx="611.1" cy="781.2" r="1.6"/><circle cx="543.3" cy="813.4" r="1.6"/><circle cx="616.8" cy="815.1" r="1.6"/><circle cx="541" cy="853" r="1.6"/><circle cx="614.5" cy="854.7" r="1.6"/><circle cx="546.7" cy="889.7" r="1.6"/><circle cx="620.2" cy="891.4" r="1.6"/><circle cx="544.4" cy="926.5" r="1.6"/><circle cx="617.9" cy="928.2" r="1.6"/><circle cx="550.1" cy="960.4" r="1.6"/><circle cx="623.6" cy="962.1" r="1.6"/></g>
<g class="w"><circle cx="598" cy="733.5" r="13.6"/><circle cx="579.7" cy="875.5" r="13.6"/><circle cx="628.9" cy="689.6" r="13.6"/><circle cx="513.9" cy="931.2" r="13.6"/><circle cx="649.8" cy="774.7" r="13.6"/><circle cx="570.4" cy="770.8" r="13.6"/><circle cx="556.6" cy="805.7" r="13.6"/><circle cx="520.4" cy="807.6" r="13.6"/><circle cx="670" cy="756" r="13.6"/><circle cx="680.3" cy="838.3" r="13.6"/><circle cx="615.6" cy="907.5" r="13.6"/><circle cx="688.3" cy="936.7" r="13.6"/><circle cx="616.9" cy="777.1" r="13.6"/><circle cx="628.8" cy="874.8" r="13.6"/><circle cx="559.2" cy="914" r="13.6"/><circle cx="605.8" cy="703.7" r="13.6"/><circle cx="481.6" cy="894.7" r="13.6"/><circle cx="589.3" cy="924.7" r="13.6"/><circle cx="662.1" cy="865.2" r="13.6"/><circle cx="586" cy="816.2" r="13.6"/><circle cx="513.3" cy="706.3" r="13.6"/><circle cx="567.4" cy="950.2" r="13.6"/><circle cx="476.3" cy="808.4" r="13.6"/><circle cx="560" cy="703.6" r="13.6"/><circle cx="608.3" cy="946.1" r="13.6"/><circle cx="539.8" cy="938.3" r="13.6"/><circle cx="659.6" cy="951.6" r="13.6"/></g>
<path d="M478.4 657.3L488.2 650.8M488.2 650.8L497.4 658M497.4 658L493.4 669.1M493.4 669.1L481.7 668.6M481.7 668.6L478.4 657.3M488.2 650.8L488.4 643.3M493.4 669.1L497.6 675.3M478.4 657.3L517.5 682M489.3 696L500.4 692.2M500.4 692.2L507.4 701.6M507.4 701.6L500.7 711.2M500.7 711.2L489.5 707.8M489.5 707.8L489.3 696M500.7 711.2L503.1 718.3M489.3 696L519.2 722.9M483.7 736.5L495.4 735.7M495.4 735.7L499.8 746.6M499.8 746.6L490.8 754.1M490.8 754.1L480.8 747.9M480.8 747.9L483.7 736.5M495.4 735.7L499.4 729.3M490.8 754.1L491.3 761.6M483.7 736.5L520.9 765.3M490.3 766.2L500.1 759.6M500.1 759.6L509.3 766.8M509.3 766.8L505.3 777.9M505.3 777.9L493.5 777.5M493.5 777.5L490.3 766.2M505.3 777.9L509.5 784.1M490.3 766.2L522.6 790.8M484.2 811.9L495.3 808.1M495.3 808.1L502.4 817.5M502.4 817.5L495.6 827.1M495.6 827.1L484.4 823.6M484.4 823.6L484.2 811.9M495.3 808.1L497.5 800.9M495.6 827.1L498.1 834.2M484.2 811.9L524.3 838.8M495.5 843.9L507.3 843.1M507.3 843.1L511.7 854M511.7 854L502.7 861.5M502.7 861.5L492.7 855.3M492.7 855.3L495.5 843.9M502.7 861.5L503.2 869M495.5 843.9L526 872.7M485.2 884.9L495 878.3M495 878.3L504.2 885.5M504.2 885.5L500.2 896.6M500.2 896.6L488.5 896.2M488.5 896.2L485.2 884.9M495 878.3L495.2 870.8M500.2 896.6L504.4 902.8M485.2 884.9L527.7 909.5M496 902.3L507.1 898.5M507.1 898.5L514.2 907.9M514.2 907.9L507.5 917.5M507.5 917.5L496.2 914.1M496.2 914.1L496 902.3M507.5 917.5L509.9 924.6M496 902.3L529.4 929.3M615.4 659.6L615.4 647.8M615.4 647.8L626.6 644.2M626.6 644.2L633.5 653.7M633.5 653.7L626.6 663.2M626.6 663.2L615.4 659.6M633.5 653.7L641 653.7M615.4 659.6L592.4 676.3M598 703.1L600 698.8M600 698.8L611 694.7M611 694.7L615.9 696.4M615.9 696.4L607.9 701.6M607.9 701.6L598 703.1M600 698.8L592.5 698.6M598 703.1L589.6 713.1M614.9 740.7L619.3 734.8M619.3 734.8L629.5 730.1M629.5 730.1L631.5 733.1M631.5 733.1L622.4 739.6M622.4 739.6L614.9 740.7M619.3 734.8L611.9 733.4M614.9 740.7L595.2 752.6M575.5 767.1L574.6 778.8M574.6 778.8L563.2 781.7M563.2 781.7L557 771.7M557 771.7L564.6 762.7M564.6 762.7L575.5 767.1M574.6 778.8L580.4 783.7M575.5 767.1L589.6 758.3M584.4 808.6L572.7 809M572.7 809L568.7 797.9M568.7 797.9L578 790.7M578 790.7L587.7 797.3M587.7 797.3L584.4 808.6M584.4 808.6L598.1 826.1M619.6 844.8L617.2 833.4M617.2 833.4L627.4 827.5M627.4 827.5L636.1 835.3M636.1 835.3L631.3 846.1M631.3 846.1L619.6 844.8M636.1 835.3L643.4 833.8M619.6 844.8L600.9 865.7M582.5 877.3L581.7 889M581.7 889L570.3 891.9M570.3 891.9L564.1 882M564.1 882L571.6 872.9M571.6 872.9L582.5 877.3M581.7 889L587.5 893.8M582.5 877.3L600.9 865.7M594.4 914L582.7 912.5M582.7 912.5L580.5 901M580.5 901L590.8 895.3M590.8 895.3L599.4 903.4M599.4 903.4L594.4 914M582.7 912.5L577.6 918M594.4 914L605.1 933.5M588.7 1037L584.5 1040.8M584.5 1040.8L571.7 1042.8M571.7 1042.8L568 1040.3M568 1040.3L578.5 1036.7M578.5 1036.7L588.7 1037M584.5 1040.8L591.8 1042.3M588.7 1037L606.5 1026.8M697.8 1049.5L709.8 1044.8M709.8 1044.8L715.8 1046.4M715.8 1046.4L707.5 1052.2M707.5 1052.2L696.4 1054.1M696.4 1054.1L697.8 1049.5M707.5 1052.2L711.9 1058.2M697.8 1049.5L680 1035.3" fill="none" stroke="#3e3e50" stroke-width="5" stroke-linecap="round"/>
<path d="M478.4 657.3L483.3 654.1M497.4 658L495.4 663.5M481.7 668.6L478.4 657.3M478.4 657.3L517.5 682M489.3 696L494.8 694.1M507.4 701.6L504.1 706.4M489.5 707.8L489.3 696M489.3 696L519.2 722.9M483.7 736.5L489.5 736.1M499.8 746.6L495.3 750.3M480.8 747.9L483.7 736.5M483.7 736.5L520.9 765.3M490.3 766.2L495.2 762.9M509.3 766.8L507.3 772.3M493.5 777.5L490.3 766.2M490.3 766.2L522.6 790.8M484.2 811.9L489.7 810M502.4 817.5L499 822.3M484.4 823.6L484.2 811.9M484.2 811.9L524.3 838.8M495.5 843.9L501.4 843.5M511.7 854L507.2 857.7M492.7 855.3L495.5 843.9M495.5 843.9L526 872.7M485.2 884.9L490.1 881.6M504.2 885.5L502.2 891.1M488.5 896.2L485.2 884.9M485.2 884.9L527.7 909.5M496 902.3L501.6 900.4M514.2 907.9L510.9 912.7M496.2 914.1L496 902.3M496 902.3L529.4 929.3M615.4 659.6L615.4 653.7M626.6 644.2L630 648.9M626.6 663.2L615.4 659.6M615.4 659.6L592.4 676.3M598 703.1L599 700.9M611 694.7L613.4 695.5M607.9 701.6L598 703.1M598 703.1L589.6 713.1M614.9 740.7L617.1 737.8M629.5 730.1L630.5 731.6M622.4 739.6L614.9 740.7M614.9 740.7L595.2 752.6M575.5 767.1L575 773M563.2 781.7L560.1 776.7M564.6 762.7L575.5 767.1M575.5 767.1L589.6 758.3M584.4 808.6L578.5 808.8M568.7 797.9L573.3 794.3M587.7 797.3L584.4 808.6M584.4 808.6L598.1 826.1M619.6 844.8L618.4 839.1M627.4 827.5L631.7 831.4M631.3 846.1L619.6 844.8M619.6 844.8L600.9 865.7M582.5 877.3L582.1 883.2M570.3 891.9L567.2 887M571.6 872.9L582.5 877.3M582.5 877.3L600.9 865.7M594.4 914L588.6 913.3M580.5 901L585.7 898.2M599.4 903.4L594.4 914M594.4 914L605.1 933.5M588.7 1037L586.6 1038.9M571.7 1042.8L569.9 1041.5M578.5 1036.7L588.7 1037M588.7 1037L606.5 1026.8M697.8 1049.5L703.8 1047.2M715.8 1046.4L711.6 1049.3M696.4 1054.1L697.8 1049.5M697.8 1049.5L680 1035.3" fill="none" stroke="#cfcfec" stroke-width="4" stroke-linecap="round"/>
<path d="M488.2 650.8L492.8 654.4M493.4 669.1L487.6 668.9M488.2 650.8L488.3 647M493.4 669.1L495.5 672.2M500.4 692.2L503.9 696.9M500.7 711.2L495.1 709.5M500.7 711.2L501.9 714.8M495.4 735.7L497.6 741.1M490.8 754.1L485.8 751M495.4 735.7L497.4 732.5M490.8 754.1L491.1 757.9M500.1 759.6L504.7 763.2M505.3 777.9L499.4 777.7M505.3 777.9L507.4 781M495.3 808.1L498.8 812.8M495.6 827.1L490 825.4M495.3 808.1L496.4 804.5M495.6 827.1L496.8 830.6M507.3 843.1L509.5 848.5M502.7 861.5L497.7 858.4M502.7 861.5L502.9 865.3M495 878.3L499.6 881.9M500.2 896.6L494.3 896.4M495 878.3L495.1 874.5M500.2 896.6L502.3 899.7M507.1 898.5L510.7 903.2M507.5 917.5L501.9 915.8M507.5 917.5L508.7 921.1M615.4 647.8L621 646M633.5 653.7L630 658.5M633.5 653.7L637.2 653.7M600 698.8L605.5 696.7M615.9 696.4L611.9 699M600 698.8L596.2 698.7M619.3 734.8L624.4 732.5M631.5 733.1L626.9 736.3M619.3 734.8L615.6 734.1M574.6 778.8L568.9 780.3M557 771.7L560.8 767.2M574.6 778.8L577.5 781.2M572.7 809L570.7 803.4M578 790.7L582.8 794M617.2 833.4L622.3 830.4M636.1 835.3L633.7 840.7M636.1 835.3L639.8 834.6M581.7 889L576 890.5M564.1 882L567.8 877.5M581.7 889L584.6 891.4M582.7 912.5L581.6 906.8M590.8 895.3L595.1 899.4M582.7 912.5L580.2 915.3M584.5 1040.8L578.1 1041.8M568 1040.3L573.3 1038.5M584.5 1040.8L588.1 1041.5M709.8 1044.8L712.8 1045.6M707.5 1052.2L701.9 1053.1M707.5 1052.2L709.7 1055.2" fill="none" stroke="#2b4da6" stroke-width="4" stroke-linecap="butt"/>
<path d="M483.3 654.1L488.2 650.8M495.4 663.5L493.4 669.1M494.8 694.1L500.4 692.2M504.1 706.4L500.7 711.2M489.5 736.1L495.4 735.7M495.3 750.3L490.8 754.1M495.2 762.9L500.1 759.6M507.3 772.3L505.3 777.9M489.7 810L495.3 808.1M499 822.3L495.6 827.1M501.4 843.5L507.3 843.1M507.2 857.7L502.7 861.5M490.1 881.6L495 878.3M502.2 891.1L500.2 896.6M501.6 900.4L507.1 898.5M510.9 912.7L507.5 917.5M615.4 653.7L615.4 647.8M630 648.9L633.5 653.7M599 700.9L600 698.8M613.4 695.5L615.9 696.4M617.1 737.8L619.3 734.8M630.5 731.6L631.5 733.1M575 773L574.6 778.8M560.1 776.7L557 771.7M578.5 808.8L572.7 809M573.3 794.3L578 790.7M618.4 839.1L617.2 833.4M631.7 831.4L636.1 835.3M582.1 883.2L581.7 889M567.2 887L564.1 882M588.6 913.3L582.7 912.5M585.7 898.2L590.8 895.3M586.6 1038.9L584.5 1040.8M569.9 1041.5L568 1040.3M703.8 1047.2L709.8 1044.8M711.6 1049.3L707.5 1052.2" fill="none" stroke="#2b4da6" stroke-width="4" stroke-linecap="butt"/>
<path d="M488.3 647L488.4 643.3M495.5 672.2L497.6 675.3M501.9 714.8L503.1 718.3M497.4 732.5L499.4 729.3M491.1 757.9L491.3 761.6M507.4 781L509.5 784.1M496.4 804.5L497.5 800.9M496.8 830.6L498.1 834.2M502.9 865.3L503.2 869M495.1 874.5L495.2 870.8M502.3 899.7L504.4 902.8M508.7 921.1L509.9 924.6M637.2 653.7L641 653.7M596.2 698.7L592.5 698.6M615.6 734.1L611.9 733.4M577.5 781.2L580.4 783.7M639.8 834.6L643.4 833.8M584.6 891.4L587.5 893.8M580.2 915.3L577.6 918M588.1 1041.5L591.8 1042.3M709.7 1055.2L711.9 1058.2" fill="none" stroke="#e9e9e4" stroke-width="4" stroke-linecap="butt"/>
<path d="M492.8 654.4L497.4 658M487.6 668.9L481.7 668.6M503.9 696.9L507.4 701.6M495.1 709.5L489.5 707.8M497.6 741.1L499.8 746.6M485.8 751L480.8 747.9M504.7 763.2L509.3 766.8M499.4 777.7L493.5 777.5M498.8 812.8L502.4 817.5M490 825.4L484.4 823.6M509.5 848.5L511.7 854M497.7 858.4L492.7 855.3M499.6 881.9L504.2 885.5M494.3 896.4L488.5 896.2M510.7 903.2L514.2 907.9M501.9 915.8L496.2 914.1M621 646L626.6 644.2M630 658.5L626.6 663.2M605.5 696.7L611 694.7M611.9 699L607.9 701.6M624.4 732.5L629.5 730.1M626.9 736.3L622.4 739.6M568.9 780.3L563.2 781.7M560.8 767.2L564.6 762.7M570.7 803.4L568.7 797.9M582.8 794L587.7 797.3M622.3 830.4L627.4 827.5M633.7 840.7L631.3 846.1M576 890.5L570.3 891.9M567.8 877.5L571.6 872.9M581.6 906.8L580.5 901M595.1 899.4L599.4 903.4M578.1 1041.8L571.7 1042.8M573.3 1038.5L578.5 1036.7M712.8 1045.6L715.8 1046.4M701.9 1053.1L696.4 1054.1" fill="none" stroke="#cfcfec" stroke-width="4" stroke-linecap="butt"/>
<g fill="#2b4da6"><circle cx="488.2" cy="650.8" r="2"/><circle cx="488.2" cy="650.8" r="2"/><circle cx="493.4" cy="669.1" r="2"/><circle cx="493.4" cy="669.1" r="2"/><circle cx="488.2" cy="650.8" r="2"/><circle cx="493.4" cy="669.1" r="2"/><circle cx="500.4" cy="692.2" r="2"/><circle cx="500.4" cy="692.2" r="2"/><circle cx="500.7" cy="711.2" r="2"/><circle cx="500.7" cy="711.2" r="2"/><circle cx="500.7" cy="711.2" r="2"/><circle cx="495.4" cy="735.7" r="2"/><circle cx="495.4" cy="735.7" r="2"/><circle cx="490.8" cy="754.1" r="2"/><circle cx="490.8" cy="754.1" r="2"/><circle cx="495.4" cy="735.7" r="2"/><circle cx="490.8" cy="754.1" r="2"/><circle cx="500.1" cy="759.6" r="2"/><circle cx="500.1" cy="759.6" r="2"/><circle cx="505.3" cy="777.9" r="2"/><circle cx="505.3" cy="777.9" r="2"/><circle cx="505.3" cy="777.9" r="2"/><circle cx="495.3" cy="808.1" r="2"/><circle cx="495.3" cy="808.1" r="2"/><circle cx="495.6" cy="827.1" r="2"/><circle cx="495.6" cy="827.1" r="2"/><circle cx="495.3" cy="808.1" r="2"/><circle cx="495.6" cy="827.1" r="2"/><circle cx="507.3" cy="843.1" r="2"/><circle cx="507.3" cy="843.1" r="2"/><circle cx="502.7" cy="861.5" r="2"/><circle cx="502.7" cy="861.5" r="2"/><circle cx="502.7" cy="861.5" r="2"/><circle cx="495" cy="878.3" r="2"/><circle cx="495" cy="878.3" r="2"/><circle cx="500.2" cy="896.6" r="2"/><circle cx="500.2" cy="896.6" r="2"/><circle cx="495" cy="878.3" r="2"/><circle cx="500.2" cy="896.6" r="2"/><circle cx="507.1" cy="898.5" r="2"/><circle cx="507.1" cy="898.5" r="2"/><circle cx="507.5" cy="917.5" r="2"/><circle cx="507.5" cy="917.5" r="2"/><circle cx="507.5" cy="917.5" r="2"/><circle cx="615.4" cy="647.8" r="2"/><circle cx="615.4" cy="647.8" r="2"/><circle cx="633.5" cy="653.7" r="2"/><circle cx="633.5" cy="653.7" r="2"/><circle cx="633.5" cy="653.7" r="2"/><circle cx="600" cy="698.8" r="2"/><circle cx="600" cy="698.8" r="2"/><circle cx="615.9" cy="696.4" r="2"/><circle cx="615.9" cy="696.4" r="2"/><circle cx="600" cy="698.8" r="2"/><circle cx="619.3" cy="734.8" r="2"/><circle cx="619.3" cy="734.8" r="2"/><circle cx="631.5" cy="733.1" r="2"/><circle cx="631.5" cy="733.1" r="2"/><circle cx="619.3" cy="734.8" r="2"/><circle cx="574.6" cy="778.8" r="2"/><circle cx="574.6" cy="778.8" r="2"/><circle cx="557" cy="771.7" r="2"/><circle cx="557" cy="771.7" r="2"/><circle cx="574.6" cy="778.8" r="2"/><circle cx="572.7" cy="809" r="2"/><circle cx="572.7" cy="809" r="2"/><circle cx="578" cy="790.7" r="2"/><circle cx="578" cy="790.7" r="2"/><circle cx="617.2" cy="833.4" r="2"/><circle cx="617.2" cy="833.4" r="2"/><circle cx="636.1" cy="835.3" r="2"/><circle cx="636.1" cy="835.3" r="2"/><circle cx="636.1" cy="835.3" r="2"/><circle cx="581.7" cy="889" r="2"/><circle cx="581.7" cy="889" r="2"/><circle cx="564.1" cy="882" r="2"/><circle cx="564.1" cy="882" r="2"/><circle cx="581.7" cy="889" r="2"/><circle cx="582.7" cy="912.5" r="2"/><circle cx="582.7" cy="912.5" r="2"/><circle cx="590.8" cy="895.3" r="2"/><circle cx="590.8" cy="895.3" r="2"/><circle cx="582.7" cy="912.5" r="2"/><circle cx="584.5" cy="1040.8" r="2"/><circle cx="584.5" cy="1040.8" r="2"/><circle cx="568" cy="1040.3" r="2"/><circle cx="568" cy="1040.3" r="2"/><circle cx="584.5" cy="1040.8" r="2"/><circle cx="709.8" cy="1044.8" r="2"/><circle cx="709.8" cy="1044.8" r="2"/><circle cx="707.5" cy="1052.2" r="2"/><circle cx="707.5" cy="1052.2" r="2"/><circle cx="707.5" cy="1052.2" r="2"/></g>
<g fill="#e9e9e4"><circle cx="488.4" cy="643.3" r="2"/><circle cx="497.6" cy="675.3" r="2"/><circle cx="503.1" cy="718.3" r="2"/><circle cx="499.4" cy="729.3" r="2"/><circle cx="491.3" cy="761.6" r="2"/><circle cx="509.5" cy="784.1" r="2"/><circle cx="497.5" cy="800.9" r="2"/><circle cx="498.1" cy="834.2" r="2"/><circle cx="503.2" cy="869" r="2"/><circle cx="495.2" cy="870.8" r="2"/><circle cx="504.4" cy="902.8" r="2"/><circle cx="509.9" cy="924.6" r="2"/><circle cx="641" cy="653.7" r="2"/><circle cx="592.5" cy="698.6" r="2"/><circle cx="611.9" cy="733.4" r="2"/><circle cx="580.4" cy="783.7" r="2"/><circle cx="643.4" cy="833.8" r="2"/><circle cx="587.5" cy="893.8" r="2"/><circle cx="577.6" cy="918" r="2"/><circle cx="591.8" cy="1042.3" r="2"/><circle cx="711.9" cy="1058.2" r="2"/></g>
<g class="v"><circle cx="460.7" cy="823.1" r="18.0"/><circle cx="712.8" cy="742.8" r="18.0"/><circle cx="463.9" cy="765.2" r="18.0"/><circle cx="706.1" cy="851.7" r="18.0"/><circle cx="527.2" cy="977.7" r="18.0"/><circle cx="690.4" cy="961.9" r="18.0"/><circle cx="713.6" cy="905" r="18.0"/><circle cx="723.3" cy="806.5" r="18.0"/></g><g class="w"><circle cx="450.7" cy="834.7" r="13.6"/><circle cx="707.7" cy="962.1" r="13.6"/><circle cx="473.9" cy="817.1" r="13.6"/><circle cx="542.5" cy="978" r="13.6"/><circle cx="726.3" cy="916" r="13.6"/><circle cx="676.7" cy="972" r="13.6"/><circle cx="704.7" cy="918.3" r="13.6"/><circle cx="718.4" cy="890.4" r="13.6"/><circle cx="704.3" cy="834.5" r="13.6"/><circle cx="470.3" cy="750.4" r="13.6"/><circle cx="452.2" cy="756.7" r="13.6"/><circle cx="711.3" cy="864.9" r="13.6"/><circle cx="474.8" cy="775" r="13.6"/><circle cx="515.2" cy="987" r="13.6"/><circle cx="739.7" cy="807.8" r="13.6"/><circle cx="727.2" cy="739.6" r="13.6"/><circle cx="688.2" cy="947.6" r="13.6"/><circle cx="722.2" cy="821.6" r="13.6"/><circle cx="697.5" cy="748" r="13.6"/><circle cx="516.8" cy="964.1" r="13.6"/><circle cx="689" cy="852.1" r="13.6"/><circle cx="708.9" cy="800.6" r="13.6"/></g><g class="u"><circle cx="460.7" cy="823.1" r="18.0"/><circle cx="723.3" cy="806.5" r="18.0"/></g>
</g>
<g>
<path d="M1850.4 1029.9L1959.1 1034.2L1959.3 1028.7L1992.8 1043L1958.3 1054.6L1958.5 1049.2L1849.8 1044.8 Z" fill="#9f9fc0" stroke="#55556a" stroke-width="0.8" stroke-linejoin="round"/><path d="M1850.4 1026.4L1959.1 1030.7L1959.3 1025.2L1992.8 1039.5L1958.3 1051.1L1958.5 1045.7L1849.8 1041.3 Z" fill="#cdcdea" stroke="#55556a" stroke-width="0.8" stroke-linejoin="round"/>
<g fill="#8f8fa6"><circle cx="1878.4" cy="891.3" r="21"/><circle cx="1778.9" cy="895.4" r="21"/><circle cx="1764.4" cy="879" r="21"/><circle cx="1867.8" cy="909.4" r="21"/><circle cx="2001.1" cy="908.5" r="21"/><circle cx="1808.1" cy="769.3" r="21"/><circle cx="1793.7" cy="717.4" r="21"/><circle cx="1957.4" cy="889.1" r="21"/><circle cx="1791.2" cy="918.3" r="21"/><circle cx="1760.7" cy="719.2" r="21"/><circle cx="1976" cy="823.8" r="21"/><circle cx="1791.4" cy="857.8" r="21"/><circle cx="1918.3" cy="724.1" r="21"/><circle cx="1760.8" cy="749.8" r="21"/><circle cx="1863.3" cy="1019.7" r="21"/><circle cx="2059" cy="1030.8" r="21"/><circle cx="1838.2" cy="784.8" r="21"/><circle cx="1922.8" cy="849.4" r="21"/><circle cx="1893.4" cy="760.9" r="21"/><circle cx="1869.1" cy="694.8" r="21"/><circle cx="1938.8" cy="877.9" r="21"/><circle cx="1933.5" cy="772.5" r="21"/><circle cx="1859" cy="880.5" r="21"/><circle cx="1856.5" cy="828.3" r="21"/><circle cx="1880.1" cy="839.2" r="21"/><circle cx="1942.4" cy="959.2" r="21"/><circle cx="1764.5" cy="773.4" r="21"/><circle cx="2009.7" cy="877.9" r="21"/><circle cx="2037.4" cy="1037.5" r="21"/><circle cx="1988.6" cy="966.8" r="21"/><circle cx="2015.9" cy="1030.7" r="21"/><circle cx="2014.8" cy="818.1" r="21"/><circle cx="1995.8" cy="790.6" r="21"/><circle cx="1864" cy="944" r="21"/><circle cx="1987.2" cy="878.6" r="21"/><circle cx="2046.3" cy="983.7" r="21"/><circle cx="1957.8" cy="843.8" r="21"/><circle cx="1934.8" cy="978.9" r="21"/><circle cx="1893" cy="791.5" r="21"/><circle cx="1854.5" cy="854.7" r="21"/><circle cx="1838.8" cy="888" r="21"/><circle cx="1977.7" cy="858.9" r="21"/><circle cx="1837" cy="838.8" r="21"/><circle cx="1889.7" cy="992.5" r="21"/><circle cx="1831.4" cy="866.2" r="21"/><circle cx="1990.8" cy="989.7" r="21"/><circle cx="2030.4" cy="1015.3" r="21"/><circle cx="2037.6" cy="953.5" r="21"/><circle cx="1812.7" cy="849.8" r="21"/><circle cx="2028.5" cy="866.2" r="21"/><circle cx="1910.9" cy="922.8" r="21"/><circle cx="1872.8" cy="978.8" r="21"/><circle cx="1795.4" cy="976.2" r="21"/><circle cx="1883" cy="955.7" r="21"/><circle cx="1908.9" cy="897.5" r="21"/><circle cx="2006.7" cy="1006.8" r="21"/><circle cx="1953.2" cy="1000.2" r="21"/><circle cx="1822.9" cy="1009.5" r="21"/><circle cx="1791.2" cy="999.7" r="21"/><circle cx="1994.3" cy="837" r="21"/><circle cx="1860.7" cy="720.4" r="21"/><circle cx="1827.9" cy="759.7" r="21"/><circle cx="1986.4" cy="714.9" r="21"/><circle cx="1989.4" cy="755.1" r="21"/><circle cx="1787.6" cy="694.3" r="21"/><circle cx="2032.1" cy="841.2" r="21"/><circle cx="1956" cy="740" r="21"/><circle cx="1914.2" cy="755.6" r="21"/><circle cx="1922" cy="699.3" r="21"/><circle cx="1957.8" cy="806.4" r="21"/><circle cx="1933.9" cy="744.7" r="21"/><circle cx="2028.1" cy="893" r="21"/><circle cx="1911.7" cy="981.4" r="21"/><circle cx="1812.5" cy="734.3" r="21"/><circle cx="1939.7" cy="793" r="21"/><circle cx="1973.5" cy="1019.2" r="21"/><circle cx="1777.6" cy="736.6" r="21"/><circle cx="1959.4" cy="923.6" r="21"/><circle cx="1775.1" cy="943.7" r="21"/><circle cx="1877.9" cy="860.2" r="21"/><circle cx="1911.6" cy="943.9" r="21"/><circle cx="1975.8" cy="901.3" r="21"/><circle cx="1799.1" cy="945.9" r="21"/><circle cx="1832.6" cy="990.3" r="21"/><circle cx="1795.9" cy="750.7" r="21"/><circle cx="1894.7" cy="719.6" r="21"/><circle cx="1972.1" cy="786.2" r="21"/><circle cx="1948.6" cy="703.1" r="21"/><circle cx="1898.4" cy="874.8" r="21"/><circle cx="1919.4" cy="1030.5" r="21"/><circle cx="2011.6" cy="771.4" r="21"/><circle cx="1787.5" cy="790.6" r="21"/><circle cx="1873.7" cy="810" r="21"/><circle cx="2011.4" cy="852.9" r="21"/><circle cx="2033.9" cy="931.1" r="21"/><circle cx="1909.7" cy="1004.1" r="21"/><circle cx="1758.3" cy="814.3" r="21"/><circle cx="1849.4" cy="686.5" r="21"/><circle cx="1809.9" cy="799.8" r="21"/><circle cx="1888.9" cy="918.5" r="21"/><circle cx="2014.4" cy="941.9" r="21"/><circle cx="1906.7" cy="681.7" r="21"/><circle cx="1890.9" cy="697.9" r="21"/><circle cx="1812.5" cy="908.3" r="21"/><circle cx="1764.7" cy="689.7" r="21"/><circle cx="2053.3" cy="1010.1" r="21"/><circle cx="1862.1" cy="762.7" r="21"/><circle cx="1821.6" cy="961.3" r="21"/><circle cx="1853.6" cy="998.5" r="21"/><circle cx="1930.3" cy="812.8" r="21"/><circle cx="1941.8" cy="937.6" r="21"/><circle cx="1964.2" cy="975.8" r="21"/><circle cx="1955.7" cy="771" r="21"/><circle cx="1839.9" cy="914.1" r="21"/><circle cx="1840.7" cy="741.8" r="21"/><circle cx="1964.7" cy="952.2" r="21"/><circle cx="1932.4" cy="914" r="21"/><circle cx="1817.5" cy="701.5" r="21"/><circle cx="1783.7" cy="836" r="21"/><circle cx="1762.2" cy="838.3" r="21"/><circle cx="2013.1" cy="745.9" r="21"/><circle cx="1798.6" cy="885.1" r="21"/><circle cx="1877.4" cy="738.5" r="21"/><circle cx="1884.8" cy="1022.4" r="21"/><circle cx="1899.9" cy="822.3" r="21"/><circle cx="2012" cy="970.9" r="21"/><circle cx="1975.5" cy="692.7" r="21"/><circle cx="1768.4" cy="921.7" r="21"/><circle cx="1840.3" cy="709.3" r="21"/><circle cx="1936.1" cy="1016.6" r="21"/><circle cx="1825.1" cy="931.3" r="21"/><circle cx="1915.7" cy="787.9" r="21"/><circle cx="1842.2" cy="967.4" r="21"/><circle cx="1988.3" cy="941.8" r="21"/><circle cx="1870.1" cy="786.3" r="21"/><circle cx="1783.2" cy="814" r="21"/><circle cx="2020.7" cy="791.8" r="21"/><circle cx="1812.6" cy="826" r="21"/><circle cx="1836.4" cy="810.3" r="21"/></g>
<g class="v"><circle cx="1878.4" cy="891.3" r="18.0"/><circle cx="1778.9" cy="895.4" r="18.0"/><circle cx="1764.4" cy="879" r="18.0"/><circle cx="1867.8" cy="909.4" r="18.0"/><circle cx="2001.1" cy="908.5" r="18.0"/><circle cx="1808.1" cy="769.3" r="18.0"/><circle cx="1793.7" cy="717.4" r="18.0"/><circle cx="1957.4" cy="889.1" r="18.0"/><circle cx="1791.2" cy="918.3" r="18.0"/><circle cx="1760.7" cy="719.2" r="18.0"/><circle cx="1976" cy="823.8" r="18.0"/><circle cx="1791.4" cy="857.8" r="18.0"/><circle cx="1918.3" cy="724.1" r="18.0"/><circle cx="1760.8" cy="749.8" r="18.0"/><circle cx="1863.3" cy="1019.7" r="18.0"/><circle cx="2059" cy="1030.8" r="18.0"/><circle cx="1838.2" cy="784.8" r="18.0"/><circle cx="1922.8" cy="849.4" r="18.0"/><circle cx="1893.4" cy="760.9" r="18.0"/><circle cx="1869.1" cy="694.8" r="18.0"/><circle cx="1938.8" cy="877.9" r="18.0"/><circle cx="1933.5" cy="772.5" r="18.0"/><circle cx="1859" cy="880.5" r="18.0"/><circle cx="1856.5" cy="828.3" r="18.0"/><circle cx="1880.1" cy="839.2" r="18.0"/><circle cx="1942.4" cy="959.2" r="18.0"/><circle cx="1764.5" cy="773.4" r="18.0"/><circle cx="2009.7" cy="877.9" r="18.0"/><circle cx="2037.4" cy="1037.5" r="18.0"/><circle cx="1988.6" cy="966.8" r="18.0"/><circle cx="2015.9" cy="1030.7" r="18.0"/><circle cx="2014.8" cy="818.1" r="18.0"/><circle cx="1995.8" cy="790.6" r="18.0"/><circle cx="1864" cy="944" r="18.0"/><circle cx="1987.2" cy="878.6" r="18.0"/><circle cx="2046.3" cy="983.7" r="18.0"/><circle cx="1957.8" cy="843.8" r="18.0"/><circle cx="1934.8" cy="978.9" r="18.0"/><circle cx="1893" cy="791.5" r="18.0"/><circle cx="1854.5" cy="854.7" r="18.0"/><circle cx="1838.8" cy="888" r="18.0"/><circle cx="1977.7" cy="858.9" r="18.0"/><circle cx="1837" cy="838.8" r="18.0"/><circle cx="1889.7" cy="992.5" r="18.0"/><circle cx="1831.4" cy="866.2" r="18.0"/><circle cx="1990.8" cy="989.7" r="18.0"/><circle cx="2030.4" cy="1015.3" r="18.0"/><circle cx="2037.6" cy="953.5" r="18.0"/><circle cx="1812.7" cy="849.8" r="18.0"/><circle cx="2028.5" cy="866.2" r="18.0"/><circle cx="1910.9" cy="922.8" r="18.0"/><circle cx="1872.8" cy="978.8" r="18.0"/><circle cx="1795.4" cy="976.2" r="18.0"/><circle cx="1883" cy="955.7" r="18.0"/><circle cx="1908.9" cy="897.5" r="18.0"/><circle cx="2006.7" cy="1006.8" r="18.0"/><circle cx="1953.2" cy="1000.2" r="18.0"/><circle cx="1822.9" cy="1009.5" r="18.0"/><circle cx="1791.2" cy="999.7" r="18.0"/><circle cx="1994.3" cy="837" r="18.0"/><circle cx="1860.7" cy="720.4" r="18.0"/><circle cx="1827.9" cy="759.7" r="18.0"/><circle cx="1986.4" cy="714.9" r="18.0"/><circle cx="1989.4" cy="755.1" r="18.0"/><circle cx="1787.6" cy="694.3" r="18.0"/><circle cx="2032.1" cy="841.2" r="18.0"/><circle cx="1956" cy="740" r="18.0"/><circle cx="1914.2" cy="755.6" r="18.0"/><circle cx="1922" cy="699.3" r="18.0"/><circle cx="1957.8" cy="806.4" r="18.0"/><circle cx="1933.9" cy="744.7" r="18.0"/><circle cx="2028.1" cy="893" r="18.0"/><circle cx="1911.7" cy="981.4" r="18.0"/><circle cx="1812.5" cy="734.3" r="18.0"/><circle cx="1939.7" cy="793" r="18.0"/><circle cx="1973.5" cy="1019.2" r="18.0"/><circle cx="1777.6" cy="736.6" r="18.0"/><circle cx="1959.4" cy="923.6" r="18.0"/><circle cx="1775.1" cy="943.7" r="18.0"/><circle cx="1877.9" cy="860.2" r="18.0"/><circle cx="1911.6" cy="943.9" r="18.0"/><circle cx="1975.8" cy="901.3" r="18.0"/><circle cx="1799.1" cy="945.9" r="18.0"/><circle cx="1832.6" cy="990.3" r="18.0"/><circle cx="1795.9" cy="750.7" r="18.0"/><circle cx="1894.7" cy="719.6" r="18.0"/><circle cx="1972.1" cy="786.2" r="18.0"/><circle cx="1948.6" cy="703.1" r="18.0"/><circle cx="1898.4" cy="874.8" r="18.0"/><circle cx="1919.4" cy="1030.5" r="18.0"/><circle cx="2011.6" cy="771.4" r="18.0"/><circle cx="1787.5" cy="790.6" r="18.0"/><circle cx="1873.7" cy="810" r="18.0"/><circle cx="2011.4" cy="852.9" r="18.0"/><circle cx="2033.9" cy="931.1" r="18.0"/><circle cx="1909.7" cy="1004.1" r="18.0"/><circle cx="1758.3" cy="814.3" r="18.0"/><circle cx="1849.4" cy="686.5" r="18.0"/><circle cx="1809.9" cy="799.8" r="18.0"/><circle cx="1888.9" cy="918.5" r="18.0"/><circle cx="2014.4" cy="941.9" r="18.0"/><circle cx="1906.7" cy="681.7" r="18.0"/><circle cx="1890.9" cy="697.9" r="18.0"/><circle cx="1812.5" cy="908.3" r="18.0"/><circle cx="1764.7" cy="689.7" r="18.0"/><circle cx="2053.3" cy="1010.1" r="18.0"/><circle cx="1862.1" cy="762.7" r="18.0"/><circle cx="1821.6" cy="961.3" r="18.0"/><circle cx="1853.6" cy="998.5" r="18.0"/><circle cx="1930.3" cy="812.8" r="18.0"/><circle cx="1941.8" cy="937.6" r="18.0"/><circle cx="1964.2" cy="975.8" r="18.0"/><circle cx="1955.7" cy="771" r="18.0"/><circle cx="1839.9" cy="914.1" r="18.0"/><circle cx="1840.7" cy="741.8" r="18.0"/><circle cx="1964.7" cy="952.2" r="18.0"/><circle cx="1932.4" cy="914" r="18.0"/><circle cx="1817.5" cy="701.5" r="18.0"/><circle cx="1783.7" cy="836" r="18.0"/><circle cx="1762.2" cy="838.3" r="18.0"/><circle cx="2013.1" cy="745.9" r="18.0"/><circle cx="1798.6" cy="885.1" r="18.0"/><circle cx="1877.4" cy="738.5" r="18.0"/><circle cx="1884.8" cy="1022.4" r="18.0"/><circle cx="1899.9" cy="822.3" r="18.0"/><circle cx="2012" cy="970.9" r="18.0"/><circle cx="1975.5" cy="692.7" r="18.0"/><circle cx="1768.4" cy="921.7" r="18.0"/><circle cx="1840.3" cy="709.3" r="18.0"/><circle cx="1936.1" cy="1016.6" r="18.0"/><circle cx="1825.1" cy="931.3" r="18.0"/><circle cx="1915.7" cy="787.9" r="18.0"/><circle cx="1842.2" cy="967.4" r="18.0"/><circle cx="1988.3" cy="941.8" r="18.0"/><circle cx="1870.1" cy="786.3" r="18.0"/><circle cx="1783.2" cy="814" r="18.0"/><circle cx="2020.7" cy="791.8" r="18.0"/><circle cx="1812.6" cy="826" r="18.0"/><circle cx="1836.4" cy="810.3" r="18.0"/></g><g class="w"><circle cx="1963" cy="879" r="13.6"/><circle cx="1805" cy="932.3" r="13.6"/><circle cx="1756.8" cy="931.6" r="13.6"/><circle cx="1810.4" cy="939.5" r="13.6"/><circle cx="1869.6" cy="854.8" r="13.6"/><circle cx="1956.5" cy="941.3" r="13.6"/><circle cx="2028.3" cy="905.4" r="13.6"/><circle cx="1806.9" cy="760.7" r="13.6"/><circle cx="1936" cy="695.4" r="13.6"/><circle cx="1800.9" cy="736.4" r="13.6"/><circle cx="2034.2" cy="788.9" r="13.6"/><circle cx="2025.7" cy="848.5" r="13.6"/><circle cx="2047.2" cy="842.8" r="13.6"/><circle cx="1997.9" cy="766.2" r="13.6"/><circle cx="1959.2" cy="752.3" r="13.6"/><circle cx="1851.4" cy="701.6" r="13.6"/><circle cx="1800.6" cy="991.2" r="13.6"/><circle cx="1764.6" cy="898.1" r="13.6"/><circle cx="1889.4" cy="733.9" r="13.6"/><circle cx="2051.7" cy="1031.7" r="13.6"/><circle cx="2024.3" cy="1043.1" r="13.6"/><circle cx="1777.3" cy="884" r="13.6"/><circle cx="1917.3" cy="815.5" r="13.6"/><circle cx="1967.8" cy="870" r="13.6"/><circle cx="1915.6" cy="770.1" r="13.6"/><circle cx="1977" cy="681" r="13.6"/><circle cx="1940.7" cy="712.7" r="13.6"/><circle cx="1808.1" cy="784.3" r="13.6"/><circle cx="1925.3" cy="751.6" r="13.6"/><circle cx="2006.1" cy="791.9" r="13.6"/><circle cx="1996.1" cy="883.7" r="13.6"/><circle cx="1919.9" cy="914.6" r="13.6"/><circle cx="1887" cy="901.2" r="13.6"/><circle cx="1987.2" cy="741.9" r="13.6"/><circle cx="1924.2" cy="983.1" r="13.6"/><circle cx="1842.4" cy="926.7" r="13.6"/><circle cx="1959.5" cy="1014.8" r="13.6"/><circle cx="1978.9" cy="1005.1" r="13.6"/><circle cx="1980.7" cy="796.1" r="13.6"/><circle cx="1845.9" cy="1009.8" r="13.6"/><circle cx="1986.9" cy="798.3" r="13.6"/><circle cx="1945" cy="803" r="13.6"/><circle cx="1796.7" cy="728.5" r="13.6"/><circle cx="1840.6" cy="858.1" r="13.6"/><circle cx="1950.5" cy="928.4" r="13.6"/><circle cx="1851.7" cy="731.5" r="13.6"/><circle cx="1887.1" cy="850.7" r="13.6"/><circle cx="1983.3" cy="702.9" r="13.6"/><circle cx="1902.5" cy="748.8" r="13.6"/><circle cx="1805.9" cy="711.2" r="13.6"/><circle cx="2024.6" cy="948.2" r="13.6"/><circle cx="1846.8" cy="674.1" r="13.6"/><circle cx="1875.3" cy="946.4" r="13.6"/><circle cx="1934.9" cy="697.2" r="13.6"/><circle cx="2006.4" cy="734" r="13.6"/><circle cx="2020.1" cy="855.5" r="13.6"/><circle cx="1829.6" cy="976.1" r="13.6"/><circle cx="1760.6" cy="704.8" r="13.6"/><circle cx="1794.7" cy="1012.3" r="13.6"/><circle cx="1999.4" cy="996.9" r="13.6"/><circle cx="1894.3" cy="952.4" r="13.6"/><circle cx="2039.1" cy="970.9" r="13.6"/><circle cx="1846" cy="881.6" r="13.6"/><circle cx="1922.5" cy="1017.6" r="13.6"/><circle cx="1948.2" cy="782.4" r="13.6"/><circle cx="1892.2" cy="1034.8" r="13.6"/><circle cx="1791.1" cy="842.9" r="13.6"/><circle cx="1891.3" cy="711.2" r="13.6"/><circle cx="1918.6" cy="713.1" r="13.6"/><circle cx="1905.1" cy="718.6" r="13.6"/><circle cx="2008.2" cy="785.7" r="13.6"/><circle cx="1975.8" cy="874" r="13.6"/><circle cx="1871.4" cy="711.1" r="13.6"/><circle cx="1755.5" cy="828.3" r="13.6"/><circle cx="1841.6" cy="874.9" r="13.6"/><circle cx="2012.3" cy="865.4" r="13.6"/><circle cx="1957" cy="693.2" r="13.6"/><circle cx="1839.1" cy="765.9" r="13.6"/><circle cx="1998.3" cy="848.9" r="13.6"/><circle cx="2044.3" cy="922.3" r="13.6"/><circle cx="1941.3" cy="761.6" r="13.6"/><circle cx="1806.5" cy="967.7" r="13.6"/><circle cx="1778.3" cy="778.6" r="13.6"/><circle cx="1750.7" cy="755.3" r="13.6"/><circle cx="1967.4" cy="730.5" r="13.6"/><circle cx="2037.9" cy="1052.4" r="13.6"/><circle cx="2037.8" cy="940.8" r="13.6"/><circle cx="1911" cy="696" r="13.6"/><circle cx="1831.5" cy="824.3" r="13.6"/><circle cx="1791.1" cy="738.6" r="13.6"/><circle cx="1871.5" cy="822.5" r="13.6"/><circle cx="1798.6" cy="813.3" r="13.6"/><circle cx="2042.6" cy="1009.6" r="13.6"/><circle cx="1927.1" cy="686.6" r="13.6"/><circle cx="1997.6" cy="973" r="13.6"/><circle cx="1867.9" cy="890" r="13.6"/><circle cx="1950" cy="950.6" r="13.6"/><circle cx="1921.7" cy="1017.5" r="13.6"/><circle cx="1787.3" cy="946.5" r="13.6"/><circle cx="2026.3" cy="817.3" r="13.6"/><circle cx="1907.3" cy="1031" r="13.6"/><circle cx="1989.6" cy="909" r="13.6"/><circle cx="1753.4" cy="779.1" r="13.6"/><circle cx="1963.6" cy="853.8" r="13.6"/><circle cx="1801.3" cy="925.7" r="13.6"/><circle cx="1904" cy="952.7" r="13.6"/><circle cx="1854.8" cy="1011.7" r="13.6"/><circle cx="1896.2" cy="833.7" r="13.6"/><circle cx="1940.2" cy="756.9" r="13.6"/><circle cx="1825.2" cy="852.2" r="13.6"/><circle cx="1905.5" cy="1016" r="13.6"/><circle cx="1797.6" cy="799.4" r="13.6"/><circle cx="1903.9" cy="780.1" r="13.6"/><circle cx="1844" cy="899.6" r="13.6"/><circle cx="1773.6" cy="784.4" r="13.6"/><circle cx="1990.5" cy="1001.4" r="13.6"/><circle cx="1847.9" cy="957.1" r="13.6"/><circle cx="1907.7" cy="885.7" r="13.6"/><circle cx="2030.1" cy="1003.7" r="13.6"/><circle cx="1767.8" cy="848.8" r="13.6"/><circle cx="1954.2" cy="818.5" r="13.6"/><circle cx="1922.6" cy="834.8" r="13.6"/><circle cx="2018.4" cy="1015" r="13.6"/><circle cx="1804.3" cy="919.5" r="13.6"/><circle cx="1847.1" cy="816.6" r="13.6"/><circle cx="1792.9" cy="843.5" r="13.6"/><circle cx="2040.8" cy="857" r="13.6"/><circle cx="1901.7" cy="937.1" r="13.6"/><circle cx="1963.7" cy="987.5" r="13.6"/><circle cx="1775.9" cy="848.9" r="13.6"/><circle cx="1848.5" cy="981" r="13.6"/><circle cx="2016" cy="891.7" r="13.6"/><circle cx="1879" cy="997" r="13.6"/><circle cx="1967.4" cy="914" r="13.6"/><circle cx="1970.9" cy="914.8" r="13.6"/><circle cx="1947.2" cy="732" r="13.6"/><circle cx="1844.4" cy="987.7" r="13.6"/><circle cx="1951.6" cy="903.2" r="13.6"/><circle cx="1908.9" cy="743.4" r="13.6"/><circle cx="1780.4" cy="721.4" r="13.6"/><circle cx="1779.5" cy="907.6" r="13.6"/><circle cx="1783.3" cy="969.2" r="13.6"/><circle cx="1812.5" cy="935.8" r="13.6"/><circle cx="2048.9" cy="997.9" r="13.6"/><circle cx="1923.4" cy="950.4" r="13.6"/><circle cx="1758.7" cy="800.8" r="13.6"/><circle cx="1979" cy="810.3" r="13.6"/><circle cx="2003.4" cy="866.4" r="13.6"/><circle cx="1878.8" cy="687.5" r="13.6"/><circle cx="2066.4" cy="1012.3" r="13.6"/><circle cx="1831.8" cy="1003.9" r="13.6"/><circle cx="1930.4" cy="942.7" r="13.6"/><circle cx="1996.8" cy="886" r="13.6"/><circle cx="1988.7" cy="848.7" r="13.6"/><circle cx="1811" cy="714.9" r="13.6"/><circle cx="1775.3" cy="827.2" r="13.6"/><circle cx="2009.8" cy="784.1" r="13.6"/><circle cx="2000.9" cy="974.4" r="13.6"/><circle cx="1871.9" cy="749.1" r="13.6"/><circle cx="1814.4" cy="838.5" r="13.6"/><circle cx="1794.4" cy="681.8" r="13.6"/><circle cx="1762" cy="760.2" r="13.6"/><circle cx="1850.6" cy="760.4" r="13.6"/><circle cx="1925" cy="802.2" r="13.6"/><circle cx="1907.1" cy="994.9" r="13.6"/><circle cx="1997.4" cy="765.4" r="13.6"/><circle cx="1796.8" cy="958.4" r="13.6"/><circle cx="1945.7" cy="910.9" r="13.6"/><circle cx="1984.6" cy="1027.2" r="13.6"/><circle cx="1963.9" cy="991.6" r="13.6"/><circle cx="1971.1" cy="887.7" r="13.6"/><circle cx="1838.1" cy="851" r="13.6"/><circle cx="1873.6" cy="873.6" r="13.6"/><circle cx="1970.2" cy="934" r="13.6"/><circle cx="2057" cy="991" r="13.6"/><circle cx="1895.1" cy="842.8" r="13.6"/><circle cx="1883.9" cy="800.6" r="13.6"/><circle cx="1896.5" cy="889.9" r="13.6"/><circle cx="1790.4" cy="702.8" r="13.6"/><circle cx="1748.5" cy="808.2" r="13.6"/><circle cx="1850.3" cy="881.2" r="13.6"/><circle cx="1790.5" cy="892.1" r="13.6"/><circle cx="2039" cy="968.4" r="13.6"/><circle cx="1895.2" cy="777.7" r="13.6"/><circle cx="1924.9" cy="1002.6" r="13.6"/><circle cx="1870.8" cy="873.4" r="13.6"/><circle cx="1991.1" cy="977.8" r="13.6"/><circle cx="1815.7" cy="757.5" r="13.6"/><circle cx="1943.8" cy="735.8" r="13.6"/><circle cx="1883" cy="780.2" r="13.6"/><circle cx="2017.4" cy="1016.6" r="13.6"/><circle cx="1831.3" cy="1001.2" r="13.6"/><circle cx="1969.8" cy="705.5" r="13.6"/><circle cx="1853.4" cy="938" r="13.6"/><circle cx="1879.1" cy="697.2" r="13.6"/><circle cx="1846.9" cy="714.6" r="13.6"/><circle cx="1943.5" cy="783.3" r="13.6"/><circle cx="1933" cy="925.7" r="13.6"/><circle cx="1787" cy="903.8" r="13.6"/><circle cx="1871" cy="727.4" r="13.6"/><circle cx="1840.2" cy="899.4" r="13.6"/><circle cx="1776.5" cy="796" r="13.6"/><circle cx="1920.8" cy="710.4" r="13.6"/><circle cx="1760.8" cy="890" r="13.6"/><circle cx="1864.7" cy="801.7" r="13.6"/><circle cx="1910" cy="936" r="13.6"/><circle cx="2021.9" cy="847.2" r="13.6"/><circle cx="1770.3" cy="809.6" r="13.6"/><circle cx="2027" cy="751.9" r="13.6"/><circle cx="1884.8" cy="710.3" r="13.6"/><circle cx="1963.4" cy="1028.7" r="13.6"/><circle cx="1811.5" cy="811.1" r="13.6"/><circle cx="1915.1" cy="929.8" r="13.6"/><circle cx="1901.5" cy="995.2" r="13.6"/><circle cx="1788.4" cy="869.5" r="13.6"/><circle cx="1930.8" cy="888.4" r="13.6"/><circle cx="1827.3" cy="945.2" r="13.6"/><circle cx="1864.4" cy="685.3" r="13.6"/><circle cx="1935.4" cy="807.9" r="13.6"/><circle cx="1827.6" cy="910.2" r="13.6"/><circle cx="1919.4" cy="774.8" r="13.6"/><circle cx="1954.7" cy="792" r="13.6"/><circle cx="1975.4" cy="974.4" r="13.6"/><circle cx="1916.2" cy="969.8" r="13.6"/><circle cx="1881.6" cy="686.1" r="13.6"/><circle cx="1765.4" cy="740.9" r="13.6"/><circle cx="2041.7" cy="894.6" r="13.6"/><circle cx="1883.7" cy="772.2" r="13.6"/><circle cx="1817.3" cy="895.1" r="13.6"/><circle cx="2015.2" cy="902.4" r="13.6"/><circle cx="1778.7" cy="857.3" r="13.6"/><circle cx="1841.7" cy="877.7" r="13.6"/><circle cx="1796.7" cy="702.2" r="13.6"/><circle cx="1867.4" cy="851" r="13.6"/><circle cx="1819" cy="720.4" r="13.6"/><circle cx="1843.2" cy="830.1" r="13.6"/><circle cx="1883.1" cy="985.2" r="13.6"/><circle cx="1791.3" cy="988.5" r="13.6"/><circle cx="1780.9" cy="828" r="13.6"/><circle cx="1911.6" cy="816.1" r="13.6"/><circle cx="1970.5" cy="941.5" r="13.6"/><circle cx="1927.5" cy="962.5" r="13.6"/><circle cx="1975.2" cy="753" r="13.6"/><circle cx="1847.2" cy="829.4" r="13.6"/><circle cx="2022.2" cy="1019.3" r="13.6"/><circle cx="1752" cy="730.3" r="13.6"/><circle cx="1871.3" cy="966.8" r="13.6"/><circle cx="1847.7" cy="985" r="13.6"/><circle cx="2006.5" cy="994" r="13.6"/><circle cx="1750.8" cy="683.2" r="13.6"/><circle cx="1871.3" cy="751.3" r="13.6"/><circle cx="1811.7" cy="861.8" r="13.6"/><circle cx="1899.8" cy="672.4" r="13.6"/><circle cx="1855.4" cy="913.7" r="13.6"/><circle cx="1944.3" cy="887" r="13.6"/><circle cx="1776.8" cy="932.4" r="13.6"/><circle cx="1765.7" cy="952.3" r="13.6"/><circle cx="2030.4" cy="827.9" r="13.6"/><circle cx="1774.6" cy="928.6" r="13.6"/><circle cx="1971.4" cy="838.1" r="13.6"/><circle cx="1982.3" cy="780.8" r="13.6"/><circle cx="1970.8" cy="768.6" r="13.6"/><circle cx="1987.5" cy="902.1" r="13.6"/><circle cx="1976.7" cy="886.1" r="13.6"/><circle cx="1960.8" cy="776.9" r="13.6"/><circle cx="1948" cy="750.1" r="13.6"/><circle cx="1789" cy="825.4" r="13.6"/><circle cx="2012.3" cy="1044.4" r="13.6"/><circle cx="1892.4" cy="741.7" r="13.6"/><circle cx="1828.3" cy="1023.8" r="13.6"/><circle cx="1934.2" cy="1030.2" r="13.6"/><circle cx="1851.5" cy="733.5" r="13.6"/><circle cx="1953.8" cy="715.1" r="13.6"/><circle cx="1942.3" cy="1010.1" r="13.6"/><circle cx="1786.4" cy="706.4" r="13.6"/><circle cx="1760.5" cy="864.2" r="13.6"/><circle cx="1831.1" cy="694.5" r="13.6"/><circle cx="2046.5" cy="1029" r="13.6"/><circle cx="1775.2" cy="747.9" r="13.6"/><circle cx="1994.9" cy="868.6" r="13.6"/><circle cx="1878.6" cy="967.3" r="13.6"/><circle cx="1888.8" cy="869.7" r="13.6"/><circle cx="1939" cy="970.7" r="13.6"/><circle cx="2034.2" cy="985.4" r="13.6"/><circle cx="1756.8" cy="827.7" r="13.6"/><circle cx="1884.2" cy="783.4" r="13.6"/><circle cx="1981.3" cy="727.7" r="13.6"/><circle cx="1942.5" cy="814.3" r="13.6"/><circle cx="1821.7" cy="811.2" r="13.6"/><circle cx="2036.3" cy="1025.6" r="13.6"/><circle cx="1872.4" cy="1027.7" r="13.6"/><circle cx="1939.8" cy="992" r="13.6"/><circle cx="1886.2" cy="866.3" r="13.6"/><circle cx="1986.3" cy="700.1" r="13.6"/><circle cx="1814.5" cy="836.4" r="13.6"/><circle cx="1839.2" cy="769.3" r="13.6"/><circle cx="1808.9" cy="692.4" r="13.6"/><circle cx="1827.9" cy="893.3" r="13.6"/><circle cx="1873.5" cy="799.1" r="13.6"/><circle cx="1770.8" cy="829.5" r="13.6"/><circle cx="1775.1" cy="697.6" r="13.6"/><circle cx="1866.1" cy="776" r="13.6"/><circle cx="1920.2" cy="982.6" r="13.6"/><circle cx="2029.4" cy="940.8" r="13.6"/><circle cx="2051.1" cy="1022.6" r="13.6"/><circle cx="1828.1" cy="743.5" r="13.6"/><circle cx="1817.6" cy="861.9" r="13.6"/><circle cx="1942" cy="889.9" r="13.6"/><circle cx="1824.7" cy="978.6" r="13.6"/><circle cx="1846" cy="701.5" r="13.6"/><circle cx="1980.8" cy="891.4" r="13.6"/><circle cx="1749.6" cy="838.2" r="13.6"/><circle cx="1879.2" cy="1010.4" r="13.6"/><circle cx="1948.1" cy="835.7" r="13.6"/><circle cx="1808.7" cy="957.6" r="13.6"/><circle cx="1867.5" cy="831.4" r="13.6"/><circle cx="2024.6" cy="976.1" r="13.6"/><circle cx="2019.9" cy="881.2" r="13.6"/><circle cx="1784.4" cy="885.9" r="13.6"/><circle cx="1962.1" cy="793" r="13.6"/><circle cx="1969.1" cy="796.6" r="13.6"/><circle cx="1885.4" cy="979.1" r="13.6"/><circle cx="1799.5" cy="834.1" r="13.6"/><circle cx="1874.1" cy="945.5" r="13.6"/><circle cx="1869.9" cy="883.6" r="13.6"/><circle cx="2024.4" cy="772.5" r="13.6"/><circle cx="1823.7" cy="815.4" r="13.6"/><circle cx="1787" cy="729.9" r="13.6"/><circle cx="1983.7" cy="955.2" r="13.6"/><circle cx="1772.5" cy="907.9" r="13.6"/><circle cx="1789" cy="744.5" r="13.6"/><circle cx="2029.7" cy="1034.8" r="13.6"/><circle cx="1954.4" cy="960.1" r="13.6"/><circle cx="1790.8" cy="776.7" r="13.6"/><circle cx="1996.4" cy="856.5" r="13.6"/><circle cx="1981" cy="930.1" r="13.6"/><circle cx="1931" cy="825.4" r="13.6"/><circle cx="1847.4" cy="794.4" r="13.6"/><circle cx="1781.8" cy="992" r="13.6"/><circle cx="1971.2" cy="839.6" r="13.6"/><circle cx="1800.9" cy="845.7" r="13.6"/><circle cx="1965.4" cy="962.2" r="13.6"/><circle cx="1837.2" cy="686.7" r="13.6"/><circle cx="1951" cy="912.3" r="13.6"/><circle cx="1778.8" cy="1006" r="13.6"/><circle cx="1812.2" cy="1004.9" r="13.6"/><circle cx="1905.5" cy="699.9" r="13.6"/><circle cx="1881.1" cy="929.8" r="13.6"/><circle cx="1857.5" cy="779.1" r="13.6"/><circle cx="1833.5" cy="965.6" r="13.6"/><circle cx="2004.4" cy="1021.3" r="13.6"/><circle cx="1899.8" cy="750.7" r="13.6"/><circle cx="1995.3" cy="824.2" r="13.6"/><circle cx="2010.8" cy="929.7" r="13.6"/><circle cx="1888.4" cy="816.7" r="13.6"/><circle cx="1807.5" cy="814" r="13.6"/><circle cx="1860.4" cy="704.5" r="13.6"/><circle cx="1928.4" cy="730.3" r="13.6"/><circle cx="1943" cy="966.5" r="13.6"/><circle cx="1991.6" cy="779.5" r="13.6"/><circle cx="1917.8" cy="691.1" r="13.6"/><circle cx="2069.2" cy="1039.7" r="13.6"/><circle cx="1869.7" cy="834.5" r="13.6"/><circle cx="1949.9" cy="931.4" r="13.6"/><circle cx="1830.8" cy="720.8" r="13.6"/><circle cx="2003.3" cy="799.8" r="13.6"/><circle cx="1872.2" cy="730.5" r="13.6"/><circle cx="1811.8" cy="747.7" r="13.6"/><circle cx="1919.5" cy="889.8" r="13.6"/><circle cx="1953" cy="964" r="13.6"/><circle cx="1853.8" cy="814.4" r="13.6"/><circle cx="1812.7" cy="755.4" r="13.6"/><circle cx="1811.1" cy="887.3" r="13.6"/><circle cx="2020.8" cy="886.3" r="13.6"/><circle cx="1778.3" cy="768.8" r="13.6"/><circle cx="1907.7" cy="793" r="13.6"/><circle cx="2032.6" cy="1029.9" r="13.6"/><circle cx="1830.7" cy="917" r="13.6"/><circle cx="2028.9" cy="879.1" r="13.6"/><circle cx="1922.6" cy="738.2" r="13.6"/><circle cx="1929.2" cy="793.9" r="13.6"/><circle cx="1919.3" cy="744.9" r="13.6"/><circle cx="1899" cy="999.9" r="13.6"/><circle cx="1867.4" cy="994.4" r="13.6"/><circle cx="1885.4" cy="815.8" r="13.6"/><circle cx="1803" cy="859.2" r="13.6"/><circle cx="1908.5" cy="712.6" r="13.6"/><circle cx="1786.9" cy="948.6" r="13.6"/><circle cx="2003" cy="825.1" r="13.6"/><circle cx="1943.2" cy="943.7" r="13.6"/><circle cx="1854.7" cy="1030.5" r="13.6"/><circle cx="1886.3" cy="804.5" r="13.6"/><circle cx="1863.3" cy="1007.9" r="13.6"/><circle cx="1918.4" cy="1042.5" r="13.6"/><circle cx="1994.1" cy="953.4" r="13.6"/><circle cx="1959.4" cy="856.8" r="13.6"/><circle cx="2002.3" cy="951.3" r="13.6"/><circle cx="1796.1" cy="763.6" r="13.6"/><circle cx="1951.2" cy="868.8" r="13.6"/><circle cx="1948.5" cy="1024.7" r="13.6"/><circle cx="1973.5" cy="960.7" r="13.6"/><circle cx="1769.2" cy="807.3" r="13.6"/><circle cx="1856.1" cy="957.3" r="13.6"/><circle cx="2006.5" cy="1018.5" r="13.6"/><circle cx="2031.4" cy="942.8" r="13.6"/><circle cx="1764.4" cy="737" r="13.6"/><circle cx="2000.3" cy="846.1" r="13.6"/><circle cx="1819.9" cy="789.5" r="13.6"/><circle cx="1929.8" cy="782.7" r="13.6"/><circle cx="1775.1" cy="691.1" r="13.6"/><circle cx="1952.5" cy="758.5" r="13.6"/><circle cx="1818.8" cy="991.8" r="13.6"/><circle cx="1899.2" cy="979.8" r="13.6"/><circle cx="1760.8" cy="762.3" r="13.6"/><circle cx="1839.5" cy="856.3" r="13.6"/><circle cx="2030.8" cy="852.7" r="13.6"/><circle cx="1928.8" cy="860.8" r="13.6"/><circle cx="1936.4" cy="863.2" r="13.6"/><circle cx="2009.7" cy="756.6" r="13.6"/><circle cx="1775.3" cy="721.9" r="13.6"/><circle cx="1880.4" cy="902.7" r="13.6"/><circle cx="1914" cy="911.2" r="13.6"/><circle cx="1925.9" cy="970.7" r="13.6"/><circle cx="1824.6" cy="830.7" r="13.6"/><circle cx="1864.1" cy="931.5" r="13.6"/><circle cx="1908.9" cy="907.6" r="13.6"/><circle cx="1989.7" cy="863" r="13.6"/><circle cx="1898.4" cy="908.2" r="13.6"/><circle cx="1836.7" cy="928" r="13.6"/><circle cx="1842.2" cy="796.7" r="13.6"/></g><g class="u"><circle cx="2001.1" cy="908.5" r="18.0"/><circle cx="1957.4" cy="889.1" r="18.0"/><circle cx="1760.7" cy="719.2" r="18.0"/><circle cx="1791.4" cy="857.8" r="18.0"/><circle cx="1918.3" cy="724.1" r="18.0"/><circle cx="1863.3" cy="1019.7" r="18.0"/><circle cx="1838.2" cy="784.8" r="18.0"/><circle cx="1922.8" cy="849.4" r="18.0"/><circle cx="1893.4" cy="760.9" r="18.0"/><circle cx="1869.1" cy="694.8" r="18.0"/><circle cx="1859" cy="880.5" r="18.0"/><circle cx="1880.1" cy="839.2" r="18.0"/><circle cx="1942.4" cy="959.2" r="18.0"/><circle cx="2014.8" cy="818.1" r="18.0"/><circle cx="1957.8" cy="843.8" r="18.0"/><circle cx="1910.9" cy="922.8" r="18.0"/><circle cx="2006.7" cy="1006.8" r="18.0"/><circle cx="1822.9" cy="1009.5" r="18.0"/><circle cx="1986.4" cy="714.9" r="18.0"/><circle cx="1787.6" cy="694.3" r="18.0"/><circle cx="1956" cy="740" r="18.0"/><circle cx="1957.8" cy="806.4" r="18.0"/><circle cx="1812.5" cy="734.3" r="18.0"/><circle cx="1877.9" cy="860.2" r="18.0"/><circle cx="1911.6" cy="943.9" r="18.0"/><circle cx="1975.8" cy="901.3" r="18.0"/><circle cx="1795.9" cy="750.7" r="18.0"/><circle cx="1919.4" cy="1030.5" r="18.0"/><circle cx="1787.5" cy="790.6" r="18.0"/><circle cx="1849.4" cy="686.5" r="18.0"/><circle cx="1809.9" cy="799.8" r="18.0"/><circle cx="1812.5" cy="908.3" r="18.0"/><circle cx="1862.1" cy="762.7" r="18.0"/><circle cx="1821.6" cy="961.3" r="18.0"/><circle cx="1853.6" cy="998.5" r="18.0"/><circle cx="1941.8" cy="937.6" r="18.0"/><circle cx="1964.2" cy="975.8" r="18.0"/><circle cx="1955.7" cy="771" r="18.0"/><circle cx="1840.7" cy="741.8" r="18.0"/><circle cx="1932.4" cy="914" r="18.0"/><circle cx="1817.5" cy="701.5" r="18.0"/><circle cx="1762.2" cy="838.3" r="18.0"/><circle cx="2013.1" cy="745.9" r="18.0"/><circle cx="1798.6" cy="885.1" r="18.0"/><circle cx="1877.4" cy="738.5" r="18.0"/><circle cx="1884.8" cy="1022.4" r="18.0"/><circle cx="1975.5" cy="692.7" r="18.0"/><circle cx="1988.3" cy="941.8" r="18.0"/><circle cx="1870.1" cy="786.3" r="18.0"/><circle cx="1812.6" cy="826" r="18.0"/><circle cx="1836.4" cy="810.3" r="18.0"/></g>
<g class="v"><circle cx="2007.9" cy="715.6" r="18.0"/><circle cx="1828.3" cy="941" r="18.0"/><circle cx="1783.4" cy="839.8" r="18.0"/><circle cx="1907.9" cy="982.9" r="18.0"/><circle cx="1868.6" cy="934.5" r="18.0"/><circle cx="1823.8" cy="992.5" r="18.0"/><circle cx="1798" cy="971.7" r="18.0"/><circle cx="2012.7" cy="1034.2" r="18.0"/><circle cx="2039.2" cy="961.2" r="18.0"/><circle cx="1873" cy="1018.5" r="18.0"/><circle cx="2043.6" cy="1026.1" r="18.0"/><circle cx="1904.1" cy="943.3" r="18.0"/><circle cx="1959.7" cy="975.4" r="18.0"/><circle cx="1995.9" cy="975" r="18.0"/><circle cx="1773.9" cy="717.9" r="18.0"/><circle cx="1788.6" cy="943.1" r="18.0"/><circle cx="2035.5" cy="901" r="18.0"/><circle cx="1930.1" cy="960.6" r="18.0"/><circle cx="1880.2" cy="963.6" r="18.0"/><circle cx="2016.2" cy="1005.3" r="18.0"/><circle cx="1905.3" cy="1025.5" r="18.0"/><circle cx="1779.3" cy="806.1" r="18.0"/><circle cx="1952" cy="1026.2" r="18.0"/><circle cx="1979.7" cy="999.6" r="18.0"/><circle cx="1765.6" cy="776.8" r="18.0"/><circle cx="1793.3" cy="1002" r="18.0"/><circle cx="1978.7" cy="928.7" r="18.0"/><circle cx="1788.7" cy="873.5" r="18.0"/><circle cx="1932.9" cy="1001.8" r="18.0"/><circle cx="2008.6" cy="822.1" r="18.0"/><circle cx="2004.3" cy="907.5" r="18.0"/><circle cx="2049.3" cy="990.7" r="18.0"/><circle cx="1779.1" cy="913.7" r="18.0"/><circle cx="2016.4" cy="942.5" r="18.0"/><circle cx="2016.7" cy="852.2" r="18.0"/><circle cx="2019.2" cy="794.7" r="18.0"/><circle cx="2003.8" cy="745.7" r="18.0"/><circle cx="1776.1" cy="686.9" r="18.0"/><circle cx="1931.1" cy="926.1" r="18.0"/><circle cx="1860.1" cy="991.5" r="18.0"/><circle cx="1781.7" cy="752.3" r="18.0"/><circle cx="1756.2" cy="851.4" r="18.0"/></g><g class="w"><circle cx="1996" cy="1038.4" r="13.6"/><circle cx="1772.5" cy="819.6" r="13.6"/><circle cx="1764.9" cy="910.6" r="13.6"/><circle cx="1838.8" cy="997.7" r="13.6"/><circle cx="2023.6" cy="826.1" r="13.6"/><circle cx="1868.1" cy="974" r="13.6"/><circle cx="2030" cy="885.1" r="13.6"/><circle cx="2013.5" cy="836.6" r="13.6"/><circle cx="2046.1" cy="975.6" r="13.6"/><circle cx="1908.2" cy="1011.1" r="13.6"/><circle cx="2026.1" cy="1023.1" r="13.6"/><circle cx="1774" cy="700.8" r="13.6"/><circle cx="1776.7" cy="764.2" r="13.6"/><circle cx="1805.8" cy="875" r="13.6"/><circle cx="2025.3" cy="956.9" r="13.6"/><circle cx="1780" cy="995.3" r="13.6"/><circle cx="1769.3" cy="759.5" r="13.6"/><circle cx="2034.8" cy="999.7" r="13.6"/><circle cx="1933.9" cy="910.3" r="13.6"/><circle cx="1788.6" cy="739.3" r="13.6"/><circle cx="1930.5" cy="1016.5" r="13.6"/><circle cx="1788.1" cy="901" r="13.6"/><circle cx="2003.5" cy="795.6" r="13.6"/><circle cx="2003.9" cy="839.1" r="13.6"/><circle cx="1805" cy="956.8" r="13.6"/><circle cx="1775.1" cy="701.1" r="13.6"/><circle cx="2022.9" cy="716.2" r="13.6"/><circle cx="1817.7" cy="953.8" r="13.6"/><circle cx="2042.6" cy="1008.9" r="13.6"/><circle cx="2011.3" cy="1018.8" r="13.6"/><circle cx="1955.2" cy="1042.7" r="13.6"/><circle cx="1764.2" cy="804.8" r="13.6"/><circle cx="1991.1" cy="711.1" r="13.6"/><circle cx="2014" cy="1020.7" r="13.6"/><circle cx="1762.5" cy="864.8" r="13.6"/><circle cx="1999.9" cy="855.6" r="13.6"/><circle cx="1763.1" cy="678.1" r="13.6"/><circle cx="2043.2" cy="978.4" r="13.6"/><circle cx="1889.1" cy="1017.5" r="13.6"/><circle cx="1778.1" cy="788.7" r="13.6"/><circle cx="2026.6" cy="914.1" r="13.6"/><circle cx="2008.2" cy="928.9" r="13.6"/><circle cx="2055.2" cy="1035.8" r="13.6"/><circle cx="2023.8" cy="779" r="13.6"/><circle cx="1758.5" cy="721.2" r="13.6"/><circle cx="1909" cy="998.4" r="13.6"/><circle cx="1894.6" cy="1034.9" r="13.6"/><circle cx="1799" cy="840.5" r="13.6"/><circle cx="1992.2" cy="937.6" r="13.6"/><circle cx="2012.8" cy="969.8" r="13.6"/><circle cx="1776.6" cy="864.6" r="13.6"/><circle cx="1769.3" cy="844.3" r="13.6"/><circle cx="1949" cy="997.9" r="13.6"/><circle cx="1802.5" cy="986.5" r="13.6"/><circle cx="2010.4" cy="729.6" r="13.6"/><circle cx="1959.1" cy="1013.2" r="13.6"/><circle cx="1750.5" cy="779.5" r="13.6"/><circle cx="1871.4" cy="978.9" r="13.6"/><circle cx="1859.5" cy="1022.3" r="13.6"/><circle cx="1842.9" cy="935.9" r="13.6"/><circle cx="1927" cy="986" r="13.6"/><circle cx="2019.4" cy="810.8" r="13.6"/><circle cx="2022" cy="1045.2" r="13.6"/><circle cx="2021.7" cy="992.2" r="13.6"/><circle cx="1808.1" cy="995.8" r="13.6"/><circle cx="1847.8" cy="1000.1" r="13.6"/><circle cx="1966" cy="989" r="13.6"/><circle cx="2016.3" cy="753" r="13.6"/><circle cx="1820.5" cy="978.5" r="13.6"/><circle cx="1981.1" cy="967.3" r="13.6"/><circle cx="1991.2" cy="991.2" r="13.6"/><circle cx="1933.7" cy="943.9" r="13.6"/><circle cx="1914.8" cy="1040.7" r="13.6"/><circle cx="1916.7" cy="919.1" r="13.6"/><circle cx="2030.3" cy="855.4" r="13.6"/><circle cx="1785.3" cy="726.6" r="13.6"/><circle cx="1889.9" cy="937.2" r="13.6"/><circle cx="1877.8" cy="920.3" r="13.6"/><circle cx="2049.6" cy="911.2" r="13.6"/><circle cx="1993" cy="1009.5" r="13.6"/><circle cx="1853.4" cy="937.7" r="13.6"/><circle cx="1915.1" cy="953.9" r="13.6"/><circle cx="1782.7" cy="673.9" r="13.6"/><circle cx="1795" cy="799.6" r="13.6"/><circle cx="1994.1" cy="816.6" r="13.6"/><circle cx="1997" cy="922.9" r="13.6"/><circle cx="1903.3" cy="969.4" r="13.6"/><circle cx="1884.7" cy="942.1" r="13.6"/><circle cx="1784.3" cy="929.5" r="13.6"/><circle cx="1971.6" cy="916.1" r="13.6"/><circle cx="1808.6" cy="993.7" r="13.6"/><circle cx="1885.4" cy="950" r="13.6"/><circle cx="2011.7" cy="895" r="13.6"/><circle cx="1972.6" cy="987.8" r="13.6"/><circle cx="1769.7" cy="834.5" r="13.6"/><circle cx="2063.3" cy="991.9" r="13.6"/><circle cx="1774.9" cy="933.7" r="13.6"/><circle cx="1926.2" cy="977.2" r="13.6"/><circle cx="2004.6" cy="992.5" r="13.6"/><circle cx="1939.4" cy="940.9" r="13.6"/><circle cx="1986.1" cy="742.6" r="13.6"/><circle cx="1943" cy="972.7" r="13.6"/><circle cx="2042.9" cy="947.7" r="13.6"/><circle cx="1794.4" cy="957.2" r="13.6"/><circle cx="1741.2" cy="847.9" r="13.6"/><circle cx="2022.7" cy="957.3" r="13.6"/><circle cx="1795.1" cy="761.5" r="13.6"/></g><g class="u"><circle cx="1783.4" cy="839.8" r="18.0"/><circle cx="1868.6" cy="934.5" r="18.0"/><circle cx="1823.8" cy="992.5" r="18.0"/><circle cx="1798" cy="971.7" r="18.0"/><circle cx="2039.2" cy="961.2" r="18.0"/><circle cx="1873" cy="1018.5" r="18.0"/><circle cx="1904.1" cy="943.3" r="18.0"/><circle cx="1788.6" cy="943.1" r="18.0"/><circle cx="1930.1" cy="960.6" r="18.0"/><circle cx="1880.2" cy="963.6" r="18.0"/><circle cx="1905.3" cy="1025.5" r="18.0"/><circle cx="1779.3" cy="806.1" r="18.0"/><circle cx="1793.3" cy="1002" r="18.0"/><circle cx="2008.6" cy="822.1" r="18.0"/><circle cx="2004.3" cy="907.5" r="18.0"/><circle cx="1779.1" cy="913.7" r="18.0"/><circle cx="1931.1" cy="926.1" r="18.0"/><circle cx="1781.7" cy="752.3" r="18.0"/><circle cx="1756.2" cy="851.4" r="18.0"/></g>
<path d="M1812.3 663.3L1925.1 671.8L1925.4 667.5L1954.6 679.2L1924 686.5L1924.3 682.2L1811.5 673.7 Z" fill="#9f9fc0" stroke="#55556a" stroke-width="0.8" stroke-linejoin="round"/><path d="M1812.3 659.8L1925.1 668.3L1925.4 664L1954.6 675.7L1924 683L1924.3 678.7L1811.5 670.2 Z" fill="#cdcdea" stroke="#55556a" stroke-width="0.8" stroke-linejoin="round"/>
<path d="M1979.8 732.6L1835.3 723.1L1835.1 726.9L1807.7 716.6L1836.2 709.9L1835.9 713.6L1980.4 723.1 Z" fill="#9f9fc0" stroke="#55556a" stroke-width="0.8" stroke-linejoin="round"/><path d="M1979.8 729.1L1835.3 719.6L1835.1 723.4L1807.7 713.1L1836.2 706.4L1835.9 710.1L1980.4 719.6 Z" fill="#cdcdea" stroke="#55556a" stroke-width="0.8" stroke-linejoin="round"/>
<path d="M1796.8 745.2L1950.6 757.1L1950.9 752.8L1980.1 764.6L1949.4 771.8L1949.8 767.5L1796 755.7 Z" fill="#9f9fc0" stroke="#55556a" stroke-width="0.8" stroke-linejoin="round"/><path d="M1796.8 741.7L1950.6 753.6L1950.9 749.3L1980.1 761.1L1949.4 768.3L1949.8 764L1796 752.2 Z" fill="#cdcdea" stroke="#55556a" stroke-width="0.8" stroke-linejoin="round"/>
<path d="M1990.7 811.7L1834.8 790.1L1834.2 793.8L1807.7 781.6L1836.6 777L1836.1 780.7L1992 802.3 Z" fill="#9f9fc0" stroke="#55556a" stroke-width="0.8" stroke-linejoin="round"/><path d="M1990.7 808.2L1834.8 786.6L1834.2 790.3L1807.7 778.1L1836.6 773.5L1836.1 777.2L1992 798.8 Z" fill="#cdcdea" stroke="#55556a" stroke-width="0.8" stroke-linejoin="round"/>
<path d="M1796.8 816.4L1958.3 830.9L1958.6 827.1L1985.7 838.1L1957.1 844.1L1957.4 840.3L1795.9 825.9 Z" fill="#9f9fc0" stroke="#55556a" stroke-width="0.8" stroke-linejoin="round"/><path d="M1796.8 812.9L1958.3 827.4L1958.6 823.6L1985.7 834.6L1957.1 840.6L1957.4 836.8L1795.9 822.4 Z" fill="#cdcdea" stroke="#55556a" stroke-width="0.8" stroke-linejoin="round"/>
<path d="M1985.2 873.9L1826.4 854.7L1826 858.4L1799.2 846.6L1828 841.5L1827.6 845.2L1986.3 864.5 Z" fill="#9f9fc0" stroke="#55556a" stroke-width="0.8" stroke-linejoin="round"/><path d="M1985.2 870.4L1826.4 851.2L1826 854.9L1799.2 843.1L1828 838L1827.6 841.7L1986.3 861 Z" fill="#cdcdea" stroke="#55556a" stroke-width="0.8" stroke-linejoin="round"/>
<path d="M1805.1 875.2L1947.5 881.1L1947.7 876.8L1977.2 887.6L1946.9 895.8L1947.1 891.6L1804.6 885.7 Z" fill="#9f9fc0" stroke="#55556a" stroke-width="0.8" stroke-linejoin="round"/><path d="M1805.1 871.7L1947.5 877.6L1947.7 873.3L1977.2 884.1L1946.9 892.3L1947.1 888.1L1804.6 882.2 Z" fill="#cdcdea" stroke="#55556a" stroke-width="0.8" stroke-linejoin="round"/>
<path d="M1971.1 925.3L1854.1 915.2L1853.7 919.4L1824.6 907.3L1855.3 900.5L1855 904.7L1972 914.8 Z" fill="#9f9fc0" stroke="#55556a" stroke-width="0.8" stroke-linejoin="round"/><path d="M1971.1 921.8L1854.1 911.7L1853.7 915.9L1824.6 903.8L1855.3 897L1855 901.2L1972 911.3 Z" fill="#cdcdea" stroke="#55556a" stroke-width="0.8" stroke-linejoin="round"/>
<path d="M1829 675.3L1829.5 684.3M1900.4 680.7L1900.9 689.7M1963.4 732L1963.9 741M1877.2 726.4L1877.7 735.4M1818.4 757.7L1818.9 766.7M1910.3 764.7L1910.8 773.7M1973.3 809.4L1973.8 818.4M1881.5 796.7L1882 805.7M1819.1 828.7L1819.6 837.7M1913.8 837.1L1914.3 846.1M1967.3 872L1967.8 881M1874.1 860.7L1874.6 869.7M1825.5 886.8L1826 895.8M1911.7 890.4L1912.2 899.4M1958 924L1958.5 933M1884.5 917.7L1885 926.7" fill="none" stroke="#3e3e50" stroke-width="4.2" stroke-linecap="round"/>
<path d="M1829 675.3L1829.3 679.8M1900.4 680.7L1900.6 685.2M1963.4 732L1963.6 736.5M1877.2 726.4L1877.4 730.9M1818.4 757.7L1818.7 762.2M1910.3 764.7L1910.5 769.2M1973.3 809.4L1973.6 813.9M1881.5 796.7L1881.7 801.2M1819.1 828.7L1819.3 833.2M1913.8 837.1L1914 841.6M1967.3 872L1967.6 876.5M1874.1 860.7L1874.3 865.2M1825.5 886.8L1825.8 891.3M1911.7 890.4L1912 894.9M1958 924L1958.2 928.5M1884.5 917.7L1884.7 922.2" fill="none" stroke="#cfcfec" stroke-width="3.2" stroke-linecap="round"/>
<path d="M1829.3 679.8L1829.5 684.3M1900.6 685.2L1900.9 689.7M1963.6 736.5L1963.9 741M1877.4 730.9L1877.7 735.4M1818.7 762.2L1818.9 766.7M1910.5 769.2L1910.8 773.7M1973.6 813.9L1973.8 818.4M1881.7 801.2L1882 805.7M1819.3 833.2L1819.6 837.7M1914 841.6L1914.3 846.1M1967.6 876.5L1967.8 881M1874.3 865.2L1874.6 869.7M1825.8 891.3L1826 895.8M1912 894.9L1912.2 899.4M1958.2 928.5L1958.5 933M1884.7 922.2L1885 926.7" fill="none" stroke="#e8494b" stroke-width="3.2" stroke-linecap="butt"/>
<g fill="#e8494b"><circle cx="1829.5" cy="684.3" r="1.6"/><circle cx="1900.9" cy="689.7" r="1.6"/><circle cx="1963.9" cy="741" r="1.6"/><circle cx="1877.7" cy="735.4" r="1.6"/><circle cx="1818.9" cy="766.7" r="1.6"/><circle cx="1910.8" cy="773.7" r="1.6"/><circle cx="1973.8" cy="818.4" r="1.6"/><circle cx="1882" cy="805.7" r="1.6"/><circle cx="1819.6" cy="837.7" r="1.6"/><circle cx="1914.3" cy="846.1" r="1.6"/><circle cx="1967.8" cy="881" r="1.6"/><circle cx="1874.6" cy="869.7" r="1.6"/><circle cx="1826" cy="895.8" r="1.6"/><circle cx="1912.2" cy="899.4" r="1.6"/><circle cx="1958.5" cy="933" r="1.6"/><circle cx="1885" cy="926.7" r="1.6"/></g>
<g class="w"><circle cx="1874" cy="814.8" r="13.6"/><circle cx="1923.2" cy="768.1" r="13.6"/><circle cx="1896.9" cy="852.7" r="13.6"/><circle cx="1849.6" cy="841.1" r="13.6"/><circle cx="1931.8" cy="812.2" r="13.6"/><circle cx="1893.4" cy="917.5" r="13.6"/><circle cx="1955" cy="704.7" r="13.6"/><circle cx="1793.2" cy="749.5" r="13.6"/><circle cx="1822" cy="750.4" r="13.6"/><circle cx="1966.2" cy="892.1" r="13.6"/><circle cx="1829.7" cy="907.5" r="13.6"/><circle cx="1920.6" cy="904.5" r="13.6"/><circle cx="1895.2" cy="884.3" r="13.6"/><circle cx="1989.2" cy="758.4" r="13.6"/><circle cx="1952.9" cy="918.7" r="13.6"/><circle cx="1899.9" cy="728.3" r="13.6"/><circle cx="1901.8" cy="808" r="13.6"/><circle cx="1944.9" cy="750.8" r="13.6"/><circle cx="1849" cy="801.2" r="13.6"/><circle cx="1870.6" cy="862.5" r="13.6"/><circle cx="1856.5" cy="907.8" r="13.6"/><circle cx="1985" cy="691.2" r="13.6"/></g>
<path d="M1824.9 639.5L1820.6 628.6M1820.6 628.6L1829.7 621.1M1829.7 621.1L1839.6 627.4M1839.6 627.4L1836.6 638.8M1836.6 638.8L1824.9 639.5M1824.9 639.5L1810.5 662.2M1881.1 643.1L1877.5 640.2M1877.5 640.2L1879 628.6M1879 628.6L1883.5 624.4M1883.5 624.4L1884.8 633.3M1884.8 633.3L1881.1 643.1M1881.1 643.1L1889.6 665M1886.3 682.1L1874.6 681M1874.6 681L1871.9 669.6M1871.9 669.6L1882 663.5M1882 663.5L1890.9 671.2M1890.9 671.2L1886.3 682.1M1886.3 682.1L1898.1 701.7M1973.1 685L1975.5 680.7M1975.5 680.7L1988.2 678.2M1988.2 678.2L1993.6 680.9M1993.6 680.9L1984.2 685.1M1984.2 685.1L1973.1 685M1973.1 685L1960.3 696.1M1804.3 712.1L1792.6 713.1M1792.6 713.1L1788 702.3M1788 702.3L1796.9 694.6M1796.9 694.6L1807 700.7M1807 700.7L1804.3 712.1M1804.3 712.1L1824.6 735.7M1883.4 721.3L1879.2 721.6M1879.2 721.6L1881.6 710.1M1881.6 710.1L1887.3 702.7M1887.3 702.7L1888.4 709.5M1888.4 709.5L1883.4 721.3M1883.4 721.3L1895.3 738.5M1884.6 758.2L1877.8 762.8M1877.8 762.8L1877.5 755.3M1877.5 755.3L1884.3 746M1884.3 746L1888.6 747.9M1888.6 747.9L1884.6 758.2M1884.6 758.2L1898.1 769.6M1976.2 773.4L1977.7 769.4M1977.7 769.4L1990.3 767.6M1990.3 767.6L1996.6 770.5M1996.6 770.5L1987.9 774.1M1987.9 774.1L1976.2 773.4M1976.2 773.4L1965.9 783.7M1804.6 777.5L1797.6 780.7M1797.6 780.7L1800.6 772.4M1800.6 772.4L1809.5 764.2M1809.5 764.2L1811.9 767.3M1811.9 767.3L1804.6 777.5M1804.6 777.5L1824.6 809.2M1920.6 781.8L1915.9 770.7M1915.9 770.7L1919.9 769.8M1919.9 769.8L1926.9 780.3M1926.9 780.3L1927.4 787.7M1927.4 787.7L1920.6 781.8M1920.6 781.8L1900.9 797.8M1894.4 812.8L1883 815.6M1883 815.6L1876.8 805.5M1876.8 805.5L1884.5 796.6M1884.5 796.6L1895.3 801.1M1895.3 801.1L1894.4 812.8M1894.4 812.8L1906.6 823.3M1987.6 836.5L1991 825.2M1991 825.2L2002.7 825M2002.7 825L2006.6 836.1M2006.6 836.1L1997.3 843.2M1997.3 843.2L1987.6 836.5M1987.6 836.5L1968.8 843.1M1808.5 840L1800.8 844.6M1800.8 844.6L1802.6 837.3M1802.6 837.3L1811.4 828.2M1811.4 828.2L1815 829.9M1815 829.9L1808.5 840M1808.5 840L1827.5 862.9M1894.8 845.4L1892.4 839.5M1892.4 839.5L1894 826.8M1894 826.8L1897.4 824.9M1897.4 824.9L1897.9 836.4M1897.9 836.4L1894.8 845.4M1894.8 845.4L1898.1 868.5M1915.5 888.6L1915.4 876.9M1915.4 876.9L1926.5 873.1M1926.5 873.1L1933.5 882.5M1933.5 882.5L1926.8 892.1M1926.8 892.1L1915.5 888.6M1915.5 888.6L1900.9 899.6M1985.1 900.8L1987.5 889.3M1987.5 889.3L1999.2 888.1M1999.2 888.1L2004 898.9M2004 898.9L1995.2 906.7M1995.2 906.7L1985.1 900.8M1985.1 900.8L1968.8 908.1M1837.1 1060.8L1841.3 1071.8M1841.3 1071.8L1832.2 1079.2M1832.2 1079.2L1822.4 1072.8M1822.4 1072.8L1825.4 1061.4M1825.4 1061.4L1837.1 1060.8M1837.1 1060.8L1850.1 1040.9M1906.5 1050.8L1902.4 1057.7M1902.4 1057.7L1892.3 1064.8M1892.3 1064.8L1890.3 1062.3M1890.3 1062.3L1899.1 1053.7M1899.1 1053.7L1906.5 1050.8M1906.5 1050.8L1915.1 1043.7" fill="none" stroke="#3e3e50" stroke-width="5" stroke-linecap="round"/>
<path d="M1824.9 639.5L1822.8 634.1M1829.7 621.1L1834.6 624.3M1836.6 638.8L1824.9 639.5M1824.9 639.5L1810.5 662.2M1881.1 643.1L1879.3 641.7M1879 628.6L1881.2 626.5M1884.8 633.3L1881.1 643.1M1881.1 643.1L1889.6 665M1886.3 682.1L1880.4 681.5M1871.9 669.6L1877 666.5M1890.9 671.2L1886.3 682.1M1886.3 682.1L1898.1 701.7M1973.1 685L1974.3 682.8M1988.2 678.2L1990.9 679.5M1984.2 685.1L1973.1 685M1973.1 685L1960.3 696.1M1804.3 712.1L1798.5 712.6M1788 702.3L1792.5 698.5M1807 700.7L1804.3 712.1M1804.3 712.1L1824.6 735.7M1883.4 721.3L1881.3 721.5M1881.6 710.1L1884.4 706.4M1888.4 709.5L1883.4 721.3M1883.4 721.3L1895.3 738.5M1884.6 758.2L1881.2 760.5M1877.5 755.3L1880.9 750.7M1888.6 747.9L1884.6 758.2M1884.6 758.2L1898.1 769.6M1976.2 773.4L1976.9 771.4M1990.3 767.6L1993.5 769.1M1987.9 774.1L1976.2 773.4M1976.2 773.4L1965.9 783.7M1804.6 777.5L1801.1 779.1M1800.6 772.4L1805.1 768.3M1811.9 767.3L1804.6 777.5M1804.6 777.5L1824.6 809.2M1920.6 781.8L1918.3 776.3M1919.9 769.8L1923.4 775M1927.4 787.7L1920.6 781.8M1920.6 781.8L1900.9 797.8M1894.4 812.8L1888.7 814.2M1876.8 805.5L1880.7 801.1M1895.3 801.1L1894.4 812.8M1894.4 812.8L1906.6 823.3M1987.6 836.5L1989.3 830.9M2002.7 825L2004.7 830.5M1997.3 843.2L1987.6 836.5M1987.6 836.5L1968.8 843.1M1808.5 840L1804.6 842.3M1802.6 837.3L1807 832.7M1815 829.9L1808.5 840M1808.5 840L1827.5 862.9M1894.8 845.4L1893.6 842.5M1894 826.8L1895.7 825.8M1897.9 836.4L1894.8 845.4M1894.8 845.4L1898.1 868.5M1915.5 888.6L1915.5 882.8M1926.5 873.1L1930 877.8M1926.8 892.1L1915.5 888.6M1915.5 888.6L1900.9 899.6M1985.1 900.8L1986.3 895.1M1999.2 888.1L2001.6 893.5M1995.2 906.7L1985.1 900.8M1985.1 900.8L1968.8 908.1M1837.1 1060.8L1839.2 1066.3M1832.2 1079.2L1827.3 1076M1825.4 1061.4L1837.1 1060.8M1837.1 1060.8L1850.1 1040.9M1906.5 1050.8L1904.5 1054.3M1892.3 1064.8L1891.3 1063.6M1899.1 1053.7L1906.5 1050.8M1906.5 1050.8L1915.1 1043.7" fill="none" stroke="#cfcfec" stroke-width="4" stroke-linecap="round"/>
<path d="M1820.6 628.6L1825.1 624.9M1839.6 627.4L1838.1 633.1M1877.5 640.2L1878.2 634.4M1883.5 624.4L1884.1 628.8M1874.6 681L1873.3 675.3M1882 663.5L1886.5 667.4M1975.5 680.7L1981.8 679.5M1993.6 680.9L1988.9 683M1792.6 713.1L1790.3 707.7M1796.9 694.6L1802 697.7M1879.2 721.6L1880.4 715.9M1887.3 702.7L1887.8 706.1M1877.8 762.8L1877.6 759M1884.3 746L1886.5 747M1977.7 769.4L1984 768.5M1996.6 770.5L1992.2 772.3M1797.6 780.7L1799.1 776.6M1809.5 764.2L1810.7 765.7M1915.9 770.7L1917.9 770.3M1926.9 780.3L1927.1 784M1883 815.6L1879.9 810.5M1884.5 796.6L1889.9 798.9M1991 825.2L1996.9 825.1M2006.6 836.1L2001.9 839.6M1800.8 844.6L1801.7 840.9M1811.4 828.2L1813.2 829.1M1892.4 839.5L1893.2 833.1M1897.4 824.9L1897.6 830.6M1915.4 876.9L1920.9 875M1933.5 882.5L1930.2 887.3M1987.5 889.3L1993.4 888.7M2004 898.9L1999.6 902.8M1841.3 1071.8L1836.8 1075.5M1822.4 1072.8L1823.9 1067.1M1902.4 1057.7L1897.3 1061.3M1890.3 1062.3L1894.7 1058" fill="none" stroke="#2b4da6" stroke-width="4" stroke-linecap="butt"/>
<path d="M1822.8 634.1L1820.6 628.6M1834.6 624.3L1839.6 627.4M1879.3 641.7L1877.5 640.2M1881.2 626.5L1883.5 624.4M1880.4 681.5L1874.6 681M1877 666.5L1882 663.5M1974.3 682.8L1975.5 680.7M1990.9 679.5L1993.6 680.9M1798.5 712.6L1792.6 713.1M1792.5 698.5L1796.9 694.6M1881.3 721.5L1879.2 721.6M1884.4 706.4L1887.3 702.7M1881.2 760.5L1877.8 762.8M1880.9 750.7L1884.3 746M1976.9 771.4L1977.7 769.4M1993.5 769.1L1996.6 770.5M1801.1 779.1L1797.6 780.7M1805.1 768.3L1809.5 764.2M1918.3 776.3L1915.9 770.7M1923.4 775L1926.9 780.3M1888.7 814.2L1883 815.6M1880.7 801.1L1884.5 796.6M1989.3 830.9L1991 825.2M2004.7 830.5L2006.6 836.1M1804.6 842.3L1800.8 844.6M1807 832.7L1811.4 828.2M1893.6 842.5L1892.4 839.5M1895.7 825.8L1897.4 824.9M1915.5 882.8L1915.4 876.9M1930 877.8L1933.5 882.5M1986.3 895.1L1987.5 889.3M2001.6 893.5L2004 898.9M1839.2 1066.3L1841.3 1071.8M1827.3 1076L1822.4 1072.8M1904.5 1054.3L1902.4 1057.7M1891.3 1063.6L1890.3 1062.3" fill="none" stroke="#2b4da6" stroke-width="4" stroke-linecap="butt"/>
<path d="M1825.1 624.9L1829.7 621.1M1838.1 633.1L1836.6 638.8M1878.2 634.4L1879 628.6M1884.1 628.8L1884.8 633.3M1873.3 675.3L1871.9 669.6M1886.5 667.4L1890.9 671.2M1981.8 679.5L1988.2 678.2M1988.9 683L1984.2 685.1M1790.3 707.7L1788 702.3M1802 697.7L1807 700.7M1880.4 715.9L1881.6 710.1M1887.8 706.1L1888.4 709.5M1877.6 759L1877.5 755.3M1886.5 747L1888.6 747.9M1984 768.5L1990.3 767.6M1992.2 772.3L1987.9 774.1M1799.1 776.6L1800.6 772.4M1810.7 765.7L1811.9 767.3M1917.9 770.3L1919.9 769.8M1927.1 784L1927.4 787.7M1879.9 810.5L1876.8 805.5M1889.9 798.9L1895.3 801.1M1996.9 825.1L2002.7 825M2001.9 839.6L1997.3 843.2M1801.7 840.9L1802.6 837.3M1813.2 829.1L1815 829.9M1893.2 833.1L1894 826.8M1897.6 830.6L1897.9 836.4M1920.9 875L1926.5 873.1M1930.2 887.3L1926.8 892.1M1993.4 888.7L1999.2 888.1M1999.6 902.8L1995.2 906.7M1836.8 1075.5L1832.2 1079.2M1823.9 1067.1L1825.4 1061.4M1897.3 1061.3L1892.3 1064.8M1894.7 1058L1899.1 1053.7" fill="none" stroke="#cfcfec" stroke-width="4" stroke-linecap="butt"/>
<g fill="#2b4da6"><circle cx="1820.6" cy="628.6" r="2"/><circle cx="1820.6" cy="628.6" r="2"/><circle cx="1839.6" cy="627.4" r="2"/><circle cx="1839.6" cy="627.4" r="2"/><circle cx="1877.5" cy="640.2" r="2"/><circle cx="1877.5" cy="640.2" r="2"/><circle cx="1883.5" cy="624.4" r="2"/><circle cx="1883.5" cy="624.4" r="2"/><circle cx="1874.6" cy="681" r="2"/><circle cx="1874.6" cy="681" r="2"/><circle cx="1882" cy="663.5" r="2"/><circle cx="1882" cy="663.5" r="2"/><circle cx="1975.5" cy="680.7" r="2"/><circle cx="1975.5" cy="680.7" r="2"/><circle cx="1993.6" cy="680.9" r="2"/><circle cx="1993.6" cy="680.9" r="2"/><circle cx="1792.6" cy="713.1" r="2"/><circle cx="1792.6" cy="713.1" r="2"/><circle cx="1796.9" cy="694.6" r="2"/><circle cx="1796.9" cy="694.6" r="2"/><circle cx="1879.2" cy="721.6" r="2"/><circle cx="1879.2" cy="721.6" r="2"/><circle cx="1887.3" cy="702.7" r="2"/><circle cx="1887.3" cy="702.7" r="2"/><circle cx="1877.8" cy="762.8" r="2"/><circle cx="1877.8" cy="762.8" r="2"/><circle cx="1884.3" cy="746" r="2"/><circle cx="1884.3" cy="746" r="2"/><circle cx="1977.7" cy="769.4" r="2"/><circle cx="1977.7" cy="769.4" r="2"/><circle cx="1996.6" cy="770.5" r="2"/><circle cx="1996.6" cy="770.5" r="2"/><circle cx="1797.6" cy="780.7" r="2"/><circle cx="1797.6" cy="780.7" r="2"/><circle cx="1809.5" cy="764.2" r="2"/><circle cx="1809.5" cy="764.2" r="2"/><circle cx="1915.9" cy="770.7" r="2"/><circle cx="1915.9" cy="770.7" r="2"/><circle cx="1926.9" cy="780.3" r="2"/><circle cx="1926.9" cy="780.3" r="2"/><circle cx="1883" cy="815.6" r="2"/><circle cx="1883" cy="815.6" r="2"/><circle cx="1884.5" cy="796.6" r="2"/><circle cx="1884.5" cy="796.6" r="2"/><circle cx="1991" cy="825.2" r="2"/><circle cx="1991" cy="825.2" r="2"/><circle cx="2006.6" cy="836.1" r="2"/><circle cx="2006.6" cy="836.1" r="2"/><circle cx="1800.8" cy="844.6" r="2"/><circle cx="1800.8" cy="844.6" r="2"/><circle cx="1811.4" cy="828.2" r="2"/><circle cx="1811.4" cy="828.2" r="2"/><circle cx="1892.4" cy="839.5" r="2"/><circle cx="1892.4" cy="839.5" r="2"/><circle cx="1897.4" cy="824.9" r="2"/><circle cx="1897.4" cy="824.9" r="2"/><circle cx="1915.4" cy="876.9" r="2"/><circle cx="1915.4" cy="876.9" r="2"/><circle cx="1933.5" cy="882.5" r="2"/><circle cx="1933.5" cy="882.5" r="2"/><circle cx="1987.5" cy="889.3" r="2"/><circle cx="1987.5" cy="889.3" r="2"/><circle cx="2004" cy="898.9" r="2"/><circle cx="2004" cy="898.9" r="2"/><circle cx="1841.3" cy="1071.8" r="2"/><circle cx="1841.3" cy="1071.8" r="2"/><circle cx="1822.4" cy="1072.8" r="2"/><circle cx="1822.4" cy="1072.8" r="2"/><circle cx="1902.4" cy="1057.7" r="2"/><circle cx="1902.4" cy="1057.7" r="2"/><circle cx="1890.3" cy="1062.3" r="2"/><circle cx="1890.3" cy="1062.3" r="2"/></g>
<g class="v"><circle cx="1809.6" cy="945.6" r="18.0"/><circle cx="1793.8" cy="897.7" r="18.0"/><circle cx="2016.3" cy="886.1" r="18.0"/><circle cx="2005.4" cy="713.4" r="18.0"/><circle cx="2019.9" cy="784.3" r="18.0"/><circle cx="2030.8" cy="827.4" r="18.0"/><circle cx="1774.1" cy="769.5" r="18.0"/><circle cx="2059.2" cy="1035.1" r="18.0"/><circle cx="2000.5" cy="985.4" r="18.0"/></g><g class="w"><circle cx="1993.4" cy="702.3" r="13.6"/><circle cx="1999.8" cy="887.9" r="13.6"/><circle cx="1796.1" cy="883.1" r="13.6"/><circle cx="1762.4" cy="758.8" r="13.6"/><circle cx="1776.3" cy="785.4" r="13.6"/><circle cx="2018.4" cy="816.6" r="13.6"/><circle cx="2014" cy="726.8" r="13.6"/><circle cx="1993.6" cy="972.4" r="13.6"/><circle cx="2043.2" cy="815.9" r="13.6"/><circle cx="2043.8" cy="1041" r="13.6"/><circle cx="2024.9" cy="897.5" r="13.6"/><circle cx="1790.7" cy="763.2" r="13.6"/><circle cx="2007.9" cy="999.7" r="13.6"/><circle cx="2022.6" cy="767.7" r="13.6"/><circle cx="2020.8" cy="871.9" r="13.6"/><circle cx="2026.5" cy="842.5" r="13.6"/><circle cx="2072.9" cy="1045.1" r="13.6"/><circle cx="1821.4" cy="957.7" r="13.6"/><circle cx="1796.2" cy="937.8" r="13.6"/><circle cx="1797.7" cy="915.1" r="13.6"/><circle cx="2018.7" cy="799.1" r="13.6"/><circle cx="2053.7" cy="1019.1" r="13.6"/></g><g class="u"><circle cx="2005.4" cy="713.4" r="18.0"/><circle cx="2019.9" cy="784.3" r="18.0"/><circle cx="2030.8" cy="827.4" r="18.0"/></g>
</g>
<g>
<path d="M922.9 896.3L991.4 997.9L994.3 995.9L1001.1 1020.3L981.1 1004.9L984 1002.9L915.4 901.3 Z" fill="#9f9fc0" stroke="#55556a" stroke-width="0.8" stroke-linejoin="round"/><path d="M922.9 894.3L991.4 995.9L994.3 993.9L1001.1 1018.3L981.1 1002.9L984 1000.9L915.4 899.3 Z" fill="#cdcdea" stroke="#55556a" stroke-width="0.8" stroke-linejoin="round"/>
<g fill="#8f8fa6"><circle cx="936.9" cy="784.7" r="21"/><circle cx="1140.7" cy="837.4" r="21"/><circle cx="1055.4" cy="908.3" r="21"/><circle cx="1003" cy="981.7" r="21"/><circle cx="1042.2" cy="879.2" r="21"/><circle cx="1102.2" cy="913.7" r="21"/><circle cx="1155.3" cy="821.2" r="21"/><circle cx="1073.2" cy="855.3" r="21"/><circle cx="962.3" cy="896.5" r="21"/><circle cx="967.7" cy="808.2" r="21"/><circle cx="977.6" cy="869.1" r="21"/><circle cx="1096.9" cy="952.5" r="21"/><circle cx="1064" cy="1028.8" r="21"/><circle cx="1036.2" cy="1028" r="21"/><circle cx="965.5" cy="918.6" r="21"/><circle cx="1084.8" cy="814" r="21"/><circle cx="1113.4" cy="888.9" r="21"/><circle cx="989.9" cy="946.3" r="21"/><circle cx="902.8" cy="842.2" r="21"/><circle cx="1010.2" cy="823.2" r="21"/><circle cx="1132.7" cy="879.1" r="21"/><circle cx="1154.8" cy="723.9" r="21"/><circle cx="1049.4" cy="950.1" r="21"/><circle cx="1137.5" cy="939.1" r="21"/><circle cx="959.5" cy="827.9" r="21"/><circle cx="988.9" cy="783.4" r="21"/><circle cx="1030.7" cy="828.7" r="21"/><circle cx="997.4" cy="806.3" r="21"/><circle cx="1103.6" cy="752.4" r="21"/><circle cx="912.9" cy="773.5" r="21"/><circle cx="920.2" cy="804.9" r="21"/><circle cx="1170.7" cy="837.6" r="21"/><circle cx="936.6" cy="902.3" r="21"/><circle cx="1007.9" cy="845.2" r="21"/><circle cx="983.6" cy="898" r="21"/><circle cx="1083.5" cy="892" r="21"/><circle cx="1129.6" cy="818.6" r="21"/><circle cx="1076.8" cy="972.1" r="21"/><circle cx="986.5" cy="924.7" r="21"/><circle cx="1064" cy="995.9" r="21"/><circle cx="1114.9" cy="688" r="21"/><circle cx="920.3" cy="880.5" r="21"/><circle cx="1117.1" cy="861.3" r="21"/><circle cx="1154" cy="920.7" r="21"/><circle cx="1131.3" cy="672.5" r="21"/><circle cx="1103.5" cy="774.4" r="21"/><circle cx="1052.6" cy="860.3" r="21"/><circle cx="905.5" cy="820.9" r="21"/><circle cx="978.7" cy="764" r="21"/><circle cx="957.7" cy="850.4" r="21"/><circle cx="1114.4" cy="659.4" r="21"/><circle cx="1061" cy="831.8" r="21"/><circle cx="961.1" cy="781.1" r="21"/><circle cx="1125" cy="771.1" r="21"/><circle cx="1024.1" cy="792.3" r="21"/><circle cx="939.1" cy="837.7" r="21"/><circle cx="1085.5" cy="994" r="21"/><circle cx="984.4" cy="839.6" r="21"/><circle cx="943.2" cy="811.7" r="21"/><circle cx="1080.1" cy="732.6" r="21"/><circle cx="1098.7" cy="974.5" r="21"/><circle cx="1079.5" cy="761.8" r="21"/><circle cx="905.2" cy="865.7" r="21"/><circle cx="1152.3" cy="798.6" r="21"/><circle cx="998.5" cy="867.5" r="21"/><circle cx="1121" cy="967.9" r="21"/><circle cx="1093" cy="870.6" r="21"/><circle cx="1011.6" cy="931.2" r="21"/><circle cx="1109.2" cy="802" r="21"/><circle cx="1049.1" cy="1011" r="21"/><circle cx="1141.6" cy="859.9" r="21"/><circle cx="953.8" cy="873.3" r="21"/><circle cx="1151.3" cy="776.8" r="21"/><circle cx="1031.7" cy="967.3" r="21"/><circle cx="934.3" cy="762.2" r="21"/><circle cx="1134.6" cy="731.6" r="21"/><circle cx="1089.8" cy="930.9" r="21"/><circle cx="1003.4" cy="767.3" r="21"/><circle cx="1095.2" cy="707.4" r="21"/><circle cx="1176.7" cy="802.6" r="21"/><circle cx="1010.7" cy="960.2" r="21"/><circle cx="1139.8" cy="650" r="21"/><circle cx="1067.6" cy="785.6" r="21"/><circle cx="1111.8" cy="725.9" r="21"/><circle cx="1138.3" cy="754.7" r="21"/><circle cx="1062.6" cy="746.1" r="21"/><circle cx="1038" cy="1060.2" r="21"/><circle cx="1063" cy="929" r="21"/><circle cx="1164" cy="755.6" r="21"/><circle cx="1089.2" cy="840.3" r="21"/><circle cx="1065.7" cy="877.1" r="21"/><circle cx="929.2" cy="860.1" r="21"/><circle cx="1113.2" cy="839.3" r="21"/><circle cx="1011.8" cy="905.6" r="21"/><circle cx="1159.2" cy="873.5" r="21"/><circle cx="1039.9" cy="926.1" r="21"/><circle cx="1154.2" cy="667.1" r="21"/><circle cx="1037.2" cy="758.6" r="21"/><circle cx="1032.8" cy="993" r="21"/><circle cx="1137.5" cy="709.4" r="21"/><circle cx="1051" cy="978.7" r="21"/><circle cx="1178.2" cy="771.2" r="21"/><circle cx="1045.2" cy="784.3" r="21"/><circle cx="1028.8" cy="944.9" r="21"/><circle cx="1145.1" cy="899.9" r="21"/><circle cx="1023.6" cy="865" r="21"/><circle cx="959.1" cy="755.1" r="21"/><circle cx="1124.3" cy="918.6" r="21"/><circle cx="1058.3" cy="805" r="21"/></g>
<g class="v"><circle cx="936.9" cy="784.7" r="19.3"/><circle cx="1140.7" cy="837.4" r="19.3"/><circle cx="1055.4" cy="908.3" r="19.3"/><circle cx="1003" cy="981.7" r="19.3"/><circle cx="1042.2" cy="879.2" r="19.3"/><circle cx="1102.2" cy="913.7" r="19.3"/><circle cx="1155.3" cy="821.2" r="19.3"/><circle cx="1073.2" cy="855.3" r="19.3"/><circle cx="962.3" cy="896.5" r="19.3"/><circle cx="967.7" cy="808.2" r="19.3"/><circle cx="977.6" cy="869.1" r="19.3"/><circle cx="1096.9" cy="952.5" r="19.3"/><circle cx="1064" cy="1028.8" r="19.3"/><circle cx="1036.2" cy="1028" r="19.3"/><circle cx="965.5" cy="918.6" r="19.3"/><circle cx="1084.8" cy="814" r="19.3"/><circle cx="1113.4" cy="888.9" r="19.3"/><circle cx="989.9" cy="946.3" r="19.3"/><circle cx="902.8" cy="842.2" r="19.3"/><circle cx="1010.2" cy="823.2" r="19.3"/><circle cx="1132.7" cy="879.1" r="19.3"/><circle cx="1154.8" cy="723.9" r="19.3"/><circle cx="1049.4" cy="950.1" r="19.3"/><circle cx="1137.5" cy="939.1" r="19.3"/><circle cx="959.5" cy="827.9" r="19.3"/><circle cx="988.9" cy="783.4" r="19.3"/><circle cx="1030.7" cy="828.7" r="19.3"/><circle cx="997.4" cy="806.3" r="19.3"/><circle cx="1103.6" cy="752.4" r="19.3"/><circle cx="912.9" cy="773.5" r="19.3"/><circle cx="920.2" cy="804.9" r="19.3"/><circle cx="1170.7" cy="837.6" r="19.3"/><circle cx="936.6" cy="902.3" r="19.3"/><circle cx="1007.9" cy="845.2" r="19.3"/><circle cx="983.6" cy="898" r="19.3"/><circle cx="1083.5" cy="892" r="19.3"/><circle cx="1129.6" cy="818.6" r="19.3"/><circle cx="1076.8" cy="972.1" r="19.3"/><circle cx="986.5" cy="924.7" r="19.3"/><circle cx="1064" cy="995.9" r="19.3"/><circle cx="1114.9" cy="688" r="19.3"/><circle cx="920.3" cy="880.5" r="19.3"/><circle cx="1117.1" cy="861.3" r="19.3"/><circle cx="1154" cy="920.7" r="19.3"/><circle cx="1131.3" cy="672.5" r="19.3"/><circle cx="1103.5" cy="774.4" r="19.3"/><circle cx="1052.6" cy="860.3" r="19.3"/><circle cx="905.5" cy="820.9" r="19.3"/><circle cx="978.7" cy="764" r="19.3"/><circle cx="957.7" cy="850.4" r="19.3"/><circle cx="1114.4" cy="659.4" r="19.3"/><circle cx="1061" cy="831.8" r="19.3"/><circle cx="961.1" cy="781.1" r="19.3"/><circle cx="1125" cy="771.1" r="19.3"/><circle cx="1024.1" cy="792.3" r="19.3"/><circle cx="939.1" cy="837.7" r="19.3"/><circle cx="1085.5" cy="994" r="19.3"/><circle cx="984.4" cy="839.6" r="19.3"/><circle cx="943.2" cy="811.7" r="19.3"/><circle cx="1080.1" cy="732.6" r="19.3"/><circle cx="1098.7" cy="974.5" r="19.3"/><circle cx="1079.5" cy="761.8" r="19.3"/><circle cx="905.2" cy="865.7" r="19.3"/><circle cx="1152.3" cy="798.6" r="19.3"/><circle cx="998.5" cy="867.5" r="19.3"/><circle cx="1121" cy="967.9" r="19.3"/><circle cx="1093" cy="870.6" r="19.3"/><circle cx="1011.6" cy="931.2" r="19.3"/><circle cx="1109.2" cy="802" r="19.3"/><circle cx="1049.1" cy="1011" r="19.3"/><circle cx="1141.6" cy="859.9" r="19.3"/><circle cx="953.8" cy="873.3" r="19.3"/><circle cx="1151.3" cy="776.8" r="19.3"/><circle cx="1031.7" cy="967.3" r="19.3"/><circle cx="934.3" cy="762.2" r="19.3"/><circle cx="1134.6" cy="731.6" r="19.3"/><circle cx="1089.8" cy="930.9" r="19.3"/><circle cx="1003.4" cy="767.3" r="19.3"/><circle cx="1095.2" cy="707.4" r="19.3"/><circle cx="1176.7" cy="802.6" r="19.3"/><circle cx="1010.7" cy="960.2" r="19.3"/><circle cx="1139.8" cy="650" r="19.3"/><circle cx="1067.6" cy="785.6" r="19.3"/><circle cx="1111.8" cy="725.9" r="19.3"/><circle cx="1138.3" cy="754.7" r="19.3"/><circle cx="1062.6" cy="746.1" r="19.3"/><circle cx="1038" cy="1060.2" r="19.3"/><circle cx="1063" cy="929" r="19.3"/><circle cx="1164" cy="755.6" r="19.3"/><circle cx="1089.2" cy="840.3" r="19.3"/><circle cx="1065.7" cy="877.1" r="19.3"/><circle cx="929.2" cy="860.1" r="19.3"/><circle cx="1113.2" cy="839.3" r="19.3"/><circle cx="1011.8" cy="905.6" r="19.3"/><circle cx="1159.2" cy="873.5" r="19.3"/><circle cx="1039.9" cy="926.1" r="19.3"/><circle cx="1154.2" cy="667.1" r="19.3"/><circle cx="1037.2" cy="758.6" r="19.3"/><circle cx="1032.8" cy="993" r="19.3"/><circle cx="1137.5" cy="709.4" r="19.3"/><circle cx="1051" cy="978.7" r="19.3"/><circle cx="1178.2" cy="771.2" r="19.3"/><circle cx="1045.2" cy="784.3" r="19.3"/><circle cx="1028.8" cy="944.9" r="19.3"/><circle cx="1145.1" cy="899.9" r="19.3"/><circle cx="1023.6" cy="865" r="19.3"/><circle cx="959.1" cy="755.1" r="19.3"/><circle cx="1124.3" cy="918.6" r="19.3"/><circle cx="1058.3" cy="805" r="19.3"/></g><g class="w"><circle cx="1094.7" cy="765.3" r="14.6"/><circle cx="1102.3" cy="786.5" r="14.6"/><circle cx="924.6" cy="777.9" r="14.6"/><circle cx="1096.2" cy="828.9" r="14.6"/><circle cx="1127.4" cy="844" r="14.6"/><circle cx="1167.3" cy="920.4" r="14.6"/><circle cx="1124" cy="716.6" r="14.6"/><circle cx="1037.4" cy="940.1" r="14.6"/><circle cx="1024.9" cy="750.3" r="14.6"/><circle cx="947.3" cy="762.9" r="14.6"/><circle cx="946.6" cy="757" r="14.6"/><circle cx="922.2" cy="764.2" r="14.6"/><circle cx="1077.2" cy="1035" r="14.6"/><circle cx="1066.1" cy="866.1" r="14.6"/><circle cx="1040.6" cy="860.2" r="14.6"/><circle cx="1091.1" cy="883.3" r="14.6"/><circle cx="1056.5" cy="942.4" r="14.6"/><circle cx="905.4" cy="806.3" r="14.6"/><circle cx="1043.5" cy="960.4" r="14.6"/><circle cx="1105.7" cy="849.9" r="14.6"/><circle cx="1167.5" cy="819" r="14.6"/><circle cx="1110.3" cy="950.9" r="14.6"/><circle cx="942.5" cy="798.3" r="14.6"/><circle cx="995.7" cy="845.6" r="14.6"/><circle cx="916.9" cy="761.5" r="14.6"/><circle cx="951.1" cy="903.9" r="14.6"/><circle cx="1147.5" cy="713.1" r="14.6"/><circle cx="1112.7" cy="914.5" r="14.6"/><circle cx="1105.4" cy="713.7" r="14.6"/><circle cx="1094.6" cy="901.9" r="14.6"/><circle cx="941.8" cy="823.3" r="14.6"/><circle cx="1120.2" cy="827" r="14.6"/><circle cx="1139.2" cy="795.3" r="14.6"/><circle cx="1153.1" cy="891" r="14.6"/><circle cx="933.6" cy="800.6" r="14.6"/><circle cx="957.9" cy="770" r="14.6"/><circle cx="1069.7" cy="754.4" r="14.6"/><circle cx="1151.4" cy="750.7" r="14.6"/><circle cx="1118.6" cy="647.7" r="14.6"/><circle cx="987.9" cy="813" r="14.6"/><circle cx="1056.1" cy="998.1" r="14.6"/><circle cx="1012.4" cy="774.6" r="14.6"/><circle cx="893.7" cy="824.3" r="14.6"/><circle cx="1101.9" cy="842.6" r="14.6"/><circle cx="979.9" cy="936.9" r="14.6"/><circle cx="1147.3" cy="912.9" r="14.6"/><circle cx="1008.6" cy="810.5" r="14.6"/><circle cx="1085.6" cy="745.7" r="14.6"/><circle cx="1075.7" cy="867.6" r="14.6"/><circle cx="1183.4" cy="838.3" r="14.6"/><circle cx="1055.7" cy="792.7" r="14.6"/><circle cx="996.6" cy="830.8" r="14.6"/><circle cx="1017.5" cy="780.2" r="14.6"/><circle cx="1050.2" cy="1054.3" r="14.6"/><circle cx="1107.8" cy="959.6" r="14.6"/><circle cx="1050.8" cy="992.7" r="14.6"/><circle cx="976.7" cy="780" r="14.6"/><circle cx="967.1" cy="769.7" r="14.6"/><circle cx="1117.4" cy="813.3" r="14.6"/><circle cx="1114.9" cy="921.6" r="14.6"/><circle cx="1147.2" cy="881.4" r="14.6"/><circle cx="1124.2" cy="946" r="14.6"/><circle cx="961.7" cy="840.7" r="14.6"/><circle cx="962.2" cy="862" r="14.6"/><circle cx="1144.4" cy="827.6" r="14.6"/><circle cx="955.7" cy="814" r="14.6"/><circle cx="985.6" cy="753.5" r="14.6"/><circle cx="1063.9" cy="758.4" r="14.6"/><circle cx="948.9" cy="893" r="14.6"/><circle cx="1091" cy="966.1" r="14.6"/><circle cx="960.6" cy="929.1" r="14.6"/><circle cx="1136.6" cy="781.3" r="14.6"/><circle cx="1137.4" cy="766.7" r="14.6"/><circle cx="1126.6" cy="754.8" r="14.6"/><circle cx="1159.2" cy="655.8" r="14.6"/><circle cx="1170.6" cy="780.1" r="14.6"/><circle cx="907.7" cy="834.1" r="14.6"/><circle cx="1066.8" cy="902.5" r="14.6"/><circle cx="921.7" cy="902.7" r="14.6"/><circle cx="1140.9" cy="950.2" r="14.6"/><circle cx="1006.6" cy="894.2" r="14.6"/><circle cx="1150.3" cy="710.6" r="14.6"/><circle cx="1000.3" cy="935.4" r="14.6"/><circle cx="1156.5" cy="808.2" r="14.6"/><circle cx="1094.4" cy="692.1" r="14.6"/><circle cx="1095.5" cy="984.4" r="14.6"/><circle cx="1106" cy="970.5" r="14.6"/><circle cx="1077.1" cy="933.4" r="14.6"/><circle cx="916.7" cy="869.2" r="14.6"/><circle cx="1058" cy="792.6" r="14.6"/><circle cx="1063.7" cy="981.3" r="14.6"/><circle cx="1049" cy="938.6" r="14.6"/><circle cx="1163.3" cy="847" r="14.6"/><circle cx="1000.2" cy="911.7" r="14.6"/><circle cx="1037.7" cy="891.5" r="14.6"/><circle cx="1111.2" cy="788.1" r="14.6"/><circle cx="1039.4" cy="1001.2" r="14.6"/><circle cx="1093.2" cy="919.2" r="14.6"/><circle cx="1143.2" cy="916.1" r="14.6"/><circle cx="1032.9" cy="959.6" r="14.6"/><circle cx="1044.2" cy="902.9" r="14.6"/><circle cx="1041.7" cy="1071.2" r="14.6"/><circle cx="1081.9" cy="943.4" r="14.6"/><circle cx="1128.6" cy="664.6" r="14.6"/><circle cx="961.2" cy="821.2" r="14.6"/><circle cx="1137.7" cy="744.1" r="14.6"/><circle cx="1054" cy="877.6" r="14.6"/><circle cx="1114.1" cy="675.9" r="14.6"/><circle cx="1135.4" cy="807.7" r="14.6"/><circle cx="1125.7" cy="695.7" r="14.6"/><circle cx="943.2" cy="853.6" r="14.6"/><circle cx="1153.7" cy="651.5" r="14.6"/><circle cx="1076.3" cy="887.6" r="14.6"/><circle cx="1004.9" cy="974.3" r="14.6"/><circle cx="1049.9" cy="761.6" r="14.6"/><circle cx="1098.8" cy="891.6" r="14.6"/><circle cx="1035" cy="949" r="14.6"/><circle cx="960" cy="797.3" r="14.6"/><circle cx="1163.3" cy="675.7" r="14.6"/><circle cx="1140.6" cy="661.3" r="14.6"/><circle cx="1064.4" cy="982.9" r="14.6"/><circle cx="1164.1" cy="774.4" r="14.6"/><circle cx="1155.4" cy="832.6" r="14.6"/><circle cx="1050.8" cy="870.6" r="14.6"/><circle cx="1083.1" cy="984.8" r="14.6"/><circle cx="1122.4" cy="717" r="14.6"/><circle cx="1090.6" cy="723.9" r="14.6"/><circle cx="1084.1" cy="957.7" r="14.6"/><circle cx="1111.4" cy="906.6" r="14.6"/><circle cx="910.3" cy="810" r="14.6"/><circle cx="1109.9" cy="768.7" r="14.6"/><circle cx="1068.1" cy="735.6" r="14.6"/><circle cx="1125.2" cy="720.5" r="14.6"/><circle cx="1062.5" cy="1011.9" r="14.6"/><circle cx="1153.9" cy="835" r="14.6"/><circle cx="1077.5" cy="832.3" r="14.6"/><circle cx="965" cy="768" r="14.6"/><circle cx="1161.7" cy="791.2" r="14.6"/><circle cx="1127.7" cy="860.2" r="14.6"/><circle cx="1009.4" cy="815.8" r="14.6"/><circle cx="1181.3" cy="756.7" r="14.6"/><circle cx="1101.9" cy="862.3" r="14.6"/><circle cx="1037.3" cy="981" r="14.6"/><circle cx="1091.6" cy="939.4" r="14.6"/><circle cx="1004" cy="853.1" r="14.6"/><circle cx="1084.4" cy="906.3" r="14.6"/><circle cx="1104.9" cy="932.7" r="14.6"/><circle cx="1097.5" cy="731.1" r="14.6"/><circle cx="1152.4" cy="759.3" r="14.6"/><circle cx="1148.4" cy="791.4" r="14.6"/><circle cx="1149.8" cy="932.3" r="14.6"/><circle cx="1035.7" cy="860.3" r="14.6"/><circle cx="1096.6" cy="762.8" r="14.6"/><circle cx="1036.7" cy="784.6" r="14.6"/><circle cx="1188.7" cy="781.5" r="14.6"/><circle cx="971.9" cy="752.3" r="14.6"/><circle cx="999.3" cy="791.5" r="14.6"/><circle cx="1144" cy="677.5" r="14.6"/><circle cx="1059.2" cy="957.1" r="14.6"/><circle cx="989.8" cy="861.2" r="14.6"/><circle cx="948.4" cy="795.1" r="14.6"/><circle cx="1139.2" cy="766.1" r="14.6"/><circle cx="983.3" cy="912.8" r="14.6"/><circle cx="980.4" cy="883.1" r="14.6"/><circle cx="1107.3" cy="815.8" r="14.6"/><circle cx="965.2" cy="863.7" r="14.6"/><circle cx="1138" cy="893.4" r="14.6"/><circle cx="1038" cy="842" r="14.6"/><circle cx="969.8" cy="901.4" r="14.6"/><circle cx="1147.8" cy="810.1" r="14.6"/><circle cx="1063.1" cy="843.8" r="14.6"/><circle cx="890.1" cy="863.9" r="14.6"/><circle cx="1087.4" cy="968" r="14.6"/><circle cx="1023.2" cy="897.4" r="14.6"/><circle cx="1077" cy="990.6" r="14.6"/><circle cx="956.9" cy="742.5" r="14.6"/><circle cx="998.6" cy="794.5" r="14.6"/><circle cx="1173.4" cy="867.5" r="14.6"/><circle cx="919" cy="866" r="14.6"/><circle cx="1022.3" cy="963.7" r="14.6"/><circle cx="1019.1" cy="825.4" r="14.6"/><circle cx="1031" cy="1049.4" r="14.6"/><circle cx="1130.1" cy="929.2" r="14.6"/><circle cx="975.4" cy="901.8" r="14.6"/><circle cx="963" cy="838.7" r="14.6"/><circle cx="1015.6" cy="979.3" r="14.6"/><circle cx="1133.7" cy="962" r="14.6"/><circle cx="930.5" cy="810.1" r="14.6"/><circle cx="1032" cy="1072" r="14.6"/><circle cx="1130.5" cy="684.5" r="14.6"/><circle cx="1120.9" cy="898.1" r="14.6"/><circle cx="1063.7" cy="889.2" r="14.6"/><circle cx="1139.9" cy="668.1" r="14.6"/><circle cx="937.9" cy="915.8" r="14.6"/><circle cx="1000.7" cy="835.3" r="14.6"/><circle cx="1155.9" cy="763.6" r="14.6"/><circle cx="1070.1" cy="814.7" r="14.6"/><circle cx="1066.3" cy="770.8" r="14.6"/><circle cx="1018.5" cy="935.9" r="14.6"/><circle cx="1035.5" cy="1043" r="14.6"/><circle cx="1027.9" cy="982.1" r="14.6"/><circle cx="1128.5" cy="904" r="14.6"/><circle cx="1091.9" cy="858.6" r="14.6"/><circle cx="1160.7" cy="907.1" r="14.6"/><circle cx="1130.5" cy="856.8" r="14.6"/><circle cx="1147.3" cy="882.8" r="14.6"/><circle cx="1098.4" cy="811.5" r="14.6"/><circle cx="1122.2" cy="831.4" r="14.6"/><circle cx="1103.4" cy="666" r="14.6"/><circle cx="1175.8" cy="787.4" r="14.6"/><circle cx="1067.5" cy="724.2" r="14.6"/><circle cx="1074.7" cy="842.1" r="14.6"/><circle cx="973.7" cy="848" r="14.6"/><circle cx="1068" cy="1014.5" r="14.6"/><circle cx="989.9" cy="913.2" r="14.6"/><circle cx="935.7" cy="825.5" r="14.6"/><circle cx="1010.6" cy="833.2" r="14.6"/><circle cx="1163.7" cy="733.4" r="14.6"/><circle cx="1041.9" cy="824.7" r="14.6"/><circle cx="1002" cy="996.9" r="14.6"/><circle cx="1048.1" cy="812" r="14.6"/><circle cx="1145.8" cy="745.8" r="14.6"/><circle cx="921.1" cy="894.2" r="14.6"/><circle cx="1043.1" cy="1002.1" r="14.6"/><circle cx="1138.4" cy="926.8" r="14.6"/><circle cx="1127.2" cy="981.5" r="14.6"/><circle cx="1027.8" cy="1016.1" r="14.6"/><circle cx="977.5" cy="932.9" r="14.6"/><circle cx="1056.6" cy="845.3" r="14.6"/><circle cx="925.2" cy="750.3" r="14.6"/><circle cx="1036.4" cy="868.3" r="14.6"/><circle cx="1109.4" cy="765.1" r="14.6"/><circle cx="1141.1" cy="826.3" r="14.6"/><circle cx="1136.7" cy="864.3" r="14.6"/><circle cx="1131.9" cy="907.3" r="14.6"/><circle cx="963.2" cy="816.2" r="14.6"/><circle cx="974.4" cy="783.4" r="14.6"/><circle cx="1017.8" cy="948.8" r="14.6"/><circle cx="1120.1" cy="881.8" r="14.6"/><circle cx="993.2" cy="972.3" r="14.6"/><circle cx="1070.7" cy="920.1" r="14.6"/><circle cx="1081.6" cy="1008" r="14.6"/><circle cx="1042.1" cy="744.7" r="14.6"/><circle cx="1025" cy="931.4" r="14.6"/><circle cx="1048.5" cy="961.7" r="14.6"/><circle cx="1046.5" cy="1025.7" r="14.6"/><circle cx="970.6" cy="830.7" r="14.6"/><circle cx="1053.3" cy="793.4" r="14.6"/><circle cx="1157.9" cy="711.5" r="14.6"/><circle cx="1174.8" cy="763.9" r="14.6"/><circle cx="951.9" cy="790.4" r="14.6"/><circle cx="893.4" cy="833.3" r="14.6"/><circle cx="1174.8" cy="817.7" r="14.6"/><circle cx="1053" cy="1034.2" r="14.6"/><circle cx="1016.5" cy="969.9" r="14.6"/><circle cx="1105.3" cy="985.2" r="14.6"/><circle cx="942.6" cy="771.4" r="14.6"/><circle cx="1053.6" cy="821.4" r="14.6"/><circle cx="1112.3" cy="744.5" r="14.6"/><circle cx="923.5" cy="869.1" r="14.6"/><circle cx="1034" cy="792.7" r="14.6"/><circle cx="1116.9" cy="740.3" r="14.6"/><circle cx="1067.9" cy="768.1" r="14.6"/><circle cx="981" cy="802.5" r="14.6"/><circle cx="1069.2" cy="811.1" r="14.6"/><circle cx="1079.3" cy="786.5" r="14.6"/><circle cx="1035.3" cy="799.2" r="14.6"/><circle cx="1146" cy="732.5" r="14.6"/><circle cx="1020.9" cy="914.8" r="14.6"/><circle cx="1133.2" cy="694.9" r="14.6"/><circle cx="1122.7" cy="876.8" r="14.6"/><circle cx="1037.4" cy="936.9" r="14.6"/><circle cx="1065.4" cy="915.7" r="14.6"/><circle cx="1089.2" cy="855.3" r="14.6"/><circle cx="979.3" cy="827.4" r="14.6"/><circle cx="951.1" cy="838.1" r="14.6"/><circle cx="1137.7" cy="886.3" r="14.6"/><circle cx="1064.3" cy="967.8" r="14.6"/><circle cx="979.5" cy="883.3" r="14.6"/><circle cx="1073.7" cy="742.3" r="14.6"/><circle cx="1013.9" cy="874.8" r="14.6"/><circle cx="1058.9" cy="781" r="14.6"/><circle cx="1098.8" cy="721.2" r="14.6"/><circle cx="1061.1" cy="1009.6" r="14.6"/><circle cx="1092.6" cy="768" r="14.6"/><circle cx="1102.6" cy="881" r="14.6"/><circle cx="1106.2" cy="902.4" r="14.6"/><circle cx="986.1" cy="958.8" r="14.6"/><circle cx="1023.5" cy="825.8" r="14.6"/><circle cx="1119.4" cy="663" r="14.6"/><circle cx="1052.3" cy="889.6" r="14.6"/><circle cx="924.3" cy="840.7" r="14.6"/><circle cx="1038.4" cy="773.6" r="14.6"/><circle cx="1093.2" cy="921.4" r="14.6"/><circle cx="936.6" cy="847" r="14.6"/><circle cx="1113.3" cy="848.1" r="14.6"/><circle cx="1034.2" cy="912.9" r="14.6"/><circle cx="1041.3" cy="912.9" r="14.6"/><circle cx="972.8" cy="907" r="14.6"/><circle cx="946.6" cy="835.7" r="14.6"/><circle cx="999.8" cy="930.8" r="14.6"/><circle cx="993.1" cy="878.2" r="14.6"/><circle cx="927.5" cy="891.7" r="14.6"/><circle cx="1013" cy="798.3" r="14.6"/><circle cx="1108.2" cy="700" r="14.6"/><circle cx="1154" cy="860.8" r="14.6"/><circle cx="990.2" cy="761.1" r="14.6"/><circle cx="1052.6" cy="872.7" r="14.6"/><circle cx="997.6" cy="959.3" r="14.6"/><circle cx="904.7" cy="785" r="14.6"/><circle cx="1041" cy="773.6" r="14.6"/><circle cx="998.9" cy="897.9" r="14.6"/><circle cx="1000.3" cy="858.6" r="14.6"/><circle cx="1072.8" cy="866.3" r="14.6"/><circle cx="967" cy="880.9" r="14.6"/><circle cx="1096.5" cy="740.9" r="14.6"/><circle cx="1070.9" cy="887" r="14.6"/><circle cx="1000.6" cy="955" r="14.6"/><circle cx="946" cy="864.4" r="14.6"/><circle cx="929.8" cy="773.6" r="14.6"/><circle cx="1086.9" cy="752.7" r="14.6"/><circle cx="1116.5" cy="872.9" r="14.6"/><circle cx="1129.3" cy="640.7" r="14.6"/><circle cx="1144.3" cy="677.2" r="14.6"/><circle cx="905.8" cy="854.5" r="14.6"/><circle cx="1173.5" cy="823.9" r="14.6"/></g><g class="u"><circle cx="936.9" cy="784.7" r="19.3"/><circle cx="1055.4" cy="908.3" r="19.3"/><circle cx="1003" cy="981.7" r="19.3"/><circle cx="1042.2" cy="879.2" r="19.3"/><circle cx="1102.2" cy="913.7" r="19.3"/><circle cx="967.7" cy="808.2" r="19.3"/><circle cx="1096.9" cy="952.5" r="19.3"/><circle cx="989.9" cy="946.3" r="19.3"/><circle cx="902.8" cy="842.2" r="19.3"/><circle cx="1010.2" cy="823.2" r="19.3"/><circle cx="1132.7" cy="879.1" r="19.3"/><circle cx="959.5" cy="827.9" r="19.3"/><circle cx="1170.7" cy="837.6" r="19.3"/><circle cx="1129.6" cy="818.6" r="19.3"/><circle cx="1114.9" cy="688" r="19.3"/><circle cx="1131.3" cy="672.5" r="19.3"/><circle cx="1052.6" cy="860.3" r="19.3"/><circle cx="957.7" cy="850.4" r="19.3"/><circle cx="984.4" cy="839.6" r="19.3"/><circle cx="943.2" cy="811.7" r="19.3"/><circle cx="1098.7" cy="974.5" r="19.3"/><circle cx="1121" cy="967.9" r="19.3"/><circle cx="934.3" cy="762.2" r="19.3"/><circle cx="1134.6" cy="731.6" r="19.3"/><circle cx="1003.4" cy="767.3" r="19.3"/><circle cx="1095.2" cy="707.4" r="19.3"/><circle cx="1111.8" cy="725.9" r="19.3"/><circle cx="1089.2" cy="840.3" r="19.3"/><circle cx="929.2" cy="860.1" r="19.3"/><circle cx="1011.8" cy="905.6" r="19.3"/><circle cx="1154.2" cy="667.1" r="19.3"/><circle cx="1137.5" cy="709.4" r="19.3"/><circle cx="1051" cy="978.7" r="19.3"/><circle cx="1028.8" cy="944.9" r="19.3"/><circle cx="1145.1" cy="899.9" r="19.3"/><circle cx="1124.3" cy="918.6" r="19.3"/></g>
<g class="v"><circle cx="1136" cy="713.7" r="19.3"/><circle cx="1174" cy="766.4" r="19.3"/><circle cx="1149.9" cy="746.6" r="19.3"/><circle cx="995.4" cy="871.9" r="19.3"/><circle cx="1110.1" cy="844.7" r="19.3"/><circle cx="941" cy="896.7" r="19.3"/><circle cx="925.5" cy="871" r="19.3"/><circle cx="1127.7" cy="785.4" r="19.3"/><circle cx="1148.9" cy="927.7" r="19.3"/><circle cx="1174.3" cy="821.1" r="19.3"/><circle cx="1023.4" cy="884.4" r="19.3"/><circle cx="1074.4" cy="1010.1" r="19.3"/><circle cx="1150.1" cy="898.4" r="19.3"/><circle cx="1109.3" cy="695.5" r="19.3"/><circle cx="1110.4" cy="653.2" r="19.3"/><circle cx="966" cy="814.3" r="19.3"/><circle cx="1140.6" cy="860.3" r="19.3"/><circle cx="1132.1" cy="954" r="19.3"/><circle cx="899.6" cy="856.8" r="19.3"/><circle cx="995.1" cy="802.4" r="19.3"/><circle cx="1140.5" cy="820.6" r="19.3"/><circle cx="1033.4" cy="991.7" r="19.3"/><circle cx="1115.8" cy="928.1" r="19.3"/><circle cx="988.4" cy="914.8" r="19.3"/><circle cx="1033.1" cy="952.2" r="19.3"/><circle cx="964.6" cy="766.7" r="19.3"/><circle cx="1019.2" cy="829" r="19.3"/><circle cx="981.8" cy="947.6" r="19.3"/><circle cx="1086.1" cy="907" r="19.3"/><circle cx="1038" cy="1032.6" r="19.3"/><circle cx="961.3" cy="875.6" r="19.3"/><circle cx="931.7" cy="776" r="19.3"/><circle cx="1022.6" cy="919.7" r="19.3"/><circle cx="1106" cy="976.1" r="19.3"/><circle cx="1065.1" cy="979.4" r="19.3"/><circle cx="1003.4" cy="975.9" r="19.3"/><circle cx="1053.7" cy="926.3" r="19.3"/><circle cx="1054.7" cy="891" r="19.3"/><circle cx="1158.4" cy="794.9" r="19.3"/><circle cx="1078.4" cy="953.2" r="19.3"/><circle cx="1045.3" cy="858.1" r="19.3"/><circle cx="992.7" cy="841.7" r="19.3"/><circle cx="1137.7" cy="669.5" r="19.3"/><circle cx="936" cy="834.2" r="19.3"/><circle cx="914.5" cy="805.8" r="19.3"/><circle cx="1112.8" cy="889.2" r="19.3"/></g><g class="w"><circle cx="959" cy="798" r="14.6"/><circle cx="977.1" cy="825.3" r="14.6"/><circle cx="1143.4" cy="806.6" r="14.6"/><circle cx="1142" cy="654.6" r="14.6"/><circle cx="1152.6" cy="830.5" r="14.6"/><circle cx="1124.3" cy="940" r="14.6"/><circle cx="1124.2" cy="818.2" r="14.6"/><circle cx="1020.1" cy="996.5" r="14.6"/><circle cx="1189.2" cy="760" r="14.6"/><circle cx="1088.2" cy="1013.4" r="14.6"/><circle cx="981.3" cy="929" r="14.6"/><circle cx="1162.5" cy="917.8" r="14.6"/><circle cx="1023.4" cy="1036.4" r="14.6"/><circle cx="977.3" cy="844" r="14.6"/><circle cx="904.5" cy="820.6" r="14.6"/><circle cx="1040.4" cy="934.9" r="14.6"/><circle cx="1109.3" cy="862.4" r="14.6"/><circle cx="1175.3" cy="796" r="14.6"/><circle cx="982.7" cy="931.8" r="14.6"/><circle cx="1149.4" cy="883.8" r="14.6"/><circle cx="1108.9" cy="637.6" r="14.6"/><circle cx="1008.1" cy="811.4" r="14.6"/><circle cx="1096.5" cy="986.6" r="14.6"/><circle cx="946.9" cy="872.4" r="14.6"/><circle cx="1077.4" cy="918.4" r="14.6"/><circle cx="976" cy="884.8" r="14.6"/><circle cx="991.8" cy="819.2" r="14.6"/><circle cx="1116.6" cy="958.3" r="14.6"/><circle cx="1096.8" cy="884.8" r="14.6"/><circle cx="1047.4" cy="997" r="14.6"/><circle cx="1096.2" cy="687" r="14.6"/><circle cx="1003" cy="855.1" r="14.6"/><circle cx="914.1" cy="778.9" r="14.6"/><circle cx="1151.5" cy="677.4" r="14.6"/><circle cx="1031.3" cy="819.2" r="14.6"/><circle cx="1126.9" cy="870.2" r="14.6"/><circle cx="1134.8" cy="745.1" r="14.6"/><circle cx="1135.6" cy="922.4" r="14.6"/><circle cx="1140.5" cy="844.8" r="14.6"/><circle cx="1103.6" cy="712.6" r="14.6"/><circle cx="1070.3" cy="994.8" r="14.6"/><circle cx="1063.6" cy="913" r="14.6"/><circle cx="947.1" cy="913.1" r="14.6"/><circle cx="1008.8" cy="889.7" r="14.6"/><circle cx="910.5" cy="847" r="14.6"/><circle cx="1056.4" cy="905.4" r="14.6"/><circle cx="1093.7" cy="944.7" r="14.6"/><circle cx="1135.9" cy="697.4" r="14.6"/><circle cx="947.6" cy="770.6" r="14.6"/><circle cx="1121.6" cy="684.1" r="14.6"/><circle cx="1127.8" cy="846.7" r="14.6"/><circle cx="1042.3" cy="1048.9" r="14.6"/><circle cx="952.6" cy="838.5" r="14.6"/><circle cx="998.7" cy="824.8" r="14.6"/><circle cx="987.9" cy="788.9" r="14.6"/><circle cx="1131.3" cy="727.2" r="14.6"/><circle cx="940.6" cy="863.2" r="14.6"/><circle cx="1158" cy="769.7" r="14.6"/><circle cx="1106.9" cy="960.8" r="14.6"/><circle cx="1043" cy="977.7" r="14.6"/><circle cx="1106.1" cy="917.4" r="14.6"/><circle cx="1030.7" cy="903.8" r="14.6"/><circle cx="1114.4" cy="903.2" r="14.6"/><circle cx="1056.3" cy="991.5" r="14.6"/><circle cx="987.3" cy="962" r="14.6"/><circle cx="1000.5" cy="887.6" r="14.6"/><circle cx="1126" cy="802.5" r="14.6"/><circle cx="1165.7" cy="742.4" r="14.6"/><circle cx="1017.4" cy="934.2" r="14.6"/><circle cx="1145" cy="959.6" r="14.6"/><circle cx="1141.6" cy="793.1" r="14.6"/><circle cx="1095.7" cy="840.1" r="14.6"/><circle cx="1048.5" cy="950.4" r="14.6"/><circle cx="926" cy="899.2" r="14.6"/><circle cx="1038.7" cy="885.4" r="14.6"/><circle cx="1180.4" cy="836.4" r="14.6"/><circle cx="1123.9" cy="938.3" r="14.6"/><circle cx="1081.2" cy="970.2" r="14.6"/><circle cx="930.8" cy="805.1" r="14.6"/><circle cx="1123.2" cy="677.1" r="14.6"/><circle cx="916.4" cy="791.1" r="14.6"/><circle cx="1020.9" cy="846.4" r="14.6"/><circle cx="1134.4" cy="770.2" r="14.6"/><circle cx="1058.4" cy="865.2" r="14.6"/><circle cx="1157.9" cy="821.6" r="14.6"/><circle cx="1092.5" cy="892.5" r="14.6"/><circle cx="1039.5" cy="887.9" r="14.6"/><circle cx="920.9" cy="833.1" r="14.6"/><circle cx="1122.1" cy="661.6" r="14.6"/><circle cx="996.4" cy="900.5" r="14.6"/><circle cx="1144.2" cy="914.4" r="14.6"/><circle cx="943.9" cy="766.8" r="14.6"/><circle cx="1099.3" cy="663.9" r="14.6"/><circle cx="1047.8" cy="1019.5" r="14.6"/><circle cx="989.2" cy="981.3" r="14.6"/><circle cx="1070.8" cy="966.1" r="14.6"/><circle cx="1037.6" cy="843.7" r="14.6"/><circle cx="1155.7" cy="865.1" r="14.6"/><circle cx="1005.9" cy="820" r="14.6"/><circle cx="1121.1" cy="873.9" r="14.6"/><circle cx="948.5" cy="882.6" r="14.6"/><circle cx="1001.6" cy="858.8" r="14.6"/><circle cx="1018" cy="967.2" r="14.6"/><circle cx="1179.1" cy="806.7" r="14.6"/><circle cx="888" cy="867.1" r="14.6"/><circle cx="907.7" cy="868.8" r="14.6"/><circle cx="1018" cy="944.9" r="14.6"/><circle cx="1141.3" cy="942.2" r="14.6"/><circle cx="1062.6" cy="949.7" r="14.6"/><circle cx="1063.5" cy="1021.9" r="14.6"/><circle cx="979.6" cy="758.9" r="14.6"/><circle cx="1064.8" cy="879.5" r="14.6"/><circle cx="1118.6" cy="988.5" r="14.6"/></g><g class="u"><circle cx="1136" cy="713.7" r="19.3"/><circle cx="1127.7" cy="785.4" r="19.3"/><circle cx="1150.1" cy="898.4" r="19.3"/><circle cx="1110.4" cy="653.2" r="19.3"/><circle cx="899.6" cy="856.8" r="19.3"/><circle cx="1140.5" cy="820.6" r="19.3"/><circle cx="1086.1" cy="907" r="19.3"/><circle cx="1038" cy="1032.6" r="19.3"/><circle cx="931.7" cy="776" r="19.3"/><circle cx="1022.6" cy="919.7" r="19.3"/><circle cx="1065.1" cy="979.4" r="19.3"/><circle cx="1003.4" cy="975.9" r="19.3"/><circle cx="1045.3" cy="858.1" r="19.3"/><circle cx="992.7" cy="841.7" r="19.3"/><circle cx="1137.7" cy="669.5" r="19.3"/><circle cx="914.5" cy="805.8" r="19.3"/></g>
<path d="M1034.8 731.7L1064.3 707.4L1062 704.5L1085.9 695.8L1072.8 717.6L1070.4 714.7L1040.9 739 Z" fill="#9f9fc0" stroke="#55556a" stroke-width="0.8" stroke-linejoin="round"/><path d="M1034.8 729.2L1064.3 704.9L1062 702L1085.9 693.3L1072.8 715.1L1070.4 712.2L1040.9 736.5 Z" fill="#cdcdea" stroke="#55556a" stroke-width="0.8" stroke-linejoin="round"/><path d="M1084.4 694.5Q1100.3 681.4 1117 676.3" fill="none" stroke="#55556a" stroke-width="5" stroke-linecap="round"/><path d="M1084.4 694.5Q1100.3 681.4 1117 676.3" fill="none" stroke="#cdcdea" stroke-width="3.6" stroke-linecap="round"/>
<path d="M1036.1 745.1L1070.3 731.4L1068.9 727.9L1094.4 726.9L1075.2 743.7L1073.9 740.2L1039.6 753.9 Z" fill="#9f9fc0" stroke="#55556a" stroke-width="0.8" stroke-linejoin="round"/><path d="M1036.1 742.6L1070.3 728.9L1068.9 725.4L1094.4 724.4L1075.2 741.2L1073.9 737.7L1039.6 751.4 Z" fill="#cdcdea" stroke="#55556a" stroke-width="0.8" stroke-linejoin="round"/><path d="M1092.5 725.1Q1113.3 716.8 1128.3 718.7" fill="none" stroke="#55556a" stroke-width="5" stroke-linecap="round"/><path d="M1092.5 725.1Q1113.3 716.8 1128.3 718.7" fill="none" stroke="#cdcdea" stroke-width="3.6" stroke-linecap="round"/>
<path d="M1014.4 767.4L1081.2 754.9L1080.5 751.2L1105.7 755.1L1083.7 767.9L1083 764.2L1016.1 776.8 Z" fill="#9f9fc0" stroke="#55556a" stroke-width="0.8" stroke-linejoin="round"/><path d="M1014.4 764.9L1081.2 752.4L1080.5 748.7L1105.7 752.6L1083.7 765.4L1083 761.7L1016.1 774.3 Z" fill="#cdcdea" stroke="#55556a" stroke-width="0.8" stroke-linejoin="round"/><path d="M1103.7 753Q1127.3 748.6 1142.4 749.8" fill="none" stroke="#55556a" stroke-width="5" stroke-linecap="round"/><path d="M1103.7 753Q1127.3 748.6 1142.4 749.8" fill="none" stroke="#cdcdea" stroke-width="3.6" stroke-linecap="round"/>
<path d="M1009.6 778.6L1093 778.6L1093 774.9L1117 783.4L1093 791.9L1093 788.1L1009.6 788.1 Z" fill="#9f9fc0" stroke="#55556a" stroke-width="0.8" stroke-linejoin="round"/><path d="M1009.6 776.1L1093 776.1L1093 772.4L1117 780.9L1093 789.4L1093 785.6L1009.6 785.6 Z" fill="#cdcdea" stroke="#55556a" stroke-width="0.8" stroke-linejoin="round"/><path d="M1115 780.9Q1135.6 780.9 1148.1 786.5" fill="none" stroke="#55556a" stroke-width="5" stroke-linecap="round"/><path d="M1115 780.9Q1135.6 780.9 1148.1 786.5" fill="none" stroke="#cdcdea" stroke-width="3.6" stroke-linecap="round"/>
<path d="M1004.8 784.4L1088.6 799.8L1089.3 796.1L1111.3 808.8L1086.2 812.8L1086.9 809.1L1003.1 793.7 Z" fill="#9f9fc0" stroke="#55556a" stroke-width="0.8" stroke-linejoin="round"/><path d="M1004.8 781.9L1088.6 797.3L1089.3 793.6L1111.3 806.3L1086.2 810.3L1086.9 806.6L1003.1 791.2 Z" fill="#cdcdea" stroke="#55556a" stroke-width="0.8" stroke-linejoin="round"/><path d="M1109.4 806Q1128 809.4 1139.6 817.6" fill="none" stroke="#55556a" stroke-width="5" stroke-linecap="round"/><path d="M1109.4 806Q1128 809.4 1139.6 817.6" fill="none" stroke="#cdcdea" stroke-width="3.6" stroke-linecap="round"/>
<path d="M1003 787.5L1082.9 823L1084.4 819.6L1102.9 837.1L1077.5 835.1L1079 831.7L999.2 796.2 Z" fill="#9f9fc0" stroke="#55556a" stroke-width="0.8" stroke-linejoin="round"/><path d="M1003 785L1082.9 820.5L1084.4 817.1L1102.9 834.6L1077.5 832.6L1079 829.2L999.2 793.7 Z" fill="#cdcdea" stroke="#55556a" stroke-width="0.8" stroke-linejoin="round"/><path d="M1101 833.8Q1116.8 840.8 1128.3 854.4" fill="none" stroke="#55556a" stroke-width="5" stroke-linecap="round"/><path d="M1101 833.8Q1116.8 840.8 1128.3 854.4" fill="none" stroke="#cdcdea" stroke-width="3.6" stroke-linecap="round"/>
<path d="M1001 790.8L1080.4 847.5L1082.6 844.5L1097.2 865.4L1072.7 858.3L1074.9 855.3L995.5 798.6 Z" fill="#9f9fc0" stroke="#55556a" stroke-width="0.8" stroke-linejoin="round"/><path d="M1001 788.3L1080.4 845L1082.6 842L1097.2 862.9L1072.7 855.8L1074.9 852.8L995.5 796.1 Z" fill="#cdcdea" stroke="#55556a" stroke-width="0.8" stroke-linejoin="round"/><path d="M1095.6 861.7Q1108.2 870.7 1119.8 885.5" fill="none" stroke="#55556a" stroke-width="5" stroke-linecap="round"/><path d="M1095.6 861.7Q1108.2 870.7 1119.8 885.5" fill="none" stroke="#cdcdea" stroke-width="3.6" stroke-linecap="round"/>
<path d="M1001.8 794.4L1070.8 872.5L1073.6 870L1083.1 893.6L1060.8 881.2L1063.6 878.8L994.7 800.7 Z" fill="#9f9fc0" stroke="#55556a" stroke-width="0.8" stroke-linejoin="round"/><path d="M1001.8 791.9L1070.8 870L1073.6 867.5L1083.1 891.1L1060.8 878.7L1063.6 876.3L994.7 798.2 Z" fill="#cdcdea" stroke="#55556a" stroke-width="0.8" stroke-linejoin="round"/><path d="M1081.7 889.6Q1088.7 897.5 1097.2 919.4" fill="none" stroke="#55556a" stroke-width="5" stroke-linecap="round"/><path d="M1081.7 889.6Q1088.7 897.5 1097.2 919.4" fill="none" stroke="#cdcdea" stroke-width="3.6" stroke-linecap="round"/>
<g class="v"><circle cx="1025.4" cy="883.4" r="19.3"/><circle cx="1140.9" cy="864.6" r="19.3"/><circle cx="946.8" cy="770" r="19.3"/><circle cx="969.7" cy="848.1" r="19.3"/><circle cx="1065.1" cy="1023.7" r="19.3"/><circle cx="929.9" cy="885.7" r="19.3"/><circle cx="1115.8" cy="720.8" r="19.3"/><circle cx="1137.2" cy="762.8" r="19.3"/><circle cx="1047.7" cy="950.9" r="19.3"/><circle cx="966.3" cy="929.9" r="19.3"/></g><g class="w"><circle cx="980.4" cy="927.6" r="14.6"/><circle cx="1050.1" cy="967.5" r="14.6"/><circle cx="1147.5" cy="848.8" r="14.6"/><circle cx="915.4" cy="882.2" r="14.6"/><circle cx="1120.4" cy="760.5" r="14.6"/><circle cx="943.2" cy="891.6" r="14.6"/><circle cx="1011.1" cy="872.9" r="14.6"/><circle cx="1072.9" cy="1008.7" r="14.6"/><circle cx="963.4" cy="835.2" r="14.6"/><circle cx="1130.7" cy="729.4" r="14.6"/><circle cx="1133.3" cy="779.5" r="14.6"/><circle cx="1144.9" cy="750.6" r="14.6"/><circle cx="961.1" cy="772.2" r="14.6"/><circle cx="981.4" cy="857.2" r="14.6"/><circle cx="1125.4" cy="871.1" r="14.6"/><circle cx="1150.4" cy="876.3" r="14.6"/><circle cx="1030.4" cy="949.7" r="14.6"/><circle cx="1072.8" cy="1039.7" r="14.6"/><circle cx="930.9" cy="769.4" r="14.6"/><circle cx="1039" cy="894" r="14.6"/><circle cx="953.2" cy="919.3" r="14.6"/><circle cx="962.2" cy="945.8" r="14.6"/><circle cx="1102.9" cy="714.8" r="14.6"/><circle cx="1050.4" cy="1027.4" r="14.6"/><circle cx="1057.6" cy="936.8" r="14.6"/></g>
<path d="M989 729.5L983.7 727.8M983.7 727.8L988.3 718.1M988.3 718.1L996.4 713.8M996.4 713.8L996.9 720.8M996.9 720.8L989 729.5M983.7 727.8L977.9 732.5M989 729.5L998.3 780.9M996.8 739L993 734.7M993 734.7L997.1 723.8M997.1 723.8L1003.5 721.2M1003.5 721.2L1003.3 730.6M1003.3 730.6L996.8 739M996.8 739L999.7 781.8M997.8 747.4L993.5 744.2M993.5 744.2L998.4 734M998.4 734L1005.7 730.8M1005.7 730.8L1005.3 739.1M1005.3 739.1L997.8 747.4M997.8 747.4L1001.1 782.8M1003.5 755.5L999.6 751.9M999.6 751.9L1006.1 742.6M1006.1 742.6L1013.9 740.5M1013.9 740.5L1012.3 748.4M1012.3 748.4L1003.5 755.5M999.6 751.9L993 755.4M1003.5 755.5L1002.5 783.7M1011.4 756.7L1008.8 752M1008.8 752L1016.9 744M1016.9 744L1024.6 743.6M1024.6 743.6L1021.2 751.5M1021.2 751.5L1011.4 756.7M1011.4 756.7L1003.9 784.7M1011.8 764.3L1008.7 759.9M1008.7 759.9L1017.6 753.2M1017.6 753.2L1026.1 753.5M1026.1 753.5L1022.5 760.3M1022.5 760.3L1011.8 764.3M1011.8 764.3L1005.3 785.6M1017.9 772.9L1019 766.1M1019 766.1L1028.8 759.7M1028.8 759.7L1033.7 762.5M1033.7 762.5L1027 770.7M1027 770.7L1017.9 772.9M1019 766.1L1011.6 765.7M1017.9 772.9L1006.8 786.5M1019.8 779.8L1023 771.8M1023 771.8L1032.6 766.3M1032.6 766.3L1035.3 771M1035.3 771L1027.3 779.3M1027.3 779.3L1019.8 779.8M1019.8 779.8L1008.2 787.5M1025.9 778.1L1029.3 771.3M1029.3 771.3L1040.1 767.3M1040.1 767.3L1043.3 771.6M1043.3 771.6L1034.5 778.3M1034.5 778.3L1025.9 778.1M1025.9 778.1L1009.6 788.4M1032.1 789.9L1039.9 783M1039.9 783L1049.5 782.1M1049.5 782.1L1047.6 788.5M1047.6 788.5L1036.9 793.3M1036.9 793.3L1032.1 789.9M1039.9 783L1037.7 775.8M1032.1 789.9L1011 789.4M1042.1 797.8L1050 789.2M1050 789.2L1055.5 790.6M1055.5 790.6L1051 800.1M1051 800.1L1042.7 804.6M1042.7 804.6L1042.1 797.8M1042.1 797.8L1012.4 790.3M1045.6 799.7L1055 793.7M1055 793.7L1063.4 794.6M1063.4 794.6L1059.1 801.2M1059.1 801.2L1048.1 804.4M1048.1 804.4L1045.6 799.7M1045.6 799.7L1013.8 791.3M1055.2 802.5L1061.9 793.6M1061.9 793.6L1066.2 796.7M1066.2 796.7L1062.3 807.4M1062.3 807.4L1055.4 811M1055.4 811L1055.2 802.5M1061.9 793.6L1063.3 786.2M1055.2 802.5L1015.2 792.2M950.6 978L952 990M952 990L949 998.2M949 998.2L945.7 991.2M945.7 991.2L946.7 978.7M946.7 978.7L950.6 978M945.7 991.2L941.2 997.1M950.6 978L961.5 967.4M979.3 976.7L982.2 981.3M982.2 981.3L980 994M980 994L975.7 997.3M975.7 997.3L975.2 986.7M975.2 986.7L979.3 976.7M982.2 981.3L986.3 975M979.3 976.7L975.7 967.4M992.4 1026.7L993.9 1038M993.9 1038L991.7 1047.5M991.7 1047.5L988.8 1042M988.8 1042L989.2 1029.2M989.2 1029.2L992.4 1026.7M988.8 1042L985.7 1048.8M992.4 1026.7L1001.1 1015.5" fill="none" stroke="#3e3e50" stroke-width="5" stroke-linecap="round"/>
<path d="M989 729.5L986.4 728.6M988.3 718.1L992.3 715.9M996.9 720.8L989 729.5M989 729.5L998.3 780.9M996.8 739L994.9 736.9M997.1 723.8L1000.3 722.5M1003.3 730.6L996.8 739M996.8 739L999.7 781.8M997.8 747.4L995.7 745.8M998.4 734L1002.1 732.4M1005.3 739.1L997.8 747.4M997.8 747.4L1001.1 782.8M1003.5 755.5L1001.5 753.7M1006.1 742.6L1010 741.6M1012.3 748.4L1003.5 755.5M1003.5 755.5L1002.5 783.7M1011.4 756.7L1010.1 754.3M1016.9 744L1020.8 743.8M1021.2 751.5L1011.4 756.7M1011.4 756.7L1003.9 784.7M1011.8 764.3L1010.2 762.1M1017.6 753.2L1021.9 753.4M1022.5 760.3L1011.8 764.3M1011.8 764.3L1005.3 785.6M1017.9 772.9L1018.5 769.5M1028.8 759.7L1031.3 761.1M1027 770.7L1017.9 772.9M1017.9 772.9L1006.8 786.5M1019.8 779.8L1021.4 775.8M1032.6 766.3L1033.9 768.6M1027.3 779.3L1019.8 779.8M1019.8 779.8L1008.2 787.5M1025.9 778.1L1027.6 774.7M1040.1 767.3L1041.7 769.4M1034.5 778.3L1025.9 778.1M1025.9 778.1L1009.6 788.4M1032.1 789.9L1036 786.4M1049.5 782.1L1048.5 785.3M1036.9 793.3L1032.1 789.9M1032.1 789.9L1011 789.4M1042.1 797.8L1046 793.5M1055.5 790.6L1053.3 795.4M1042.7 804.6L1042.1 797.8M1042.1 797.8L1012.4 790.3M1045.6 799.7L1050.3 796.7M1063.4 794.6L1061.2 797.9M1048.1 804.4L1045.6 799.7M1045.6 799.7L1013.8 791.3M1055.2 802.5L1058.5 798M1066.2 796.7L1064.2 802M1055.4 811L1055.2 802.5M1055.2 802.5L1015.2 792.2M950.6 978L951.3 984M949 998.2L947.4 994.7M946.7 978.7L950.6 978M950.6 978L961.5 967.4M979.3 976.7L980.8 979M980 994L977.8 995.7M975.2 986.7L979.3 976.7M979.3 976.7L975.7 967.4M992.4 1026.7L993.2 1032.4M991.7 1047.5L990.3 1044.7M989.2 1029.2L992.4 1026.7M992.4 1026.7L1001.1 1015.5" fill="none" stroke="#cfcfec" stroke-width="4" stroke-linecap="round"/>
<path d="M983.7 727.8L986 722.9M996.4 713.8L996.6 717.3M983.7 727.8L980.8 730.1M993 734.7L995.1 729.3M1003.5 721.2L1003.4 725.9M993.5 744.2L996 739.1M1005.7 730.8L1005.5 735M999.6 751.9L1002.8 747.2M1013.9 740.5L1013.1 744.5M999.6 751.9L996.3 753.6M1008.8 752L1012.8 748M1024.6 743.6L1022.9 747.6M1008.7 759.9L1013.1 756.6M1026.1 753.5L1024.3 756.9M1019 766.1L1023.9 762.9M1033.7 762.5L1030.3 766.6M1019 766.1L1015.3 765.9M1023 771.8L1027.8 769M1035.3 771L1031.3 775.1M1029.3 771.3L1034.7 769.3M1043.3 771.6L1038.9 774.9M1039.9 783L1044.7 782.6M1047.6 788.5L1042.3 790.9M1039.9 783L1038.8 779.4M1050 789.2L1052.7 789.9M1051 800.1L1046.9 802.4M1055 793.7L1059.2 794.1M1059.1 801.2L1053.6 802.8M1061.9 793.6L1064.1 795.1M1062.3 807.4L1058.8 809.2M1061.9 793.6L1062.6 789.9M952 990L950.5 994.1M945.7 991.2L946.2 985M945.7 991.2L943.5 994.2M982.2 981.3L981.1 987.7M975.7 997.3L975.5 992M982.2 981.3L984.2 978.1M993.9 1038L992.8 1042.7M988.8 1042L989 1035.6M988.8 1042L987.3 1045.4" fill="none" stroke="#2b4da6" stroke-width="4" stroke-linecap="butt"/>
<path d="M986.4 728.6L983.7 727.8M992.3 715.9L996.4 713.8M994.9 736.9L993 734.7M1000.3 722.5L1003.5 721.2M995.7 745.8L993.5 744.2M1002.1 732.4L1005.7 730.8M1001.5 753.7L999.6 751.9M1010 741.6L1013.9 740.5M1010.1 754.3L1008.8 752M1020.8 743.8L1024.6 743.6M1010.2 762.1L1008.7 759.9M1021.9 753.4L1026.1 753.5M1018.5 769.5L1019 766.1M1031.3 761.1L1033.7 762.5M1021.4 775.8L1023 771.8M1033.9 768.6L1035.3 771M1027.6 774.7L1029.3 771.3M1041.7 769.4L1043.3 771.6M1036 786.4L1039.9 783M1048.5 785.3L1047.6 788.5M1046 793.5L1050 789.2M1053.3 795.4L1051 800.1M1050.3 796.7L1055 793.7M1061.2 797.9L1059.1 801.2M1058.5 798L1061.9 793.6M1064.2 802L1062.3 807.4M951.3 984L952 990M947.4 994.7L945.7 991.2M980.8 979L982.2 981.3M977.8 995.7L975.7 997.3M993.2 1032.4L993.9 1038M990.3 1044.7L988.8 1042" fill="none" stroke="#2b4da6" stroke-width="4" stroke-linecap="butt"/>
<path d="M980.8 730.1L977.9 732.5M996.3 753.6L993 755.4M1015.3 765.9L1011.6 765.7M1038.8 779.4L1037.7 775.8M1062.6 789.9L1063.3 786.2M943.5 994.2L941.2 997.1M984.2 978.1L986.3 975M987.3 1045.4L985.7 1048.8" fill="none" stroke="#e9e9e4" stroke-width="4" stroke-linecap="butt"/>
<path d="M986 722.9L988.3 718.1M996.6 717.3L996.9 720.8M995.1 729.3L997.1 723.8M1003.4 725.9L1003.3 730.6M996 739.1L998.4 734M1005.5 735L1005.3 739.1M1002.8 747.2L1006.1 742.6M1013.1 744.5L1012.3 748.4M1012.8 748L1016.9 744M1022.9 747.6L1021.2 751.5M1013.1 756.6L1017.6 753.2M1024.3 756.9L1022.5 760.3M1023.9 762.9L1028.8 759.7M1030.3 766.6L1027 770.7M1027.8 769L1032.6 766.3M1031.3 775.1L1027.3 779.3M1034.7 769.3L1040.1 767.3M1038.9 774.9L1034.5 778.3M1044.7 782.6L1049.5 782.1M1042.3 790.9L1036.9 793.3M1052.7 789.9L1055.5 790.6M1046.9 802.4L1042.7 804.6M1059.2 794.1L1063.4 794.6M1053.6 802.8L1048.1 804.4M1064.1 795.1L1066.2 796.7M1058.8 809.2L1055.4 811M950.5 994.1L949 998.2M946.2 985L946.7 978.7M981.1 987.7L980 994M975.5 992L975.2 986.7M992.8 1042.7L991.7 1047.5M989 1035.6L989.2 1029.2" fill="none" stroke="#cfcfec" stroke-width="4" stroke-linecap="butt"/>
<g fill="#2b4da6"><circle cx="983.7" cy="727.8" r="2"/><circle cx="983.7" cy="727.8" r="2"/><circle cx="996.4" cy="713.8" r="2"/><circle cx="996.4" cy="713.8" r="2"/><circle cx="983.7" cy="727.8" r="2"/><circle cx="993" cy="734.7" r="2"/><circle cx="993" cy="734.7" r="2"/><circle cx="1003.5" cy="721.2" r="2"/><circle cx="1003.5" cy="721.2" r="2"/><circle cx="993.5" cy="744.2" r="2"/><circle cx="993.5" cy="744.2" r="2"/><circle cx="1005.7" cy="730.8" r="2"/><circle cx="1005.7" cy="730.8" r="2"/><circle cx="999.6" cy="751.9" r="2"/><circle cx="999.6" cy="751.9" r="2"/><circle cx="1013.9" cy="740.5" r="2"/><circle cx="1013.9" cy="740.5" r="2"/><circle cx="999.6" cy="751.9" r="2"/><circle cx="1008.8" cy="752" r="2"/><circle cx="1008.8" cy="752" r="2"/><circle cx="1024.6" cy="743.6" r="2"/><circle cx="1024.6" cy="743.6" r="2"/><circle cx="1008.7" cy="759.9" r="2"/><circle cx="1008.7" cy="759.9" r="2"/><circle cx="1026.1" cy="753.5" r="2"/><circle cx="1026.1" cy="753.5" r="2"/><circle cx="1019" cy="766.1" r="2"/><circle cx="1019" cy="766.1" r="2"/><circle cx="1033.7" cy="762.5" r="2"/><circle cx="1033.7" cy="762.5" r="2"/><circle cx="1019" cy="766.1" r="2"/><circle cx="1023" cy="771.8" r="2"/><circle cx="1023" cy="771.8" r="2"/><circle cx="1035.3" cy="771" r="2"/><circle cx="1035.3" cy="771" r="2"/><circle cx="1029.3" cy="771.3" r="2"/><circle cx="1029.3" cy="771.3" r="2"/><circle cx="1043.3" cy="771.6" r="2"/><circle cx="1043.3" cy="771.6" r="2"/><circle cx="1039.9" cy="783" r="2"/><circle cx="1039.9" cy="783" r="2"/><circle cx="1047.6" cy="788.5" r="2"/><circle cx="1047.6" cy="788.5" r="2"/><circle cx="1039.9" cy="783" r="2"/><circle cx="1050" cy="789.2" r="2"/><circle cx="1050" cy="789.2" r="2"/><circle cx="1051" cy="800.1" r="2"/><circle cx="1051" cy="800.1" r="2"/><circle cx="1055" cy="793.7" r="2"/><circle cx="1055" cy="793.7" r="2"/><circle cx="1059.1" cy="801.2" r="2"/><circle cx="1059.1" cy="801.2" r="2"/><circle cx="1061.9" cy="793.6" r="2"/><circle cx="1061.9" cy="793.6" r="2"/><circle cx="1062.3" cy="807.4" r="2"/><circle cx="1062.3" cy="807.4" r="2"/><circle cx="1061.9" cy="793.6" r="2"/><circle cx="952" cy="990" r="2"/><circle cx="952" cy="990" r="2"/><circle cx="945.7" cy="991.2" r="2"/><circle cx="945.7" cy="991.2" r="2"/><circle cx="945.7" cy="991.2" r="2"/><circle cx="982.2" cy="981.3" r="2"/><circle cx="982.2" cy="981.3" r="2"/><circle cx="975.7" cy="997.3" r="2"/><circle cx="975.7" cy="997.3" r="2"/><circle cx="982.2" cy="981.3" r="2"/><circle cx="993.9" cy="1038" r="2"/><circle cx="993.9" cy="1038" r="2"/><circle cx="988.8" cy="1042" r="2"/><circle cx="988.8" cy="1042" r="2"/><circle cx="988.8" cy="1042" r="2"/></g>
<g fill="#e9e9e4"><circle cx="977.9" cy="732.5" r="2"/><circle cx="993" cy="755.4" r="2"/><circle cx="1011.6" cy="765.7" r="2"/><circle cx="1037.7" cy="775.8" r="2"/><circle cx="1063.3" cy="786.2" r="2"/><circle cx="941.2" cy="997.1" r="2"/><circle cx="986.3" cy="975" r="2"/><circle cx="985.7" cy="1048.8" r="2"/></g>
</g>
<g>
<path d="M1365.7 890.9L1421.6 988.8L1424.6 987L1429.6 1011.8L1410.7 995L1413.8 993.2L1357.8 895.3 Z" fill="#9f9fc0" stroke="#55556a" stroke-width="0.8" stroke-linejoin="round"/><path d="M1365.7 888.9L1421.6 986.8L1424.6 985L1429.6 1009.8L1410.7 993L1413.8 991.2L1357.8 893.3 Z" fill="#cdcdea" stroke="#55556a" stroke-width="0.8" stroke-linejoin="round"/>
<g fill="#8f8fa6"><circle cx="1536.6" cy="873.3" r="21"/><circle cx="1466.1" cy="745.5" r="21"/><circle cx="1387.2" cy="717.5" r="21"/><circle cx="1524.1" cy="910.8" r="21"/><circle cx="1516.7" cy="731.5" r="21"/><circle cx="1510.8" cy="881.7" r="21"/><circle cx="1370.1" cy="874.3" r="21"/><circle cx="1343.3" cy="826.2" r="21"/><circle cx="1519.3" cy="944" r="21"/><circle cx="1608.6" cy="816.2" r="21"/><circle cx="1411.4" cy="796.4" r="21"/><circle cx="1389.9" cy="829.9" r="21"/><circle cx="1550.5" cy="844.8" r="21"/><circle cx="1411.4" cy="911.8" r="21"/><circle cx="1525.7" cy="854.3" r="21"/><circle cx="1539.6" cy="645.7" r="21"/><circle cx="1509.5" cy="816.5" r="21"/><circle cx="1475.1" cy="953.3" r="21"/><circle cx="1453.5" cy="823.9" r="21"/><circle cx="1411.4" cy="887" r="21"/><circle cx="1456.9" cy="782.8" r="21"/><circle cx="1449.3" cy="1000" r="21"/><circle cx="1429.3" cy="923.1" r="21"/><circle cx="1396.4" cy="777.4" r="21"/><circle cx="1342.9" cy="787.1" r="21"/><circle cx="1523.3" cy="689.4" r="21"/><circle cx="1496.7" cy="959.9" r="21"/><circle cx="1565.9" cy="798.4" r="21"/><circle cx="1570.4" cy="861.9" r="21"/><circle cx="1549.9" cy="951.6" r="21"/><circle cx="1466" cy="1037.8" r="21"/><circle cx="1543.3" cy="791.5" r="21"/><circle cx="1369.7" cy="801.6" r="21"/><circle cx="1612.3" cy="777" r="21"/><circle cx="1583.5" cy="888.8" r="21"/><circle cx="1576.8" cy="771.9" r="21"/><circle cx="1470.1" cy="1010.1" r="21"/><circle cx="1545.7" cy="896.7" r="21"/><circle cx="1324.5" cy="797.6" r="21"/><circle cx="1356.5" cy="769.9" r="21"/><circle cx="1451.2" cy="690.5" r="21"/><circle cx="1450.9" cy="761.2" r="21"/><circle cx="1540.1" cy="720.1" r="21"/><circle cx="1367.6" cy="831.6" r="21"/><circle cx="1416.1" cy="702.3" r="21"/><circle cx="1371.9" cy="735.5" r="21"/><circle cx="1488" cy="758.4" r="21"/><circle cx="1568.9" cy="832.4" r="21"/><circle cx="1458.7" cy="710.2" r="21"/><circle cx="1501.5" cy="855.3" r="21"/><circle cx="1427.9" cy="759.8" r="21"/><circle cx="1428.2" cy="810.2" r="21"/><circle cx="1351.9" cy="742.8" r="21"/><circle cx="1430.6" cy="839.9" r="21"/><circle cx="1440.9" cy="860.5" r="21"/><circle cx="1506.8" cy="707.5" r="21"/><circle cx="1563.8" cy="722.8" r="21"/><circle cx="1578.8" cy="739.6" r="21"/><circle cx="1447.6" cy="943.5" r="21"/><circle cx="1599.8" cy="835.4" r="21"/><circle cx="1391.1" cy="892.8" r="21"/><circle cx="1399.9" cy="737.3" r="21"/><circle cx="1437.4" cy="709" r="21"/><circle cx="1409" cy="840.2" r="21"/><circle cx="1463.3" cy="869.7" r="21"/><circle cx="1387" cy="757.9" r="21"/><circle cx="1417.9" cy="726.4" r="21"/><circle cx="1545" cy="928.5" r="21"/><circle cx="1495.6" cy="733.1" r="21"/><circle cx="1488.5" cy="679.1" r="21"/><circle cx="1424.1" cy="945.2" r="21"/><circle cx="1488.3" cy="880.4" r="21"/><circle cx="1558.7" cy="691.5" r="21"/><circle cx="1558" cy="878.9" r="21"/><circle cx="1542.5" cy="821.7" r="21"/><circle cx="1559.3" cy="661.4" r="21"/><circle cx="1491.7" cy="931.2" r="21"/><circle cx="1479.6" cy="975.1" r="21"/><circle cx="1538.5" cy="667.2" r="21"/><circle cx="1513.7" cy="783.9" r="21"/><circle cx="1466.4" cy="932" r="21"/><circle cx="1490.6" cy="901.3" r="21"/><circle cx="1471.4" cy="805.7" r="21"/><circle cx="1543.8" cy="764.3" r="21"/><circle cx="1569.2" cy="910.5" r="21"/><circle cx="1432.9" cy="893.7" r="21"/><circle cx="1495.8" cy="989.9" r="21"/><circle cx="1435.6" cy="787.4" r="21"/><circle cx="1419" cy="866.2" r="21"/><circle cx="1601.6" cy="795.7" r="21"/><circle cx="1475.1" cy="695.6" r="21"/><circle cx="1390.9" cy="807.2" r="21"/><circle cx="1450.1" cy="976.4" r="21"/><circle cx="1330.3" cy="748.8" r="21"/><circle cx="1557.5" cy="747.6" r="21"/><circle cx="1486.1" cy="787" r="21"/><circle cx="1587.2" cy="818.2" r="21"/><circle cx="1526.1" cy="966.7" r="21"/><circle cx="1461.8" cy="847" r="21"/><circle cx="1605.1" cy="755.6" r="21"/><circle cx="1442.5" cy="733.4" r="21"/><circle cx="1513.4" cy="757.9" r="21"/><circle cx="1374.5" cy="851.5" r="21"/><circle cx="1453.3" cy="905.4" r="21"/><circle cx="1592.6" cy="858.6" r="21"/><circle cx="1482" cy="717" r="21"/><circle cx="1390.4" cy="868" r="21"/><circle cx="1484.8" cy="838.5" r="21"/><circle cx="1313.4" cy="778.9" r="21"/></g>
<g class="v"><circle cx="1536.6" cy="873.3" r="19.3"/><circle cx="1466.1" cy="745.5" r="19.3"/><circle cx="1387.2" cy="717.5" r="19.3"/><circle cx="1524.1" cy="910.8" r="19.3"/><circle cx="1516.7" cy="731.5" r="19.3"/><circle cx="1510.8" cy="881.7" r="19.3"/><circle cx="1370.1" cy="874.3" r="19.3"/><circle cx="1343.3" cy="826.2" r="19.3"/><circle cx="1519.3" cy="944" r="19.3"/><circle cx="1608.6" cy="816.2" r="19.3"/><circle cx="1411.4" cy="796.4" r="19.3"/><circle cx="1389.9" cy="829.9" r="19.3"/><circle cx="1550.5" cy="844.8" r="19.3"/><circle cx="1411.4" cy="911.8" r="19.3"/><circle cx="1525.7" cy="854.3" r="19.3"/><circle cx="1539.6" cy="645.7" r="19.3"/><circle cx="1509.5" cy="816.5" r="19.3"/><circle cx="1475.1" cy="953.3" r="19.3"/><circle cx="1453.5" cy="823.9" r="19.3"/><circle cx="1411.4" cy="887" r="19.3"/><circle cx="1456.9" cy="782.8" r="19.3"/><circle cx="1449.3" cy="1000" r="19.3"/><circle cx="1429.3" cy="923.1" r="19.3"/><circle cx="1396.4" cy="777.4" r="19.3"/><circle cx="1342.9" cy="787.1" r="19.3"/><circle cx="1523.3" cy="689.4" r="19.3"/><circle cx="1496.7" cy="959.9" r="19.3"/><circle cx="1565.9" cy="798.4" r="19.3"/><circle cx="1570.4" cy="861.9" r="19.3"/><circle cx="1549.9" cy="951.6" r="19.3"/><circle cx="1466" cy="1037.8" r="19.3"/><circle cx="1543.3" cy="791.5" r="19.3"/><circle cx="1369.7" cy="801.6" r="19.3"/><circle cx="1612.3" cy="777" r="19.3"/><circle cx="1583.5" cy="888.8" r="19.3"/><circle cx="1576.8" cy="771.9" r="19.3"/><circle cx="1470.1" cy="1010.1" r="19.3"/><circle cx="1545.7" cy="896.7" r="19.3"/><circle cx="1324.5" cy="797.6" r="19.3"/><circle cx="1356.5" cy="769.9" r="19.3"/><circle cx="1451.2" cy="690.5" r="19.3"/><circle cx="1450.9" cy="761.2" r="19.3"/><circle cx="1540.1" cy="720.1" r="19.3"/><circle cx="1367.6" cy="831.6" r="19.3"/><circle cx="1416.1" cy="702.3" r="19.3"/><circle cx="1371.9" cy="735.5" r="19.3"/><circle cx="1488" cy="758.4" r="19.3"/><circle cx="1568.9" cy="832.4" r="19.3"/><circle cx="1458.7" cy="710.2" r="19.3"/><circle cx="1501.5" cy="855.3" r="19.3"/><circle cx="1427.9" cy="759.8" r="19.3"/><circle cx="1428.2" cy="810.2" r="19.3"/><circle cx="1351.9" cy="742.8" r="19.3"/><circle cx="1430.6" cy="839.9" r="19.3"/><circle cx="1440.9" cy="860.5" r="19.3"/><circle cx="1506.8" cy="707.5" r="19.3"/><circle cx="1563.8" cy="722.8" r="19.3"/><circle cx="1578.8" cy="739.6" r="19.3"/><circle cx="1447.6" cy="943.5" r="19.3"/><circle cx="1599.8" cy="835.4" r="19.3"/><circle cx="1391.1" cy="892.8" r="19.3"/><circle cx="1399.9" cy="737.3" r="19.3"/><circle cx="1437.4" cy="709" r="19.3"/><circle cx="1409" cy="840.2" r="19.3"/><circle cx="1463.3" cy="869.7" r="19.3"/><circle cx="1387" cy="757.9" r="19.3"/><circle cx="1417.9" cy="726.4" r="19.3"/><circle cx="1545" cy="928.5" r="19.3"/><circle cx="1495.6" cy="733.1" r="19.3"/><circle cx="1488.5" cy="679.1" r="19.3"/><circle cx="1424.1" cy="945.2" r="19.3"/><circle cx="1488.3" cy="880.4" r="19.3"/><circle cx="1558.7" cy="691.5" r="19.3"/><circle cx="1558" cy="878.9" r="19.3"/><circle cx="1542.5" cy="821.7" r="19.3"/><circle cx="1559.3" cy="661.4" r="19.3"/><circle cx="1491.7" cy="931.2" r="19.3"/><circle cx="1479.6" cy="975.1" r="19.3"/><circle cx="1538.5" cy="667.2" r="19.3"/><circle cx="1513.7" cy="783.9" r="19.3"/><circle cx="1466.4" cy="932" r="19.3"/><circle cx="1490.6" cy="901.3" r="19.3"/><circle cx="1471.4" cy="805.7" r="19.3"/><circle cx="1543.8" cy="764.3" r="19.3"/><circle cx="1569.2" cy="910.5" r="19.3"/><circle cx="1432.9" cy="893.7" r="19.3"/><circle cx="1495.8" cy="989.9" r="19.3"/><circle cx="1435.6" cy="787.4" r="19.3"/><circle cx="1419" cy="866.2" r="19.3"/><circle cx="1601.6" cy="795.7" r="19.3"/><circle cx="1475.1" cy="695.6" r="19.3"/><circle cx="1390.9" cy="807.2" r="19.3"/><circle cx="1450.1" cy="976.4" r="19.3"/><circle cx="1330.3" cy="748.8" r="19.3"/><circle cx="1557.5" cy="747.6" r="19.3"/><circle cx="1486.1" cy="787" r="19.3"/><circle cx="1587.2" cy="818.2" r="19.3"/><circle cx="1526.1" cy="966.7" r="19.3"/><circle cx="1461.8" cy="847" r="19.3"/><circle cx="1605.1" cy="755.6" r="19.3"/><circle cx="1442.5" cy="733.4" r="19.3"/><circle cx="1513.4" cy="757.9" r="19.3"/><circle cx="1374.5" cy="851.5" r="19.3"/><circle cx="1453.3" cy="905.4" r="19.3"/><circle cx="1592.6" cy="858.6" r="19.3"/><circle cx="1482" cy="717" r="19.3"/><circle cx="1390.4" cy="868" r="19.3"/><circle cx="1484.8" cy="838.5" r="19.3"/><circle cx="1313.4" cy="778.9" r="19.3"/></g><g class="w"><circle cx="1521.1" cy="956.7" r="14.6"/><circle cx="1477.8" cy="922.1" r="14.6"/><circle cx="1478.8" cy="871.8" r="14.6"/><circle cx="1550.4" cy="728.1" r="14.6"/><circle cx="1458" cy="937.5" r="14.6"/><circle cx="1533.8" cy="697.7" r="14.6"/><circle cx="1557" cy="922.7" r="14.6"/><circle cx="1587.9" cy="802.4" r="14.6"/><circle cx="1490.5" cy="954.2" r="14.6"/><circle cx="1497.2" cy="884.1" r="14.6"/><circle cx="1529.1" cy="840.4" r="14.6"/><circle cx="1435.8" cy="905" r="14.6"/><circle cx="1484.1" cy="985.1" r="14.6"/><circle cx="1298.4" cy="782.2" r="14.6"/><circle cx="1391" cy="770.2" r="14.6"/><circle cx="1551.1" cy="868.9" r="14.6"/><circle cx="1449.3" cy="715.4" r="14.6"/><circle cx="1488.9" cy="696.8" r="14.6"/><circle cx="1378.6" cy="808" r="14.6"/><circle cx="1412.9" cy="899.2" r="14.6"/><circle cx="1396.9" cy="794" r="14.6"/><circle cx="1344.4" cy="769.8" r="14.6"/><circle cx="1382.5" cy="871.2" r="14.6"/><circle cx="1563.3" cy="875" r="14.6"/><circle cx="1320.7" cy="769.9" r="14.6"/><circle cx="1530" cy="861.5" r="14.6"/><circle cx="1319.9" cy="741.5" r="14.6"/><circle cx="1441.7" cy="798.7" r="14.6"/><circle cx="1437.2" cy="696.2" r="14.6"/><circle cx="1574.2" cy="846.6" r="14.6"/><circle cx="1570.9" cy="689.8" r="14.6"/><circle cx="1465.4" cy="962.8" r="14.6"/><circle cx="1453" cy="929.3" r="14.6"/><circle cx="1499" cy="973.3" r="14.6"/><circle cx="1423.9" cy="852.8" r="14.6"/><circle cx="1571.4" cy="659.4" r="14.6"/><circle cx="1539.6" cy="914.6" r="14.6"/><circle cx="1421.8" cy="889.2" r="14.6"/><circle cx="1339.2" cy="800.7" r="14.6"/><circle cx="1610.4" cy="784.3" r="14.6"/><circle cx="1551" cy="938.7" r="14.6"/><circle cx="1486.5" cy="944.8" r="14.6"/><circle cx="1466.9" cy="942.3" r="14.6"/><circle cx="1515.1" cy="859.7" r="14.6"/><circle cx="1416.9" cy="804.4" r="14.6"/><circle cx="1442.3" cy="759.8" r="14.6"/><circle cx="1390.6" cy="791.9" r="14.6"/><circle cx="1435" cy="940.4" r="14.6"/><circle cx="1552" cy="736.4" r="14.6"/><circle cx="1506.8" cy="986.1" r="14.6"/><circle cx="1358.8" cy="731.4" r="14.6"/><circle cx="1400.5" cy="852.7" r="14.6"/><circle cx="1456.6" cy="836.5" r="14.6"/><circle cx="1407.6" cy="827.1" r="14.6"/><circle cx="1528.6" cy="718.1" r="14.6"/><circle cx="1596.7" cy="824" r="14.6"/><circle cx="1561.6" cy="853.8" r="14.6"/><circle cx="1365.8" cy="888.5" r="14.6"/><circle cx="1435.5" cy="772.1" r="14.6"/><circle cx="1493.7" cy="979.5" r="14.6"/><circle cx="1600" cy="770.3" r="14.6"/><circle cx="1483.9" cy="850.8" r="14.6"/><circle cx="1398.3" cy="749.3" r="14.6"/><circle cx="1553.8" cy="937.1" r="14.6"/><circle cx="1319.5" cy="790.3" r="14.6"/><circle cx="1427.1" cy="699" r="14.6"/><circle cx="1463.9" cy="692.7" r="14.6"/><circle cx="1427.8" cy="857.5" r="14.6"/><circle cx="1473.5" cy="712.8" r="14.6"/><circle cx="1534.5" cy="866.9" r="14.6"/><circle cx="1410.2" cy="899.7" r="14.6"/><circle cx="1514.6" cy="681.7" r="14.6"/><circle cx="1365.4" cy="777.3" r="14.6"/><circle cx="1350" cy="837.8" r="14.6"/><circle cx="1477" cy="795.2" r="14.6"/><circle cx="1345.9" cy="813.1" r="14.6"/><circle cx="1331.5" cy="784.2" r="14.6"/><circle cx="1596.3" cy="885.5" r="14.6"/><circle cx="1410.3" cy="778.3" r="14.6"/><circle cx="1492.6" cy="667.2" r="14.6"/><circle cx="1614.5" cy="827.6" r="14.6"/><circle cx="1504.5" cy="843.8" r="14.6"/><circle cx="1431.9" cy="728.6" r="14.6"/><circle cx="1563.1" cy="774.8" r="14.6"/><circle cx="1489.5" cy="704.9" r="14.6"/><circle cx="1458.8" cy="984.6" r="14.6"/><circle cx="1479.2" cy="684.6" r="14.6"/><circle cx="1504" cy="695" r="14.6"/><circle cx="1477.4" cy="871.1" r="14.6"/><circle cx="1438.4" cy="823.2" r="14.6"/><circle cx="1590.3" cy="740.6" r="14.6"/><circle cx="1506.1" cy="948.7" r="14.6"/><circle cx="1501" cy="887" r="14.6"/><circle cx="1438.5" cy="950" r="14.6"/><circle cx="1446.7" cy="891.5" r="14.6"/><circle cx="1323.1" cy="759.2" r="14.6"/><circle cx="1462.6" cy="1004.6" r="14.6"/><circle cx="1518.5" cy="872" r="14.6"/><circle cx="1383.6" cy="744.7" r="14.6"/><circle cx="1454.1" cy="740.2" r="14.6"/><circle cx="1378.9" cy="899.7" r="14.6"/><circle cx="1463.8" cy="895.6" r="14.6"/><circle cx="1387.2" cy="851.2" r="14.6"/><circle cx="1548.7" cy="633.4" r="14.6"/><circle cx="1574.1" cy="818" r="14.6"/><circle cx="1411.6" cy="952.9" r="14.6"/><circle cx="1478.8" cy="748.7" r="14.6"/><circle cx="1497.2" cy="688.5" r="14.6"/><circle cx="1478.6" cy="892.2" r="14.6"/><circle cx="1364.1" cy="750.4" r="14.6"/><circle cx="1478.3" cy="690.2" r="14.6"/><circle cx="1499.1" cy="945.3" r="14.6"/><circle cx="1536.7" cy="946.7" r="14.6"/><circle cx="1400" cy="820.4" r="14.6"/><circle cx="1542.4" cy="887.6" r="14.6"/><circle cx="1448.3" cy="868.1" r="14.6"/><circle cx="1357.4" cy="729.5" r="14.6"/><circle cx="1624.3" cy="786.7" r="14.6"/><circle cx="1383.8" cy="783.4" r="14.6"/><circle cx="1413" cy="808.3" r="14.6"/><circle cx="1573" cy="752.2" r="14.6"/><circle cx="1507.8" cy="864.9" r="14.6"/><circle cx="1440.8" cy="910.8" r="14.6"/><circle cx="1512.1" cy="909.8" r="14.6"/><circle cx="1338" cy="737.7" r="14.6"/><circle cx="1442.4" cy="929.7" r="14.6"/><circle cx="1568.2" cy="849.5" r="14.6"/><circle cx="1417.6" cy="934.8" r="14.6"/><circle cx="1416.6" cy="842.3" r="14.6"/><circle cx="1600.4" cy="803.9" r="14.6"/><circle cx="1478" cy="776.2" r="14.6"/><circle cx="1379.9" cy="769.6" r="14.6"/><circle cx="1501.7" cy="757.6" r="14.6"/><circle cx="1357.9" cy="869.1" r="14.6"/><circle cx="1604.4" cy="769.9" r="14.6"/><circle cx="1463" cy="760.5" r="14.6"/><circle cx="1580.5" cy="803.5" r="14.6"/><circle cx="1609.2" cy="843.5" r="14.6"/><circle cx="1470.4" cy="856.5" r="14.6"/><circle cx="1548.4" cy="654" r="14.6"/><circle cx="1445.2" cy="710" r="14.6"/><circle cx="1489.2" cy="886.3" r="14.6"/><circle cx="1548.8" cy="698.8" r="14.6"/><circle cx="1457.6" cy="749.2" r="14.6"/><circle cx="1545.2" cy="778" r="14.6"/><circle cx="1565.7" cy="895.5" r="14.6"/><circle cx="1523.3" cy="818.6" r="14.6"/><circle cx="1605.3" cy="863.7" r="14.6"/><circle cx="1436" cy="948.9" r="14.6"/><circle cx="1382.1" cy="834.4" r="14.6"/><circle cx="1400.4" cy="814" r="14.6"/><circle cx="1424.1" cy="790.2" r="14.6"/><circle cx="1564.3" cy="955.3" r="14.6"/><circle cx="1469.5" cy="792.9" r="14.6"/><circle cx="1317.7" cy="809.4" r="14.6"/><circle cx="1515.5" cy="919.8" r="14.6"/><circle cx="1499.2" cy="943.5" r="14.6"/><circle cx="1391.8" cy="906.4" r="14.6"/><circle cx="1554.4" cy="760.1" r="14.6"/><circle cx="1396.9" cy="724.5" r="14.6"/><circle cx="1401.8" cy="707.2" r="14.6"/><circle cx="1525.9" cy="791.7" r="14.6"/><circle cx="1476.1" cy="905.3" r="14.6"/><circle cx="1361.3" cy="810.5" r="14.6"/><circle cx="1391.2" cy="880.8" r="14.6"/><circle cx="1537.2" cy="658.7" r="14.6"/><circle cx="1502.4" cy="904.2" r="14.6"/><circle cx="1584" cy="913" r="14.6"/><circle cx="1413.1" cy="782.9" r="14.6"/><circle cx="1540.5" cy="750.5" r="14.6"/><circle cx="1605.9" cy="828.4" r="14.6"/><circle cx="1454" cy="743.7" r="14.6"/><circle cx="1583.3" cy="806.9" r="14.6"/><circle cx="1522.6" cy="877.7" r="14.6"/><circle cx="1462.9" cy="683.9" r="14.6"/><circle cx="1498.1" cy="810.3" r="14.6"/><circle cx="1555.1" cy="678.2" r="14.6"/><circle cx="1440" cy="849.7" r="14.6"/><circle cx="1422.8" cy="880.8" r="14.6"/><circle cx="1478.9" cy="765.7" r="14.6"/><circle cx="1613.4" cy="803.4" r="14.6"/><circle cx="1337.7" cy="741.3" r="14.6"/><circle cx="1512.1" cy="964.6" r="14.6"/><circle cx="1572.6" cy="873.9" r="14.6"/><circle cx="1438.7" cy="914.6" r="14.6"/><circle cx="1488.1" cy="962.3" r="14.6"/><circle cx="1452" cy="957.1" r="14.6"/><circle cx="1501" cy="778.8" r="14.6"/><circle cx="1418.2" cy="847.4" r="14.6"/><circle cx="1361.3" cy="848.8" r="14.6"/><circle cx="1528.3" cy="761.1" r="14.6"/><circle cx="1544.7" cy="965.7" r="14.6"/><circle cx="1542.2" cy="834.5" r="14.6"/><circle cx="1445.9" cy="696.5" r="14.6"/><circle cx="1451.8" cy="870" r="14.6"/><circle cx="1452" cy="1032.3" r="14.6"/><circle cx="1420.4" cy="931.2" r="14.6"/><circle cx="1487.5" cy="850.6" r="14.6"/><circle cx="1548.2" cy="871.1" r="14.6"/><circle cx="1489.9" cy="1001.3" r="14.6"/><circle cx="1403.1" cy="862.9" r="14.6"/><circle cx="1525.9" cy="931.7" r="14.6"/><circle cx="1544.6" cy="806.6" r="14.6"/><circle cx="1380.2" cy="876" r="14.6"/><circle cx="1463" cy="1050.1" r="14.6"/><circle cx="1581.5" cy="866.2" r="14.6"/><circle cx="1471.1" cy="734.4" r="14.6"/><circle cx="1486.1" cy="919" r="14.6"/><circle cx="1384.1" cy="743.9" r="14.6"/><circle cx="1448.9" cy="963.1" r="14.6"/><circle cx="1597.3" cy="811.6" r="14.6"/><circle cx="1427.9" cy="744.4" r="14.6"/><circle cx="1499.7" cy="754.6" r="14.6"/><circle cx="1500.2" cy="746.4" r="14.6"/><circle cx="1310.4" cy="796.9" r="14.6"/><circle cx="1330.7" cy="783.5" r="14.6"/><circle cx="1410.5" cy="875.3" r="14.6"/><circle cx="1538.8" cy="910.6" r="14.6"/><circle cx="1536.5" cy="915.4" r="14.6"/><circle cx="1532.7" cy="979.9" r="14.6"/><circle cx="1478.3" cy="672.9" r="14.6"/><circle cx="1525.3" cy="741.8" r="14.6"/><circle cx="1356.9" cy="787.3" r="14.6"/><circle cx="1431.9" cy="719.5" r="14.6"/><circle cx="1403.5" cy="891.5" r="14.6"/><circle cx="1540.7" cy="834.9" r="14.6"/><circle cx="1605.2" cy="742.2" r="14.6"/><circle cx="1440.8" cy="808.7" r="14.6"/><circle cx="1568.9" cy="750.4" r="14.6"/><circle cx="1416.4" cy="764.1" r="14.6"/><circle cx="1355.9" cy="826.5" r="14.6"/><circle cx="1448.4" cy="772.9" r="14.6"/><circle cx="1402.6" cy="749.7" r="14.6"/><circle cx="1583" cy="758.5" r="14.6"/><circle cx="1468.2" cy="717.9" r="14.6"/><circle cx="1455.2" cy="927.7" r="14.6"/><circle cx="1490.7" cy="975.9" r="14.6"/><circle cx="1441.9" cy="771.2" r="14.6"/><circle cx="1469.6" cy="984.3" r="14.6"/><circle cx="1511.5" cy="829.3" r="14.6"/><circle cx="1412" cy="691.4" r="14.6"/><circle cx="1512.2" cy="850" r="14.6"/><circle cx="1501.3" cy="891.3" r="14.6"/><circle cx="1498.5" cy="788.2" r="14.6"/><circle cx="1420.3" cy="912.4" r="14.6"/><circle cx="1423.5" cy="796.1" r="14.6"/><circle cx="1558.7" cy="673.2" r="14.6"/><circle cx="1466.4" cy="705.3" r="14.6"/><circle cx="1461.8" cy="999.3" r="14.6"/><circle cx="1552.7" cy="814.1" r="14.6"/><circle cx="1482.8" cy="799.7" r="14.6"/><circle cx="1532" cy="900.7" r="14.6"/><circle cx="1459" cy="800.9" r="14.6"/><circle cx="1508.5" cy="722.7" r="14.6"/><circle cx="1398.8" cy="878.8" r="14.6"/><circle cx="1397.9" cy="915.4" r="14.6"/><circle cx="1590" cy="772.1" r="14.6"/><circle cx="1378.6" cy="789.9" r="14.6"/><circle cx="1529.1" cy="655.6" r="14.6"/><circle cx="1508.3" cy="933.5" r="14.6"/><circle cx="1537.6" cy="962.7" r="14.6"/><circle cx="1522.6" cy="884.5" r="14.6"/><circle cx="1573.1" cy="715.4" r="14.6"/><circle cx="1401.1" cy="715.4" r="14.6"/><circle cx="1422.8" cy="823.5" r="14.6"/><circle cx="1585.7" cy="874.6" r="14.6"/><circle cx="1411.3" cy="713.2" r="14.6"/><circle cx="1458" cy="702.3" r="14.6"/><circle cx="1438.9" cy="685.1" r="14.6"/><circle cx="1385" cy="857" r="14.6"/><circle cx="1468.1" cy="817.2" r="14.6"/><circle cx="1472.4" cy="943" r="14.6"/><circle cx="1578.5" cy="902.3" r="14.6"/><circle cx="1531.7" cy="763.8" r="14.6"/><circle cx="1497.4" cy="831" r="14.6"/><circle cx="1555.1" cy="760.3" r="14.6"/><circle cx="1404.1" cy="730.6" r="14.6"/><circle cx="1553.9" cy="795.2" r="14.6"/><circle cx="1469.6" cy="790.1" r="14.6"/><circle cx="1527.4" cy="819.9" r="14.6"/><circle cx="1337.2" cy="798.3" r="14.6"/><circle cx="1570" cy="817.3" r="14.6"/><circle cx="1588.6" cy="829.8" r="14.6"/><circle cx="1388.6" cy="766.7" r="14.6"/><circle cx="1429.4" cy="732.8" r="14.6"/><circle cx="1376.8" cy="711.4" r="14.6"/><circle cx="1442.3" cy="990" r="14.6"/><circle cx="1559" cy="734.6" r="14.6"/><circle cx="1569.1" cy="889.2" r="14.6"/><circle cx="1510.4" cy="720" r="14.6"/><circle cx="1498.7" cy="720.8" r="14.6"/><circle cx="1420" cy="922.4" r="14.6"/><circle cx="1536.3" cy="777.7" r="14.6"/><circle cx="1557" cy="915.1" r="14.6"/><circle cx="1567.1" cy="731.4" r="14.6"/><circle cx="1426.5" cy="707.7" r="14.6"/><circle cx="1483.9" cy="1005.6" r="14.6"/><circle cx="1584.9" cy="866" r="14.6"/><circle cx="1526.7" cy="646.9" r="14.6"/><circle cx="1448.9" cy="783.8" r="14.6"/><circle cx="1532.3" cy="935.4" r="14.6"/><circle cx="1480.1" cy="1034.3" r="14.6"/><circle cx="1525.1" cy="952.7" r="14.6"/><circle cx="1467.3" cy="1024.1" r="14.6"/><circle cx="1549.4" cy="677" r="14.6"/><circle cx="1551.8" cy="891.4" r="14.6"/><circle cx="1344.8" cy="749.1" r="14.6"/><circle cx="1368.3" cy="861.4" r="14.6"/><circle cx="1471" cy="843.2" r="14.6"/><circle cx="1560.9" cy="838.4" r="14.6"/><circle cx="1364.4" cy="760.3" r="14.6"/><circle cx="1466.9" cy="820.2" r="14.6"/><circle cx="1540.8" cy="853.7" r="14.6"/><circle cx="1380.1" cy="838.2" r="14.6"/><circle cx="1591.9" cy="846.9" r="14.6"/><circle cx="1487.1" cy="729.9" r="14.6"/><circle cx="1555.6" cy="885.8" r="14.6"/></g><g class="u"><circle cx="1466.1" cy="745.5" r="19.3"/><circle cx="1387.2" cy="717.5" r="19.3"/><circle cx="1343.3" cy="826.2" r="19.3"/><circle cx="1608.6" cy="816.2" r="19.3"/><circle cx="1411.4" cy="887" r="19.3"/><circle cx="1456.9" cy="782.8" r="19.3"/><circle cx="1429.3" cy="923.1" r="19.3"/><circle cx="1570.4" cy="861.9" r="19.3"/><circle cx="1549.9" cy="951.6" r="19.3"/><circle cx="1543.3" cy="791.5" r="19.3"/><circle cx="1369.7" cy="801.6" r="19.3"/><circle cx="1356.5" cy="769.9" r="19.3"/><circle cx="1451.2" cy="690.5" r="19.3"/><circle cx="1367.6" cy="831.6" r="19.3"/><circle cx="1416.1" cy="702.3" r="19.3"/><circle cx="1371.9" cy="735.5" r="19.3"/><circle cx="1488" cy="758.4" r="19.3"/><circle cx="1568.9" cy="832.4" r="19.3"/><circle cx="1458.7" cy="710.2" r="19.3"/><circle cx="1427.9" cy="759.8" r="19.3"/><circle cx="1351.9" cy="742.8" r="19.3"/><circle cx="1578.8" cy="739.6" r="19.3"/><circle cx="1409" cy="840.2" r="19.3"/><circle cx="1495.6" cy="733.1" r="19.3"/><circle cx="1424.1" cy="945.2" r="19.3"/><circle cx="1542.5" cy="821.7" r="19.3"/><circle cx="1559.3" cy="661.4" r="19.3"/><circle cx="1538.5" cy="667.2" r="19.3"/><circle cx="1513.7" cy="783.9" r="19.3"/><circle cx="1466.4" cy="932" r="19.3"/><circle cx="1490.6" cy="901.3" r="19.3"/><circle cx="1543.8" cy="764.3" r="19.3"/><circle cx="1569.2" cy="910.5" r="19.3"/><circle cx="1432.9" cy="893.7" r="19.3"/><circle cx="1601.6" cy="795.7" r="19.3"/><circle cx="1475.1" cy="695.6" r="19.3"/><circle cx="1390.9" cy="807.2" r="19.3"/><circle cx="1557.5" cy="747.6" r="19.3"/><circle cx="1587.2" cy="818.2" r="19.3"/><circle cx="1526.1" cy="966.7" r="19.3"/><circle cx="1605.1" cy="755.6" r="19.3"/><circle cx="1442.5" cy="733.4" r="19.3"/></g>
<g class="v"><circle cx="1553.5" cy="765.8" r="19.3"/><circle cx="1460" cy="1032.5" r="19.3"/><circle cx="1552.5" cy="931.9" r="19.3"/><circle cx="1318.4" cy="763" r="19.3"/><circle cx="1489.1" cy="902.5" r="19.3"/><circle cx="1455" cy="925" r="19.3"/><circle cx="1413.7" cy="814.4" r="19.3"/><circle cx="1552.8" cy="865.5" r="19.3"/><circle cx="1517.5" cy="914" r="19.3"/><circle cx="1425.9" cy="940.6" r="19.3"/><circle cx="1494.3" cy="872.2" r="19.3"/><circle cx="1532.9" cy="889.2" r="19.3"/><circle cx="1603.5" cy="751.7" r="19.3"/><circle cx="1389.8" cy="883.7" r="19.3"/><circle cx="1435.5" cy="842.9" r="19.3"/><circle cx="1492.5" cy="978.8" r="19.3"/><circle cx="1538.3" cy="734.6" r="19.3"/><circle cx="1608.1" cy="795.1" r="19.3"/><circle cx="1385.3" cy="854.6" r="19.3"/><circle cx="1374" cy="759.3" r="19.3"/><circle cx="1346.1" cy="799.6" r="19.3"/><circle cx="1369.3" cy="817.8" r="19.3"/><circle cx="1540.2" cy="696.7" r="19.3"/><circle cx="1416.4" cy="865.2" r="19.3"/><circle cx="1423.7" cy="894.9" r="19.3"/><circle cx="1491.5" cy="936.4" r="19.3"/><circle cx="1463.1" cy="975.2" r="19.3"/><circle cx="1548.5" cy="810.9" r="19.3"/><circle cx="1592.5" cy="863.9" r="19.3"/><circle cx="1524.4" cy="953.4" r="19.3"/><circle cx="1351.9" cy="735.7" r="19.3"/><circle cx="1567.3" cy="838.7" r="19.3"/><circle cx="1571.6" cy="893.1" r="19.3"/><circle cx="1577" cy="732.5" r="19.3"/><circle cx="1519.1" cy="671" r="19.3"/><circle cx="1463.6" cy="871.9" r="19.3"/><circle cx="1580.1" cy="780.2" r="19.3"/><circle cx="1398.5" cy="785.1" r="19.3"/><circle cx="1599" cy="832.6" r="19.3"/><circle cx="1558.7" cy="663.9" r="19.3"/><circle cx="1534.4" cy="840.9" r="19.3"/><circle cx="1473.4" cy="1003" r="19.3"/></g><g class="w"><circle cx="1475.5" cy="931.5" r="14.6"/><circle cx="1543.3" cy="714.1" r="14.6"/><circle cx="1551.1" cy="685.4" r="14.6"/><circle cx="1551.9" cy="745.5" r="14.6"/><circle cx="1440.8" cy="935.7" r="14.6"/><circle cx="1526.5" cy="925.3" r="14.6"/><circle cx="1483.4" cy="950.1" r="14.6"/><circle cx="1345.7" cy="783.9" r="14.6"/><circle cx="1543.4" cy="877.3" r="14.6"/><circle cx="1400.2" cy="767.7" r="14.6"/><circle cx="1545.5" cy="658.6" r="14.6"/><circle cx="1566.4" cy="721.1" r="14.6"/><circle cx="1474.8" cy="908.8" r="14.6"/><circle cx="1377.5" cy="892.1" r="14.6"/><circle cx="1530.5" cy="872.2" r="14.6"/><circle cx="1616.4" cy="829.7" r="14.6"/><circle cx="1467.7" cy="932.2" r="14.6"/><circle cx="1443.3" cy="859.1" r="14.6"/><circle cx="1315" cy="777.3" r="14.6"/><circle cx="1553.7" cy="794.3" r="14.6"/><circle cx="1409.3" cy="900.6" r="14.6"/><circle cx="1524" cy="699.2" r="14.6"/><circle cx="1419.3" cy="848.7" r="14.6"/><circle cx="1448" cy="1023" r="14.6"/><circle cx="1413.1" cy="928.1" r="14.6"/><circle cx="1443.1" cy="830.3" r="14.6"/><circle cx="1524.3" cy="744.3" r="14.6"/><circle cx="1551.5" cy="826.5" r="14.6"/><circle cx="1392.1" cy="866.8" r="14.6"/><circle cx="1593.2" cy="818.2" r="14.6"/><circle cx="1589.2" cy="794.8" r="14.6"/><circle cx="1479" cy="971" r="14.6"/><circle cx="1488.9" cy="887.8" r="14.6"/><circle cx="1586.2" cy="721.5" r="14.6"/><circle cx="1303" cy="755.8" r="14.6"/><circle cx="1577.9" cy="748.1" r="14.6"/><circle cx="1423.7" cy="804" r="14.6"/><circle cx="1562.9" cy="881.3" r="14.6"/><circle cx="1601.5" cy="810.4" r="14.6"/><circle cx="1354" cy="721.5" r="14.6"/><circle cx="1507.7" cy="866.9" r="14.6"/><circle cx="1375.8" cy="833.1" r="14.6"/><circle cx="1563.3" cy="921.4" r="14.6"/><circle cx="1615.6" cy="780.4" r="14.6"/><circle cx="1431.7" cy="870.8" r="14.6"/><circle cx="1552.5" cy="847.6" r="14.6"/><circle cx="1604.7" cy="734.3" r="14.6"/><circle cx="1504.5" cy="902.2" r="14.6"/><circle cx="1570.1" cy="653.3" r="14.6"/><circle cx="1358.2" cy="805.1" r="14.6"/><circle cx="1539" cy="944.5" r="14.6"/><circle cx="1481.6" cy="879.9" r="14.6"/><circle cx="1466" cy="957.9" r="14.6"/><circle cx="1474.7" cy="1025.1" r="14.6"/><circle cx="1453.4" cy="989.7" r="14.6"/><circle cx="1385.1" cy="817.4" r="14.6"/><circle cx="1404.4" cy="856.7" r="14.6"/><circle cx="1505.5" cy="967.7" r="14.6"/><circle cx="1570" cy="766.7" r="14.6"/><circle cx="1489.1" cy="1002.1" r="14.6"/><circle cx="1544.1" cy="751.3" r="14.6"/><circle cx="1355.7" cy="812.1" r="14.6"/><circle cx="1335.5" cy="763" r="14.6"/><circle cx="1535.1" cy="934.8" r="14.6"/><circle cx="1403.1" cy="893.8" r="14.6"/><circle cx="1375.5" cy="869.6" r="14.6"/><circle cx="1477" cy="985.4" r="14.6"/><circle cx="1509.2" cy="961.6" r="14.6"/><circle cx="1423.4" cy="828.2" r="14.6"/><circle cx="1619" cy="759" r="14.6"/><circle cx="1425" cy="957.3" r="14.6"/><circle cx="1540.2" cy="903" r="14.6"/><circle cx="1603.6" cy="851.2" r="14.6"/><circle cx="1520.7" cy="900.3" r="14.6"/><circle cx="1581.9" cy="837" r="14.6"/><circle cx="1539.4" cy="857.7" r="14.6"/><circle cx="1501.3" cy="921.8" r="14.6"/><circle cx="1447.3" cy="878" r="14.6"/><circle cx="1460.7" cy="857.4" r="14.6"/><circle cx="1546.1" cy="721.5" r="14.6"/><circle cx="1398" cy="805.9" r="14.6"/><circle cx="1566.7" cy="679.6" r="14.6"/><circle cx="1437.5" cy="885.4" r="14.6"/><circle cx="1538.7" cy="855.4" r="14.6"/><circle cx="1437.4" cy="927.5" r="14.6"/><circle cx="1586.8" cy="842.4" r="14.6"/><circle cx="1528.3" cy="682.7" r="14.6"/><circle cx="1403.5" cy="802.3" r="14.6"/><circle cx="1542.5" cy="778.5" r="14.6"/><circle cx="1582.4" cy="850.1" r="14.6"/><circle cx="1505.9" cy="666.2" r="14.6"/><circle cx="1499.8" cy="991.8" r="14.6"/><circle cx="1457.3" cy="1003.8" r="14.6"/><circle cx="1520.6" cy="831.5" r="14.6"/><circle cx="1457.6" cy="1049.5" r="14.6"/><circle cx="1566.9" cy="870.7" r="14.6"/><circle cx="1359.7" cy="756.3" r="14.6"/><circle cx="1589.4" cy="753.1" r="14.6"/><circle cx="1387.2" cy="766.3" r="14.6"/><circle cx="1392.6" cy="840.6" r="14.6"/><circle cx="1506.2" cy="928.9" r="14.6"/><circle cx="1477.5" cy="881.5" r="14.6"/><circle cx="1583.7" cy="903.7" r="14.6"/><circle cx="1351.8" cy="752.2" r="14.6"/><circle cx="1597.8" cy="880.8" r="14.6"/><circle cx="1564.7" cy="771.2" r="14.6"/></g><g class="u"><circle cx="1489.1" cy="902.5" r="19.3"/><circle cx="1455" cy="925" r="19.3"/><circle cx="1413.7" cy="814.4" r="19.3"/><circle cx="1552.8" cy="865.5" r="19.3"/><circle cx="1425.9" cy="940.6" r="19.3"/><circle cx="1532.9" cy="889.2" r="19.3"/><circle cx="1603.5" cy="751.7" r="19.3"/><circle cx="1389.8" cy="883.7" r="19.3"/><circle cx="1435.5" cy="842.9" r="19.3"/><circle cx="1592.5" cy="863.9" r="19.3"/><circle cx="1351.9" cy="735.7" r="19.3"/><circle cx="1567.3" cy="838.7" r="19.3"/><circle cx="1571.6" cy="893.1" r="19.3"/><circle cx="1577" cy="732.5" r="19.3"/><circle cx="1398.5" cy="785.1" r="19.3"/><circle cx="1534.4" cy="840.9" r="19.3"/></g>
<path d="M1441.8 683L1473.6 668.7L1472 665.3L1497.4 663.3L1479 680.8L1477.4 677.4L1445.7 691.6 Z" fill="#9f9fc0" stroke="#55556a" stroke-width="0.8" stroke-linejoin="round"/><path d="M1441.8 680.5L1473.6 666.2L1472 662.8L1497.4 660.8L1479 678.3L1477.4 674.9L1445.7 689.1 Z" fill="#cdcdea" stroke="#55556a" stroke-width="0.8" stroke-linejoin="round"/><path d="M1495.6 661.6Q1514.4 653.1 1528.5 662.2" fill="none" stroke="#55556a" stroke-width="5" stroke-linecap="round"/><path d="M1495.6 661.6Q1514.4 653.1 1528.5 662.2" fill="none" stroke="#cdcdea" stroke-width="3.6" stroke-linecap="round"/>
<path d="M1417.7 702.4L1484.3 694L1483.9 690.3L1508.7 695.8L1486 707.2L1485.5 703.5L1418.9 711.8 Z" fill="#9f9fc0" stroke="#55556a" stroke-width="0.8" stroke-linejoin="round"/><path d="M1417.7 699.9L1484.3 691.5L1483.9 687.8L1508.7 693.3L1486 704.7L1485.5 701L1418.9 709.3 Z" fill="#cdcdea" stroke="#55556a" stroke-width="0.8" stroke-linejoin="round"/><path d="M1506.7 693.5Q1525.5 691.2 1537 698.9" fill="none" stroke="#55556a" stroke-width="5" stroke-linecap="round"/><path d="M1506.7 693.5Q1525.5 691.2 1537 698.9" fill="none" stroke="#cdcdea" stroke-width="3.6" stroke-linecap="round"/>
<path d="M1387.4 716.5L1487.8 721L1488 717.3L1511.5 726.9L1487.2 734.3L1487.4 730.5L1387 726 Z" fill="#9f9fc0" stroke="#55556a" stroke-width="0.8" stroke-linejoin="round"/><path d="M1387.4 714L1487.8 718.5L1488 714.8L1511.5 724.4L1487.2 731.8L1487.4 728L1387 723.5 Z" fill="#cdcdea" stroke="#55556a" stroke-width="0.8" stroke-linejoin="round"/><path d="M1509.5 724.3Q1528.5 725.1 1539.8 735.7" fill="none" stroke="#55556a" stroke-width="5" stroke-linecap="round"/><path d="M1509.5 724.3Q1528.5 725.1 1539.8 735.7" fill="none" stroke="#cdcdea" stroke-width="3.6" stroke-linecap="round"/>
<path d="M1396.6 730.7L1491.7 748.8L1492.4 745.1L1514.4 758L1489.2 761.8L1489.9 758.1L1394.8 740 Z" fill="#9f9fc0" stroke="#55556a" stroke-width="0.8" stroke-linejoin="round"/><path d="M1396.6 728.2L1491.7 746.3L1492.4 742.6L1514.4 755.5L1489.2 759.3L1489.9 755.6L1394.8 737.5 Z" fill="#cdcdea" stroke="#55556a" stroke-width="0.8" stroke-linejoin="round"/><path d="M1512.4 755.1Q1529.4 758.3 1539.8 766.8" fill="none" stroke="#55556a" stroke-width="5" stroke-linecap="round"/><path d="M1512.4 755.1Q1529.4 758.3 1539.8 766.8" fill="none" stroke="#cdcdea" stroke-width="3.6" stroke-linecap="round"/>
<path d="M1408.6 750.7L1496.2 782.1L1497.5 778.6L1517.2 794.7L1491.7 794.6L1493 791.1L1405.4 759.6 Z" fill="#9f9fc0" stroke="#55556a" stroke-width="0.8" stroke-linejoin="round"/><path d="M1408.6 748.2L1496.2 779.6L1497.5 776.1L1517.2 792.2L1491.7 792.1L1493 788.6L1405.4 757.1 Z" fill="#cdcdea" stroke="#55556a" stroke-width="0.8" stroke-linejoin="round"/><path d="M1515.3 791.5Q1531.6 797.4 1542.6 809.2" fill="none" stroke="#55556a" stroke-width="5" stroke-linecap="round"/><path d="M1515.3 791.5Q1531.6 797.4 1542.6 809.2" fill="none" stroke="#cdcdea" stroke-width="3.6" stroke-linecap="round"/>
<path d="M1420.3 773.4L1500.4 811.2L1502 807.8L1520 825.8L1494.7 823.2L1496.3 819.8L1416.2 782 Z" fill="#9f9fc0" stroke="#55556a" stroke-width="0.8" stroke-linejoin="round"/><path d="M1420.3 770.9L1500.4 808.7L1502 805.3L1520 823.3L1494.7 820.7L1496.3 817.3L1416.2 779.5 Z" fill="#cdcdea" stroke="#55556a" stroke-width="0.8" stroke-linejoin="round"/><path d="M1518.2 822.4Q1527.7 826.9 1534.2 845.9" fill="none" stroke="#55556a" stroke-width="5" stroke-linecap="round"/><path d="M1518.2 822.4Q1527.7 826.9 1534.2 845.9" fill="none" stroke="#cdcdea" stroke-width="3.6" stroke-linecap="round"/>
<path d="M1432 796.3L1504.8 840.4L1506.7 837.2L1522.9 856.9L1497.9 851.7L1499.9 848.5L1427.1 804.4 Z" fill="#9f9fc0" stroke="#55556a" stroke-width="0.8" stroke-linejoin="round"/><path d="M1432 793.8L1504.8 837.9L1506.7 834.7L1522.9 854.4L1497.9 849.2L1499.9 846L1427.1 801.9 Z" fill="#cdcdea" stroke="#55556a" stroke-width="0.8" stroke-linejoin="round"/><path d="M1521.1 853.3Q1527.2 857 1531.3 877" fill="none" stroke="#55556a" stroke-width="5" stroke-linecap="round"/><path d="M1521.1 853.3Q1527.2 857 1531.3 877" fill="none" stroke="#cdcdea" stroke-width="3.6" stroke-linecap="round"/>
<path d="M1446.7 819.3L1504.4 866.3L1506.8 863.4L1520 885.1L1496.1 876.6L1498.4 873.7L1440.7 826.6 Z" fill="#9f9fc0" stroke="#55556a" stroke-width="0.8" stroke-linejoin="round"/><path d="M1446.7 816.8L1504.4 863.8L1506.8 860.9L1520 882.6L1496.1 874.1L1498.4 871.2L1440.7 824.1 Z" fill="#cdcdea" stroke="#55556a" stroke-width="0.8" stroke-linejoin="round"/><path d="M1518.5 881.4Q1524 885.9 1528.5 908.1" fill="none" stroke="#55556a" stroke-width="5" stroke-linecap="round"/><path d="M1518.5 881.4Q1524 885.9 1528.5 908.1" fill="none" stroke="#cdcdea" stroke-width="3.6" stroke-linecap="round"/>
<g class="v"><circle cx="1537.7" cy="826.5" r="19.3"/><circle cx="1525.6" cy="959.5" r="19.3"/><circle cx="1336.8" cy="806.2" r="19.3"/><circle cx="1400.8" cy="880" r="19.3"/><circle cx="1560" cy="774.6" r="19.3"/><circle cx="1425.8" cy="952.2" r="19.3"/><circle cx="1427" cy="843.6" r="19.3"/><circle cx="1591.1" cy="871.8" r="19.3"/><circle cx="1557.8" cy="901.4" r="19.3"/><circle cx="1615.8" cy="775" r="19.3"/><circle cx="1466.8" cy="1034.8" r="19.3"/></g><g class="w"><circle cx="1605.5" cy="861" r="14.6"/><circle cx="1482.5" cy="1033.2" r="14.6"/><circle cx="1525.9" cy="943.3" r="14.6"/><circle cx="1532" cy="974.2" r="14.6"/><circle cx="1535.3" cy="812.7" r="14.6"/><circle cx="1512.7" cy="966" r="14.6"/><circle cx="1350.5" cy="817" r="14.6"/><circle cx="1462.8" cy="1050.7" r="14.6"/><circle cx="1390.2" cy="892.7" r="14.6"/><circle cx="1424.8" cy="828.3" r="14.6"/><circle cx="1553.6" cy="831.4" r="14.6"/><circle cx="1555.9" cy="885.6" r="14.6"/><circle cx="1550.6" cy="763" r="14.6"/><circle cx="1530.4" cy="839.5" r="14.6"/><circle cx="1324.8" cy="813.6" r="14.6"/><circle cx="1414.5" cy="883.9" r="14.6"/><circle cx="1614.1" cy="789.6" r="14.6"/><circle cx="1579.4" cy="884.8" r="14.6"/><circle cx="1389.8" cy="870.5" r="14.6"/><circle cx="1453.7" cy="1028.7" r="14.6"/><circle cx="1418.4" cy="968.2" r="14.6"/><circle cx="1333.6" cy="792" r="14.6"/><circle cx="1563.2" cy="788.2" r="14.6"/><circle cx="1570.9" cy="907.7" r="14.6"/><circle cx="1549.9" cy="917.3" r="14.6"/><circle cx="1610.6" cy="758.7" r="14.6"/><circle cx="1438.8" cy="853.3" r="14.6"/><circle cx="1418.6" cy="937" r="14.6"/><circle cx="1441" cy="953.3" r="14.6"/></g><g class="u"><circle cx="1525.6" cy="959.5" r="19.3"/><circle cx="1466.8" cy="1034.8" r="19.3"/></g>
<path d="M1318.1 711.2L1307.2 712M1307.2 712L1305.3 702.5M1305.3 702.5L1315 695.9M1315 695.9L1322.9 701.3M1322.9 701.3L1318.1 711.2M1307.2 712L1302.2 717.6M1315 695.9L1316.1 688.5M1318.1 711.2L1325 721.3M1347.5 695.9L1335.8 695.5M1335.8 695.5L1332.6 684.2M1332.6 684.2L1342.3 677.6M1342.3 677.6L1351.6 684.9M1351.6 684.9L1347.5 695.9M1335.8 695.5L1331.2 701.4M1342.3 677.6L1342.6 670.1M1347.5 695.9L1360.6 715.3M1373.9 699.8L1362.5 696.8M1362.5 696.8L1361.8 685.1M1361.8 685.1L1372.7 680.8M1372.7 680.8L1380.2 689.8M1380.2 689.8L1373.9 699.8M1362.5 696.8L1356.7 701.6M1372.7 680.8L1374.6 673.5M1373.9 699.8L1381 717.8M1409.4 690.4L1397.7 689.6M1397.7 689.6L1394.9 678.2M1394.9 678.2L1404.8 672M1404.8 672L1413.8 679.5M1413.8 679.5L1409.4 690.4M1397.7 689.6L1392.9 695.4M1409.4 690.4L1421.5 709.8M1429.2 691.7L1423 691.8M1423 691.8L1425.9 682.1M1425.9 682.1L1433.9 676.2M1433.9 676.2L1435.9 682.1M1435.9 682.1L1429.2 691.7M1433.9 676.2L1437.3 669.5M1429.2 691.7L1439.3 713.6M1441.8 658.8L1436.4 658.6M1436.4 658.6L1437.2 647.7M1437.2 647.7L1443.1 641.2M1443.1 641.2L1445.9 648M1445.9 648L1441.8 658.8M1436.4 658.6L1432.7 665.1M1443.1 641.2L1444.7 633.9M1441.8 658.8L1451.3 671.6M1405.9 724.6L1396.7 722.1M1396.7 722.1L1397.8 711M1397.8 711L1407.7 706.6M1407.7 706.6L1412.7 715M1412.7 715L1405.9 724.6M1407.7 706.6L1410.4 699.6M1405.9 724.6L1413.8 746M1442.7 713.6L1437.5 711.5M1437.5 711.5L1437 699.9M1437 699.9L1441.8 694.7M1441.8 694.7L1445.4 703.2M1445.4 703.2L1442.7 713.6M1441.8 694.7L1442.6 687.3M1442.7 713.6L1454.6 733.7M1382.3 759.9L1371 758.5M1371 758.5L1370.4 749M1370.4 749L1381.3 744.6M1381.3 744.6L1388.6 751.3M1388.6 751.3L1382.3 759.9M1371 758.5L1365.1 763M1381.3 744.6L1383.5 737.4M1382.3 759.9L1388.4 774.4M1431.4 757.8L1421.4 755.6M1421.4 755.6L1422.7 745.4M1422.7 745.4L1433.5 741.3M1433.5 741.3L1438.9 749M1438.9 749L1431.4 757.8M1421.4 755.6L1415.3 759.9M1431.4 757.8L1436.4 771.8M1469 753.8L1457.3 753M1457.3 753L1454.1 747.8M1454.1 747.8L1463.9 745.3M1463.9 745.3L1473.1 749M1473.1 749L1469 753.8M1457.3 753L1450.6 756.5M1463.9 745.3L1464.6 737.8M1469 753.8L1475.8 769.7M1473.3 777.6L1463.9 777.7M1463.9 777.7L1461.7 766.6M1461.7 766.6L1469.8 759.7M1469.8 759.7L1477 766.4M1477 766.4L1473.3 777.6M1463.9 777.7L1459.8 783.9M1473.3 777.6L1483.8 791.2M1444.9 739.8L1433.8 739.5M1433.8 739.5L1432.5 730.1M1432.5 730.1L1442.8 724.4M1442.8 724.4L1450.5 730.4M1450.5 730.4L1444.9 739.8M1433.8 739.5L1428.3 744.7M1442.8 724.4L1444.4 717.1M1444.9 739.8L1454.9 757.7M1479.8 792.2L1470.2 791.1M1470.2 791.1L1466.9 779.8M1466.9 779.8L1474.6 773.9M1474.6 773.9L1482.5 781.6M1482.5 781.6L1479.8 792.2M1470.2 791.1L1466.2 797.4M1479.8 792.2L1492.3 809.9M1515.7 847.3L1508.3 846M1508.3 846L1501.5 836.7M1501.5 836.7L1504.6 832.3M1504.6 832.3L1513.4 838.9M1513.4 838.9L1515.7 847.3M1508.3 846L1507.9 853.5M1504.6 832.3L1501.2 825.7M1515.7 847.3L1526.6 856.4M1648.4 800.5L1638.8 797.6M1638.8 797.6L1640.8 787.3M1640.8 787.3L1651.6 783.7M1651.6 783.7L1656.4 791.9M1656.4 791.9L1648.4 800.5M1638.8 797.6L1632.5 801.7M1648.4 800.5L1653.5 818.2M1613.9 902.8L1604.5 897.2M1604.5 897.2L1601.4 889M1601.4 889L1608.9 889.6M1608.9 889.6L1616.6 898.2M1616.6 898.2L1613.9 902.8M1608.9 889.6L1608.6 882.1M1613.9 902.8L1615 914.4M1383.3 970.5L1384.1 983.1M1384.1 983.1L1381.3 989.7M1381.3 989.7L1378.9 981.2M1378.9 981.2L1380.1 969.3M1380.1 969.3L1383.3 970.5M1378.9 981.2L1373.3 986.2M1383.3 970.5L1401.3 956.1M1421.7 1017.9L1421 1021.9M1421 1021.9L1408.7 1024.9M1408.7 1024.9L1401.8 1022.7M1401.8 1022.7L1409.8 1018.3M1409.8 1018.3L1421.7 1017.9M1421 1021.9L1428.5 1022.6M1421.7 1017.9L1429.6 1007M1434.3 1009.5L1442 1008.2M1442 1008.2L1440.4 1016.9M1440.4 1016.9L1431.6 1023.7M1431.6 1023.7L1427.9 1019.1M1427.9 1019.1L1434.3 1009.5M1442 1008.2L1447.1 1002.6M1434.3 1009.5L1426.8 998.5" fill="none" stroke="#3e3e50" stroke-width="5" stroke-linecap="round"/>
<path d="M1318.1 711.2L1312.7 711.6M1305.3 702.5L1310.1 699.2M1322.9 701.3L1318.1 711.2M1318.1 711.2L1325 721.3M1347.5 695.9L1341.7 695.7M1332.6 684.2L1337.5 680.9M1351.6 684.9L1347.5 695.9M1347.5 695.9L1360.6 715.3M1373.9 699.8L1368.2 698.3M1361.8 685.1L1367.3 682.9M1380.2 689.8L1373.9 699.8M1373.9 699.8L1381 717.8M1409.4 690.4L1403.6 690M1394.9 678.2L1399.9 675.1M1413.8 679.5L1409.4 690.4M1409.4 690.4L1421.5 709.8M1429.2 691.7L1426.1 691.8M1425.9 682.1L1429.9 679.2M1435.9 682.1L1429.2 691.7M1429.2 691.7L1439.3 713.6M1441.8 658.8L1439.1 658.7M1437.2 647.7L1440.1 644.5M1445.9 648L1441.8 658.8M1441.8 658.8L1451.3 671.6M1405.9 724.6L1401.3 723.4M1397.8 711L1402.7 708.8M1412.7 715L1405.9 724.6M1405.9 724.6L1413.8 746M1442.7 713.6L1440.1 712.5M1437 699.9L1439.4 697.3M1445.4 703.2L1442.7 713.6M1442.7 713.6L1454.6 733.7M1382.3 759.9L1376.7 759.2M1370.4 749L1375.8 746.8M1388.6 751.3L1382.3 759.9M1382.3 759.9L1388.4 774.4M1431.4 757.8L1426.4 756.7M1422.7 745.4L1428.1 743.3M1438.9 749L1431.4 757.8M1431.4 757.8L1436.4 771.8M1469 753.8L1463.2 753.4M1454.1 747.8L1459 746.5M1473.1 749L1469 753.8M1469 753.8L1475.8 769.7M1473.3 777.6L1468.6 777.6M1461.7 766.6L1465.8 763.1M1477 766.4L1473.3 777.6M1473.3 777.6L1483.8 791.2M1444.9 739.8L1439.3 739.6M1432.5 730.1L1437.6 727.2M1450.5 730.4L1444.9 739.8M1444.9 739.8L1454.9 757.7M1479.8 792.2L1475 791.6M1466.9 779.8L1470.7 776.9M1482.5 781.6L1479.8 792.2M1479.8 792.2L1492.3 809.9M1515.7 847.3L1512 846.6M1501.5 836.7L1503 834.5M1513.4 838.9L1515.7 847.3M1515.7 847.3L1526.6 856.4M1648.4 800.5L1643.6 799M1640.8 787.3L1646.2 785.5M1656.4 791.9L1648.4 800.5M1648.4 800.5L1653.5 818.2M1613.9 902.8L1609.2 900M1601.4 889L1605.1 889.3M1616.6 898.2L1613.9 902.8M1613.9 902.8L1615 914.4M1383.3 970.5L1383.7 976.8M1381.3 989.7L1380.1 985.4M1380.1 969.3L1383.3 970.5M1383.3 970.5L1401.3 956.1M1421.7 1017.9L1421.4 1019.9M1408.7 1024.9L1405.3 1023.8M1409.8 1018.3L1421.7 1017.9M1421.7 1017.9L1429.6 1007M1434.3 1009.5L1438.1 1008.8M1440.4 1016.9L1436 1020.3M1427.9 1019.1L1434.3 1009.5M1434.3 1009.5L1426.8 998.5" fill="none" stroke="#cfcfec" stroke-width="4" stroke-linecap="round"/>
<path d="M1307.2 712L1306.2 707.2M1315 695.9L1319 698.6M1307.2 712L1304.7 714.8M1315 695.9L1315.5 692.2M1335.8 695.5L1334.2 689.8M1342.3 677.6L1347 681.3M1335.8 695.5L1333.5 698.4M1342.3 677.6L1342.5 673.9M1362.5 696.8L1362.2 690.9M1372.7 680.8L1376.5 685.3M1362.5 696.8L1359.6 699.2M1372.7 680.8L1373.7 677.1M1397.7 689.6L1396.3 683.9M1404.8 672L1409.3 675.8M1397.7 689.6L1395.3 692.5M1423 691.8L1424.5 687M1433.9 676.2L1434.9 679.2M1433.9 676.2L1435.6 672.8M1436.4 658.6L1436.8 653.2M1443.1 641.2L1444.5 644.6M1436.4 658.6L1434.5 661.9M1443.1 641.2L1443.9 637.5M1396.7 722.1L1397.2 716.6M1407.7 706.6L1410.2 710.8M1407.7 706.6L1409 703.1M1437.5 711.5L1437.3 705.7M1441.8 694.7L1443.6 699M1441.8 694.7L1442.2 691M1371 758.5L1370.7 753.7M1381.3 744.6L1384.9 747.9M1371 758.5L1368.1 760.7M1381.3 744.6L1382.4 741M1421.4 755.6L1422 750.5M1433.5 741.3L1436.2 745.1M1421.4 755.6L1418.3 757.7M1457.3 753L1455.7 750.4M1463.9 745.3L1468.5 747.2M1457.3 753L1454 754.8M1463.9 745.3L1464.3 741.6M1463.9 777.7L1462.8 772.1M1469.8 759.7L1473.4 763.1M1463.9 777.7L1461.8 780.8M1433.8 739.5L1433.1 734.8M1442.8 724.4L1446.6 727.4M1433.8 739.5L1431.1 742.1M1442.8 724.4L1443.6 720.8M1470.2 791.1L1468.6 785.4M1474.6 773.9L1478.5 777.7M1470.2 791.1L1468.2 794.3M1508.3 846L1504.9 841.3M1504.6 832.3L1509 835.6M1508.3 846L1508.1 849.7M1504.6 832.3L1502.9 829M1638.8 797.6L1639.8 792.4M1651.6 783.7L1654 787.8M1638.8 797.6L1635.7 799.6M1604.5 897.2L1603 893.1M1608.9 889.6L1612.7 893.9M1608.9 889.6L1608.8 885.9M1384.1 983.1L1382.7 986.4M1378.9 981.2L1379.5 975.2M1378.9 981.2L1376.1 983.7M1421 1021.9L1414.9 1023.4M1401.8 1022.7L1405.8 1020.5M1421 1021.9L1424.8 1022.2M1442 1008.2L1441.2 1012.6M1431.6 1023.7L1429.8 1021.4M1442 1008.2L1444.5 1005.4" fill="none" stroke="#2b4da6" stroke-width="4" stroke-linecap="butt"/>
<path d="M1312.7 711.6L1307.2 712M1310.1 699.2L1315 695.9M1341.7 695.7L1335.8 695.5M1337.5 680.9L1342.3 677.6M1368.2 698.3L1362.5 696.8M1367.3 682.9L1372.7 680.8M1403.6 690L1397.7 689.6M1399.9 675.1L1404.8 672M1426.1 691.8L1423 691.8M1429.9 679.2L1433.9 676.2M1439.1 658.7L1436.4 658.6M1440.1 644.5L1443.1 641.2M1401.3 723.4L1396.7 722.1M1402.7 708.8L1407.7 706.6M1440.1 712.5L1437.5 711.5M1439.4 697.3L1441.8 694.7M1376.7 759.2L1371 758.5M1375.8 746.8L1381.3 744.6M1426.4 756.7L1421.4 755.6M1428.1 743.3L1433.5 741.3M1463.2 753.4L1457.3 753M1459 746.5L1463.9 745.3M1468.6 777.6L1463.9 777.7M1465.8 763.1L1469.8 759.7M1439.3 739.6L1433.8 739.5M1437.6 727.2L1442.8 724.4M1475 791.6L1470.2 791.1M1470.7 776.9L1474.6 773.9M1512 846.6L1508.3 846M1503 834.5L1504.6 832.3M1643.6 799L1638.8 797.6M1646.2 785.5L1651.6 783.7M1609.2 900L1604.5 897.2M1605.1 889.3L1608.9 889.6M1383.7 976.8L1384.1 983.1M1380.1 985.4L1378.9 981.2M1421.4 1019.9L1421 1021.9M1405.3 1023.8L1401.8 1022.7M1438.1 1008.8L1442 1008.2M1436 1020.3L1431.6 1023.7" fill="none" stroke="#2b4da6" stroke-width="4" stroke-linecap="butt"/>
<path d="M1304.7 714.8L1302.2 717.6M1315.5 692.2L1316.1 688.5M1333.5 698.4L1331.2 701.4M1342.5 673.9L1342.6 670.1M1359.6 699.2L1356.7 701.6M1373.7 677.1L1374.6 673.5M1395.3 692.5L1392.9 695.4M1435.6 672.8L1437.3 669.5M1434.5 661.9L1432.7 665.1M1443.9 637.5L1444.7 633.9M1409 703.1L1410.4 699.6M1442.2 691L1442.6 687.3M1368.1 760.7L1365.1 763M1382.4 741L1383.5 737.4M1418.3 757.7L1415.3 759.9M1454 754.8L1450.6 756.5M1464.3 741.6L1464.6 737.8M1461.8 780.8L1459.8 783.9M1431.1 742.1L1428.3 744.7M1443.6 720.8L1444.4 717.1M1468.2 794.3L1466.2 797.4M1508.1 849.7L1507.9 853.5M1502.9 829L1501.2 825.7M1635.7 799.6L1632.5 801.7M1608.8 885.9L1608.6 882.1M1376.1 983.7L1373.3 986.2M1424.8 1022.2L1428.5 1022.6M1444.5 1005.4L1447.1 1002.6" fill="none" stroke="#e9e9e4" stroke-width="4" stroke-linecap="butt"/>
<path d="M1306.2 707.2L1305.3 702.5M1319 698.6L1322.9 701.3M1334.2 689.8L1332.6 684.2M1347 681.3L1351.6 684.9M1362.2 690.9L1361.8 685.1M1376.5 685.3L1380.2 689.8M1396.3 683.9L1394.9 678.2M1409.3 675.8L1413.8 679.5M1424.5 687L1425.9 682.1M1434.9 679.2L1435.9 682.1M1436.8 653.2L1437.2 647.7M1444.5 644.6L1445.9 648M1397.2 716.6L1397.8 711M1410.2 710.8L1412.7 715M1437.3 705.7L1437 699.9M1443.6 699L1445.4 703.2M1370.7 753.7L1370.4 749M1384.9 747.9L1388.6 751.3M1422 750.5L1422.7 745.4M1436.2 745.1L1438.9 749M1455.7 750.4L1454.1 747.8M1468.5 747.2L1473.1 749M1462.8 772.1L1461.7 766.6M1473.4 763.1L1477 766.4M1433.1 734.8L1432.5 730.1M1446.6 727.4L1450.5 730.4M1468.6 785.4L1466.9 779.8M1478.5 777.7L1482.5 781.6M1504.9 841.3L1501.5 836.7M1509 835.6L1513.4 838.9M1639.8 792.4L1640.8 787.3M1654 787.8L1656.4 791.9M1603 893.1L1601.4 889M1612.7 893.9L1616.6 898.2M1382.7 986.4L1381.3 989.7M1379.5 975.2L1380.1 969.3M1414.9 1023.4L1408.7 1024.9M1405.8 1020.5L1409.8 1018.3M1441.2 1012.6L1440.4 1016.9M1429.8 1021.4L1427.9 1019.1" fill="none" stroke="#cfcfec" stroke-width="4" stroke-linecap="butt"/>
<g fill="#2b4da6"><circle cx="1307.2" cy="712" r="2"/><circle cx="1307.2" cy="712" r="2"/><circle cx="1315" cy="695.9" r="2"/><circle cx="1315" cy="695.9" r="2"/><circle cx="1307.2" cy="712" r="2"/><circle cx="1315" cy="695.9" r="2"/><circle cx="1335.8" cy="695.5" r="2"/><circle cx="1335.8" cy="695.5" r="2"/><circle cx="1342.3" cy="677.6" r="2"/><circle cx="1342.3" cy="677.6" r="2"/><circle cx="1335.8" cy="695.5" r="2"/><circle cx="1342.3" cy="677.6" r="2"/><circle cx="1362.5" cy="696.8" r="2"/><circle cx="1362.5" cy="696.8" r="2"/><circle cx="1372.7" cy="680.8" r="2"/><circle cx="1372.7" cy="680.8" r="2"/><circle cx="1362.5" cy="696.8" r="2"/><circle cx="1372.7" cy="680.8" r="2"/><circle cx="1397.7" cy="689.6" r="2"/><circle cx="1397.7" cy="689.6" r="2"/><circle cx="1404.8" cy="672" r="2"/><circle cx="1404.8" cy="672" r="2"/><circle cx="1397.7" cy="689.6" r="2"/><circle cx="1423" cy="691.8" r="2"/><circle cx="1423" cy="691.8" r="2"/><circle cx="1433.9" cy="676.2" r="2"/><circle cx="1433.9" cy="676.2" r="2"/><circle cx="1433.9" cy="676.2" r="2"/><circle cx="1436.4" cy="658.6" r="2"/><circle cx="1436.4" cy="658.6" r="2"/><circle cx="1443.1" cy="641.2" r="2"/><circle cx="1443.1" cy="641.2" r="2"/><circle cx="1436.4" cy="658.6" r="2"/><circle cx="1443.1" cy="641.2" r="2"/><circle cx="1396.7" cy="722.1" r="2"/><circle cx="1396.7" cy="722.1" r="2"/><circle cx="1407.7" cy="706.6" r="2"/><circle cx="1407.7" cy="706.6" r="2"/><circle cx="1407.7" cy="706.6" r="2"/><circle cx="1437.5" cy="711.5" r="2"/><circle cx="1437.5" cy="711.5" r="2"/><circle cx="1441.8" cy="694.7" r="2"/><circle cx="1441.8" cy="694.7" r="2"/><circle cx="1441.8" cy="694.7" r="2"/><circle cx="1371" cy="758.5" r="2"/><circle cx="1371" cy="758.5" r="2"/><circle cx="1381.3" cy="744.6" r="2"/><circle cx="1381.3" cy="744.6" r="2"/><circle cx="1371" cy="758.5" r="2"/><circle cx="1381.3" cy="744.6" r="2"/><circle cx="1421.4" cy="755.6" r="2"/><circle cx="1421.4" cy="755.6" r="2"/><circle cx="1433.5" cy="741.3" r="2"/><circle cx="1433.5" cy="741.3" r="2"/><circle cx="1421.4" cy="755.6" r="2"/><circle cx="1457.3" cy="753" r="2"/><circle cx="1457.3" cy="753" r="2"/><circle cx="1463.9" cy="745.3" r="2"/><circle cx="1463.9" cy="745.3" r="2"/><circle cx="1457.3" cy="753" r="2"/><circle cx="1463.9" cy="745.3" r="2"/><circle cx="1463.9" cy="777.7" r="2"/><circle cx="1463.9" cy="777.7" r="2"/><circle cx="1469.8" cy="759.7" r="2"/><circle cx="1469.8" cy="759.7" r="2"/><circle cx="1463.9" cy="777.7" r="2"/><circle cx="1433.8" cy="739.5" r="2"/><circle cx="1433.8" cy="739.5" r="2"/><circle cx="1442.8" cy="724.4" r="2"/><circle cx="1442.8" cy="724.4" r="2"/><circle cx="1433.8" cy="739.5" r="2"/><circle cx="1442.8" cy="724.4" r="2"/><circle cx="1470.2" cy="791.1" r="2"/><circle cx="1470.2" cy="791.1" r="2"/><circle cx="1474.6" cy="773.9" r="2"/><circle cx="1474.6" cy="773.9" r="2"/><circle cx="1470.2" cy="791.1" r="2"/><circle cx="1508.3" cy="846" r="2"/><circle cx="1508.3" cy="846" r="2"/><circle cx="1504.6" cy="832.3" r="2"/><circle cx="1504.6" cy="832.3" r="2"/><circle cx="1508.3" cy="846" r="2"/><circle cx="1504.6" cy="832.3" r="2"/><circle cx="1638.8" cy="797.6" r="2"/><circle cx="1638.8" cy="797.6" r="2"/><circle cx="1651.6" cy="783.7" r="2"/><circle cx="1651.6" cy="783.7" r="2"/><circle cx="1638.8" cy="797.6" r="2"/><circle cx="1604.5" cy="897.2" r="2"/><circle cx="1604.5" cy="897.2" r="2"/><circle cx="1608.9" cy="889.6" r="2"/><circle cx="1608.9" cy="889.6" r="2"/><circle cx="1608.9" cy="889.6" r="2"/><circle cx="1384.1" cy="983.1" r="2"/><circle cx="1384.1" cy="983.1" r="2"/><circle cx="1378.9" cy="981.2" r="2"/><circle cx="1378.9" cy="981.2" r="2"/><circle cx="1378.9" cy="981.2" r="2"/><circle cx="1421" cy="1021.9" r="2"/><circle cx="1421" cy="1021.9" r="2"/><circle cx="1401.8" cy="1022.7" r="2"/><circle cx="1401.8" cy="1022.7" r="2"/><circle cx="1421" cy="1021.9" r="2"/><circle cx="1442" cy="1008.2" r="2"/><circle cx="1442" cy="1008.2" r="2"/><circle cx="1431.6" cy="1023.7" r="2"/><circle cx="1431.6" cy="1023.7" r="2"/><circle cx="1442" cy="1008.2" r="2"/></g>
<g fill="#e9e9e4"><circle cx="1302.2" cy="717.6" r="2"/><circle cx="1316.1" cy="688.5" r="2"/><circle cx="1331.2" cy="701.4" r="2"/><circle cx="1342.6" cy="670.1" r="2"/><circle cx="1356.7" cy="701.6" r="2"/><circle cx="1374.6" cy="673.5" r="2"/><circle cx="1392.9" cy="695.4" r="2"/><circle cx="1437.3" cy="669.5" r="2"/><circle cx="1432.7" cy="665.1" r="2"/><circle cx="1444.7" cy="633.9" r="2"/><circle cx="1410.4" cy="699.6" r="2"/><circle cx="1442.6" cy="687.3" r="2"/><circle cx="1365.1" cy="763" r="2"/><circle cx="1383.5" cy="737.4" r="2"/><circle cx="1415.3" cy="759.9" r="2"/><circle cx="1450.6" cy="756.5" r="2"/><circle cx="1464.6" cy="737.8" r="2"/><circle cx="1459.8" cy="783.9" r="2"/><circle cx="1428.3" cy="744.7" r="2"/><circle cx="1444.4" cy="717.1" r="2"/><circle cx="1466.2" cy="797.4" r="2"/><circle cx="1507.9" cy="853.5" r="2"/><circle cx="1501.2" cy="825.7" r="2"/><circle cx="1632.5" cy="801.7" r="2"/><circle cx="1608.6" cy="882.1" r="2"/><circle cx="1373.3" cy="986.2" r="2"/><circle cx="1428.5" cy="1022.6" r="2"/><circle cx="1447.1" cy="1002.6" r="2"/></g>
</g>
</g>
<text class="m" x="85.9" y="1160">Mode I</text>
<text class="m" x="515.3" y="1160">Mode II</text>
<text class="m" x="950.5" y="1160">Mode III</text>
<text class="m" x="1378.4" y="1160">Mode IV</text>
<text class="m" x="1822.5" y="1160">Mode V</text>
<text class="b" x="0.2" y="1229.8">C</text>
<g id="panelC">
<path d="M384 1235.7V1688.1M587.6 1235.7V1688.1M791.2 1235.7V1688.1M994.8 1235.7V1688.1M1198.4 1235.7V1688.1M1402 1235.7V1688.1M1605.6 1235.7V1688.1M1809.2 1235.7V1688.1M211.9 1282.7H1982.4M211.9 1377.6H1982.4M211.9 1472.5H1982.4M211.9 1567.4H1982.4M211.9 1662.3H1982.4" fill="none" stroke="#cbcbcb" stroke-width="1.1" stroke-dasharray="4.2 1.8"/>
<g fill="#e6e0f0"><rect x="292.4" y="1377.6" width="36.9" height="40.8"/><rect x="496" y="1377.6" width="36.9" height="9"/><rect x="699.6" y="1264.9" width="36.9" height="112.7"/><rect x="903.2" y="1377.6" width="36.9" height="10.4"/><rect x="1106.8" y="1377.6" width="36.9" height="94"/><rect x="1310.4" y="1377.6" width="36.9" height="147.1"/><rect x="1514" y="1377.6" width="36.9" height="12.6"/><rect x="1717.6" y="1377.6" width="36.9" height="200.7"/></g>
<g fill="#d1c1d9"><rect x="329" y="1377.6" width="36.9" height="49.8"/><rect x="532.6" y="1377.6" width="36.9" height="9.7"/><rect x="736.2" y="1367.9" width="36.9" height="9.7"/><rect x="939.8" y="1377.6" width="36.9" height="8.5"/><rect x="1143.4" y="1377.6" width="36.9" height="60.1"/><rect x="1347" y="1377.6" width="36.9" height="24.2"/><rect x="1550.6" y="1377.6" width="36.9" height="10.9"/><rect x="1754.2" y="1377.6" width="36.9" height="153.3"/></g>
<g fill="#c48fbb"><rect x="365.7" y="1377.6" width="36.9" height="46"/><rect x="569.3" y="1377.6" width="36.9" height="9.5"/><rect x="772.9" y="1377.6" width="36.9" height="17.6"/><rect x="976.5" y="1377.6" width="36.9" height="7.1"/><rect x="1180.1" y="1377.6" width="36.9" height="23.7"/><rect x="1383.7" y="1377.6" width="36.9" height="0.5"/><rect x="1587.3" y="1377.6" width="36.9" height="15.2"/><rect x="1790.9" y="1377.6" width="36.9" height="119.6"/></g>
<g fill="#977db3"><rect x="402.3" y="1377.6" width="36.9" height="43.7"/><rect x="605.9" y="1377.6" width="36.9" height="9.3"/><rect x="809.5" y="1346.8" width="36.9" height="30.8"/><rect x="1013.1" y="1377.6" width="36.9" height="6.9"/><rect x="1216.7" y="1377.6" width="36.9" height="66"/><rect x="1420.3" y="1377.6" width="36.9" height="72.1"/><rect x="1623.9" y="1377.6" width="36.9" height="18"/><rect x="1827.5" y="1377.6" width="36.9" height="186"/></g>
<g fill="#6f6aa7"><rect x="439" y="1377.6" width="36.9" height="46.5"/><rect x="642.6" y="1377.6" width="36.9" height="9.3"/><rect x="846.2" y="1271.3" width="36.9" height="106.3"/><rect x="1049.8" y="1377.6" width="36.9" height="4.7"/><rect x="1253.4" y="1377.6" width="36.9" height="74.5"/><rect x="1457" y="1377.6" width="36.9" height="239.1"/><rect x="1660.6" y="1377.6" width="36.9" height="19"/><rect x="1864.2" y="1377.6" width="36.9" height="287.5"/></g>
<path d="M310.7 1417.4V1419.5M514.3 1386.1V1387.1M717.9 1260.1V1269.6M921.5 1387.1V1389M1125.1 1461.1V1482M1328.7 1513.8V1535.6M1532.3 1389V1391.4M1735.9 1570.7V1585.9M347.4 1426.4V1428.5M551 1386.9V1387.8M754.6 1364.6V1371.2M958.1 1385.4V1386.9M1161.8 1432V1443.4M1365.3 1395.6V1408M1568.9 1387.6V1389.5M1772.5 1526.1V1535.6M384 1422.3V1425M587.6 1386.6V1387.6M791.2 1393.7V1396.6M994.8 1384.1V1385.3M1198.4 1400.1V1402.5M1402 1377.7V1378.5M1605.6 1391.6V1394M1809.2 1495.3V1499.1M420.6 1420.2V1422.3M624.2 1386.4V1387.3M827.9 1343.4V1350.1M1031.5 1383.8V1385.2M1235.1 1437.4V1449.7M1438.7 1441.7V1457.8M1642.2 1394.4V1396.8M1845.9 1559.8V1567.4M457.3 1423.1V1425.1M660.9 1386.4V1387.3M864.5 1267V1275.6M1068.1 1381.4V1383.3M1271.7 1439.3V1464.9M1475.3 1601.1V1632.4M1678.9 1395.2V1398M1882.5 1653.8V1676.5" fill="none" stroke="#000" stroke-width="5.6"/>
<rect x="211.9" y="1235.7" width="1770.5" height="452.4" fill="none" stroke="#000" stroke-width="3"/>
<path d="M384 1688.1V1702.7M587.6 1688.1V1702.7M791.2 1688.1V1702.7M994.8 1688.1V1702.7M1198.4 1688.1V1702.7M1402 1688.1V1702.7M1605.6 1688.1V1702.7M1809.2 1688.1V1702.7M211.9 1282.7H196.4M211.9 1377.6H196.4M211.9 1472.5H196.4M211.9 1567.4H196.4M211.9 1662.3H196.4" fill="none" stroke="#000" stroke-width="3"/>
<text class="t" text-anchor="end" x="182.3" y="1296.5">200</text>
<text class="t" text-anchor="end" x="182.3" y="1391.4">0</text>
<text class="t" text-anchor="end" x="182.3" y="1486.3">−200</text>
<text class="t" text-anchor="end" x="182.3" y="1581.2">−400</text>
<text class="t" text-anchor="end" x="182.3" y="1676.1">−600</text>
<text class="t" text-anchor="middle" x="384" y="1744.6">BB-BB</text>
<text class="t" text-anchor="middle" x="587.6" y="1744.6">DI-DI</text>
<text class="t" text-anchor="middle" x="791.2" y="1744.6">WI-WI</text>
<text class="t" text-anchor="middle" x="994.8" y="1744.6">Cross</text>
<text class="t" text-anchor="middle" x="1198.4" y="1744.6">WI-H<tspan font-size="26.8" dy="7.6">2</tspan><tspan dy="-7.6">O</tspan></text>
<text class="t" text-anchor="middle" x="1402" y="1744.6">WI-ions</text>
<text class="t" text-anchor="middle" x="1605.6" y="1744.6">BB-Sol</text>
<text class="t" text-anchor="middle" x="1809.2" y="1744.6">Sum</text>
<text class="t" text-anchor="middle" transform="translate(73.9 1457.8) rotate(-90)">E (kcal/mol/strand)</text>
<rect x="237.8" y="1469.3" width="58.2" height="20.4" fill="#e6e0f0"/>
<text class="l" x="321" y="1489.7">Mode I</text>
<rect x="237.8" y="1511" width="58.2" height="20.4" fill="#d1c1d9"/>
<text class="l" x="321" y="1531.4">Mode II</text>
<rect x="237.8" y="1552.7" width="58.2" height="20.4" fill="#c48fbb"/>
<text class="l" x="321" y="1573.1">Mode III</text>
<rect x="237.8" y="1594.4" width="58.2" height="20.4" fill="#977db3"/>
<text class="l" x="321" y="1614.8">Mode IV</text>
<rect x="237.8" y="1636.1" width="58.2" height="20.4" fill="#6f6aa7"/>
<text class="l" x="321" y="1656.5">Mode V</text>
</g>
</svg></body></html>
